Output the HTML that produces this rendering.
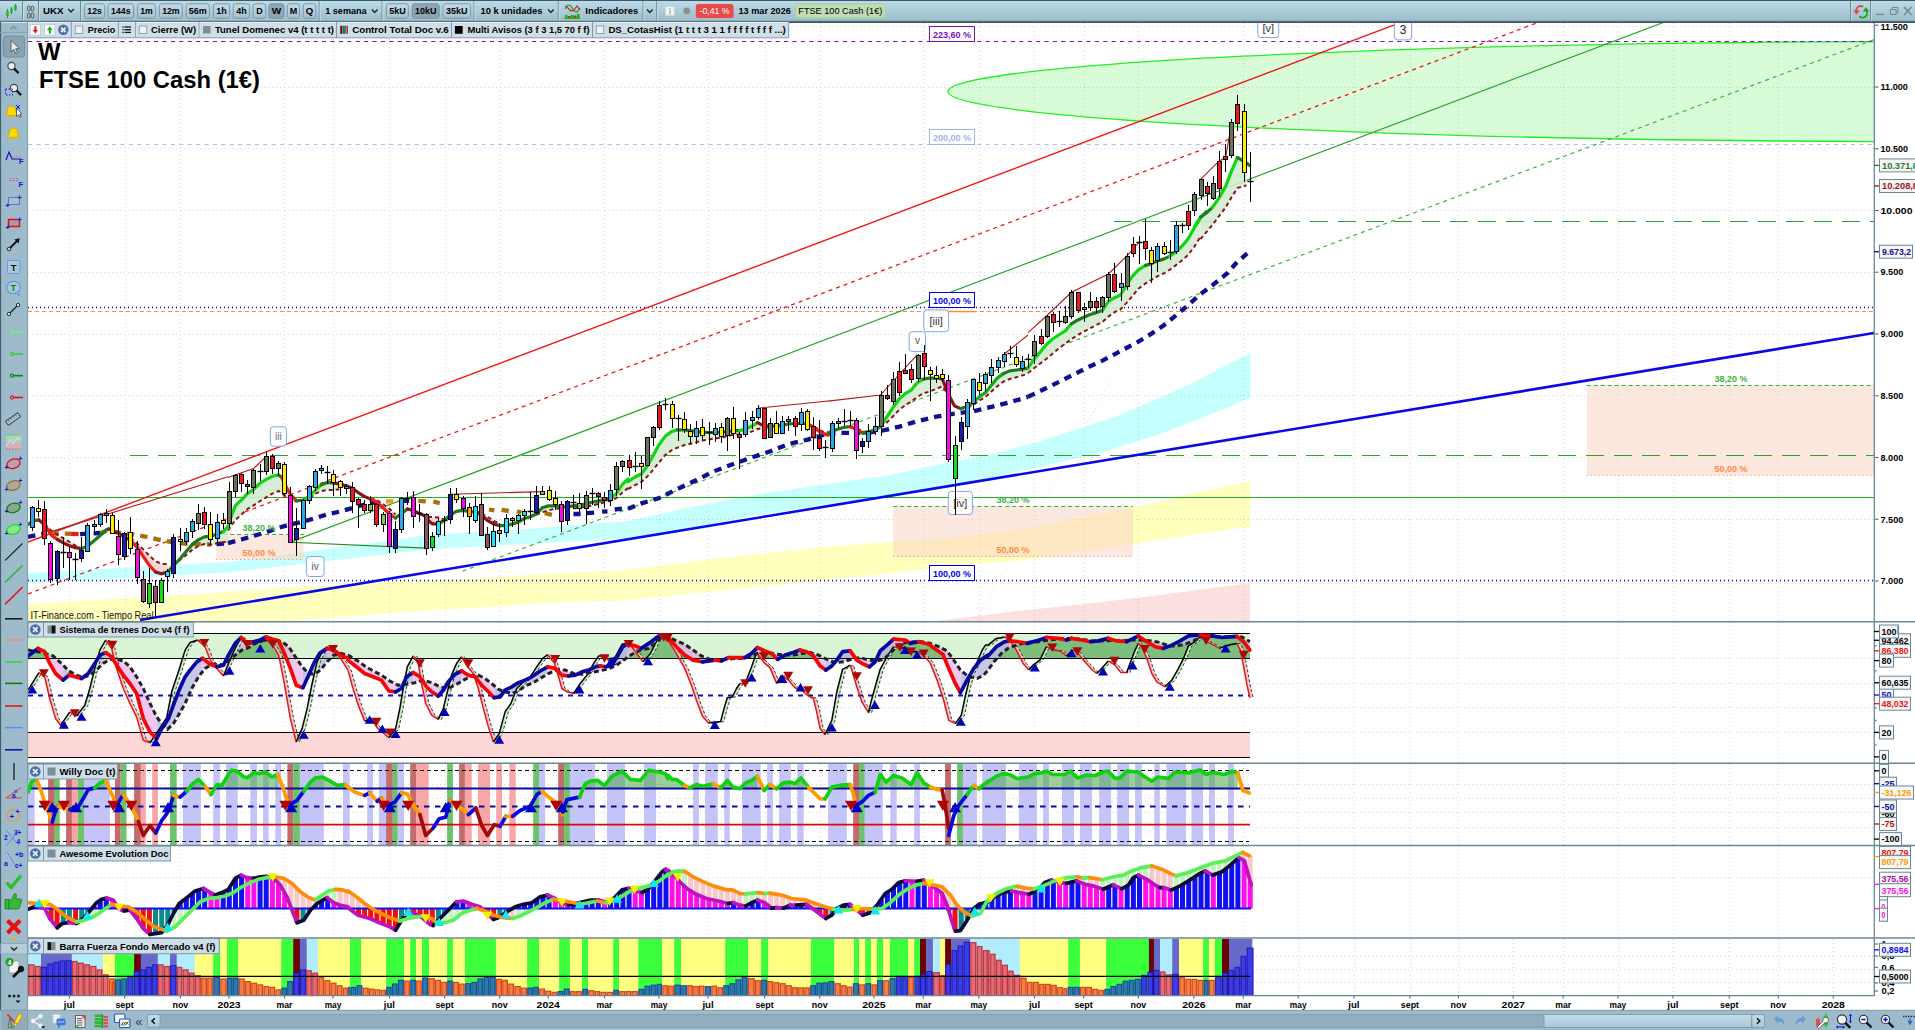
<!DOCTYPE html>
<html lang="es"><head><meta charset="utf-8"><title>FTSE 100 Cash (1€) - W</title>
<style>html,body{margin:0;padding:0;background:#fff;overflow:hidden}body{width:1915px;height:1030px}svg{display:block;font-family:"Liberation Sans",sans-serif}text{white-space:pre}</style></head><body>
<svg width="1915" height="1030" viewBox="0 0 1915 1030">
<defs>
<linearGradient id="gtop" x1="0" y1="0" x2="0" y2="1"><stop offset="0" stop-color="#bddce9"/><stop offset="0.5" stop-color="#aecddb"/><stop offset="1" stop-color="#9ebdca"/></linearGradient>
<linearGradient id="gbtn" x1="0" y1="0" x2="0" y2="1"><stop offset="0" stop-color="#c3dbe7"/><stop offset="1" stop-color="#a4c2d1"/></linearGradient>
<linearGradient id="gthumb" x1="0" y1="0" x2="0" y2="1"><stop offset="0" stop-color="#c6dde9"/><stop offset="1" stop-color="#a9c6d5"/></linearGradient>
<clipPath id="cmain"><rect x="28" y="23" width="1846" height="598.5"/></clipPath>
<clipPath id="cp1"><rect x="28" y="622" width="1846" height="141"/></clipPath>
<clipPath id="cp2"><rect x="28" y="764" width="1846" height="81.5"/></clipPath>
<clipPath id="cp3"><rect x="28" y="846" width="1846" height="92"/></clipPath>
<clipPath id="cp4"><rect x="28" y="938.5" width="1846" height="57"/></clipPath>
</defs>
<rect x="0" y="0" width="1915" height="1030" fill="#ffffff" />
<g clip-path="url(#cmain)">
<polygon points="28,572.9 128,567.5 228,562 328,549 428,535 528,529 628,521 687,508 754,495 821,485 887,475.4 960,460.4 998.8,452.6 1037.7,441.9 1076.5,429.3 1115.3,416.7 1154.2,400.2 1193,382.7 1231.8,362.3 1250.5,353.6 1250.5,397.3 1231.8,406 1193,421.6 1154.2,436.1 1115.3,447.8 1096,454.6 1076.5,458.4 1037.7,467.2 998.8,475.9 960,484.7 887,495.4 821,505.5 754,515.5 687,529 628,538.5 528,544 428,549.6 328,561 228,572.5 128,578 28,582.7" fill="#c0fffe" stroke="none" stroke-width="1" fill-opacity="0.92"/>
<polygon points="28,604 95,600 162,596 229,591.7 295,587 362,583.6 429,580.3 496,577 563,573 620,570.6 687,562.3 754,554.6 821,547.2 887,542.2 960,537.1 998.8,532.2 1037.7,526.4 1076.5,518.6 1154.2,503.1 1193,493.4 1231.8,484.7 1250.5,481.7 1250,527 1222,530.5 1155,540.6 1088,550.6 1021,560.6 954,565.6 887,574 821,580.7 754,587.3 687,594 620,600.7 563,602 496,606.4 429,610.4 362,615.4 295,620.4 28,640" fill="#ffffb8" stroke="none" stroke-width="1" fill-opacity="0.92"/>
<polygon points="927.5,622 1021,610.7 1088,603.4 1155,595.7 1222,586.7 1250,583.3 1250,625 927.5,625" fill="#fcdcdc" stroke="none" stroke-width="1" fill-opacity="0.9"/>
<ellipse cx="1957" cy="91.6" rx="1009" ry="50.1" fill="#d6fcd6" fill-opacity="0.95" stroke="#22ee22" stroke-width="1.3"/>
<line x1="69.5" y1="23" x2="69.5" y2="621.5" stroke="#707070" stroke-width="1" stroke-dasharray="1,3" stroke-opacity="0.27"/>
<line x1="125.5" y1="23" x2="125.5" y2="621.5" stroke="#707070" stroke-width="1" stroke-dasharray="1,3" stroke-opacity="0.27"/>
<line x1="180.5" y1="23" x2="180.5" y2="621.5" stroke="#707070" stroke-width="1" stroke-dasharray="1,3" stroke-opacity="0.27"/>
<line x1="284.5" y1="23" x2="284.5" y2="621.5" stroke="#707070" stroke-width="1" stroke-dasharray="1,3" stroke-opacity="0.27"/>
<line x1="333.5" y1="23" x2="333.5" y2="621.5" stroke="#707070" stroke-width="1" stroke-dasharray="1,3" stroke-opacity="0.27"/>
<line x1="389.5" y1="23" x2="389.5" y2="621.5" stroke="#707070" stroke-width="1" stroke-dasharray="1,3" stroke-opacity="0.27"/>
<line x1="445.5" y1="23" x2="445.5" y2="621.5" stroke="#707070" stroke-width="1" stroke-dasharray="1,3" stroke-opacity="0.27"/>
<line x1="500.5" y1="23" x2="500.5" y2="621.5" stroke="#707070" stroke-width="1" stroke-dasharray="1,3" stroke-opacity="0.27"/>
<line x1="604.5" y1="23" x2="604.5" y2="621.5" stroke="#707070" stroke-width="1" stroke-dasharray="1,3" stroke-opacity="0.27"/>
<line x1="659.5" y1="23" x2="659.5" y2="621.5" stroke="#707070" stroke-width="1" stroke-dasharray="1,3" stroke-opacity="0.27"/>
<line x1="708.5" y1="23" x2="708.5" y2="621.5" stroke="#707070" stroke-width="1" stroke-dasharray="1,3" stroke-opacity="0.27"/>
<line x1="765.5" y1="23" x2="765.5" y2="621.5" stroke="#707070" stroke-width="1" stroke-dasharray="1,3" stroke-opacity="0.27"/>
<line x1="820.5" y1="23" x2="820.5" y2="621.5" stroke="#707070" stroke-width="1" stroke-dasharray="1,3" stroke-opacity="0.27"/>
<line x1="923.5" y1="23" x2="923.5" y2="621.5" stroke="#707070" stroke-width="1" stroke-dasharray="1,3" stroke-opacity="0.27"/>
<line x1="979.5" y1="23" x2="979.5" y2="621.5" stroke="#707070" stroke-width="1" stroke-dasharray="1,3" stroke-opacity="0.27"/>
<line x1="1034.5" y1="23" x2="1034.5" y2="621.5" stroke="#707070" stroke-width="1" stroke-dasharray="1,3" stroke-opacity="0.27"/>
<line x1="1084.5" y1="23" x2="1084.5" y2="621.5" stroke="#707070" stroke-width="1" stroke-dasharray="1,3" stroke-opacity="0.27"/>
<line x1="1138.5" y1="23" x2="1138.5" y2="621.5" stroke="#707070" stroke-width="1" stroke-dasharray="1,3" stroke-opacity="0.27"/>
<line x1="1243.5" y1="23" x2="1243.5" y2="621.5" stroke="#707070" stroke-width="1" stroke-dasharray="1,3" stroke-opacity="0.27"/>
<line x1="1298.5" y1="23" x2="1298.5" y2="621.5" stroke="#707070" stroke-width="1" stroke-dasharray="1,3" stroke-opacity="0.27"/>
<line x1="1354.5" y1="23" x2="1354.5" y2="621.5" stroke="#707070" stroke-width="1" stroke-dasharray="1,3" stroke-opacity="0.27"/>
<line x1="1410.5" y1="23" x2="1410.5" y2="621.5" stroke="#707070" stroke-width="1" stroke-dasharray="1,3" stroke-opacity="0.27"/>
<line x1="1458.5" y1="23" x2="1458.5" y2="621.5" stroke="#707070" stroke-width="1" stroke-dasharray="1,3" stroke-opacity="0.27"/>
<line x1="1563.5" y1="23" x2="1563.5" y2="621.5" stroke="#707070" stroke-width="1" stroke-dasharray="1,3" stroke-opacity="0.27"/>
<line x1="1618.5" y1="23" x2="1618.5" y2="621.5" stroke="#707070" stroke-width="1" stroke-dasharray="1,3" stroke-opacity="0.27"/>
<line x1="1673.5" y1="23" x2="1673.5" y2="621.5" stroke="#707070" stroke-width="1" stroke-dasharray="1,3" stroke-opacity="0.27"/>
<line x1="1729.5" y1="23" x2="1729.5" y2="621.5" stroke="#707070" stroke-width="1" stroke-dasharray="1,3" stroke-opacity="0.27"/>
<line x1="1778.5" y1="23" x2="1778.5" y2="621.5" stroke="#707070" stroke-width="1" stroke-dasharray="1,3" stroke-opacity="0.27"/>
<line x1="28" y1="581.5" x2="1874" y2="581.5" stroke="#707070" stroke-width="1" stroke-dasharray="1,3" stroke-opacity="0.27"/>
<line x1="28" y1="519.5" x2="1874" y2="519.5" stroke="#707070" stroke-width="1" stroke-dasharray="1,3" stroke-opacity="0.27"/>
<line x1="28" y1="457.5" x2="1874" y2="457.5" stroke="#707070" stroke-width="1" stroke-dasharray="1,3" stroke-opacity="0.27"/>
<line x1="28" y1="395.5" x2="1874" y2="395.5" stroke="#707070" stroke-width="1" stroke-dasharray="1,3" stroke-opacity="0.27"/>
<line x1="28" y1="334.5" x2="1874" y2="334.5" stroke="#707070" stroke-width="1" stroke-dasharray="1,3" stroke-opacity="0.27"/>
<line x1="28" y1="272.5" x2="1874" y2="272.5" stroke="#707070" stroke-width="1" stroke-dasharray="1,3" stroke-opacity="0.27"/>
<line x1="28" y1="210.5" x2="1874" y2="210.5" stroke="#707070" stroke-width="1" stroke-dasharray="1,3" stroke-opacity="0.27"/>
<line x1="28" y1="148.5" x2="1874" y2="148.5" stroke="#707070" stroke-width="1" stroke-dasharray="1,3" stroke-opacity="0.27"/>
<line x1="28" y1="87.5" x2="1874" y2="87.5" stroke="#707070" stroke-width="1" stroke-dasharray="1,3" stroke-opacity="0.27"/>
<line x1="28" y1="26.5" x2="1874" y2="26.5" stroke="#707070" stroke-width="1" stroke-dasharray="1,3" stroke-opacity="0.27"/>
<rect x="216.2" y="534.4" width="87.5" height="25.1" fill="#fbd5c5" fill-opacity="0.55"/>
<rect x="893.2" y="506.4" width="239.7" height="50.3" fill="#fbd5c5" fill-opacity="0.55"/>
<rect x="1586.7" y="385.3" width="287.3" height="89.9" fill="#fbd5c5" fill-opacity="0.55"/>
<line x1="216.2" y1="534.5" x2="303.7" y2="534.5" stroke="#2db52d" stroke-width="1" stroke-dasharray="4,3" />
<line x1="216.2" y1="559.5" x2="303.7" y2="559.5" stroke="#ff8040" stroke-width="1" stroke-dasharray="1,3" />
<line x1="893.2" y1="506.5" x2="1132.9" y2="506.5" stroke="#2db52d" stroke-width="1" stroke-dasharray="4,3" />
<line x1="893.2" y1="556.5" x2="1132.9" y2="556.5" stroke="#ff8040" stroke-width="1" stroke-dasharray="1,3" />
<line x1="1586.7" y1="385.5" x2="1874" y2="385.5" stroke="#2db52d" stroke-width="1" stroke-dasharray="4,3" />
<line x1="1586.7" y1="475.5" x2="1874" y2="475.5" stroke="#ff8040" stroke-width="1" stroke-dasharray="1,3" />
<line x1="975.2" y1="621.5" x2="1116" y2="372" stroke="#dedede" stroke-width="1" stroke-dasharray="1,3" />
<line x1="28" y1="41.5" x2="1874" y2="41.5" stroke="#7a0fc0" stroke-width="1.1" stroke-dasharray="4.2,4.2" />
<line x1="28" y1="144.5" x2="1874" y2="144.5" stroke="#a9c1f5" stroke-width="1.1" stroke-dasharray="4.2,4.2" />
<line x1="1114" y1="221.5" x2="1874" y2="221.5" stroke="#2aa52a" stroke-width="1.1" stroke-dasharray="18,10" />
<line x1="28" y1="307.5" x2="1874" y2="307.5" stroke="#0000ee" stroke-width="1.3" stroke-dasharray="1,3" />
<line x1="28" y1="311.5" x2="1874" y2="311.5" stroke="#ff8a3c" stroke-width="1.1" stroke-dasharray="4,3" />
<line x1="130" y1="455.5" x2="1874" y2="455.5" stroke="#2aa52a" stroke-width="1.1" stroke-dasharray="18,10" />
<line x1="28" y1="497.5" x2="1874" y2="497.5" stroke="#22aa22" stroke-width="1.2" />
<line x1="28" y1="580.5" x2="1874" y2="580.5" stroke="#0000ee" stroke-width="1.3" stroke-dasharray="1,3" />
<line x1="929" y1="311.5" x2="975" y2="311.5" stroke="#ff8a3c" stroke-width="1.4" />
<line x1="28" y1="542" x2="1395" y2="24.6" stroke="#f01818" stroke-width="1.4" />
<line x1="28" y1="594" x2="1560" y2="14.1" stroke="#f01818" stroke-width="1.3" stroke-dasharray="4,4" />
<line x1="290.4" y1="542.1" x2="1700" y2="8.6" stroke="#2aa52a" stroke-width="1.2" />
<line x1="462.5" y1="571.2" x2="1874" y2="39.6" stroke="#3cb43c" stroke-width="1.2" stroke-dasharray="4,4" />
<line x1="140" y1="620" x2="1874" y2="333" stroke="#0a0ae6" stroke-width="2.6" />
<polyline points="51.3,531.6 228,476.8" fill="none" stroke="#b01818" stroke-width="1.1" />
<polyline points="228,477.6 253.5,468.6 266.2,456.4" fill="none" stroke="#b01818" stroke-width="1.1" />
<polyline points="450.4,494.3 542.4,491.6" fill="none" stroke="#b01818" stroke-width="1.1" />
<polyline points="757.6,408.2 828,401" fill="none" stroke="#b01818" stroke-width="1.1" />
<polyline points="828,401.1 880.4,395.1 917.4,354.7" fill="none" stroke="#b01818" stroke-width="1.1" />
<polyline points="1003.4,354.7 1028,335" fill="none" stroke="#b01818" stroke-width="1.1" />
<polyline points="1028,332.7 1046.5,316 1071.4,292.3 1108.4,274 1126.4,256.4 1138.4,243" fill="none" stroke="#b01818" stroke-width="1.1" />
<polyline points="1200.6,179.4 1218.6,161.4 1225.6,157.6 1231.7,122.6" fill="none" stroke="#b01818" stroke-width="1.1" />
<polyline points="290.5,542.2 425.5,548.1" fill="none" stroke="#1e8c1e" stroke-width="1.1" />
<polygon points="44.5,524.4 46.1,526.8 47.6,529.2 49.1,531.7 50.7,534.1 52.2,535.8 53.8,536.9 55.3,538 56.8,539.1 58.4,540.1 59.9,541 61.5,541.8 63,542.7 64.5,543.5 66.1,544.3 67.6,545 69.2,545.7 70.7,546.2 72.3,546.7 73.8,547.2 75.3,547.6 76.9,547.9 78.4,548.2 80,548.4 81.5,548.6 81.5,548.4 75.6,545.6 69.7,542 63.9,538.7 57.6,534.8 51.3,530.7 44.5,524" fill="#f9d2d2" stroke="none" stroke-width="1" fill-opacity="0.9"/>
<polygon points="130.5,540.5 132.1,542.1 133.6,543.7 135.2,545.3 136.7,546.9 138.3,548.8 139.8,551.2 141.4,553.5 142.9,555.9 144.4,558.2 146,560.5 147.5,562.7 149.1,565 150.6,566.8 152.2,568.4 153.7,570 155.3,571.6 156.8,572.3 158.4,572.8 159.9,573.3 161.5,573.7 163,573.3 164.6,572.8 166.1,572.4 167.7,572 167.7,563.9 161.4,563.9 155.6,561.2 149.5,555.8 143.4,549.5 137.5,544.1 130.5,537.8" fill="#f9d2d2" stroke="none" stroke-width="1" fill-opacity="0.9"/>
<polygon points="173.4,565.7 175.7,563.3 178,561 180.2,558.7 182.5,556 184.8,553.2 187.1,550.5 189.3,547.9 191.6,545.3 193.9,543.2 196.2,541.5 198.4,539.7 200.7,538.7 203,537.6 205.3,536.8 207.5,536.5 209.8,536.2 212.1,535.6 214.4,534.9 216.6,534.2 218.9,533.3 221.2,532.4 223.5,531.4 225.7,528.8 228,526.2 228,541.4 223.3,542.3 216.5,543.2 210.6,545 204.5,544.1 198.6,545.9 192.6,549.5 186.3,554.9 180.4,559.4 173.4,565.7" fill="#d2ecd0" stroke="none" stroke-width="1" fill-opacity="0.9"/>
<polygon points="228,526.2 230.9,517.1 233.7,510 236.6,504.5 239.4,501.9 242.3,499.1 245.1,496.1 248,493.3 250.9,491.2 253.7,489 256.6,486.4 259.4,483.8 262.3,481.8 265.1,480 268,478.5 270.9,477.1 273.7,476 276.6,475.4 279.4,475.6 282.3,478.6 285.2,484.9 288,490.1 290.9,495 293.7,498 296.6,500.9 296.6,501.8 290.5,498.2 284.6,495.5 278.6,491 272.3,493.7 266.2,497.3 260.3,500.9 253.5,505.4 247.4,509 241.5,514.4 235.5,519.8 228,530.5" fill="#d2ecd0" stroke="none" stroke-width="1" fill-opacity="0.9"/>
<polygon points="303.4,500 304.9,499.1 306.4,498.2 307.9,497.3 309.4,496.4 310.9,494.8 312.4,493.3 313.9,491.7 315.4,490.2 316.9,488.8 318.4,487.5 319.9,486.1 321.4,484.8 322.9,484.2 324.3,483.6 325.8,483 327.3,482.4 328.8,482.6 330.3,482.7 331.8,482.8 333.3,483 334.8,483.2 336.3,483.4 337.8,483.6 339.3,483.9 339.3,489.2 333.4,490.1 327.3,490.1 321.4,491 315.4,493.7 309.3,498.2 303.4,500.9" fill="#d2ecd0" stroke="none" stroke-width="1" fill-opacity="0.9"/>
<polygon points="370.4,499.1 371.4,499.6 372.5,500 373.5,500.5 374.6,501 375.6,501.4 376.7,502 377.7,502.9 378.7,503.9 379.8,504.8 380.8,505.8 381.9,506.7 382.9,507.7 384,508.8 385,509.8 386.1,510.9 387.1,511.9 388.2,513 389.2,514 390.3,514.8 391.3,515.4 392.4,516.1 393.4,516.7 394.5,517.3 395.5,518 395.5,514.4 389.6,509 382.4,503.6 376.5,500 370.4,498.2" fill="#f9d2d2" stroke="none" stroke-width="1" fill-opacity="0.9"/>
<polygon points="428,518 428.7,518.9 429.4,519.8 430.1,520.7 430.8,521.6 431.4,522.5 432.1,523.4 432.8,523.9 433.5,523.9 434.2,523.9 434.9,523.9 435.6,523.9 436.3,523.9 436.9,523.9 437.6,523.9 438.3,523.9 439,523.5 439.7,523.1 440.4,522.7 441.1,522.3 441.8,521.9 442.5,521.5 443.1,521.1 443.8,520.7 444.5,520.3 444.5,519.4 438.4,517.6 428,516.7" fill="#f9d2d2" stroke="none" stroke-width="1" fill-opacity="0.9"/>
<polygon points="475.2,512.2 476.2,512.7 477.2,513.1 478.2,513.5 479.3,514 480.3,514.4 481.3,514.9 482.3,515.8 483.3,516.7 484.3,517.6 485.3,518.5 486.3,519.5 487.3,520.3 488.3,520.9 489.4,521.5 490.4,522.1 491.4,522.6 492.4,523.2 493.4,523.8 494.4,524.1 495.4,524.4 496.4,524.8 497.4,525.1 498.4,525.4 499.5,525.7 499.5,523.9 493.5,520.6 487.2,516.7 481.3,513.1 475.2,511.3" fill="#f9d2d2" stroke="none" stroke-width="1" fill-opacity="0.9"/>
<polygon points="536.3,514 537.3,512.9 538.4,511.8 539.4,510.8 540.4,509.7 541.5,508.6 542.5,507.7 543.6,507.3 544.6,507 545.7,506.7 546.7,506.4 547.8,506.1 548.8,505.9 549.9,505.9 550.9,505.9 552,505.9 553,505.9 554.1,505.9 555.1,505.9 556.2,506 557.2,506.2 558.3,506.3 559.3,506.5 560.3,506.7 561.4,506.8 561.4,508.6 555.5,508.6 548.3,510.4 542.4,512.2 536.3,514.9" fill="#d2ecd0" stroke="none" stroke-width="1" fill-opacity="0.9"/>
<polygon points="573.4,505.9 575.7,505.6 578,505.2 580.2,504.9 582.5,504.6 584.8,504.2 587.1,503.6 589.3,503 591.6,502.3 593.9,501.8 596.2,501.4 598.4,500.9 600.7,500.4 603,500 605.3,499.5 607.5,499.2 609.8,498.9 612.1,497.4 614.4,495.3 616.6,493.2 618.9,489.7 621.2,486.3 623.5,483.4 625.7,481.2 628,479 628,488 622.4,492.5 616.5,497.8 610.6,500.9 604.5,502.3 598.6,503.8 591.4,505.6 585.5,506.8 579.3,507.7 573.4,508.6" fill="#d2ecd0" stroke="none" stroke-width="1" fill-opacity="0.9"/>
<polygon points="628,479 633.9,477.5 639.9,474.6 645.8,467.8 651.7,458 657.7,447.3 663.6,438.4 669.5,433 675.5,430.3 681.4,429.8 687.3,430.2 693.3,431.1 699.2,431.8 705.1,432.3 711,432.5 717,432.3 722.9,432 728.8,431.3 734.8,430.7 740.7,430.3 746.6,428.4 752.6,425.6 758.5,423 764.4,426.2 770.4,426.2 770.4,428.3 764.4,428 757.6,428.9 751.5,431.6 745.6,433.4 739.3,434.3 733.4,434.8 727.3,436.1 721.4,437.8 714.5,438.4 708.4,439.6 702.5,440.5 696.6,442.3 690.5,443.8 684.6,445 677.4,447.7 671.4,450.4 665.3,454.9 659.4,462.1 653.5,469.3 647.4,476.4 641.5,481.8 634.6,485.4 628,489" fill="#d2ecd0" stroke="none" stroke-width="1" fill-opacity="0.9"/>
<polygon points="807.5,423.5 808.3,423.9 809,424.4 809.8,424.8 810.5,425.3 811.3,425.7 812,426.2 812.8,426.7 813.5,427.1 814.3,427.7 815,428.2 815.8,428.8 816.5,429.3 817.3,429.9 818,430.4 818.8,431 819.5,431.5 820.3,431.9 821,432.2 821.7,432.6 822.5,432.9 823.2,433.2 824,433.6 824.7,433.9 825.5,434.3 825.5,433 819.6,429.8 813.5,426.2 807.5,424.4" fill="#f9d2d2" stroke="none" stroke-width="1" fill-opacity="0.9"/>
<polygon points="850.4,426.6 850.9,426.8 851.4,427 851.9,427.2 852.4,427.5 852.9,427.7 853.4,427.9 854,428.2 854.5,428.4 855,428.6 855.5,428.8 856,429.1 856.5,429.3 857,429.6 857.5,429.9 858,430.2 858.5,430.5 859,430.8 859.5,431.1 860,431.4 860.5,431.7 861,432 861.5,432.3 862,432.6 862.5,432.8 862.5,431.1 856.4,428.4 850.4,427.5" fill="#f9d2d2" stroke="none" stroke-width="1" fill-opacity="0.9"/>
<polygon points="880.4,426.6 886.6,417.2 892.7,408 898.9,399.5 905,393.8 911.2,389.9 917.3,382.7 923.5,379 929.6,378.1 935.8,378.1 941.9,378.9 948.1,393.7 954.2,405.2 960.4,408.5 966.5,406.8 972.7,402.8 978.8,397.4 985,392.8 991.1,385.6 997.3,378.1 1003.4,373.6 1009.6,371 1015.7,370.1 1021.9,369.2 1028,368.2 1028,373.6 1022.4,375.4 1016.5,377.2 1009.7,379 1003.4,381.7 997.3,386.2 991.4,391.6 985.5,396.9 979.3,400.5 973.4,405 966.6,407.7 960.5,408.6 954.6,405.9 948.3,395.1 942.4,386.2 936.3,388.9 929.4,391.6 923.5,393.3 917.4,396.9 911.5,401.4 905.6,405 899.5,409.5 893.5,415.8 886.3,423 880.4,426.6" fill="#d2ecd0" stroke="none" stroke-width="1" fill-opacity="0.9"/>
<polygon points="1028,368.2 1035.2,358.1 1042.4,349.4 1049.5,341.7 1056.7,336.3 1063.9,331.8 1071.1,324.2 1078.3,319.8 1085.5,316.5 1092.6,313.8 1099.8,311.3 1107,303.5 1114.2,297.9 1121.4,293.5 1128.5,282 1135.7,272.7 1142.9,267.1 1150.1,264 1157.3,261.1 1164.4,258.7 1171.6,254.8 1178.8,249 1186,241.3 1193.2,229.9 1200.4,217.8 1200.4,236.7 1194.4,246.6 1188.3,254.6 1182.4,260 1175.6,265.4 1169.5,269.9 1163.5,273.5 1157.6,276.2 1151.5,279.8 1145.6,283.4 1138.4,288.7 1132.5,295.9 1126.4,303.1 1120.5,309.4 1114.5,312.1 1108.4,316.6 1102.5,322 1095.3,325.5 1083.3,331.8 1071.4,339 1059.4,348 1046.5,358.8 1034.6,367.7 1028,373.1" fill="#d2ecd0" stroke="none" stroke-width="1" fill-opacity="0.9"/>
<polygon points="1200.4,217.8 1202.3,215.8 1204.2,213.7 1206.2,211.7 1208.1,211.4 1210,209.6 1211.9,207.9 1213.8,205.4 1215.8,202.6 1217.7,199.9 1219.6,196.8 1221.5,193.4 1223.5,190.1 1225.4,186.7 1227.3,181.9 1229.2,177 1231.2,172 1233.1,167.5 1235,163.1 1236.9,158.7 1238.8,158.4 1240.8,159.5 1242.7,160.5 1244.6,161.8 1246.5,163.2 1246.5,185.5 1243.6,186 1237.4,188.1 1231.7,196.9 1225.6,207.4 1212.4,224.9 1200.4,239.2" fill="#d2ecd0" stroke="none" stroke-width="1" fill-opacity="0.9"/>
<polyline points="28,536.9 38.8,534.6 44.5,533.7" fill="none" stroke="#101090" stroke-width="4.3" stroke-dasharray="7.5,6" />
<polyline points="51.3,533.4 63.9,533.7 71.1,533.9" fill="none" stroke="#a8700a" stroke-width="4.3" stroke-dasharray="7.5,6" />
<polyline points="71.1,533.9 80.1,534.1" fill="none" stroke="#e02020" stroke-width="4.3" stroke-dasharray="7.5,6" />
<polyline points="80.1,534.1 87.6,533.7 100.4,533" fill="none" stroke="#101090" stroke-width="4.3" stroke-dasharray="7.5,6" />
<polyline points="100.4,533 106.5,530.7 112.4,531.6 124.4,533.4 137.5,535.2 149.5,537.5 161.4,540.2 173.4,542.3 186.3,543.8 198.6,544.1 210.6,544.5" fill="none" stroke="#a8700a" stroke-width="4.3" stroke-dasharray="7.5,6" />
<polyline points="216.5,544.1 228,543.2" fill="none" stroke="#101090" stroke-width="4.3" stroke-dasharray="7.5,6" />
<polyline points="228,543.1 241.5,539.5 253.5,535.9 266.2,532.3 278.6,527.8 290.5,524.3 303.4,521.6 315.4,518 327.3,514.4 339.3,511.7 352.2,508.1 364.4,504.5 376.5,501.8" fill="none" stroke="#101090" stroke-width="4.3" stroke-dasharray="7.5,6" />
<polyline points="386,501.5 401.6,500.9" fill="none" stroke="#e8a020" stroke-width="4.3" stroke-dasharray="7.5,6" />
<polyline points="401.6,500.9 413.5,500.9" fill="none" stroke="#101090" stroke-width="4.3" stroke-dasharray="7.5,6" />
<polyline points="418.3,500.9 428,501.5" fill="none" stroke="#a8700a" stroke-width="4.3" stroke-dasharray="7.5,6" />
<polyline points="433.4,501.4 439.7,503.2" fill="none" stroke="#a8700a" stroke-width="4.3" stroke-dasharray="7.5,6" />
<polyline points="489,509.5 494.4,510.4" fill="none" stroke="#a8700a" stroke-width="4.3" stroke-dasharray="7.5,6" />
<polyline points="501.6,509.9 508.8,511" fill="none" stroke="#a8700a" stroke-width="4.3" stroke-dasharray="7.5,6" />
<polyline points="516.9,511.3 521.4,512.7" fill="none" stroke="#a8700a" stroke-width="4.3" stroke-dasharray="7.5,6" />
<polyline points="544.7,513.1 551.9,514.9" fill="none" stroke="#a8700a" stroke-width="4.3" stroke-dasharray="7.5,6" />
<polyline points="573.4,514 580.6,514" fill="none" stroke="#101090" stroke-width="4.3" stroke-dasharray="7.5,6" />
<polyline points="586.9,513.1 594.1,512.7" fill="none" stroke="#101090" stroke-width="4.3" stroke-dasharray="7.5,6" />
<polyline points="602.1,511.7 607.5,511.3" fill="none" stroke="#101090" stroke-width="4.3" stroke-dasharray="7.5,6" />
<polyline points="614.7,509.5 621.9,508.6" fill="none" stroke="#101090" stroke-width="4.3" stroke-dasharray="7.5,6" />
<polyline points="628,508.8 641.5,503.4 659.4,498 677.4,489 696.6,480 714.5,471.1 733.4,463.9 751.5,457.6 770.4,451.3 788.3,444.1 807.5,439.6 819.6,436.1 828,433.4" fill="none" stroke="#101090" stroke-width="4.3" stroke-dasharray="7.5,6" />
<polyline points="828,433.7 843.6,432.8 860.3,432.8" fill="none" stroke="#101090" stroke-width="4.3" stroke-dasharray="7.5,6" />
<polyline points="862.1,432.8 866.6,432.8" fill="none" stroke="#a8700a" stroke-width="4.3" stroke-dasharray="7.5,6" />
<polyline points="868.4,432.5 880.4,431.1 899.5,426.6 917.4,421.2 936.3,416.7 954.6,413.6 973.4,411.3 991.4,406.8 1009.7,402.3 1028,396.9" fill="none" stroke="#101090" stroke-width="4.3" stroke-dasharray="7.5,6" />
<polyline points="1028,396.8 1051.3,385.7 1074.7,374 1089,366.8 1102.5,360.6 1114.5,354.3 1126.4,348 1138.4,341.7 1151.5,333.6 1163.5,325.5 1175.6,315.7 1188.3,304.9 1200.4,294.1 1212.4,285.2 1223.7,276.2 1228,272.6 1235.2,264.1 1249.7,251" fill="none" stroke="#101090" stroke-width="4.3" stroke-dasharray="7.5,6" />
<polyline points="44.5,524 51.3,530.7 57.6,534.8 63.9,538.7 69.7,542 75.6,545.6 81.5,548.4" fill="none" stroke="#8c1414" stroke-width="2" stroke-dasharray="4,3" />
<polyline points="130.5,537.8 137.5,544.1 143.4,549.5 149.5,555.8 155.6,561.2 161.4,563.9 167.7,563.9" fill="none" stroke="#8c1414" stroke-width="2" stroke-dasharray="4,3" />
<polyline points="173.4,565.7 180.4,559.4 186.3,554.9 192.6,549.5 198.6,545.9 204.5,544.1 210.6,545 216.5,543.2 223.3,542.3 228,541.4" fill="none" stroke="#8c1414" stroke-width="2" stroke-dasharray="4,3" />
<polyline points="228,530.5 235.5,519.8 241.5,514.4 247.4,509 253.5,505.4 260.3,500.9 266.2,497.3 272.3,493.7 278.6,491 284.6,495.5 290.5,498.2 296.6,501.8" fill="none" stroke="#8c1414" stroke-width="2" stroke-dasharray="4,3" />
<polyline points="303.4,500.9 309.3,498.2 315.4,493.7 321.4,491 327.3,490.1 333.4,490.1 339.3,489.2" fill="none" stroke="#8c1414" stroke-width="2" stroke-dasharray="4,3" />
<polyline points="370.4,498.2 376.5,500 382.4,503.6 389.6,509 395.5,514.4" fill="none" stroke="#8c1414" stroke-width="2" stroke-dasharray="4,3" />
<polyline points="428,516.7 438.4,517.6 444.5,519.4" fill="none" stroke="#8c1414" stroke-width="2" stroke-dasharray="4,3" />
<polyline points="475.2,511.3 481.3,513.1 487.2,516.7 493.5,520.6 499.5,523.9" fill="none" stroke="#8c1414" stroke-width="2" stroke-dasharray="4,3" />
<polyline points="536.3,514.9 542.4,512.2 548.3,510.4 555.5,508.6 561.4,508.6" fill="none" stroke="#8c1414" stroke-width="2" stroke-dasharray="4,3" />
<polyline points="573.4,508.6 579.3,507.7 585.5,506.8 591.4,505.6 598.6,503.8 604.5,502.3 610.6,500.9 616.5,497.8 622.4,492.5 628,488" fill="none" stroke="#8c1414" stroke-width="2" stroke-dasharray="4,3" />
<polyline points="628,489 634.6,485.4 641.5,481.8 647.4,476.4 653.5,469.3 659.4,462.1 665.3,454.9 671.4,450.4 677.4,447.7 684.6,445 690.5,443.8 696.6,442.3 702.5,440.5 708.4,439.6 714.5,438.4 721.4,437.8 727.3,436.1 733.4,434.8 739.3,434.3 745.6,433.4 751.5,431.6 757.6,428.9 764.4,428 770.4,428.3" fill="none" stroke="#8c1414" stroke-width="2" stroke-dasharray="4,3" />
<polyline points="807.5,424.4 813.5,426.2 819.6,429.8 825.5,433" fill="none" stroke="#8c1414" stroke-width="2" stroke-dasharray="4,3" />
<polyline points="850.4,427.5 856.4,428.4 862.5,431.1" fill="none" stroke="#8c1414" stroke-width="2" stroke-dasharray="4,3" />
<polyline points="880.4,426.6 886.3,423 893.5,415.8 899.5,409.5 905.6,405 911.5,401.4 917.4,396.9 923.5,393.3 929.4,391.6 936.3,388.9 942.4,386.2 948.3,395.1 954.6,405.9 960.5,408.6 966.6,407.7 973.4,405 979.3,400.5 985.5,396.9 991.4,391.6 997.3,386.2 1003.4,381.7 1009.7,379 1016.5,377.2 1022.4,375.4 1028,373.6" fill="none" stroke="#8c1414" stroke-width="2" stroke-dasharray="4,3" />
<polyline points="1028,373.1 1034.6,367.7 1046.5,358.8 1059.4,348 1071.4,339 1083.3,331.8 1095.3,325.5 1102.5,322 1108.4,316.6 1114.5,312.1 1120.5,309.4 1126.4,303.1 1132.5,295.9 1138.4,288.7 1145.6,283.4 1151.5,279.8 1157.6,276.2 1163.5,273.5 1169.5,269.9 1175.6,265.4 1182.4,260 1188.3,254.6 1194.4,246.6 1200.4,236.7" fill="none" stroke="#8c1414" stroke-width="2" stroke-dasharray="4,3" />
<polyline points="1200.4,239.2 1212.4,224.9 1225.6,207.4 1231.7,196.9 1237.4,188.1 1243.6,186 1246.5,185.5" fill="none" stroke="#8c1414" stroke-width="2" stroke-dasharray="4,3" />
<polyline points="28,524.4 33.4,520.8 38.8,519.9" fill="none" stroke="#1d7a1d" stroke-width="3.2" stroke-linejoin="round" stroke-linecap="round"/>
<polyline points="38.8,519.9 44.5,524.4" fill="none" stroke="#8c1414" stroke-width="3.2" stroke-linejoin="round" stroke-linecap="round"/>
<polyline points="44.5,524.4 51.3,535.2 57.6,539.6" fill="none" stroke="#ea1c1c" stroke-width="3.2" stroke-linejoin="round" stroke-linecap="round"/>
<polyline points="57.6,539.6 63.9,543.2 69.7,545.9 75.6,547.7 81.5,548.6" fill="none" stroke="#8c1414" stroke-width="3.2" stroke-linejoin="round" stroke-linecap="round"/>
<polyline points="81.5,548.6 87.6,545.9 94.4,540.5 100.4,535.2 106.5,529.8 108.8,528.9" fill="none" stroke="#1d7a1d" stroke-width="3.2" stroke-linejoin="round" stroke-linecap="round"/>
<polyline points="108.8,528.9 112.4,530.7 118.7,533.4 124.9,536.9 130.5,540.5" fill="none" stroke="#8c1414" stroke-width="3.2" stroke-linejoin="round" stroke-linecap="round"/>
<polyline points="130.5,540.5 137.5,547.7 143.4,556.7 149.5,565.7 155.6,572" fill="none" stroke="#ea1c1c" stroke-width="3.2" stroke-linejoin="round" stroke-linecap="round"/>
<polyline points="155.6,572 161.4,573.8 167.7,572" fill="none" stroke="#8c1414" stroke-width="3.2" stroke-linejoin="round" stroke-linecap="round"/>
<polyline points="167.7,572 173.4,565.7 180.4,558.5 186.3,551.3 192.6,544.1 198.6,539.6 204.5,536.9 210.6,536.1 216.5,534.3 223.3,531.6" fill="none" stroke="#1d7a1d" stroke-width="3.2" stroke-linejoin="round" stroke-linecap="round"/>
<polyline points="223.3,531.6 228,526.2" fill="none" stroke="#12d412" stroke-width="3.2" stroke-linejoin="round" stroke-linecap="round"/>
<polyline points="228,527.8 229.8,519.8 235.5,505.4 241.5,500 247.4,493.7 253.5,489.2 260.3,483 266.2,479.4 272.3,476.3 278.6,474.9" fill="none" stroke="#12d412" stroke-width="3.2" stroke-linejoin="round" stroke-linecap="round"/>
<polyline points="278.6,474.9 281.9,477.6" fill="none" stroke="#1d7a1d" stroke-width="3.2" stroke-linejoin="round" stroke-linecap="round"/>
<polyline points="281.9,477.6 284.6,483.9 290.5,494.6 296.6,500.9" fill="none" stroke="#ea1c1c" stroke-width="3.2" stroke-linejoin="round" stroke-linecap="round"/>
<polyline points="296.6,500.9 303.4,500" fill="none" stroke="#1d7a1d" stroke-width="3.2" stroke-linejoin="round" stroke-linecap="round"/>
<polyline points="303.4,500 309.3,496.4 315.4,490.1 321.4,484.8" fill="none" stroke="#12d412" stroke-width="3.2" stroke-linejoin="round" stroke-linecap="round"/>
<polyline points="321.4,484.8 327.3,482.4 333.4,483" fill="none" stroke="#1d7a1d" stroke-width="3.2" stroke-linejoin="round" stroke-linecap="round"/>
<polyline points="333.4,483 339.3,483.9 346.1,485.7 352.2,488.3 358.5,492.8 364.4,496.4 370.4,499.1" fill="none" stroke="#8c1414" stroke-width="3.2" stroke-linejoin="round" stroke-linecap="round"/>
<polyline points="370.4,499.1 376.5,501.8 382.4,507.2 389.6,514.4 395.5,518" fill="none" stroke="#ea1c1c" stroke-width="3.2" stroke-linejoin="round" stroke-linecap="round"/>
<polyline points="395.5,518 401.6,513.5 407.5,509" fill="none" stroke="#1d7a1d" stroke-width="3.2" stroke-linejoin="round" stroke-linecap="round"/>
<polyline points="407.5,509 413.5,510.8 419.6,513.5 425.5,516.2 428,518" fill="none" stroke="#8c1414" stroke-width="3.2" stroke-linejoin="round" stroke-linecap="round"/>
<polyline points="428,520.3 432.5,523.9 438.4,523.9" fill="none" stroke="#8c1414" stroke-width="3.2" stroke-linejoin="round" stroke-linecap="round"/>
<polyline points="438.4,523.9 444.5,520.3 450.4,514.9 456.4,511.3 462.5,510.4 468.4,511.3 475.2,512.2" fill="none" stroke="#1d7a1d" stroke-width="3.2" stroke-linejoin="round" stroke-linecap="round"/>
<polyline points="475.2,512.2 481.3,514.9 487.2,520.3 493.5,523.9 499.5,525.7" fill="none" stroke="#8c1414" stroke-width="3.2" stroke-linejoin="round" stroke-linecap="round"/>
<polyline points="499.5,525.7 505.6,525.7 512.4,523.9 518.3,522.1 524.4,518.5 530.3,516.7 536.3,514 542.4,507.7 548.3,505.9 555.5,505.9 561.4,506.8 567.5,506.8 573.4,505.9 579.3,505 585.5,504.1 591.4,502.3 598.6,500.9 604.5,499.6 610.6,498.7" fill="none" stroke="#1d7a1d" stroke-width="3.2" stroke-linejoin="round" stroke-linecap="round"/>
<polyline points="610.6,498.7 616.5,493.4 622.4,484.4 628,479" fill="none" stroke="#12d412" stroke-width="3.2" stroke-linejoin="round" stroke-linecap="round"/>
<polyline points="628,481.8 634.6,477.3 641.5,473.8 647.4,465.7 653.5,454.9 659.4,444.1 665.3,436.1 671.4,431.6 677.4,429.8" fill="none" stroke="#12d412" stroke-width="3.2" stroke-linejoin="round" stroke-linecap="round"/>
<polyline points="677.4,429.8 684.6,429.8 690.5,430.7 696.6,431.6 702.5,432.1 708.4,432.5 714.5,432.5 721.4,432.1 727.3,431.6 733.4,430.7 739.3,430.7" fill="none" stroke="#1d7a1d" stroke-width="3.2" stroke-linejoin="round" stroke-linecap="round"/>
<polyline points="739.3,430.7 745.6,428.9 751.5,426.2 757.6,422.6" fill="none" stroke="#12d412" stroke-width="3.2" stroke-linejoin="round" stroke-linecap="round"/>
<polyline points="757.6,422.6 764.4,426.2 770.4,426.2" fill="none" stroke="#8c1414" stroke-width="3.2" stroke-linejoin="round" stroke-linecap="round"/>
<polyline points="770.4,426.2 776.5,426.2 782.4,425.3 788.3,424 794.4,423.5 800.4,423.5 807.5,423.5" fill="none" stroke="#1d7a1d" stroke-width="3.2" stroke-linejoin="round" stroke-linecap="round"/>
<polyline points="807.5,423.5 813.5,427.1 819.6,431.6 825.5,434.3 828,435.2" fill="none" stroke="#ea1c1c" stroke-width="3.2" stroke-linejoin="round" stroke-linecap="round"/>
<polyline points="828,432.8 837.3,429.3 843.6,427.5 850.4,426.6" fill="none" stroke="#1d7a1d" stroke-width="3.2" stroke-linejoin="round" stroke-linecap="round"/>
<polyline points="850.4,426.6 856.4,429.3 862.5,432.8" fill="none" stroke="#ea1c1c" stroke-width="3.2" stroke-linejoin="round" stroke-linecap="round"/>
<polyline points="862.5,432.8 868.4,431.9 874.3,430.2 880.4,426.6" fill="none" stroke="#1d7a1d" stroke-width="3.2" stroke-linejoin="round" stroke-linecap="round"/>
<polyline points="880.4,426.6 886.3,417.6 893.5,406.8 899.5,398.7 905.6,393.3 911.5,389.8 917.4,382.6 923.5,379" fill="none" stroke="#12d412" stroke-width="3.2" stroke-linejoin="round" stroke-linecap="round"/>
<polyline points="923.5,379 929.4,378.1 936.3,378.1 942.4,379" fill="none" stroke="#1d7a1d" stroke-width="3.2" stroke-linejoin="round" stroke-linecap="round"/>
<polyline points="942.4,379 948.3,394.2 954.6,405.9 960.5,408.6" fill="none" stroke="#8c1414" stroke-width="3.2" stroke-linejoin="round" stroke-linecap="round"/>
<polyline points="960.5,408.6 966.6,406.8" fill="none" stroke="#1d7a1d" stroke-width="3.2" stroke-linejoin="round" stroke-linecap="round"/>
<polyline points="966.6,406.8 973.4,402.3 979.3,396.9 985.5,392.5 991.4,385.3 997.3,378.1 1003.4,373.6" fill="none" stroke="#16a816" stroke-width="3.2" stroke-linejoin="round" stroke-linecap="round"/>
<polyline points="1003.4,373.6 1009.7,370.9 1016.5,370 1022.4,369.1 1028,368.2" fill="none" stroke="#1d7a1d" stroke-width="3.2" stroke-linejoin="round" stroke-linecap="round"/>
<polyline points="1028,367.7 1034.6,358.8 1040.6,351.6 1046.5,344.4 1052.6,339 1059.4,334.5 1065.3,330.9 1071.4,323.8" fill="none" stroke="#12d412" stroke-width="3.2" stroke-linejoin="round" stroke-linecap="round"/>
<polyline points="1071.4,323.8 1077.4,320.2 1083.3,317.5 1089.4,314.8 1095.3,313 1102.5,310.3" fill="none" stroke="#1d7a1d" stroke-width="3.2" stroke-linejoin="round" stroke-linecap="round"/>
<polyline points="1102.5,310.3 1108.4,301.3 1114.5,297.7 1120.5,295 1126.4,285.2 1132.5,276.2 1138.4,269.9 1145.6,265.4" fill="none" stroke="#12d412" stroke-width="3.2" stroke-linejoin="round" stroke-linecap="round"/>
<polyline points="1145.6,265.4 1151.5,263.6 1157.6,260.9 1163.5,259.1 1169.5,256.4" fill="none" stroke="#1d7a1d" stroke-width="3.2" stroke-linejoin="round" stroke-linecap="round"/>
<polyline points="1169.5,256.4 1175.6,251.9 1182.4,245.7 1188.3,238.5 1194.4,227.7 1200.4,217.8 1206.3,211.5" fill="none" stroke="#12d412" stroke-width="3.2" stroke-linejoin="round" stroke-linecap="round"/>
<polyline points="1194.4,226.6 1200.6,217" fill="none" stroke="#12d412" stroke-width="3.2" stroke-linejoin="round" stroke-linecap="round"/>
<polyline points="1200.6,217 1206.7,212.6 1212.4,207.4" fill="none" stroke="#1d7a1d" stroke-width="3.2" stroke-linejoin="round" stroke-linecap="round"/>
<polyline points="1212.4,207.4 1218.6,198.6 1225.6,186.4 1231.7,170.7 1237.4,157.6" fill="none" stroke="#12d412" stroke-width="3.2" stroke-linejoin="round" stroke-linecap="round"/>
<polyline points="1237.4,157.6 1243.6,161 1249.7,165.4" fill="none" stroke="#1d7a1d" stroke-width="3.2" stroke-linejoin="round" stroke-linecap="round"/>
<rect x="270.3" y="426.8" width="16.1" height="19.4" fill="#ffffff" stroke="#7ea6f0" stroke-width="1" rx="3" fill-opacity="0.85"/>
<text x="278.4" y="440.1" font-size="10" font-weight="normal" fill="#667" text-anchor="middle" >iii</text>
<rect x="306.4" y="556.5" width="17.7" height="20" fill="#ffffff" stroke="#7ea6f0" stroke-width="1" rx="3" fill-opacity="0.85"/>
<text x="315.2" y="570.1" font-size="10" font-weight="normal" fill="#556" text-anchor="middle" >iv</text>
<rect x="909.2" y="331.7" width="16.3" height="19.7" fill="#ffffff" stroke="#7ea6f0" stroke-width="1" rx="3" fill-opacity="0.85"/>
<text x="917.4" y="344.1" font-size="10" font-weight="normal" fill="#556" text-anchor="middle" >v</text>
<rect x="923.8" y="309.9" width="24.8" height="21.8" fill="#ffffff" stroke="#7ea6f0" stroke-width="1" rx="3" fill-opacity="0.85"/>
<text x="936.2" y="324.8" font-size="11" font-weight="normal" fill="#333" text-anchor="middle" >[iii]</text>
<rect x="948.3" y="491.4" width="24.1" height="23.1" fill="#ffffff" stroke="#7ea6f0" stroke-width="1" rx="3" fill-opacity="0.85"/>
<text x="960.3" y="506.9" font-size="11" font-weight="normal" fill="#333" text-anchor="middle" >[iv]</text>
<rect x="1257.8" y="12" width="20.9" height="25.5" fill="#ffffff" stroke="#7ea6f0" stroke-width="1" rx="3" fill-opacity="0.85"/>
<text x="1268.2" y="31.7" font-size="11" font-weight="normal" fill="#333" text-anchor="middle" >[v]</text>
<rect x="1394.4" y="12" width="17.2" height="27.9" fill="#ffffff" stroke="#7ea6f0" stroke-width="1" rx="3" fill-opacity="0.85"/>
<text x="1403" y="33.8" font-size="12" font-weight="normal" fill="#222" text-anchor="middle" >3</text>
<line x1="32.5" y1="506" x2="32.5" y2="531" stroke="#000" stroke-width="1" />
<rect x="30.5" y="507.5" width="4" height="20" fill="#2ea7e6" stroke="#000" stroke-width="1" />
<line x1="38.5" y1="500" x2="38.5" y2="517" stroke="#000" stroke-width="1" />
<rect x="36.5" y="508.5" width="4" height="3" fill="#ffea00" stroke="#000" stroke-width="1" />
<line x1="44.5" y1="501" x2="44.5" y2="545" stroke="#000" stroke-width="1" />
<rect x="42.5" y="509.5" width="4" height="29" fill="#f0181c" stroke="#000" stroke-width="1" />
<line x1="50.5" y1="541" x2="50.5" y2="583" stroke="#000" stroke-width="1" />
<rect x="48.5" y="543.5" width="4" height="36" fill="#f50fdc" stroke="#000" stroke-width="1" />
<line x1="57.5" y1="550" x2="57.5" y2="585" stroke="#000" stroke-width="1" />
<rect x="55.5" y="551.5" width="4" height="27" fill="#1c1ca6" stroke="#000" stroke-width="1" />
<line x1="63.5" y1="537" x2="63.5" y2="568" stroke="#000" stroke-width="1" />
<line x1="60.5" y1="552.5" x2="66.5" y2="552.5" stroke="#000" stroke-width="1.4" />
<line x1="69.5" y1="546" x2="69.5" y2="580" stroke="#000" stroke-width="1" />
<rect x="67.5" y="552.5" width="4" height="5" fill="#f50fdc" stroke="#000" stroke-width="1" />
<line x1="75.5" y1="553" x2="75.5" y2="580" stroke="#000" stroke-width="1" />
<line x1="72.5" y1="559.5" x2="78.5" y2="559.5" stroke="#000" stroke-width="1.4" />
<line x1="81.5" y1="537" x2="81.5" y2="562" stroke="#000" stroke-width="1" />
<rect x="79.5" y="550.5" width="4" height="8" fill="#1c1ca6" stroke="#000" stroke-width="1" />
<line x1="87.5" y1="523" x2="87.5" y2="552" stroke="#000" stroke-width="1" />
<rect x="85.5" y="525.5" width="4" height="26" fill="#2ea7e6" stroke="#000" stroke-width="1" />
<line x1="94.5" y1="520" x2="94.5" y2="535" stroke="#000" stroke-width="1" />
<rect x="92.5" y="524.5" width="4" height="2" fill="#2ea7e6" stroke="#000" stroke-width="1" />
<line x1="100.5" y1="513" x2="100.5" y2="527" stroke="#000" stroke-width="1" />
<rect x="98.5" y="514.5" width="4" height="10" fill="#2ea7e6" stroke="#000" stroke-width="1" />
<line x1="106.5" y1="509" x2="106.5" y2="523" stroke="#000" stroke-width="1" />
<rect x="104.5" y="513.5" width="4" height="2" fill="#2ea7e6" stroke="#000" stroke-width="1" />
<line x1="112.5" y1="513" x2="112.5" y2="534" stroke="#000" stroke-width="1" />
<rect x="110.5" y="515.5" width="4" height="18" fill="#ffea00" stroke="#000" stroke-width="1" />
<line x1="118.5" y1="520" x2="118.5" y2="565" stroke="#000" stroke-width="1" />
<rect x="116.5" y="536.5" width="4" height="18" fill="#f50fdc" stroke="#000" stroke-width="1" />
<line x1="124.5" y1="532" x2="124.5" y2="560" stroke="#000" stroke-width="1" />
<rect x="122.5" y="533.5" width="4" height="23" fill="#1c1ca6" stroke="#000" stroke-width="1" />
<line x1="130.5" y1="517" x2="130.5" y2="554" stroke="#000" stroke-width="1" />
<rect x="128.5" y="532.5" width="4" height="16" fill="#ffea00" stroke="#000" stroke-width="1" />
<line x1="137.5" y1="541" x2="137.5" y2="584" stroke="#000" stroke-width="1" />
<rect x="135.5" y="549.5" width="4" height="28" fill="#f50fdc" stroke="#000" stroke-width="1" />
<line x1="143.5" y1="571" x2="143.5" y2="603" stroke="#000" stroke-width="1" />
<rect x="141.5" y="579.5" width="4" height="22" fill="#8a5560" stroke="#000" stroke-width="1" />
<line x1="149.5" y1="568" x2="149.5" y2="608" stroke="#000" stroke-width="1" />
<rect x="147.5" y="583.5" width="4" height="20" fill="#12e012" stroke="#000" stroke-width="1" />
<line x1="155.5" y1="580" x2="155.5" y2="617" stroke="#000" stroke-width="1" />
<rect x="153.5" y="586.5" width="4" height="16" fill="#8a5560" stroke="#000" stroke-width="1" />
<line x1="161.5" y1="578" x2="161.5" y2="602" stroke="#000" stroke-width="1" />
<rect x="159.5" y="580.5" width="4" height="22" fill="#12e012" stroke="#000" stroke-width="1" />
<line x1="167.5" y1="569" x2="167.5" y2="592" stroke="#000" stroke-width="1" />
<rect x="165.5" y="571.5" width="4" height="5" fill="#22e2ff" stroke="#000" stroke-width="1" />
<line x1="173.5" y1="534" x2="173.5" y2="578" stroke="#000" stroke-width="1" />
<rect x="171.5" y="537.5" width="4" height="36" fill="#1c1ca6" stroke="#000" stroke-width="1" />
<line x1="180.5" y1="528" x2="180.5" y2="551" stroke="#000" stroke-width="1" />
<rect x="178.5" y="539.5" width="4" height="2" fill="#ffea00" stroke="#000" stroke-width="1" />
<line x1="186.5" y1="528" x2="186.5" y2="545" stroke="#000" stroke-width="1" />
<rect x="184.5" y="532.5" width="4" height="9" fill="#2ea7e6" stroke="#000" stroke-width="1" />
<line x1="192.5" y1="519" x2="192.5" y2="538" stroke="#000" stroke-width="1" />
<rect x="190.5" y="521.5" width="4" height="10" fill="#2ea7e6" stroke="#000" stroke-width="1" />
<line x1="198.5" y1="504" x2="198.5" y2="530" stroke="#000" stroke-width="1" />
<rect x="196.5" y="513.5" width="4" height="10" fill="#66755a" stroke="#000" stroke-width="1" />
<line x1="204.5" y1="507" x2="204.5" y2="529" stroke="#000" stroke-width="1" />
<rect x="202.5" y="512.5" width="4" height="12" fill="#f0181c" stroke="#000" stroke-width="1" />
<line x1="210.5" y1="512" x2="210.5" y2="544" stroke="#000" stroke-width="1" />
<rect x="208.5" y="524.5" width="4" height="15" fill="#ffea00" stroke="#000" stroke-width="1" />
<line x1="217.5" y1="514" x2="217.5" y2="545" stroke="#000" stroke-width="1" />
<rect x="215.5" y="522.5" width="4" height="16" fill="#2ea7e6" stroke="#000" stroke-width="1" />
<line x1="223.5" y1="513" x2="223.5" y2="529" stroke="#000" stroke-width="1" />
<rect x="221.5" y="520.5" width="4" height="3" fill="#ffea00" stroke="#000" stroke-width="1" />
<line x1="229.5" y1="482" x2="229.5" y2="528" stroke="#000" stroke-width="1" />
<rect x="227.5" y="491.5" width="4" height="32" fill="#66755a" stroke="#000" stroke-width="1" />
<line x1="235.5" y1="474" x2="235.5" y2="497" stroke="#000" stroke-width="1" />
<rect x="233.5" y="475.5" width="4" height="16" fill="#66755a" stroke="#000" stroke-width="1" />
<line x1="241.5" y1="473" x2="241.5" y2="492" stroke="#000" stroke-width="1" />
<rect x="239.5" y="474.5" width="4" height="9" fill="#f0181c" stroke="#000" stroke-width="1" />
<line x1="247.5" y1="480" x2="247.5" y2="494" stroke="#000" stroke-width="1" />
<rect x="245.5" y="484.5" width="4" height="2" fill="#f0181c" stroke="#000" stroke-width="1" />
<line x1="253.5" y1="469" x2="253.5" y2="494" stroke="#000" stroke-width="1" />
<rect x="251.5" y="470.5" width="4" height="17" fill="#66755a" stroke="#000" stroke-width="1" />
<line x1="260.5" y1="464" x2="260.5" y2="481" stroke="#000" stroke-width="1" />
<line x1="257.5" y1="471.5" x2="263.5" y2="471.5" stroke="#000" stroke-width="1.4" />
<line x1="266.5" y1="452" x2="266.5" y2="475" stroke="#000" stroke-width="1" />
<rect x="264.5" y="456.5" width="4" height="15" fill="#66755a" stroke="#000" stroke-width="1" />
<line x1="272.5" y1="454" x2="272.5" y2="474" stroke="#000" stroke-width="1" />
<rect x="270.5" y="456.5" width="4" height="12" fill="#f0181c" stroke="#000" stroke-width="1" />
<line x1="278.5" y1="461" x2="278.5" y2="475" stroke="#000" stroke-width="1" />
<rect x="276.5" y="463.5" width="4" height="5" fill="#66755a" stroke="#000" stroke-width="1" />
<line x1="284.5" y1="462" x2="284.5" y2="496" stroke="#000" stroke-width="1" />
<rect x="282.5" y="464.5" width="4" height="29" fill="#ffea00" stroke="#000" stroke-width="1" />
<line x1="290.5" y1="487" x2="290.5" y2="543" stroke="#000" stroke-width="1" />
<rect x="288.5" y="495.5" width="4" height="47" fill="#f50fdc" stroke="#000" stroke-width="1" />
<line x1="296.5" y1="508" x2="296.5" y2="556" stroke="#000" stroke-width="1" />
<rect x="294.5" y="528.5" width="4" height="11" fill="#1c1ca6" stroke="#000" stroke-width="1" />
<line x1="303.5" y1="499" x2="303.5" y2="528" stroke="#000" stroke-width="1" />
<rect x="301.5" y="500.5" width="4" height="28" fill="#2ea7e6" stroke="#000" stroke-width="1" />
<line x1="309.5" y1="485" x2="309.5" y2="504" stroke="#000" stroke-width="1" />
<rect x="307.5" y="486.5" width="4" height="14" fill="#2ea7e6" stroke="#000" stroke-width="1" />
<line x1="315.5" y1="469" x2="315.5" y2="491" stroke="#000" stroke-width="1" />
<rect x="313.5" y="471.5" width="4" height="16" fill="#2ea7e6" stroke="#000" stroke-width="1" />
<line x1="321.5" y1="465" x2="321.5" y2="474" stroke="#000" stroke-width="1" />
<rect x="319.5" y="468.5" width="4" height="2" fill="#2ea7e6" stroke="#000" stroke-width="1" />
<line x1="327.5" y1="466" x2="327.5" y2="484" stroke="#000" stroke-width="1" />
<line x1="324.5" y1="472.5" x2="330.5" y2="472.5" stroke="#000" stroke-width="1.4" />
<line x1="333.5" y1="470" x2="333.5" y2="496" stroke="#000" stroke-width="1" />
<rect x="331.5" y="474.5" width="4" height="8" fill="#ffea00" stroke="#000" stroke-width="1" />
<line x1="340.5" y1="480" x2="340.5" y2="496" stroke="#000" stroke-width="1" />
<rect x="338.5" y="481.5" width="4" height="6" fill="#ffea00" stroke="#000" stroke-width="1" />
<line x1="346.5" y1="484" x2="346.5" y2="494" stroke="#000" stroke-width="1" />
<rect x="344.5" y="486.5" width="4" height="2" fill="#2ea7e6" stroke="#000" stroke-width="1" />
<line x1="352.5" y1="482" x2="352.5" y2="513" stroke="#000" stroke-width="1" />
<rect x="350.5" y="487.5" width="4" height="14" fill="#f0181c" stroke="#000" stroke-width="1" />
<line x1="358.5" y1="498" x2="358.5" y2="528" stroke="#000" stroke-width="1" />
<rect x="356.5" y="499.5" width="4" height="5" fill="#f0181c" stroke="#000" stroke-width="1" />
<line x1="364.5" y1="500" x2="364.5" y2="513" stroke="#000" stroke-width="1" />
<rect x="362.5" y="504.5" width="4" height="6" fill="#f0181c" stroke="#000" stroke-width="1" />
<line x1="370.5" y1="496" x2="370.5" y2="513" stroke="#000" stroke-width="1" />
<rect x="368.5" y="504.5" width="4" height="6" fill="#8cc63f" stroke="#000" stroke-width="1" />
<line x1="376.5" y1="503" x2="376.5" y2="527" stroke="#000" stroke-width="1" />
<rect x="374.5" y="504.5" width="4" height="20" fill="#f0181c" stroke="#000" stroke-width="1" />
<line x1="383.5" y1="512" x2="383.5" y2="532" stroke="#000" stroke-width="1" />
<rect x="381.5" y="514.5" width="4" height="10" fill="#8cc63f" stroke="#000" stroke-width="1" />
<line x1="389.5" y1="511" x2="389.5" y2="553" stroke="#000" stroke-width="1" />
<rect x="387.5" y="513.5" width="4" height="33" fill="#f50fdc" stroke="#000" stroke-width="1" />
<line x1="395.5" y1="521" x2="395.5" y2="553" stroke="#000" stroke-width="1" />
<rect x="393.5" y="529.5" width="4" height="19" fill="#1c1ca6" stroke="#000" stroke-width="1" />
<line x1="401.5" y1="497" x2="401.5" y2="533" stroke="#000" stroke-width="1" />
<rect x="399.5" y="498.5" width="4" height="31" fill="#2ea7e6" stroke="#000" stroke-width="1" />
<line x1="407.5" y1="492" x2="407.5" y2="505" stroke="#000" stroke-width="1" />
<line x1="404.5" y1="498.5" x2="410.5" y2="498.5" stroke="#000" stroke-width="1.4" />
<line x1="413.5" y1="491" x2="413.5" y2="528" stroke="#000" stroke-width="1" />
<rect x="411.5" y="497.5" width="4" height="19" fill="#f50fdc" stroke="#000" stroke-width="1" />
<line x1="419.5" y1="504" x2="419.5" y2="522" stroke="#000" stroke-width="1" />
<line x1="416.5" y1="513.5" x2="422.5" y2="513.5" stroke="#000" stroke-width="1.4" />
<line x1="426.5" y1="513" x2="426.5" y2="555" stroke="#000" stroke-width="1" />
<rect x="424.5" y="514.5" width="4" height="34" fill="#8a5560" stroke="#000" stroke-width="1" />
<line x1="432.5" y1="532" x2="432.5" y2="551" stroke="#000" stroke-width="1" />
<rect x="430.5" y="536.5" width="4" height="11" fill="#12e012" stroke="#000" stroke-width="1" />
<line x1="438.5" y1="518" x2="438.5" y2="537" stroke="#000" stroke-width="1" />
<rect x="436.5" y="521.5" width="4" height="13" fill="#22e2ff" stroke="#000" stroke-width="1" />
<line x1="444.5" y1="516" x2="444.5" y2="536" stroke="#000" stroke-width="1" />
<line x1="441.5" y1="520.5" x2="447.5" y2="520.5" stroke="#000" stroke-width="1.4" />
<line x1="450.5" y1="488" x2="450.5" y2="524" stroke="#000" stroke-width="1" />
<rect x="448.5" y="494.5" width="4" height="25" fill="#1c1ca6" stroke="#000" stroke-width="1" />
<line x1="456.5" y1="488" x2="456.5" y2="503" stroke="#000" stroke-width="1" />
<rect x="454.5" y="494.5" width="4" height="5" fill="#ffea00" stroke="#000" stroke-width="1" />
<line x1="463.5" y1="496" x2="463.5" y2="517" stroke="#000" stroke-width="1" />
<rect x="461.5" y="498.5" width="4" height="10" fill="#f50fdc" stroke="#000" stroke-width="1" />
<line x1="469.5" y1="503" x2="469.5" y2="534" stroke="#000" stroke-width="1" />
<rect x="467.5" y="507.5" width="4" height="9" fill="#ff9a00" stroke="#000" stroke-width="1" />
<line x1="475.5" y1="496" x2="475.5" y2="523" stroke="#000" stroke-width="1" />
<rect x="473.5" y="506.5" width="4" height="14" fill="#22e2ff" stroke="#000" stroke-width="1" />
<line x1="481.5" y1="493" x2="481.5" y2="536" stroke="#000" stroke-width="1" />
<rect x="479.5" y="504.5" width="4" height="31" fill="#8a5560" stroke="#000" stroke-width="1" />
<line x1="487.5" y1="527" x2="487.5" y2="550" stroke="#000" stroke-width="1" />
<rect x="485.5" y="534.5" width="4" height="13" fill="#8a5560" stroke="#000" stroke-width="1" />
<line x1="493.5" y1="521" x2="493.5" y2="546" stroke="#000" stroke-width="1" />
<rect x="491.5" y="531.5" width="4" height="15" fill="#22e2ff" stroke="#000" stroke-width="1" />
<line x1="499.5" y1="523" x2="499.5" y2="542" stroke="#000" stroke-width="1" />
<rect x="497.5" y="530.5" width="4" height="3" fill="#ff9a00" stroke="#000" stroke-width="1" />
<line x1="506.5" y1="514" x2="506.5" y2="537" stroke="#000" stroke-width="1" />
<rect x="504.5" y="518.5" width="4" height="14" fill="#22e2ff" stroke="#000" stroke-width="1" />
<line x1="512.5" y1="517" x2="512.5" y2="527" stroke="#000" stroke-width="1" />
<rect x="510.5" y="518.5" width="4" height="2" fill="#ff9a00" stroke="#000" stroke-width="1" />
<line x1="518.5" y1="514" x2="518.5" y2="534" stroke="#000" stroke-width="1" />
<rect x="516.5" y="515.5" width="4" height="5" fill="#22e2ff" stroke="#000" stroke-width="1" />
<line x1="524.5" y1="509" x2="524.5" y2="525" stroke="#000" stroke-width="1" />
<rect x="522.5" y="511.5" width="4" height="4" fill="#22e2ff" stroke="#000" stroke-width="1" />
<line x1="530.5" y1="492" x2="530.5" y2="520" stroke="#000" stroke-width="1" />
<line x1="527.5" y1="511.5" x2="533.5" y2="511.5" stroke="#000" stroke-width="1.4" />
<line x1="536.5" y1="486" x2="536.5" y2="514" stroke="#000" stroke-width="1" />
<rect x="534.5" y="495.5" width="4" height="17" fill="#1c1ca6" stroke="#000" stroke-width="1" />
<line x1="542.5" y1="486" x2="542.5" y2="495" stroke="#000" stroke-width="1" />
<rect x="540.5" y="491.5" width="4" height="3" fill="#8cc63f" stroke="#000" stroke-width="1" />
<line x1="549.5" y1="486" x2="549.5" y2="501" stroke="#000" stroke-width="1" />
<rect x="547.5" y="490.5" width="4" height="9" fill="#ffea00" stroke="#000" stroke-width="1" />
<line x1="555.5" y1="491" x2="555.5" y2="510" stroke="#000" stroke-width="1" />
<rect x="553.5" y="498.5" width="4" height="6" fill="#ffea00" stroke="#000" stroke-width="1" />
<line x1="561.5" y1="501" x2="561.5" y2="532" stroke="#000" stroke-width="1" />
<rect x="559.5" y="504.5" width="4" height="17" fill="#f50fdc" stroke="#000" stroke-width="1" />
<line x1="567.5" y1="500" x2="567.5" y2="525" stroke="#000" stroke-width="1" />
<rect x="565.5" y="501.5" width="4" height="19" fill="#1c1ca6" stroke="#000" stroke-width="1" />
<line x1="573.5" y1="495" x2="573.5" y2="509" stroke="#000" stroke-width="1" />
<line x1="570.5" y1="502.5" x2="576.5" y2="502.5" stroke="#000" stroke-width="1.4" />
<line x1="579.5" y1="493" x2="579.5" y2="512" stroke="#000" stroke-width="1" />
<rect x="577.5" y="503.5" width="4" height="5" fill="#8cc63f" stroke="#000" stroke-width="1" />
<line x1="586.5" y1="491" x2="586.5" y2="524" stroke="#000" stroke-width="1" />
<rect x="584.5" y="495.5" width="4" height="13" fill="#66755a" stroke="#000" stroke-width="1" />
<line x1="592.5" y1="488" x2="592.5" y2="505" stroke="#000" stroke-width="1" />
<line x1="589.5" y1="493.5" x2="595.5" y2="493.5" stroke="#000" stroke-width="1.4" />
<line x1="598.5" y1="492" x2="598.5" y2="508" stroke="#000" stroke-width="1" />
<rect x="596.5" y="493.5" width="4" height="3" fill="#f0181c" stroke="#000" stroke-width="1" />
<line x1="604.5" y1="492" x2="604.5" y2="508" stroke="#000" stroke-width="1" />
<rect x="602.5" y="497.5" width="4" height="3" fill="#f0181c" stroke="#000" stroke-width="1" />
<line x1="610.5" y1="484" x2="610.5" y2="506" stroke="#000" stroke-width="1" />
<rect x="608.5" y="490.5" width="4" height="10" fill="#2ea7e6" stroke="#000" stroke-width="1" />
<line x1="616.5" y1="462" x2="616.5" y2="496" stroke="#000" stroke-width="1" />
<rect x="614.5" y="466.5" width="4" height="23" fill="#66755a" stroke="#000" stroke-width="1" />
<line x1="622.5" y1="460" x2="622.5" y2="472" stroke="#000" stroke-width="1" />
<rect x="620.5" y="461.5" width="4" height="5" fill="#66755a" stroke="#000" stroke-width="1" />
<line x1="629.5" y1="455" x2="629.5" y2="476" stroke="#000" stroke-width="1" />
<rect x="627.5" y="460.5" width="4" height="7" fill="#f0181c" stroke="#000" stroke-width="1" />
<line x1="635.5" y1="452" x2="635.5" y2="472" stroke="#000" stroke-width="1" />
<line x1="632.5" y1="466.5" x2="638.5" y2="466.5" stroke="#000" stroke-width="1.4" />
<line x1="641.5" y1="456" x2="641.5" y2="489" stroke="#000" stroke-width="1" />
<rect x="639.5" y="463.5" width="4" height="3" fill="#ffea00" stroke="#000" stroke-width="1" />
<line x1="647.5" y1="437" x2="647.5" y2="466" stroke="#000" stroke-width="1" />
<rect x="645.5" y="437.5" width="4" height="28" fill="#66755a" stroke="#000" stroke-width="1" />
<line x1="653.5" y1="426" x2="653.5" y2="446" stroke="#000" stroke-width="1" />
<rect x="651.5" y="427.5" width="4" height="10" fill="#66755a" stroke="#000" stroke-width="1" />
<line x1="659.5" y1="401" x2="659.5" y2="430" stroke="#000" stroke-width="1" />
<rect x="657.5" y="405.5" width="4" height="22" fill="#f0181c" stroke="#000" stroke-width="1" />
<line x1="665.5" y1="398" x2="665.5" y2="410" stroke="#000" stroke-width="1" />
<line x1="662.5" y1="404.5" x2="668.5" y2="404.5" stroke="#000" stroke-width="1.4" />
<line x1="672.5" y1="401" x2="672.5" y2="428" stroke="#000" stroke-width="1" />
<rect x="670.5" y="404.5" width="4" height="14" fill="#ffea00" stroke="#000" stroke-width="1" />
<line x1="678.5" y1="415" x2="678.5" y2="441" stroke="#000" stroke-width="1" />
<line x1="675.5" y1="418.5" x2="681.5" y2="418.5" stroke="#000" stroke-width="1.4" />
<line x1="684.5" y1="412" x2="684.5" y2="433" stroke="#000" stroke-width="1" />
<rect x="682.5" y="419.5" width="4" height="10" fill="#ffea00" stroke="#000" stroke-width="1" />
<line x1="690.5" y1="424" x2="690.5" y2="444" stroke="#000" stroke-width="1" />
<rect x="688.5" y="431.5" width="4" height="5" fill="#ffea00" stroke="#000" stroke-width="1" />
<line x1="696.5" y1="421" x2="696.5" y2="444" stroke="#000" stroke-width="1" />
<rect x="694.5" y="428.5" width="4" height="8" fill="#2ea7e6" stroke="#000" stroke-width="1" />
<line x1="702.5" y1="419" x2="702.5" y2="440" stroke="#000" stroke-width="1" />
<rect x="700.5" y="427.5" width="4" height="8" fill="#ffea00" stroke="#000" stroke-width="1" />
<line x1="709.5" y1="422" x2="709.5" y2="445" stroke="#000" stroke-width="1" />
<line x1="706.5" y1="432.5" x2="712.5" y2="432.5" stroke="#000" stroke-width="1.4" />
<line x1="715.5" y1="423" x2="715.5" y2="442" stroke="#000" stroke-width="1" />
<rect x="713.5" y="428.5" width="4" height="6" fill="#2ea7e6" stroke="#000" stroke-width="1" />
<line x1="721.5" y1="423" x2="721.5" y2="443" stroke="#000" stroke-width="1" />
<rect x="719.5" y="427.5" width="4" height="9" fill="#ffea00" stroke="#000" stroke-width="1" />
<line x1="727.5" y1="417" x2="727.5" y2="451" stroke="#000" stroke-width="1" />
<rect x="725.5" y="418.5" width="4" height="17" fill="#66755a" stroke="#000" stroke-width="1" />
<line x1="733.5" y1="407" x2="733.5" y2="439" stroke="#000" stroke-width="1" />
<rect x="731.5" y="418.5" width="4" height="15" fill="#ffea00" stroke="#000" stroke-width="1" />
<line x1="739.5" y1="432" x2="739.5" y2="469" stroke="#000" stroke-width="1" />
<rect x="737.5" y="434.5" width="4" height="3" fill="#f0181c" stroke="#000" stroke-width="1" />
<line x1="745.5" y1="412" x2="745.5" y2="437" stroke="#000" stroke-width="1" />
<rect x="743.5" y="420.5" width="4" height="14" fill="#2ea7e6" stroke="#000" stroke-width="1" />
<line x1="752.5" y1="411" x2="752.5" y2="429" stroke="#000" stroke-width="1" />
<rect x="750.5" y="417.5" width="4" height="3" fill="#2ea7e6" stroke="#000" stroke-width="1" />
<line x1="758.5" y1="405" x2="758.5" y2="420" stroke="#000" stroke-width="1" />
<rect x="756.5" y="408.5" width="4" height="9" fill="#2ea7e6" stroke="#000" stroke-width="1" />
<line x1="764.5" y1="408" x2="764.5" y2="439" stroke="#000" stroke-width="1" />
<rect x="762.5" y="408.5" width="4" height="30" fill="#f0181c" stroke="#000" stroke-width="1" />
<line x1="770.5" y1="418" x2="770.5" y2="438" stroke="#000" stroke-width="1" />
<rect x="768.5" y="423.5" width="4" height="14" fill="#66755a" stroke="#000" stroke-width="1" />
<line x1="776.5" y1="411" x2="776.5" y2="434" stroke="#000" stroke-width="1" />
<rect x="774.5" y="423.5" width="4" height="10" fill="#ffea00" stroke="#000" stroke-width="1" />
<line x1="782.5" y1="416" x2="782.5" y2="434" stroke="#000" stroke-width="1" />
<rect x="780.5" y="421.5" width="4" height="12" fill="#2ea7e6" stroke="#000" stroke-width="1" />
<line x1="788.5" y1="416" x2="788.5" y2="431" stroke="#000" stroke-width="1" />
<rect x="786.5" y="419.5" width="4" height="2" fill="#2ea7e6" stroke="#000" stroke-width="1" />
<line x1="795.5" y1="416" x2="795.5" y2="436" stroke="#000" stroke-width="1" />
<rect x="793.5" y="418.5" width="4" height="8" fill="#f0181c" stroke="#000" stroke-width="1" />
<line x1="801.5" y1="408" x2="801.5" y2="431" stroke="#000" stroke-width="1" />
<rect x="799.5" y="412.5" width="4" height="12" fill="#2ea7e6" stroke="#000" stroke-width="1" />
<line x1="807.5" y1="409" x2="807.5" y2="431" stroke="#000" stroke-width="1" />
<rect x="805.5" y="411.5" width="4" height="18" fill="#ffea00" stroke="#000" stroke-width="1" />
<line x1="813.5" y1="417" x2="813.5" y2="450" stroke="#000" stroke-width="1" />
<rect x="811.5" y="426.5" width="4" height="11" fill="#f0181c" stroke="#000" stroke-width="1" />
<line x1="819.5" y1="420" x2="819.5" y2="451" stroke="#000" stroke-width="1" />
<rect x="817.5" y="438.5" width="4" height="10" fill="#f0181c" stroke="#000" stroke-width="1" />
<line x1="825.5" y1="440" x2="825.5" y2="458" stroke="#000" stroke-width="1" />
<line x1="822.5" y1="447.5" x2="828.5" y2="447.5" stroke="#000" stroke-width="1.4" />
<line x1="832.5" y1="421" x2="832.5" y2="452" stroke="#000" stroke-width="1" />
<rect x="830.5" y="423.5" width="4" height="25" fill="#2ea7e6" stroke="#000" stroke-width="1" />
<line x1="838.5" y1="418" x2="838.5" y2="428" stroke="#000" stroke-width="1" />
<rect x="836.5" y="421.5" width="4" height="2" fill="#2ea7e6" stroke="#000" stroke-width="1" />
<line x1="844.5" y1="409" x2="844.5" y2="426" stroke="#000" stroke-width="1" />
<line x1="841.5" y1="421.5" x2="847.5" y2="421.5" stroke="#000" stroke-width="1.4" />
<line x1="850.5" y1="411" x2="850.5" y2="426" stroke="#000" stroke-width="1" />
<line x1="847.5" y1="420.5" x2="853.5" y2="420.5" stroke="#000" stroke-width="1.4" />
<line x1="856.5" y1="418" x2="856.5" y2="459" stroke="#000" stroke-width="1" />
<rect x="854.5" y="420.5" width="4" height="30" fill="#f50fdc" stroke="#000" stroke-width="1" />
<line x1="862.5" y1="438" x2="862.5" y2="453" stroke="#000" stroke-width="1" />
<rect x="860.5" y="441.5" width="4" height="5" fill="#1c1ca6" stroke="#000" stroke-width="1" />
<line x1="868.5" y1="424" x2="868.5" y2="448" stroke="#000" stroke-width="1" />
<rect x="866.5" y="431.5" width="4" height="10" fill="#2ea7e6" stroke="#000" stroke-width="1" />
<line x1="875.5" y1="417" x2="875.5" y2="435" stroke="#000" stroke-width="1" />
<rect x="873.5" y="426.5" width="4" height="5" fill="#2ea7e6" stroke="#000" stroke-width="1" />
<line x1="881.5" y1="391" x2="881.5" y2="436" stroke="#000" stroke-width="1" />
<rect x="879.5" y="395.5" width="4" height="31" fill="#66755a" stroke="#000" stroke-width="1" />
<line x1="887.5" y1="385" x2="887.5" y2="400" stroke="#000" stroke-width="1" />
<rect x="885.5" y="395.5" width="4" height="3" fill="#f0181c" stroke="#000" stroke-width="1" />
<line x1="893.5" y1="372" x2="893.5" y2="405" stroke="#000" stroke-width="1" />
<rect x="891.5" y="379.5" width="4" height="22" fill="#66755a" stroke="#000" stroke-width="1" />
<line x1="899.5" y1="362" x2="899.5" y2="396" stroke="#000" stroke-width="1" />
<rect x="897.5" y="371.5" width="4" height="21" fill="#f0181c" stroke="#000" stroke-width="1" />
<line x1="905.5" y1="354" x2="905.5" y2="373" stroke="#000" stroke-width="1" />
<rect x="903.5" y="370.5" width="4" height="3" fill="#f0181c" stroke="#000" stroke-width="1" />
<line x1="911.5" y1="364" x2="911.5" y2="383" stroke="#000" stroke-width="1" />
<rect x="909.5" y="369.5" width="4" height="10" fill="#f0181c" stroke="#000" stroke-width="1" />
<line x1="918.5" y1="354" x2="918.5" y2="382" stroke="#000" stroke-width="1" />
<rect x="916.5" y="355.5" width="4" height="23" fill="#66755a" stroke="#000" stroke-width="1" />
<line x1="924.5" y1="345" x2="924.5" y2="380" stroke="#000" stroke-width="1" />
<rect x="922.5" y="353.5" width="4" height="13" fill="#f0181c" stroke="#000" stroke-width="1" />
<line x1="930.5" y1="367" x2="930.5" y2="401" stroke="#000" stroke-width="1" />
<rect x="928.5" y="370.5" width="4" height="4" fill="#ffea00" stroke="#000" stroke-width="1" />
<line x1="936.5" y1="366" x2="936.5" y2="383" stroke="#000" stroke-width="1" />
<rect x="934.5" y="375.5" width="4" height="3" fill="#ffea00" stroke="#000" stroke-width="1" />
<line x1="942.5" y1="369" x2="942.5" y2="382" stroke="#000" stroke-width="1" />
<rect x="940.5" y="374.5" width="4" height="4" fill="#ffea00" stroke="#000" stroke-width="1" />
<line x1="948.5" y1="375" x2="948.5" y2="462" stroke="#000" stroke-width="1" />
<rect x="946.5" y="380.5" width="4" height="79" fill="#f50fdc" stroke="#000" stroke-width="1" />
<line x1="955.5" y1="436" x2="955.5" y2="515" stroke="#000" stroke-width="1" />
<rect x="953.5" y="445.5" width="4" height="33" fill="#12e012" stroke="#000" stroke-width="1" />
<line x1="961.5" y1="417" x2="961.5" y2="450" stroke="#000" stroke-width="1" />
<rect x="959.5" y="422.5" width="4" height="19" fill="#1c1ca6" stroke="#000" stroke-width="1" />
<line x1="967.5" y1="399" x2="967.5" y2="439" stroke="#000" stroke-width="1" />
<rect x="965.5" y="402.5" width="4" height="24" fill="#2ea7e6" stroke="#000" stroke-width="1" />
<line x1="973.5" y1="379" x2="973.5" y2="410" stroke="#000" stroke-width="1" />
<rect x="971.5" y="379.5" width="4" height="24" fill="#2ea7e6" stroke="#000" stroke-width="1" />
<line x1="979.5" y1="373" x2="979.5" y2="395" stroke="#000" stroke-width="1" />
<rect x="977.5" y="382.5" width="4" height="8" fill="#ffea00" stroke="#000" stroke-width="1" />
<line x1="985.5" y1="372" x2="985.5" y2="392" stroke="#000" stroke-width="1" />
<rect x="983.5" y="374.5" width="4" height="9" fill="#2ea7e6" stroke="#000" stroke-width="1" />
<line x1="991.5" y1="359" x2="991.5" y2="383" stroke="#000" stroke-width="1" />
<rect x="989.5" y="367.5" width="4" height="8" fill="#2ea7e6" stroke="#000" stroke-width="1" />
<line x1="998.5" y1="357" x2="998.5" y2="373" stroke="#000" stroke-width="1" />
<rect x="996.5" y="360.5" width="4" height="7" fill="#2ea7e6" stroke="#000" stroke-width="1" />
<line x1="1004.5" y1="352" x2="1004.5" y2="367" stroke="#000" stroke-width="1" />
<rect x="1002.5" y="354.5" width="4" height="7" fill="#2ea7e6" stroke="#000" stroke-width="1" />
<line x1="1010.5" y1="346" x2="1010.5" y2="358" stroke="#000" stroke-width="1" />
<line x1="1007.5" y1="353.5" x2="1013.5" y2="353.5" stroke="#000" stroke-width="1.4" />
<line x1="1016.5" y1="346" x2="1016.5" y2="367" stroke="#000" stroke-width="1" />
<rect x="1014.5" y="357.5" width="4" height="7" fill="#ffea00" stroke="#000" stroke-width="1" />
<line x1="1022.5" y1="356" x2="1022.5" y2="372" stroke="#000" stroke-width="1" />
<rect x="1020.5" y="361.5" width="4" height="7" fill="#2ea7e6" stroke="#000" stroke-width="1" />
<line x1="1028.5" y1="354" x2="1028.5" y2="368" stroke="#000" stroke-width="1" />
<line x1="1025.5" y1="359.5" x2="1031.5" y2="359.5" stroke="#000" stroke-width="1.4" />
<line x1="1034.5" y1="335" x2="1034.5" y2="364" stroke="#000" stroke-width="1" />
<rect x="1032.5" y="341.5" width="4" height="14" fill="#66755a" stroke="#000" stroke-width="1" />
<line x1="1041.5" y1="329" x2="1041.5" y2="345" stroke="#000" stroke-width="1" />
<rect x="1039.5" y="336.5" width="4" height="7" fill="#f0181c" stroke="#000" stroke-width="1" />
<line x1="1047.5" y1="315" x2="1047.5" y2="338" stroke="#000" stroke-width="1" />
<rect x="1045.5" y="316.5" width="4" height="20" fill="#66755a" stroke="#000" stroke-width="1" />
<line x1="1053.5" y1="312" x2="1053.5" y2="332" stroke="#000" stroke-width="1" />
<rect x="1051.5" y="314.5" width="4" height="8" fill="#f0181c" stroke="#000" stroke-width="1" />
<line x1="1059.5" y1="311" x2="1059.5" y2="327" stroke="#000" stroke-width="1" />
<line x1="1056.5" y1="321.5" x2="1062.5" y2="321.5" stroke="#000" stroke-width="1.4" />
<line x1="1065.5" y1="306" x2="1065.5" y2="324" stroke="#000" stroke-width="1" />
<rect x="1063.5" y="316.5" width="4" height="6" fill="#66755a" stroke="#000" stroke-width="1" />
<line x1="1071.5" y1="290" x2="1071.5" y2="319" stroke="#000" stroke-width="1" />
<rect x="1069.5" y="292.5" width="4" height="24" fill="#66755a" stroke="#000" stroke-width="1" />
<line x1="1078.5" y1="292" x2="1078.5" y2="313" stroke="#000" stroke-width="1" />
<rect x="1076.5" y="292.5" width="4" height="18" fill="#f0181c" stroke="#000" stroke-width="1" />
<line x1="1084.5" y1="303" x2="1084.5" y2="322" stroke="#000" stroke-width="1" />
<rect x="1082.5" y="307.5" width="4" height="2" fill="#2ea7e6" stroke="#000" stroke-width="1" />
<line x1="1090.5" y1="292" x2="1090.5" y2="311" stroke="#000" stroke-width="1" />
<rect x="1088.5" y="301.5" width="4" height="6" fill="#66755a" stroke="#000" stroke-width="1" />
<line x1="1096.5" y1="297" x2="1096.5" y2="313" stroke="#000" stroke-width="1" />
<rect x="1094.5" y="301.5" width="4" height="6" fill="#f0181c" stroke="#000" stroke-width="1" />
<line x1="1102.5" y1="296" x2="1102.5" y2="313" stroke="#000" stroke-width="1" />
<rect x="1100.5" y="297.5" width="4" height="9" fill="#66755a" stroke="#000" stroke-width="1" />
<line x1="1108.5" y1="272" x2="1108.5" y2="302" stroke="#000" stroke-width="1" />
<rect x="1106.5" y="274.5" width="4" height="23" fill="#66755a" stroke="#000" stroke-width="1" />
<line x1="1114.5" y1="263" x2="1114.5" y2="293" stroke="#000" stroke-width="1" />
<rect x="1112.5" y="274.5" width="4" height="17" fill="#f0181c" stroke="#000" stroke-width="1" />
<line x1="1121.5" y1="273" x2="1121.5" y2="301" stroke="#000" stroke-width="1" />
<rect x="1119.5" y="283.5" width="4" height="4" fill="#2ea7e6" stroke="#000" stroke-width="1" />
<line x1="1127.5" y1="253" x2="1127.5" y2="290" stroke="#000" stroke-width="1" />
<rect x="1125.5" y="256.5" width="4" height="30" fill="#66755a" stroke="#000" stroke-width="1" />
<line x1="1133.5" y1="237" x2="1133.5" y2="257" stroke="#000" stroke-width="1" />
<rect x="1131.5" y="244.5" width="4" height="9" fill="#f0181c" stroke="#000" stroke-width="1" />
<line x1="1139.5" y1="236" x2="1139.5" y2="264" stroke="#000" stroke-width="1" />
<line x1="1136.5" y1="242.5" x2="1142.5" y2="242.5" stroke="#000" stroke-width="1.4" />
<line x1="1145.5" y1="219" x2="1145.5" y2="260" stroke="#000" stroke-width="1" />
<rect x="1143.5" y="241.5" width="4" height="7" fill="#f0181c" stroke="#000" stroke-width="1" />
<line x1="1151.5" y1="247" x2="1151.5" y2="283" stroke="#000" stroke-width="1" />
<rect x="1149.5" y="250.5" width="4" height="13" fill="#ffea00" stroke="#000" stroke-width="1" />
<line x1="1157.5" y1="243" x2="1157.5" y2="272" stroke="#000" stroke-width="1" />
<rect x="1155.5" y="246.5" width="4" height="14" fill="#2ea7e6" stroke="#000" stroke-width="1" />
<line x1="1164.5" y1="242" x2="1164.5" y2="255" stroke="#000" stroke-width="1" />
<rect x="1162.5" y="246.5" width="4" height="7" fill="#ffea00" stroke="#000" stroke-width="1" />
<line x1="1170.5" y1="240" x2="1170.5" y2="260" stroke="#000" stroke-width="1" />
<line x1="1167.5" y1="252.5" x2="1173.5" y2="252.5" stroke="#000" stroke-width="1.4" />
<line x1="1176.5" y1="221" x2="1176.5" y2="254" stroke="#000" stroke-width="1" />
<rect x="1174.5" y="225.5" width="4" height="26" fill="#2ea7e6" stroke="#000" stroke-width="1" />
<line x1="1182.5" y1="223" x2="1182.5" y2="233" stroke="#000" stroke-width="1" />
<line x1="1179.5" y1="225.5" x2="1185.5" y2="225.5" stroke="#000" stroke-width="1.4" />
<line x1="1188.5" y1="205" x2="1188.5" y2="230" stroke="#000" stroke-width="1" />
<rect x="1186.5" y="211.5" width="4" height="14" fill="#f0181c" stroke="#000" stroke-width="1" />
<line x1="1194.5" y1="192" x2="1194.5" y2="216" stroke="#000" stroke-width="1" />
<rect x="1192.5" y="194.5" width="4" height="16" fill="#66755a" stroke="#000" stroke-width="1" />
<line x1="1201.5" y1="179" x2="1201.5" y2="200" stroke="#000" stroke-width="1" />
<rect x="1199.5" y="179.5" width="4" height="16" fill="#66755a" stroke="#000" stroke-width="1" />
<line x1="1207.5" y1="182" x2="1207.5" y2="206" stroke="#000" stroke-width="1" />
<rect x="1205.5" y="186.5" width="4" height="7" fill="#f0181c" stroke="#000" stroke-width="1" />
<line x1="1213.5" y1="176" x2="1213.5" y2="200" stroke="#000" stroke-width="1" />
<rect x="1211.5" y="183.5" width="4" height="15" fill="#66755a" stroke="#000" stroke-width="1" />
<line x1="1219.5" y1="151" x2="1219.5" y2="197" stroke="#000" stroke-width="1" />
<rect x="1217.5" y="161.5" width="4" height="27" fill="#f0181c" stroke="#000" stroke-width="1" />
<line x1="1225.5" y1="144" x2="1225.5" y2="172" stroke="#000" stroke-width="1" />
<rect x="1223.5" y="156.5" width="4" height="3" fill="#f0181c" stroke="#000" stroke-width="1" />
<line x1="1231.5" y1="119" x2="1231.5" y2="158" stroke="#000" stroke-width="1" />
<rect x="1229.5" y="122.5" width="4" height="33" fill="#66755a" stroke="#000" stroke-width="1" />
<line x1="1237.5" y1="95" x2="1237.5" y2="131" stroke="#000" stroke-width="1" />
<rect x="1235.5" y="104.5" width="4" height="19" fill="#f0181c" stroke="#000" stroke-width="1" />
<line x1="1244.5" y1="104" x2="1244.5" y2="182" stroke="#000" stroke-width="1" />
<rect x="1242.5" y="111.5" width="4" height="61" fill="#ffea00" stroke="#000" stroke-width="1" />
<line x1="1250.5" y1="152" x2="1250.5" y2="202" stroke="#000" stroke-width="1" />
<line x1="1247.5" y1="181.5" x2="1253.5" y2="181.5" stroke="#000" stroke-width="1.4" />
<rect x="929.5" y="26.5" width="45" height="15" fill="#ffffff" stroke="#7a0fc0" stroke-width="1" />
<text x="952" y="38.2" font-size="9.2" font-weight="bold" fill="#7a0fc0" text-anchor="middle" textLength="38" lengthAdjust="spacingAndGlyphs" >223,60 %</text>
<rect x="929.5" y="129.5" width="45" height="15" fill="#ffffff" stroke="#9cb4ee" stroke-width="1" />
<text x="952" y="141.2" font-size="9.2" font-weight="bold" fill="#9cb4ee" text-anchor="middle" textLength="38" lengthAdjust="spacingAndGlyphs" >200,00 %</text>
<rect x="929.5" y="292.5" width="45" height="15" fill="#ffffff" stroke="#0000ee" stroke-width="1" />
<text x="952" y="304.2" font-size="9.2" font-weight="bold" fill="#0000ee" text-anchor="middle" textLength="38" lengthAdjust="spacingAndGlyphs" >100,00 %</text>
<rect x="929.5" y="565.5" width="45" height="15" fill="#ffffff" stroke="#0000ee" stroke-width="1" />
<text x="952" y="577.2" font-size="9.2" font-weight="bold" fill="#0000ee" text-anchor="middle" textLength="38" lengthAdjust="spacingAndGlyphs" >100,00 %</text>
<text x="259" y="530.5" font-size="9.2" font-weight="bold" fill="#3cb43c" text-anchor="middle" textLength="33" lengthAdjust="spacingAndGlyphs" >38,20 %</text>
<text x="259" y="556" font-size="9.2" font-weight="bold" fill="#ff8a3c" text-anchor="middle" textLength="33" lengthAdjust="spacingAndGlyphs" >50,00 %</text>
<text x="1013" y="503" font-size="9.2" font-weight="bold" fill="#3cb43c" text-anchor="middle" textLength="33" lengthAdjust="spacingAndGlyphs" >38,20 %</text>
<text x="1013" y="552.5" font-size="9.2" font-weight="bold" fill="#ff8a3c" text-anchor="middle" textLength="33" lengthAdjust="spacingAndGlyphs" >50,00 %</text>
<text x="1731" y="382" font-size="9.2" font-weight="bold" fill="#3cb43c" text-anchor="middle" textLength="33" lengthAdjust="spacingAndGlyphs" >38,20 %</text>
<text x="1731" y="472" font-size="9.2" font-weight="bold" fill="#ff8a3c" text-anchor="middle" textLength="33" lengthAdjust="spacingAndGlyphs" >50,00 %</text>
<text x="38" y="59.5" font-size="23" font-weight="bold" fill="#000" text-anchor="start" textLength="22.5" lengthAdjust="spacingAndGlyphs" >W</text>
<text x="39" y="87.5" font-size="23" font-weight="bold" fill="#000" text-anchor="start" textLength="221" lengthAdjust="spacingAndGlyphs" >FTSE 100 Cash (1€)</text>
<text x="30.5" y="618.8" font-size="10" font-weight="normal" fill="#111" text-anchor="start" textLength="123" lengthAdjust="spacingAndGlyphs" >IT-Finance.com - Tiempo Real</text>
</g>
<line x1="1874.3" y1="22" x2="1874.3" y2="996" stroke="#6b8796" stroke-width="1.3" />
<line x1="1875" y1="581" x2="1878.5" y2="581" stroke="#4a5a64" stroke-width="1" />
<text x="1880.5" y="584.2" font-size="9.2" font-weight="bold" fill="#000" text-anchor="start" textLength="22.8" lengthAdjust="spacingAndGlyphs" >7.000</text>
<line x1="1875" y1="519.2" x2="1878.5" y2="519.2" stroke="#4a5a64" stroke-width="1" />
<text x="1880.5" y="522.5" font-size="9.2" font-weight="bold" fill="#000" text-anchor="start" textLength="22.8" lengthAdjust="spacingAndGlyphs" >7.500</text>
<line x1="1875" y1="457.5" x2="1878.5" y2="457.5" stroke="#4a5a64" stroke-width="1" />
<text x="1880.5" y="460.7" font-size="9.2" font-weight="bold" fill="#000" text-anchor="start" textLength="22.8" lengthAdjust="spacingAndGlyphs" >8.000</text>
<line x1="1875" y1="395.8" x2="1878.5" y2="395.8" stroke="#4a5a64" stroke-width="1" />
<text x="1880.5" y="398.9" font-size="9.2" font-weight="bold" fill="#000" text-anchor="start" textLength="22.8" lengthAdjust="spacingAndGlyphs" >8.500</text>
<line x1="1875" y1="334" x2="1878.5" y2="334" stroke="#4a5a64" stroke-width="1" />
<text x="1880.5" y="337.2" font-size="9.2" font-weight="bold" fill="#000" text-anchor="start" textLength="22.8" lengthAdjust="spacingAndGlyphs" >9.000</text>
<line x1="1875" y1="272.2" x2="1878.5" y2="272.2" stroke="#4a5a64" stroke-width="1" />
<text x="1880.5" y="275.4" font-size="9.2" font-weight="bold" fill="#000" text-anchor="start" textLength="22.8" lengthAdjust="spacingAndGlyphs" >9.500</text>
<line x1="1875" y1="210.5" x2="1878.5" y2="210.5" stroke="#4a5a64" stroke-width="1" />
<text x="1880.5" y="213.7" font-size="9.2" font-weight="bold" fill="#000" text-anchor="start" textLength="32" lengthAdjust="spacingAndGlyphs" >10.000</text>
<line x1="1875" y1="148.8" x2="1878.5" y2="148.8" stroke="#4a5a64" stroke-width="1" />
<text x="1880.5" y="151.9" font-size="9.2" font-weight="bold" fill="#000" text-anchor="start" textLength="27.4" lengthAdjust="spacingAndGlyphs" >10.500</text>
<line x1="1875" y1="87" x2="1878.5" y2="87" stroke="#4a5a64" stroke-width="1" />
<text x="1880.5" y="90.2" font-size="9.2" font-weight="bold" fill="#000" text-anchor="start" textLength="27.4" lengthAdjust="spacingAndGlyphs" >11.000</text>
<line x1="1875" y1="25.2" x2="1878.5" y2="25.2" stroke="#4a5a64" stroke-width="1" />
<text x="1880.5" y="30" font-size="9.2" font-weight="bold" fill="#000" text-anchor="start" textLength="27.4" lengthAdjust="spacingAndGlyphs" >11.500</text>
<line x1="1874" y1="165.4" x2="1879" y2="165.4" stroke="#2c7a1e" stroke-width="1.3" />
<rect x="1879.5" y="158.9" width="40" height="13" fill="#f4f6f7" stroke="#6b8796" stroke-width="1" />
<text x="1882" y="168.7" font-size="9.2" font-weight="bold" fill="#2c7a1e" text-anchor="start" textLength="36" lengthAdjust="spacingAndGlyphs" >10.371,0</text>
<line x1="1874" y1="186" x2="1879" y2="186" stroke="#a01414" stroke-width="1.3" />
<rect x="1879.5" y="179.5" width="40" height="13" fill="#f4f6f7" stroke="#6b8796" stroke-width="1" />
<text x="1882" y="189.3" font-size="9.2" font-weight="bold" fill="#a01414" text-anchor="start" textLength="36" lengthAdjust="spacingAndGlyphs" >10.208,8</text>
<rect x="1879.5" y="245.2" width="33" height="13" fill="#f4f6f7" stroke="#6b8796" stroke-width="1" />
<line x1="1874" y1="251.7" x2="1879" y2="251.7" stroke="#101090" stroke-width="1.3" />
<text x="1882" y="255" font-size="9.2" font-weight="bold" fill="#101090" text-anchor="start" textLength="29" lengthAdjust="spacingAndGlyphs" >9.673,2</text>
<g clip-path="url(#cp1)">
<line x1="69.5" y1="622" x2="69.5" y2="763" stroke="#707070" stroke-width="1" stroke-dasharray="1,3" stroke-opacity="0.27"/>
<line x1="125.5" y1="622" x2="125.5" y2="763" stroke="#707070" stroke-width="1" stroke-dasharray="1,3" stroke-opacity="0.27"/>
<line x1="180.5" y1="622" x2="180.5" y2="763" stroke="#707070" stroke-width="1" stroke-dasharray="1,3" stroke-opacity="0.27"/>
<line x1="284.5" y1="622" x2="284.5" y2="763" stroke="#707070" stroke-width="1" stroke-dasharray="1,3" stroke-opacity="0.27"/>
<line x1="333.5" y1="622" x2="333.5" y2="763" stroke="#707070" stroke-width="1" stroke-dasharray="1,3" stroke-opacity="0.27"/>
<line x1="389.5" y1="622" x2="389.5" y2="763" stroke="#707070" stroke-width="1" stroke-dasharray="1,3" stroke-opacity="0.27"/>
<line x1="445.5" y1="622" x2="445.5" y2="763" stroke="#707070" stroke-width="1" stroke-dasharray="1,3" stroke-opacity="0.27"/>
<line x1="500.5" y1="622" x2="500.5" y2="763" stroke="#707070" stroke-width="1" stroke-dasharray="1,3" stroke-opacity="0.27"/>
<line x1="604.5" y1="622" x2="604.5" y2="763" stroke="#707070" stroke-width="1" stroke-dasharray="1,3" stroke-opacity="0.27"/>
<line x1="659.5" y1="622" x2="659.5" y2="763" stroke="#707070" stroke-width="1" stroke-dasharray="1,3" stroke-opacity="0.27"/>
<line x1="708.5" y1="622" x2="708.5" y2="763" stroke="#707070" stroke-width="1" stroke-dasharray="1,3" stroke-opacity="0.27"/>
<line x1="765.5" y1="622" x2="765.5" y2="763" stroke="#707070" stroke-width="1" stroke-dasharray="1,3" stroke-opacity="0.27"/>
<line x1="820.5" y1="622" x2="820.5" y2="763" stroke="#707070" stroke-width="1" stroke-dasharray="1,3" stroke-opacity="0.27"/>
<line x1="923.5" y1="622" x2="923.5" y2="763" stroke="#707070" stroke-width="1" stroke-dasharray="1,3" stroke-opacity="0.27"/>
<line x1="979.5" y1="622" x2="979.5" y2="763" stroke="#707070" stroke-width="1" stroke-dasharray="1,3" stroke-opacity="0.27"/>
<line x1="1034.5" y1="622" x2="1034.5" y2="763" stroke="#707070" stroke-width="1" stroke-dasharray="1,3" stroke-opacity="0.27"/>
<line x1="1084.5" y1="622" x2="1084.5" y2="763" stroke="#707070" stroke-width="1" stroke-dasharray="1,3" stroke-opacity="0.27"/>
<line x1="1138.5" y1="622" x2="1138.5" y2="763" stroke="#707070" stroke-width="1" stroke-dasharray="1,3" stroke-opacity="0.27"/>
<line x1="1243.5" y1="622" x2="1243.5" y2="763" stroke="#707070" stroke-width="1" stroke-dasharray="1,3" stroke-opacity="0.27"/>
<line x1="1298.5" y1="622" x2="1298.5" y2="763" stroke="#707070" stroke-width="1" stroke-dasharray="1,3" stroke-opacity="0.27"/>
<line x1="1354.5" y1="622" x2="1354.5" y2="763" stroke="#707070" stroke-width="1" stroke-dasharray="1,3" stroke-opacity="0.27"/>
<line x1="1410.5" y1="622" x2="1410.5" y2="763" stroke="#707070" stroke-width="1" stroke-dasharray="1,3" stroke-opacity="0.27"/>
<line x1="1458.5" y1="622" x2="1458.5" y2="763" stroke="#707070" stroke-width="1" stroke-dasharray="1,3" stroke-opacity="0.27"/>
<line x1="1563.5" y1="622" x2="1563.5" y2="763" stroke="#707070" stroke-width="1" stroke-dasharray="1,3" stroke-opacity="0.27"/>
<line x1="1618.5" y1="622" x2="1618.5" y2="763" stroke="#707070" stroke-width="1" stroke-dasharray="1,3" stroke-opacity="0.27"/>
<line x1="1673.5" y1="622" x2="1673.5" y2="763" stroke="#707070" stroke-width="1" stroke-dasharray="1,3" stroke-opacity="0.27"/>
<line x1="1729.5" y1="622" x2="1729.5" y2="763" stroke="#707070" stroke-width="1" stroke-dasharray="1,3" stroke-opacity="0.27"/>
<line x1="1778.5" y1="622" x2="1778.5" y2="763" stroke="#707070" stroke-width="1" stroke-dasharray="1,3" stroke-opacity="0.27"/>
<line x1="28" y1="658.5" x2="1874" y2="658.5" stroke="#707070" stroke-width="1" stroke-dasharray="1,3" stroke-opacity="0.27"/>
<line x1="28" y1="683.5" x2="1874" y2="683.5" stroke="#707070" stroke-width="1" stroke-dasharray="1,3" stroke-opacity="0.27"/>
<line x1="28" y1="707.5" x2="1874" y2="707.5" stroke="#707070" stroke-width="1" stroke-dasharray="1,3" stroke-opacity="0.27"/>
<line x1="28" y1="732.5" x2="1874" y2="732.5" stroke="#707070" stroke-width="1" stroke-dasharray="1,3" stroke-opacity="0.27"/>
<rect x="28" y="633.5" width="1222" height="25" fill="#d9f5d5" />
<rect x="28" y="732.5" width="1222" height="25" fill="#fdd7d7" />
<polygon points="28,650.1 30,650.4 32,650.7 34,651.1 36,649.9 38,648.4 40,649.4 42,650.4 44,651.4 46,653.8 48,654.4 50,655 52,655.6 54,656.8 56,658.5 58,658.5 60,658.5 62,658.5 64,658.5 66,658.5 68,658.5 70,658.5 72,658.5 74,658.5 76,658.5 78,658.5 80,658.5 82,658.5 84,658.5 86,658.5 88,658.5 90,658.5 92,658.5 94,658.5 96,658.5 98,658.2 100,655 102,654.2 104,653.3 106,652.8 108,654.2 110,655.6 112,657.5 114,658.5 116,658.5 118,658.5 120,658.5 122,658.5 124,658.5 126,658.5 128,658.5 130,658.5 132,658.5 134,658.5 136,658.5 138,658.5 140,658.5 142,658.5 144,658.5 146,658.5 148,658.5 150,658.5 152,658.5 154,658.5 156,658.5 158,658.5 160,658.5 162,658.5 164,658.5 166,658.5 168,658.5 170,658.5 172,658.5 174,658.5 176,658.5 178,658.5 180,658.5 182,658.5 184,658.5 186,658.5 188,658.5 190,658.5 192,658.5 194,658.5 196,658.5 198,658.5 200,658.5 202,658.5 204,658.5 206,658.5 208,658.5 210,658.5 212,658.5 214,658.5 216,658.5 218,658.5 220,658.5 222,658.5 224,658.5 226,658.5 228,656.1 230,652.5 232,649 234,645.5 236,642.6 238,640.6 240,638.6 242,638.5 244,640.5 246,642.5 248,643.1 250,642.6 252,642.1 254,641.6 256,641.1 258,640.6 260,640.1 262,639.2 264,638.1 266,637.1 268,637.6 270,638.3 272,638.9 274,639.5 276,640.1 278,640.7 280,641.2 282,641.7 284,643.2 286,644.7 288,646.2 290,648.7 292,651.7 294,654.7 296,657.7 298,658.5 300,658.5 302,658.5 304,658.5 306,658.5 308,658.5 310,658.5 312,658.5 314,658.5 316,658.5 318,656.2 320,653.1 322,651.8 324,650.5 326,649.1 328,648.6 330,649.1 332,649.6 334,650.2 336,651.7 338,653.2 340,653.5 342,653.7 344,654.2 346,654.6 348,655.1 350,656.3 352,657.5 354,658.5 356,658.5 358,658.5 360,658.5 362,658.5 364,658.5 366,658.5 368,658.5 370,658.5 372,658.5 374,658.5 376,658.5 378,658.5 380,658.5 382,658.5 384,658.5 386,658.5 388,658.5 390,658.5 392,658.5 394,658.5 396,658.5 398,658.5 400,658.5 402,658.5 404,658.5 406,658.5 408,658.5 410,658.5 412,658.5 414,658.5 416,658.5 418,658.5 420,658.5 422,658.5 424,658.5 426,658.5 428,658.5 430,658.5 432,658.5 434,658.5 436,658.5 438,658.5 440,658.5 442,658.5 444,658.5 446,658.5 448,658.5 450,658.5 452,658.5 454,658.5 456,658.5 458,658.5 460,658.5 462,658.5 464,658.5 466,658.5 468,658.5 470,658.5 472,658.5 474,658.5 476,658.5 478,658.5 480,658.5 482,658.5 484,658.5 486,658.5 488,658.5 490,658.5 492,658.5 494,658.5 496,658.5 498,658.5 500,658.5 502,658.5 504,658.5 506,658.5 508,658.5 510,658.5 512,658.5 514,658.5 516,658.5 518,658.5 520,658.5 522,658.5 524,658.5 526,658.5 528,658.5 530,658.5 532,658.5 534,658.5 536,658.5 538,658.5 540,658.5 542,658.5 544,658.5 546,658.5 548,658.5 550,658.5 552,658.5 554,658.5 556,658.5 558,658.5 560,658.5 562,658.5 564,658.5 566,658.5 568,658.5 570,658.5 572,658.5 574,658.5 576,658.5 578,658.5 580,658.5 582,658.5 584,658.5 586,658.5 588,658.5 590,658.5 592,658.5 594,658.5 596,658.5 598,658.5 600,658.5 602,658.5 604,658.5 606,658.5 608,658.5 610,658.5 612,658.5 614,658.5 616,658.5 618,655.1 620,651.7 622,648.3 624,646.1 626,644.9 628,644.4 630,644.8 632,645.2 634,645.6 636,646.1 638,647 640,647.8 642,647.9 644,646.6 646,645.3 648,643.9 650,642.5 652,641 654,639.5 656,638 658,636.7 660,635.4 662,635.7 664,636.6 666,637.1 668,636.7 670,637.7 672,638.7 674,639.7 676,640.7 678,641.5 680,642.3 682,643.1 684,643.9 686,645.1 688,646.5 690,647.9 692,649.3 694,650.7 696,652.1 698,653.5 700,654.9 702,656.1 704,656.9 706,657.7 708,658.5 710,658.5 712,658.5 714,658.5 716,658.5 718,658.5 720,658.5 722,658.5 724,658.5 726,658.5 728,657.7 730,657.6 732,657.6 734,657.6 736,657.6 738,657.6 740,657.6 742,657.6 744,657.6 746,656.9 748,655.6 750,654.4 752,653 754,651 756,649 758,647.8 760,648.7 762,649.6 764,650.5 766,651.3 768,652.1 770,652.8 772,653.3 774,653.7 776,654.1 778,654.4 780,654.6 782,654.8 784,655 786,654.8 788,654.2 790,653.6 792,653 794,652.3 796,651.6 798,650.8 800,650.1 802,650.6 804,651.1 806,651.6 808,652.5 810,652.6 812,653.2 814,653.8 816,654.4 818,655 820,655.9 822,656.9 824,657.9 826,658.5 828,658.5 830,658.5 832,658.5 834,658.5 836,658.5 838,658.4 840,655.5 842,652.6 844,651.6 846,651.4 848,651.1 850,650.9 852,653.4 854,656.2 856,658.4 858,658 860,657.6 862,658.1 864,658.5 866,658.5 868,658.5 870,658.5 872,658.5 874,658.5 876,658.5 878,655.7 880,651.4 882,649.4 884,647.6 886,645.9 888,644.1 890,642.4 892,640.6 894,639.2 896,639.4 898,639.5 900,639.7 902,639.8 904,639.9 906,640.5 908,641.8 910,642.1 912,641.9 914,641.7 916,641.7 918,641.7 920,641.7 922,641.7 924,642.1 926,642.5 928,642.9 930,643.3 932,644 934,644.8 936,645.6 938,646.4 940,647.4 942,648.4 944,649.4 946,650.4 948,652.2 950,654.9 952,657.7 954,658.5 956,658.5 958,658.5 960,658.5 962,658.5 964,658.5 966,658.5 968,658.5 970,658.5 972,658.5 974,658.5 976,658.5 978,658.5 980,658.5 982,658.5 984,657.8 986,656.4 988,655.1 990,653.1 992,651.1 994,649.1 996,647.1 998,645.7 1000,644.5 1002,643.3 1004,642.1 1006,641.5 1008,641.1 1010,641 1012,641.2 1014,641.3 1016,641.5 1018,641.7 1020,642.1 1022,642.4 1024,642.8 1026,642.7 1028,642.4 1030,642.3 1032,642.1 1034,641.5 1036,641 1038,640.4 1040,639.7 1042,639 1044,638.4 1046,637.7 1048,637.6 1050,637.8 1052,637.9 1054,638.1 1056,638.2 1058,638.4 1060,638.6 1062,638.4 1064,638.4 1066,638.4 1068,638.4 1070,638.4 1072,638.4 1074,638.6 1076,638.7 1078,638.9 1080,639.1 1082,639.3 1084,639.6 1086,639.9 1088,640.3 1090,640.6 1092,640.9 1094,640.9 1096,640.9 1098,640.9 1100,640.4 1102,639.9 1104,639.4 1106,638.9 1108,638.4 1110,638.9 1112,639.5 1114,640.1 1116,640.6 1118,640.7 1120,640.8 1122,640.8 1124,640.7 1126,640.5 1128,640.3 1130,640.1 1132,639.1 1134,638.1 1136,637.1 1138,636.1 1140,637 1142,638.4 1144,639.8 1146,640.4 1148,640.6 1150,640.7 1152,640.9 1154,641.3 1156,641.7 1158,642.1 1160,642.5 1162,643.3 1164,644.1 1166,644.9 1168,645.7 1170,645.8 1172,645 1174,644 1176,643 1178,642 1180,641 1182,639.8 1184,638.6 1186,637.4 1188,636.2 1190,635.8 1192,635.6 1194,635.5 1196,635.3 1198,635.2 1200,635 1202,635.2 1204,635.3 1206,635.4 1208,635.6 1210,635.7 1212,635.9 1214,636.2 1216,636.5 1218,636.8 1220,636.9 1222,637 1224,637 1226,636.9 1228,636.8 1230,636.8 1232,636.7 1234,636.6 1236,636.4 1238,636.9 1240,637 1242,637 1244,638.2 1246,639.4 1248,640.6 1250,641.7 1250,658.5 28,658.5" fill="#7cbf7c" stroke="none" stroke-width="1" />
<polygon points="28,655.9 30,654.4 32,652.9 34,651.4 36,649.9 38,648.4 38,651.7 36,651.4 34,651.1 32,650.7 30,650.4 28,650.1" fill="#bdbde6" stroke="none" stroke-width="1" fill-opacity="0.85"/>
<polygon points="38,648.4 40.1,649.4 42.2,650.5 44.3,651.5 46.4,655.6 48.5,660.5 50.6,664.9 52.6,668.4 54.7,672 56.8,674.6 58.9,676.4 61,678.3 63.1,680.1 63.1,665.1 61,663.1 58.9,661.2 56.8,659.3 54.7,657.4 52.6,655.8 50.6,655.2 48.5,654.5 46.4,653.9 44.3,653.3 42.2,652.8 40.1,652.3 38,651.7" fill="#eebcee" stroke="none" stroke-width="1" fill-opacity="0.85"/>
<polygon points="63.1,680.1 66,677.6 68.9,675.1 68.9,671 66,668 63.1,665.1" fill="#bdbde6" stroke="none" stroke-width="1" fill-opacity="0.85"/>
<polygon points="68.9,675.1 71,675.7 73.1,676.2 75.2,676.8 77.3,677.4 79.4,677.9 81.5,678.5 81.5,677 79.4,676.2 77.3,675.4 75.2,674.4 73.1,673.3 71,672.1 68.9,671" fill="#eebcee" stroke="none" stroke-width="1" fill-opacity="0.85"/>
<polygon points="81.5,678.5 83.5,677 85.5,675.4 87.5,673.9 89.6,671.4 91.6,668.3 93.6,665.3 95.6,662.2 97.6,658.8 99.6,655.4 101.7,654.3 103.7,653.4 105.7,652.6 105.7,661.9 103.7,663.1 101.7,665 99.6,667 97.6,669 95.6,670.8 93.6,672.3 91.6,673.8 89.6,675.2 87.5,676 85.5,676.8 83.5,677.5 81.5,677" fill="#bdbde6" stroke="none" stroke-width="1" fill-opacity="0.85"/>
<polygon points="105.7,652.6 107.7,654 109.8,655.5 111.8,657.2 113.9,660.6 115.9,664 117.9,667.2 120,670.2 122,673.3 124.1,676.1 126.1,678.7 128.1,681.2 130.2,683.8 132.2,686.9 134.2,690 136.3,693 138.3,699.9 140.4,707.6 142.4,715.2 144.4,720.9 146.5,724.9 148.5,729 150.6,732.5 152.6,734.6 154.6,736.6 156.7,738.6 156.7,716.9 154.6,712.8 152.6,708.8 150.6,704.7 148.5,700.2 146.5,695.6 144.4,691.1 142.4,686.9 140.4,683.4 138.3,679.8 136.3,676.3 134.2,673.2 132.2,670.2 130.2,667.1 128.1,665.2 126.1,663.4 124.1,661.6 122,660.6 120,660.1 117.9,659.6 115.9,659.3 113.9,659.3 111.8,659.3 109.8,659.3 107.7,660.6 105.7,661.9" fill="#eebcee" stroke="none" stroke-width="1" fill-opacity="0.85"/>
<polygon points="156.7,738.6 158.8,734.5 160.9,730.3 162.9,726.7 165,723.6 167.1,720.5 169.2,716.4 171.3,710.8 173.4,705.2 175.5,699.6 177.6,694.1 179.7,689 181.7,684.3 183.8,679.6 185.9,675.7 188,672.9 190.1,670.1 192.2,667.5 194.3,664.9 196.4,662.3 198.5,660.8 200.5,659.6 202.6,658.4 202.6,671.6 200.5,674.2 198.5,676.8 196.4,680.5 194.3,684.1 192.2,687.8 190.1,692.3 188,697 185.9,701.7 183.8,705.7 181.7,709.4 179.7,713 177.6,716.6 175.5,720.1 173.4,723.6 171.3,725.7 169.2,727.8 167.1,729 165,726.9 162.9,724.8 160.9,722.5 158.8,719.7 156.7,716.9" fill="#bdbde6" stroke="none" stroke-width="1" fill-opacity="0.85"/>
<polygon points="202.6,658.4 204.7,660 206.7,661.6 208.7,663.2 210.7,664.5 212.8,665.3 214.8,666 216.8,666.8 216.8,664.3 214.8,664.3 212.8,664.3 210.7,664.9 208.7,666.2 206.7,667.5 204.7,669 202.6,671.6" fill="#eebcee" stroke="none" stroke-width="1" fill-opacity="0.85"/>
<polygon points="216.8,666.8 218.9,666.3 220.9,665.8 222.9,665.3 224.9,662.3 226.9,658.3 229,654.3 231,650.8 233,647.3 235,643.7 237,641.6 239,639.6 241.1,637.5 241.1,650.7 239,652.2 237,653.7 235,655.3 233,657 231,658.8 229,660.6 226.9,662.3 224.9,663.9 222.9,665 220.9,664.7 218.9,664.3 216.8,664.3" fill="#bdbde6" stroke="none" stroke-width="1" fill-opacity="0.85"/>
<polygon points="241.1,637.5 243.2,639.6 245.2,641.7 247.3,643.3 249.4,642.8 251.5,642.2 253.6,641.7 253.6,644.4 251.5,645.7 249.4,647 247.3,648 245.2,648.8 243.2,649.6 241.1,650.7" fill="#eebcee" stroke="none" stroke-width="1" fill-opacity="0.85"/>
<polygon points="253.6,641.7 255.7,641.2 257.8,640.7 259.9,640.1 262,639.2 264,638.1 266.1,637 266.1,639.8 264,640.4 262,640.9 259.9,641.7 257.8,642.4 255.7,643.2 253.6,644.4" fill="#bdbde6" stroke="none" stroke-width="1" fill-opacity="0.85"/>
<polygon points="266.1,637 268.2,637.7 270.2,638.4 272.3,639 274.3,639.6 276.3,640.2 278.4,640.8 280.4,644.7 282.5,649.1 284.5,653.8 286.6,658.9 288.6,664 290.6,669.2 292.7,675.1 294.7,680.9 296.8,685.4 298.8,686.1 300.9,686.9 302.9,687.7 302.9,667.6 300.9,665 298.8,661.9 296.8,658.8 294.7,655.8 292.7,652.7 290.6,649.6 288.6,646.7 286.6,645.1 284.5,643.6 282.5,642.1 280.4,641.3 278.4,640.8 276.3,640.3 274.3,639.9 272.3,639.7 270.2,639.4 268.2,639.3 266.1,639.8" fill="#eebcee" stroke="none" stroke-width="1" fill-opacity="0.85"/>
<polygon points="302.9,687.7 304.9,683.3 306.9,679 309,674.6 311,669.9 313,665.2 315,661.3 317,657.8 319.1,654.4 321.1,652.4 323.1,651.1 325.1,649.7 327.1,648.4 327.1,661.8 325.1,664.3 323.1,666.8 321.1,669.3 319.1,671.1 317,672.6 315,674 313,674.1 311,673.8 309,673.5 306.9,671.7 304.9,669.6 302.9,667.6" fill="#bdbde6" stroke="none" stroke-width="1" fill-opacity="0.85"/>
<polygon points="327.1,648.4 329.2,648.9 331.3,649.4 333.4,650 335.5,651.3 337.6,652.9 339.7,654.5 341.8,655.6 343.8,656.6 345.9,657.5 348,658.4 348,655.1 345.9,654.6 343.8,654.2 341.8,653.7 339.7,653.6 337.6,654.1 335.5,654.7 333.4,655.5 331.3,657.6 329.2,659.7 327.1,661.8" fill="#eebcee" stroke="none" stroke-width="1" fill-opacity="0.85"/>
<polygon points="348,658.4 350.1,660.5 352.1,662.6 354.2,664.6 356.3,666.7 358.4,668.4 360.4,670 362.5,671.7 364.6,673.3 366.6,674.2 368.7,675.1 370.8,675.9 372.8,676.7 374.9,677.5 377,678.4 379.1,679.2 381.1,680 383.2,682.7 385.3,685.7 387.3,688.7 389.4,691.1 391.5,691.3 393.6,691.6 395.6,691.8 395.6,683.9 393.6,682.9 391.5,681.8 389.4,680.7 387.3,679.3 385.3,677.8 383.2,676.4 381.1,675 379.1,674 377,672.9 374.9,671.9 372.8,670.8 370.8,669.6 368.7,668.3 366.6,667.1 364.6,665.8 362.5,664.4 360.4,662.9 358.4,661.5 356.3,660 354.2,658.8 352.1,657.6 350.1,656.3 348,655.1" fill="#eebcee" stroke="none" stroke-width="1" fill-opacity="0.85"/>
<polygon points="395.6,691.8 397.8,690.6 400,689.3 402.2,686.8 404.4,681.7 406.6,676.7 408.8,675.4 411,674 413.2,672.6 413.2,683 411,683.4 408.8,683.9 406.6,684.3 404.4,684.5 402.2,684.8 400,685 397.8,685 395.6,683.9" fill="#bdbde6" stroke="none" stroke-width="1" fill-opacity="0.85"/>
<polygon points="413.2,672.6 415.3,673.9 417.4,675.2 419.4,676.5 421.5,679.3 423.6,682.4 425.7,685.6 427.8,688.1 429.9,690.2 432,692.1 434.1,693.4 436.2,694.7 438.2,696 438.2,686 436.2,685 434.1,683.9 432,682.9 429.9,682.2 427.8,681.5 425.7,680.9 423.6,680.3 421.5,680.6 419.4,681.3 417.4,681.9 415.3,682.5 413.2,683" fill="#eebcee" stroke="none" stroke-width="1" fill-opacity="0.85"/>
<polygon points="438.2,696 440.4,693.5 442.5,691.1 444.6,687.9 446.7,684.4 448.9,681.1 451,678.7 453.1,676.3 455.3,674.1 457.4,673.1 459.5,672 461.6,671 461.6,681.3 459.5,682.6 457.4,683.9 455.3,685 453.1,686.1 451,687.1 448.9,688.2 446.7,688.2 444.6,687.8 442.5,687.3 440.4,686.9 438.2,686" fill="#bdbde6" stroke="none" stroke-width="1" fill-opacity="0.85"/>
<polygon points="461.6,671 463.7,672.2 465.7,673.5 467.7,674.8 469.8,675.5 471.8,676 473.9,676.5 475.9,677.9 477.9,680.5 480,683 482,685.5 484,687.5 486.1,689.5 488.1,691.6 490.1,693.6 492.2,695.7 494.2,697.7 494.2,685.7 492.2,683.9 490.1,682.3 488.1,680.8 486.1,679.3 484,678 482,677 480,675.9 477.9,675.2 475.9,675.4 473.9,675.7 471.8,675.9 469.8,676.9 467.7,677.9 465.7,678.9 463.7,680.1 461.6,681.3" fill="#eebcee" stroke="none" stroke-width="1" fill-opacity="0.85"/>
<polygon points="494.2,697.7 496.3,697.4 498.3,697.1 500.4,696.4 502.5,693.7 504.5,690.9 506.6,689.4 508.6,688.4 510.7,687.4 512.7,686.2 514.8,684.9 516.8,683.7 518.9,682.5 521,681.7 523,680.9 525.1,680.2 527.1,679.2 529.2,678.1 531.2,677.1 533.3,675.8 535.4,674.3 537.4,672.9 539.5,671.5 541.5,670.2 543.6,669.1 545.6,667.9 547.7,666.8 547.7,674 545.6,675.2 543.6,676.4 541.5,677.7 539.5,678.9 537.4,680.1 535.4,681.4 533.3,682.6 531.2,683.7 529.2,684.5 527.1,685.2 525.1,686 523,687.6 521,689.1 518.9,690.7 516.8,691.6 514.8,692.4 512.7,693.2 510.7,693.2 508.6,692.7 506.6,692.2 504.5,691.6 502.5,690.9 500.4,690.1 498.3,689.3 496.3,687.5 494.2,685.7" fill="#bdbde6" stroke="none" stroke-width="1" fill-opacity="0.85"/>
<polygon points="547.7,666.8 549.8,667.2 551.9,667.7 554,668.2 556.1,669.3 558.1,671.4 560.2,673.5 562.3,675.2 564.4,675.4 566.5,675.7 568.6,676 568.6,671.5 566.5,670.6 564.4,670.1 562.3,670.1 560.2,670.1 558.1,670.1 556.1,670.5 554,671.3 551.9,672.1 549.8,673 547.7,674" fill="#eebcee" stroke="none" stroke-width="1" fill-opacity="0.85"/>
<polygon points="568.6,676 570.7,675.7 572.8,675.4 574.9,675.2 577.1,674.2 579.2,673.2 581.3,672.1 583.4,671.4 585.5,670.9 587.6,670.4 589.8,669.6 591.9,668.5 594,667.4 596.1,666.6 598.2,666.3 600.3,665.9 600.3,670.6 598.2,671 596.1,671.5 594,671.9 591.9,672.3 589.8,672.7 587.6,673.2 585.5,673.6 583.4,674 581.3,674.2 579.2,674 577.1,673.8 574.9,673.6 572.8,673.2 570.7,672.3 568.6,671.5" fill="#bdbde6" stroke="none" stroke-width="1" fill-opacity="0.85"/>
<polygon points="600.3,665.9 602.8,666.4 605.4,666.8 605.4,669.6 602.8,670.1 600.3,670.6" fill="#eebcee" stroke="none" stroke-width="1" fill-opacity="0.85"/>
<polygon points="605.4,666.8 607.5,666.2 609.7,665.7 611.9,665.1 614,661.8 616.2,658.1 618.4,654.5 620.6,650.7 622.7,647 624.9,645.5 627.1,644.2 627.1,657.8 624.9,659.3 622.7,660.8 620.6,662.3 618.4,663.8 616.2,665.4 614,666.5 611.9,667.3 609.7,668.2 607.5,669.1 605.4,669.6" fill="#bdbde6" stroke="none" stroke-width="1" fill-opacity="0.85"/>
<polygon points="627.1,644.2 629.1,644.6 631.1,645 633.2,645.4 635.2,645.8 637.2,646.7 639.3,647.5 641.3,648.4 641.3,649.9 639.3,650.7 637.2,651.7 635.2,652.7 633.2,653.7 631.1,654.9 629.1,656.3 627.1,657.8" fill="#eebcee" stroke="none" stroke-width="1" fill-opacity="0.85"/>
<polygon points="641.3,648.4 643.4,647 645.6,645.5 647.7,644.1 649.8,642.6 652,641 654.1,639.4 656.2,637.9 658.4,636.5 660.5,635 660.5,638.4 658.4,640.2 656.2,642.1 654.1,644 652,645.8 649.8,647.5 647.7,648.6 645.6,649 643.4,649.5 641.3,649.9" fill="#bdbde6" stroke="none" stroke-width="1" fill-opacity="0.85"/>
<polygon points="660.5,635 663,636.1 665.5,637.3 668,638.4 668,636.7 665.5,637.3 663,637.8 660.5,638.4" fill="#eebcee" stroke="none" stroke-width="1" fill-opacity="0.85"/>
<polygon points="668,638.4 670,640.4 672,642.4 674,644.4 676.1,646.4 678.1,648.4 680.1,650.5 682.1,652.5 684.1,654.5 686.1,655.9 688.2,657.1 690.2,658.4 692.2,659.6 694.2,660.3 696.2,660.7 698.2,661 700.2,661.4 702.3,661.8 702.3,656.2 700.2,655.1 698.2,653.7 696.2,652.3 694.2,650.9 692.2,649.4 690.2,648 688.2,646.6 686.1,645.2 684.1,644 682.1,643.2 680.1,642.4 678.1,641.6 676.1,640.7 674,639.7 672,638.7 670,637.7 668,636.7" fill="#eebcee" stroke="none" stroke-width="1" fill-opacity="0.85"/>
<polygon points="702.3,661.8 704.3,661.5 706.4,661.2 708.5,660.9 710.6,660.7 712.7,660.4 714.8,660.1 714.8,659.8 712.7,659.6 710.6,659.3 708.5,658.8 706.4,657.9 704.3,657.1 702.3,656.2" fill="#bdbde6" stroke="none" stroke-width="1" fill-opacity="0.85"/>
<polygon points="714.8,660.1 717,660.4 719.2,660.7 721.5,660.9 721.5,659.8 719.2,660 717,660 714.8,659.8" fill="#eebcee" stroke="none" stroke-width="1" fill-opacity="0.85"/>
<polygon points="721.5,660.9 723.7,659.8 725.9,658.7 728.2,657.6 728.2,659.1 725.9,659.3 723.7,659.5 721.5,659.8" fill="#bdbde6" stroke="none" stroke-width="1" fill-opacity="0.85"/>
<polygon points="728.2,657.6 730.2,657.6 732.3,657.6 734.4,657.6 736.5,657.6 738.6,657.6 740.7,657.6 742.8,657.6 744.9,657.6 744.9,657.9 742.8,658.4 740.7,658.4 738.6,658.4 736.5,658.4 734.4,658.5 732.3,658.7 730.2,658.9 728.2,659.1" fill="#eebcee" stroke="none" stroke-width="1" fill-opacity="0.85"/>
<polygon points="744.9,657.6 747,656.3 749,655 751.1,653.7 753.2,651.7 755.3,649.6 757.4,647.6 757.4,653.6 755.3,654.4 753.2,655.2 751.1,656 749,656.7 747,657.3 744.9,657.9" fill="#bdbde6" stroke="none" stroke-width="1" fill-opacity="0.85"/>
<polygon points="757.4,647.6 759.4,648.5 761.4,649.3 763.4,650.2 765.4,651.1 767.4,651.8 769.4,652.6 771.4,653.3 773.4,655.2 775.5,657.3 777.5,659.3 777.5,654.3 775.5,654 773.4,653.6 771.4,653.2 769.4,652.8 767.4,652.6 765.4,652.6 763.4,652.6 761.4,652.6 759.4,652.8 757.4,653.6" fill="#eebcee" stroke="none" stroke-width="1" fill-opacity="0.85"/>
<polygon points="777.5,659.3 779.5,658.1 781.6,657 783.6,655.8 785.7,654.9 787.7,654.3 789.8,653.6 791.8,653 793.9,652.4 795.9,651.6 798,650.8 800,650.1 800,653.7 798,654.2 795.9,654.6 793.9,655 791.8,655.1 789.8,655.1 787.7,655.1 785.7,655.1 783.6,654.9 781.6,654.7 779.5,654.5 777.5,654.3" fill="#bdbde6" stroke="none" stroke-width="1" fill-opacity="0.85"/>
<polygon points="800,650.1 802.2,650.6 804.3,651.1 806.5,651.7 808.7,653 810.8,654.3 813,655.7 815.1,658.5 817.3,661.8 819.4,665 821.6,667 823.8,668.6 825.9,670.1 825.9,658.8 823.8,657.8 821.6,656.7 819.4,655.6 817.3,654.7 815.1,654.1 813,653.5 810.8,652.8 808.7,652.7 806.5,652.9 804.3,653.1 802.2,653.4 800,653.7" fill="#eebcee" stroke="none" stroke-width="1" fill-opacity="0.85"/>
<polygon points="825.9,670.1 827.9,668.7 830,667.2 832,665.7 834,663.3 836,661 838,658.3 840.1,655.4 842.1,652.5 844.1,651.6 846.1,651.4 848.1,651.1 850.2,650.9 850.2,659.8 848.1,660.4 846.1,661 844.1,661.6 842.1,661.9 840.1,662.1 838,662.3 836,662.5 834,662.2 832,661.3 830,660.5 827.9,659.7 825.9,658.8" fill="#bdbde6" stroke="none" stroke-width="1" fill-opacity="0.85"/>
<polygon points="850.2,650.9 852.3,653.8 854.4,656.8 856.6,659.7 858.7,661.3 860.8,662.6 863,663.9 865.1,664.9 867.2,665.9 869.4,666.8 869.4,660.2 867.2,659.7 865.1,659.1 863,658.4 860.8,657.8 858.7,657.9 856.6,658.3 854.4,658.7 852.3,659.2 850.2,659.8" fill="#eebcee" stroke="none" stroke-width="1" fill-opacity="0.85"/>
<polygon points="869.4,666.8 871.4,665 873.4,663.3 875.4,661.3 877.4,656.9 879.5,652.6 881.5,649.8 883.5,648 885.5,646.3 887.5,644.5 889.6,642.7 891.6,641 893.6,639.2 893.6,649.6 891.6,651.9 889.6,654 887.5,655.8 885.5,657.6 883.5,659.3 881.5,659.8 879.5,660.3 877.4,660.8 875.4,660.8 873.4,660.6 871.4,660.4 869.4,660.2" fill="#bdbde6" stroke="none" stroke-width="1" fill-opacity="0.85"/>
<polygon points="893.6,639.2 895.7,639.4 897.8,639.5 899.9,639.7 902,639.8 904,640 906.1,640.6 908.2,642 910.3,643.4 910.3,642 908.2,642.3 906.1,642.5 904,643 902,643.9 899.9,644.7 897.8,645.6 895.7,647.3 893.6,649.6" fill="#eebcee" stroke="none" stroke-width="1" fill-opacity="0.85"/>
<polygon points="910.3,643.4 912.4,643 914.5,642.5 916.6,642.1 918.7,641.7 918.7,641.7 916.6,641.7 914.5,641.7 912.4,641.8 910.3,642" fill="#bdbde6" stroke="none" stroke-width="1" fill-opacity="0.85"/>
<polygon points="918.7,641.7 920.8,642.2 922.8,642.8 924.9,643.3 927,643.8 929.1,644.5 931.2,646.1 933.3,647.7 935.4,649.2 937.5,650.6 939.6,652 941.6,653.4 943.7,656.3 945.8,661.3 947.9,666.4 950,671.3 952.1,676 954.2,680.7 956.3,685 958.4,688.9 960.4,692.7 960.4,670.1 958.4,667 956.3,663.9 954.2,660.7 952.1,657.8 950,654.9 947.9,652.1 945.8,650.3 943.7,649.2 941.6,648.2 939.6,647.1 937.5,646.2 935.4,645.4 933.3,644.6 931.2,643.7 929.1,643.1 927,642.7 924.9,642.3 922.8,641.9 920.8,641.7 918.7,641.7" fill="#eebcee" stroke="none" stroke-width="1" fill-opacity="0.85"/>
<polygon points="960.4,692.7 962.6,688.7 964.7,684.7 966.8,680.7 968.9,677 971.1,673.3 973.2,669.6 975.3,666.6 977.4,664 979.5,661.3 981.7,659.3 983.8,657.9 985.9,656.5 988,655.1 988,670.1 985.9,672.7 983.8,675.2 981.7,676.2 979.5,677.3 977.4,678.3 975.3,678.1 973.2,677.7 971.1,677.3 968.9,676.8 966.8,675.2 964.7,673.5 962.6,671.8 960.4,670.1" fill="#bdbde6" stroke="none" stroke-width="1" fill-opacity="0.85"/>
<polygon points="988,655.1 990.1,653 992.2,650.9 994.3,648.8 996.4,646.7 998.4,645.5 1000.5,644.2 1002.6,643 1004.7,641.7 1006.8,641.3 1008.9,640.9 1008.9,648.1 1006.8,649.3 1004.7,650.9 1002.6,652.5 1000.5,654.3 998.4,656.7 996.4,659 994.3,661.5 992.2,664.4 990.1,667.2 988,670.1" fill="#bdbde6" stroke="none" stroke-width="1" fill-opacity="0.85"/>
<polygon points="1008.9,640.9 1010.9,641.1 1013,641.2 1015,641.4 1017.1,641.6 1019.1,641.9 1021.1,642.3 1023.2,642.6 1025.2,643 1027.3,643.4 1027.3,642.5 1025.2,642.8 1023.2,643.4 1021.1,643.9 1019.1,644.4 1017.1,644.9 1015,645.6 1013,646.4 1010.9,647.2 1008.9,648.1" fill="#eebcee" stroke="none" stroke-width="1" fill-opacity="0.85"/>
<polygon points="1027.3,643.4 1029.4,642.8 1031.5,642.2 1033.7,641.6 1035.8,641.1 1037.9,640.4 1040.1,639.7 1042.2,639 1044.4,638.2 1046.5,637.5 1046.5,640.5 1044.4,640.8 1042.2,641.1 1040.1,641.4 1037.9,641.7 1035.8,641.9 1033.7,642 1031.5,642.2 1029.4,642.3 1027.3,642.5" fill="#bdbde6" stroke="none" stroke-width="1" fill-opacity="0.85"/>
<polygon points="1046.5,637.5 1048.5,637.7 1050.5,637.8 1052.5,638 1054.5,638.1 1056.5,638.2 1058.5,638.4 1060.5,638.8 1062.5,639.2 1064.5,639.6 1066.5,640 1066.5,638.4 1064.5,638.4 1062.5,638.4 1060.5,638.5 1058.5,638.8 1056.5,639.1 1054.5,639.4 1052.5,639.7 1050.5,639.9 1048.5,640.2 1046.5,640.5" fill="#eebcee" stroke="none" stroke-width="1" fill-opacity="0.85"/>
<polygon points="1066.5,640 1068.8,639.2 1071.1,638.4 1071.1,638.4 1068.8,638.4 1066.5,638.4" fill="#bdbde6" stroke="none" stroke-width="1" fill-opacity="0.85"/>
<polygon points="1071.1,638.4 1073.2,638.7 1075.4,639.1 1077.6,639.4 1079.8,639.8 1082,640.1 1084.2,640.5 1086.4,640.9 1088.6,641.3 1090.8,641.7 1090.8,640.7 1088.6,640.4 1086.4,640 1084.2,639.6 1082,639.3 1079.8,639.1 1077.6,638.9 1075.4,638.7 1073.2,638.5 1071.1,638.4" fill="#eebcee" stroke="none" stroke-width="1" fill-opacity="0.85"/>
<polygon points="1090.8,641.7 1093,641.5 1095.2,641.2 1097.4,641 1099.5,640.6 1101.7,640 1103.9,639.5 1106.1,638.9 1108.3,638.4 1108.3,640.5 1106.1,640.7 1103.9,640.8 1101.7,640.9 1099.5,640.9 1097.4,640.9 1095.2,640.9 1093,640.9 1090.8,640.7" fill="#bdbde6" stroke="none" stroke-width="1" fill-opacity="0.85"/>
<polygon points="1108.3,638.4 1110.4,639 1112.4,639.6 1114.4,640.2 1116.5,640.8 1118.5,641 1120.6,641.2 1122.6,641.4 1124.7,641.5 1126.7,641.7 1126.7,640.5 1124.7,640.6 1122.6,640.8 1120.6,640.8 1118.5,640.7 1116.5,640.6 1114.4,640.5 1112.4,640.4 1110.4,640.4 1108.3,640.5" fill="#eebcee" stroke="none" stroke-width="1" fill-opacity="0.85"/>
<polygon points="1126.7,641.7 1129,640.5 1131.4,639.4 1133.7,638.2 1136.1,637 1138.4,635.9 1138.4,640 1136.1,640 1133.7,640 1131.4,640.1 1129,640.3 1126.7,640.5" fill="#bdbde6" stroke="none" stroke-width="1" fill-opacity="0.85"/>
<polygon points="1138.4,635.9 1140.5,637.3 1142.6,638.8 1144.7,640.2 1146.8,641.7 1148.8,643 1150.9,644.2 1153,645.5 1155.1,646.7 1157.2,647.1 1159.3,647.6 1161.4,648 1163.5,648.4 1163.5,643.9 1161.4,643 1159.3,642.4 1157.2,642 1155.1,641.5 1153,641.1 1150.9,640.8 1148.8,640.6 1146.8,640.5 1144.7,640.3 1142.6,640.1 1140.5,640 1138.4,640" fill="#eebcee" stroke="none" stroke-width="1" fill-opacity="0.85"/>
<polygon points="1163.5,648.4 1165.5,647.6 1167.6,646.8 1169.6,645.9 1171.6,645.1 1173.7,644.1 1175.7,643.1 1177.8,642.1 1179.8,641.1 1181.9,639.9 1183.9,638.6 1185.9,637.4 1188,636.2 1190,635.8 1192.1,635.6 1194.1,635.5 1196.1,635.3 1198.2,635.2 1200.2,635 1200.2,637.5 1198.2,638.6 1196.1,639.6 1194.1,640.6 1192.1,641.5 1190,642.3 1188,643.1 1185.9,643.9 1183.9,644.5 1181.9,644.9 1179.8,645.3 1177.8,645.7 1175.7,645.9 1173.7,645.9 1171.6,645.9 1169.6,645.9 1167.6,645.5 1165.5,644.7 1163.5,643.9" fill="#bdbde6" stroke="none" stroke-width="1" fill-opacity="0.85"/>
<polygon points="1200.2,635 1202.6,635.2 1204.9,635.4 1207.3,635.5 1209.6,635.7 1211.9,635.9 1211.9,636.4 1209.6,636.4 1207.3,636.5 1204.9,636.6 1202.6,636.7 1200.2,637.5" fill="#eebcee" stroke="none" stroke-width="1" fill-opacity="0.85"/>
<polygon points="1211.9,635.9 1214,636.2 1216.1,636.6 1218.2,636.9 1220.3,637.3 1222.4,637.5 1224.5,637.3 1226.6,637.2 1228.6,637 1230.7,636.9 1232.8,636.7 1234.9,636.5 1237,636.4 1237,636.9 1234.9,636.8 1232.8,636.7 1230.7,636.7 1228.6,636.8 1226.6,636.9 1224.5,636.9 1222.4,637 1220.3,636.9 1218.2,636.8 1216.1,636.6 1214,636.5 1211.9,636.4" fill="#bdbde6" stroke="none" stroke-width="1" fill-opacity="0.85"/>
<polygon points="1237,636.4 1239.1,638.1 1241.3,639.8 1243.4,641.5 1245.6,644.3 1247.7,647.2 1249.9,650.1 1249.9,641.7 1247.7,640.4 1245.6,639.2 1243.4,637.9 1241.3,637 1239.1,636.9 1237,636.9" fill="#eebcee" stroke="none" stroke-width="1" fill-opacity="0.85"/>
<polygon points="28,690.2 38.9,672.6 42.1,672.6 31.2,690.2" fill="#c9efc4" stroke="none" stroke-width="1" />
<polygon points="38.9,672.6 44.7,676.8 49.7,698.5 55.6,718.6 60.6,725.3 63.8,725.3 58.8,718.6 52.9,698.5 47.9,676.8 42.1,672.6" fill="#f7c6c6" stroke="none" stroke-width="1" />
<polygon points="60.6,725.3 69.8,711.9 73,711.9 63.8,725.3" fill="#c9efc4" stroke="none" stroke-width="1" />
<polygon points="69.8,711.9 76.5,716.1 79.7,716.1 73,711.9" fill="#f7c6c6" stroke="none" stroke-width="1" />
<polygon points="76.5,716.1 84.8,705.2 89.8,688.5 94.8,668.4 99.9,650.1 105.7,640 108.9,640 103.1,650.1 98,668.4 93,688.5 88,705.2 79.7,716.1" fill="#c9efc4" stroke="none" stroke-width="1" />
<polygon points="105.7,640 111.6,648.4 116.6,668.4 123.3,688.5 129.9,703.5 136.6,716.9 143.3,740.3 150,742.8 153.2,742.8 146.5,740.3 139.8,716.9 133.1,703.5 126.5,688.5 119.8,668.4 114.8,648.4 108.9,640" fill="#f7c6c6" stroke="none" stroke-width="1" />
<polygon points="150,742.8 161.7,725.3 166.7,717.7 171.7,691.8 178.4,671.8 185.1,650.1 190.1,642.5 197.6,640 200.8,640 193.3,642.5 188.3,650.1 181.6,671.8 174.9,691.8 169.9,717.7 164.9,725.3 153.2,742.8" fill="#c9efc4" stroke="none" stroke-width="1" />
<polygon points="197.6,640 205.1,646.7 210.2,660.1 216.8,668.4 223.5,676 226.7,676 220,668.4 213.4,660.1 208.3,646.7 200.8,640" fill="#f7c6c6" stroke="none" stroke-width="1" />
<polygon points="223.5,676 228.5,663.4 235.2,648.4 241.1,637.5 244.3,637.5 238.4,648.4 231.7,663.4 226.7,676" fill="#c9efc4" stroke="none" stroke-width="1" />
<polygon points="241.1,637.5 246.9,644.2 250.1,644.2 244.3,637.5" fill="#f7c6c6" stroke="none" stroke-width="1" />
<polygon points="246.9,644.2 253.6,643.4 260.3,641.7 267,640 270.2,640 263.5,641.7 256.8,643.4 250.1,644.2" fill="#c9efc4" stroke="none" stroke-width="1" />
<polygon points="267,640 273.7,646.7 278.7,655.1 283.7,680.1 290.4,718.6 296.2,742 299.4,742 293.6,718.6 286.9,680.1 281.9,655.1 276.9,646.7 270.2,640" fill="#f7c6c6" stroke="none" stroke-width="1" />
<polygon points="296.2,742 302.1,728.6 307.1,708.6 312.1,683.5 317.1,661.8 323,650.1 328.8,647.6 332,647.6 326.2,650.1 320.3,661.8 315.3,683.5 310.3,708.6 305.3,728.6 299.4,742" fill="#c9efc4" stroke="none" stroke-width="1" />
<polygon points="328.8,647.6 337.2,653.4 343.8,663.4 348,670.1 351.2,670.1 347,663.4 340.4,653.4 332,647.6" fill="#f7c6c6" stroke="none" stroke-width="1" />
<polygon points="348,670.1 353,688.5 358.9,706.9 364.7,721.1 367.9,721.1 362.1,706.9 356.2,688.5 351.2,670.1" fill="#f7c6c6" stroke="none" stroke-width="1" />
<polygon points="364.7,721.1 371.4,718.6 374.6,718.6 367.9,721.1" fill="#c9efc4" stroke="none" stroke-width="1" />
<polygon points="371.4,718.6 377.2,727.8 388.9,737.8 392.1,737.8 380.4,727.8 374.6,718.6" fill="#f7c6c6" stroke="none" stroke-width="1" />
<polygon points="388.9,737.8 395.6,728.6 399.8,708.6 404,683.5 407.3,666.8 413.2,655.9 416.4,655.9 410.5,666.8 407.2,683.5 403,708.6 398.8,728.6 392.1,737.8" fill="#c9efc4" stroke="none" stroke-width="1" />
<polygon points="413.2,655.9 418.2,663.4 421.5,683.5 425.7,703.5 431.6,715.2 438.2,719.4 441.4,719.4 434.8,715.2 428.9,703.5 424.7,683.5 421.4,663.4 416.4,655.9" fill="#f7c6c6" stroke="none" stroke-width="1" />
<polygon points="438.2,719.4 443.3,708.6 447.4,691.8 451.6,675.1 456.6,663.4 461.6,656.8 464.8,656.8 459.8,663.4 454.8,675.1 450.6,691.8 446.5,708.6 441.4,719.4" fill="#c9efc4" stroke="none" stroke-width="1" />
<polygon points="461.6,656.8 467.5,666.8 473.3,673.5 478.3,688.5 483.4,708.6 488.4,726.9 493.4,742 496.6,742 491.6,726.9 486.6,708.6 481.5,688.5 476.5,673.5 470.7,666.8 464.8,656.8" fill="#f7c6c6" stroke="none" stroke-width="1" />
<polygon points="493.4,742 499.2,733.6 505.1,711.9 510.9,703.5 516.8,688.5 523.5,681.8 530.2,676.8 536.8,666.8 542.7,658.4 547.7,654.7 550.9,654.7 545.9,658.4 540,666.8 533.4,676.8 526.7,681.8 520,688.5 514.1,703.5 508.3,711.9 502.4,733.6 496.6,742" fill="#c9efc4" stroke="none" stroke-width="1" />
<polygon points="547.7,654.7 554.4,663.4 558.6,676.8 561.9,688.5 566.9,691.8 573.6,693.5 576.8,693.5 570.1,691.8 565.1,688.5 561.8,676.8 557.6,663.4 550.9,654.7" fill="#f7c6c6" stroke="none" stroke-width="1" />
<polygon points="573.6,693.5 580.3,683.5 587,675.1 593.7,663.4 598.7,655.9 605.4,655.9 608.6,655.9 601.9,655.9 596.9,663.4 590.2,675.1 583.5,683.5 576.8,693.5" fill="#c9efc4" stroke="none" stroke-width="1" />
<polygon points="605.4,655.9 608.7,660.9 611.9,660.9 608.6,655.9" fill="#f7c6c6" stroke="none" stroke-width="1" />
<polygon points="608.7,660.9 615.4,656.8 622.1,644.2 628.7,642.5 631.9,642.5 625.3,644.2 618.6,656.8 611.9,660.9" fill="#c9efc4" stroke="none" stroke-width="1" />
<polygon points="628.7,642.5 635.4,651.7 643,661.8 646.2,661.8 638.6,651.7 631.9,642.5" fill="#f7c6c6" stroke="none" stroke-width="1" />
<polygon points="643,661.8 650.5,653.4 655.5,643.4 660.5,635 663.7,635 658.7,643.4 653.7,653.4 646.2,661.8" fill="#c9efc4" stroke="none" stroke-width="1" />
<polygon points="660.5,635 668,641.7 671.2,641.7 663.7,635" fill="#f7c6c6" stroke="none" stroke-width="1" />
<polygon points="668,640 676.4,653.4 684.7,668.4 691.4,685.2 696.4,700.2 702.3,716.1 708.9,723.6 712.1,723.6 705.5,716.1 699.6,700.2 694.6,685.2 687.9,668.4 679.6,653.4 671.2,640" fill="#f7c6c6" stroke="none" stroke-width="1" />
<polygon points="708.9,722.8 720.6,721.6 724,708.6 727.3,697.7 732.3,696.9 736.5,688.5 739.9,683.5 743.1,683.5 739.7,688.5 735.5,696.9 730.5,697.7 727.2,708.6 723.8,721.6 712.1,722.8" fill="#c9efc4" stroke="none" stroke-width="1" />
<polygon points="739.9,683.5 745.2,683.5 748.4,683.5 743.1,683.5" fill="#f7c6c6" stroke="none" stroke-width="1" />
<polygon points="745.2,683.5 751.6,666.8 756.6,652.6 759.8,652.6 754.8,666.8 748.4,683.5" fill="#c9efc4" stroke="none" stroke-width="1" />
<polygon points="756.6,652.6 759.9,656.8 764.1,662.6 769.9,667.6 776.6,683.5 779.8,683.5 773.1,667.6 767.3,662.6 763.1,656.8 759.8,652.6" fill="#f7c6c6" stroke="none" stroke-width="1" />
<polygon points="776.6,683.5 781.6,675.1 784.8,675.1 779.8,683.5" fill="#c9efc4" stroke="none" stroke-width="1" />
<polygon points="781.6,675.1 788.3,680.1 795,687.7 801.7,690.2 808.4,696 813.4,698.5 816.7,711.9 820.1,728.6 825.1,734.5 828.3,734.5 823.3,728.6 819.9,711.9 816.6,698.5 811.6,696 804.9,690.2 798.2,687.7 791.5,680.1 784.8,675.1" fill="#f7c6c6" stroke="none" stroke-width="1" />
<polygon points="825.1,734.5 831.8,720.3 836.8,691.8 842.6,669.3 850.2,665.1 853.4,665.1 845.8,669.3 840,691.8 835,720.3 828.3,734.5" fill="#c9efc4" stroke="none" stroke-width="1" />
<polygon points="850.2,665.1 851.8,670.1 856.8,686.8 861.9,701.9 868.5,712.7 871.7,712.7 865.1,701.9 860,686.8 855,670.1 853.4,665.1" fill="#f7c6c6" stroke="none" stroke-width="1" />
<polygon points="868.5,712.7 871,701.9 876.1,683.5 880.2,669.3 886.9,656.8 893.6,646.7 896.8,646.7 890.1,656.8 883.4,669.3 879.3,683.5 874.2,701.9 871.7,712.7" fill="#c9efc4" stroke="none" stroke-width="1" />
<polygon points="893.6,646.7 899.8,648.4 903,648.4 896.8,646.7" fill="#f7c6c6" stroke="none" stroke-width="1" />
<polygon points="899.8,648.4 905,647.6 908.2,647.6 903,648.4" fill="#c9efc4" stroke="none" stroke-width="1" />
<polygon points="905,647.6 911.1,651.7 914.3,651.7 908.2,647.6" fill="#f7c6c6" stroke="none" stroke-width="1" />
<polygon points="911.1,651.7 917,651.7 920.2,651.7 914.3,651.7" fill="#c9efc4" stroke="none" stroke-width="1" />
<polygon points="917,651.7 923.7,655.1 930.4,663.4 937.1,680.1 943.7,700.2 948.7,720.3 955.4,723.6 958.6,723.6 951.9,720.3 946.9,700.2 940.3,680.1 933.6,663.4 926.9,655.1 920.2,651.7" fill="#f7c6c6" stroke="none" stroke-width="1" />
<polygon points="955.4,723.6 961.3,715.2 965.5,695.2 970.5,675.1 977.2,661.8 982.2,650.1 985.5,645.1 988,645.1 991.2,645.1 988.7,645.1 985.4,650.1 980.4,661.8 973.7,675.1 968.7,695.2 964.5,715.2 958.6,723.6" fill="#c9efc4" stroke="none" stroke-width="1" />
<polygon points="988,645.1 996.4,638.4 1004.7,637 1007.9,637 999.6,638.4 991.2,645.1" fill="#c9efc4" stroke="none" stroke-width="1" />
<polygon points="1004.7,637 1009.7,640 1016.4,650.1 1023.1,663.4 1028.9,670.1 1032.1,670.1 1026.3,663.4 1019.6,650.1 1012.9,640 1007.9,637" fill="#f7c6c6" stroke="none" stroke-width="1" />
<polygon points="1028.9,670.1 1033.1,665.1 1039.8,660.1 1046.5,646.7 1049.7,646.7 1043,660.1 1036.3,665.1 1032.1,670.1" fill="#c9efc4" stroke="none" stroke-width="1" />
<polygon points="1046.5,646.7 1053.2,650.1 1059.9,650.9 1066.5,655.9 1069.7,655.9 1063.1,650.9 1056.4,650.1 1049.7,646.7" fill="#f7c6c6" stroke="none" stroke-width="1" />
<polygon points="1066.5,655.9 1073.2,650.1 1076.4,650.1 1069.7,655.9" fill="#c9efc4" stroke="none" stroke-width="1" />
<polygon points="1073.2,650.1 1078.2,653.4 1084.9,661.8 1091.6,669.3 1096.6,673.5 1099.8,673.5 1094.8,669.3 1088.1,661.8 1081.4,653.4 1076.4,650.1" fill="#f7c6c6" stroke="none" stroke-width="1" />
<polygon points="1096.6,673.5 1101.6,668.4 1108.3,660.9 1111.5,660.9 1104.8,668.4 1099.8,673.5" fill="#c9efc4" stroke="none" stroke-width="1" />
<polygon points="1108.3,660.9 1115,665.1 1120.9,672.6 1126.7,672.6 1129.9,672.6 1124.1,672.6 1118.2,665.1 1111.5,660.9" fill="#f7c6c6" stroke="none" stroke-width="1" />
<polygon points="1126.7,672.6 1130,663.4 1135.1,650.1 1138.4,643.4 1141.6,643.4 1138.3,650.1 1133.2,663.4 1129.9,672.6" fill="#c9efc4" stroke="none" stroke-width="1" />
<polygon points="1138.4,643.4 1141.7,646.7 1146.8,658.4 1151.8,673.5 1156.8,681.8 1165.1,686.8 1168.3,686.8 1160,681.8 1155,673.5 1150,658.4 1144.9,646.7 1141.6,643.4" fill="#f7c6c6" stroke="none" stroke-width="1" />
<polygon points="1165.1,686.8 1171.8,680.1 1178.5,668.4 1183.5,658.4 1188.5,645.9 1195.2,641.7 1200.2,636.7 1203.4,636.7 1198.4,641.7 1191.7,645.9 1186.7,658.4 1181.7,668.4 1175,680.1 1168.3,686.8" fill="#c9efc4" stroke="none" stroke-width="1" />
<polygon points="1200.2,636.7 1206.9,641.7 1211.9,644.2 1219.5,648.4 1222.7,648.4 1215.1,644.2 1210.1,641.7 1203.4,636.7" fill="#f7c6c6" stroke="none" stroke-width="1" />
<polygon points="1219.5,648.4 1225.3,645.9 1232,644.2 1237,643.4 1240.2,643.4 1235.2,644.2 1228.5,645.9 1222.7,648.4" fill="#c9efc4" stroke="none" stroke-width="1" />
<polygon points="1237,643.4 1240.3,650.1 1243.7,666.8 1247,685.2 1249.9,697.7 1253.1,697.7 1250.2,685.2 1246.9,666.8 1243.5,650.1 1240.2,643.4" fill="#f7c6c6" stroke="none" stroke-width="1" />
<line x1="28" y1="633.5" x2="1250" y2="633.5" stroke="#000" stroke-width="1.2" />
<line x1="28" y1="658.5" x2="1250" y2="658.5" stroke="#000" stroke-width="1.2" />
<line x1="28" y1="732.5" x2="1250" y2="732.5" stroke="#000" stroke-width="1.2" />
<line x1="28" y1="757.5" x2="1250" y2="757.5" stroke="#000" stroke-width="1.2" />
<line x1="28" y1="695.5" x2="1250" y2="695.5" stroke="#1010c8" stroke-width="2.1" stroke-dasharray="5,5" />
<polyline points="31.2,690.2 42.1,672.6 47.9,676.8 52.9,698.5 58.8,718.6 63.8,725.3 73,711.9 79.7,716.1 88,705.2 93,688.5 98,668.4 103.1,650.1 108.9,640 114.8,648.4 119.8,668.4 126.5,688.5 133.1,703.5 139.8,716.9 146.5,740.3 153.2,742.8 164.9,725.3 169.9,717.7 174.9,691.8 181.6,671.8 188.3,650.1 193.3,642.5 200.8,640 208.3,646.7 213.4,660.1 220,668.4 226.7,676 231.7,663.4 238.4,648.4 244.3,637.5 250.1,644.2 256.8,643.4 263.5,641.7 270.2,640 276.9,646.7 281.9,655.1 286.9,680.1 293.6,718.6 299.4,742 305.3,728.6 310.3,708.6 315.3,683.5 320.3,661.8 326.2,650.1 332,647.6 340.4,653.4 347,663.4 351.2,670.1 356.2,688.5 362.1,706.9 367.9,721.1 374.6,718.6 380.4,727.8 392.1,737.8 398.8,728.6 403,708.6 407.2,683.5 410.5,666.8 416.4,655.9 421.4,663.4 424.7,683.5 428.9,703.5 434.8,715.2 441.4,719.4 446.5,708.6 450.6,691.8 454.8,675.1 459.8,663.4 464.8,656.8 470.7,666.8 476.5,673.5 481.5,688.5 486.6,708.6 491.6,726.9 496.6,742 502.4,733.6 508.3,711.9 514.1,703.5 520,688.5 526.7,681.8 533.4,676.8 540,666.8 545.9,658.4 550.9,654.7 557.6,663.4 561.8,676.8 565.1,688.5 570.1,691.8 576.8,693.5 583.5,683.5 590.2,675.1 596.9,663.4 601.9,655.9 608.6,655.9 611.9,660.9 618.6,656.8 625.3,644.2 631.9,642.5 638.6,651.7 646.2,661.8 653.7,653.4 658.7,643.4 663.7,635 671.2,641.7 679.6,653.4 687.9,668.4 694.6,685.2 699.6,700.2 705.5,716.1 712.1,723.6 723.8,721.6 727.2,708.6 730.5,697.7 735.5,696.9 739.7,688.5 743.1,683.5 748.4,683.5 754.8,666.8 759.8,652.6 763.1,656.8 767.3,662.6 773.1,667.6 779.8,683.5 784.8,675.1 791.5,680.1 798.2,687.7 804.9,690.2 811.6,696 816.6,698.5 819.9,711.9 823.3,728.6 828.3,734.5 835,720.3 840,691.8 845.8,669.3 853.4,665.1 855,670.1 860,686.8 865.1,701.9 871.7,712.7 874.2,701.9 879.3,683.5 883.4,669.3 890.1,656.8 896.8,646.7 903,648.4 908.2,647.6 914.3,651.7 920.2,651.7 926.9,655.1 933.6,663.4 940.3,680.1 946.9,700.2 951.9,720.3 958.6,723.6 964.5,715.2 968.7,695.2 973.7,675.1 980.4,661.8 985.4,650.1 988.7,645.1 991.2,645.1 999.6,638.4 1007.9,637 1012.9,640 1019.6,650.1 1026.3,663.4 1032.1,670.1 1036.3,665.1 1043,660.1 1049.7,646.7 1056.4,650.1 1063.1,650.9 1069.7,655.9 1076.4,650.1 1081.4,653.4 1088.1,661.8 1094.8,669.3 1099.8,673.5 1104.8,668.4 1111.5,660.9 1118.2,665.1 1124.1,672.6 1129.9,672.6 1133.2,663.4 1138.3,650.1 1141.6,643.4 1144.9,646.7 1150,658.4 1155,673.5 1160,681.8 1168.3,686.8 1175,680.1 1181.7,668.4 1186.7,658.4 1191.7,645.9 1198.4,641.7 1203.4,636.7 1210.1,641.7 1215.1,644.2 1222.7,648.4 1228.5,645.9 1235.2,644.2 1240.2,643.4 1243.5,650.1 1246.9,666.8 1250.2,685.2 1253.1,697.7" fill="none" stroke="#222" stroke-width="0.9" stroke-dasharray="3,2" />
<polyline points="28,690.2 38.9,672.6" fill="none" stroke="#000" stroke-width="1.5" stroke-linejoin="round"/>
<polyline points="38.9,672.6 44.7,676.8 49.7,698.5 55.6,718.6 60.6,725.3" fill="none" stroke="#e01818" stroke-width="1.5" stroke-linejoin="round"/>
<polyline points="60.6,725.3 69.8,711.9" fill="none" stroke="#000" stroke-width="1.5" stroke-linejoin="round"/>
<polyline points="69.8,711.9 76.5,716.1" fill="none" stroke="#e01818" stroke-width="1.5" stroke-linejoin="round"/>
<polyline points="76.5,716.1 84.8,705.2 89.8,688.5 94.8,668.4 99.9,650.1 105.7,640" fill="none" stroke="#000" stroke-width="1.5" stroke-linejoin="round"/>
<polyline points="105.7,640 111.6,648.4 116.6,668.4 123.3,688.5 129.9,703.5 136.6,716.9 143.3,740.3 150,742.8" fill="none" stroke="#e01818" stroke-width="1.5" stroke-linejoin="round"/>
<polyline points="150,742.8 161.7,725.3 166.7,717.7 171.7,691.8 178.4,671.8 185.1,650.1 190.1,642.5 197.6,640" fill="none" stroke="#000" stroke-width="1.5" stroke-linejoin="round"/>
<polyline points="197.6,640 205.1,646.7 210.2,660.1 216.8,668.4 223.5,676" fill="none" stroke="#e01818" stroke-width="1.5" stroke-linejoin="round"/>
<polyline points="223.5,676 228.5,663.4 235.2,648.4 241.1,637.5" fill="none" stroke="#000" stroke-width="1.5" stroke-linejoin="round"/>
<polyline points="241.1,637.5 246.9,644.2" fill="none" stroke="#e01818" stroke-width="1.5" stroke-linejoin="round"/>
<polyline points="246.9,644.2 253.6,643.4 260.3,641.7 267,640" fill="none" stroke="#000" stroke-width="1.5" stroke-linejoin="round"/>
<polyline points="267,640 273.7,646.7 278.7,655.1 283.7,680.1 290.4,718.6 296.2,742" fill="none" stroke="#e01818" stroke-width="1.5" stroke-linejoin="round"/>
<polyline points="296.2,742 302.1,728.6 307.1,708.6 312.1,683.5 317.1,661.8 323,650.1 328.8,647.6" fill="none" stroke="#000" stroke-width="1.5" stroke-linejoin="round"/>
<polyline points="328.8,647.6 337.2,653.4 343.8,663.4 348,670.1" fill="none" stroke="#e01818" stroke-width="1.5" stroke-linejoin="round"/>
<polyline points="348,670.1 353,688.5 358.9,706.9 364.7,721.1" fill="none" stroke="#e01818" stroke-width="1.5" stroke-linejoin="round"/>
<polyline points="364.7,721.1 371.4,718.6" fill="none" stroke="#000" stroke-width="1.5" stroke-linejoin="round"/>
<polyline points="371.4,718.6 377.2,727.8 388.9,737.8" fill="none" stroke="#e01818" stroke-width="1.5" stroke-linejoin="round"/>
<polyline points="388.9,737.8 395.6,728.6 399.8,708.6 404,683.5 407.3,666.8 413.2,655.9" fill="none" stroke="#000" stroke-width="1.5" stroke-linejoin="round"/>
<polyline points="413.2,655.9 418.2,663.4 421.5,683.5 425.7,703.5 431.6,715.2 438.2,719.4" fill="none" stroke="#e01818" stroke-width="1.5" stroke-linejoin="round"/>
<polyline points="438.2,719.4 443.3,708.6 447.4,691.8 451.6,675.1 456.6,663.4 461.6,656.8" fill="none" stroke="#000" stroke-width="1.5" stroke-linejoin="round"/>
<polyline points="461.6,656.8 467.5,666.8 473.3,673.5 478.3,688.5 483.4,708.6 488.4,726.9 493.4,742" fill="none" stroke="#e01818" stroke-width="1.5" stroke-linejoin="round"/>
<polyline points="493.4,742 499.2,733.6 505.1,711.9 510.9,703.5 516.8,688.5 523.5,681.8 530.2,676.8 536.8,666.8 542.7,658.4 547.7,654.7" fill="none" stroke="#000" stroke-width="1.5" stroke-linejoin="round"/>
<polyline points="547.7,654.7 554.4,663.4 558.6,676.8 561.9,688.5 566.9,691.8 573.6,693.5" fill="none" stroke="#e01818" stroke-width="1.5" stroke-linejoin="round"/>
<polyline points="573.6,693.5 580.3,683.5 587,675.1 593.7,663.4 598.7,655.9 605.4,655.9" fill="none" stroke="#000" stroke-width="1.5" stroke-linejoin="round"/>
<polyline points="605.4,655.9 608.7,660.9" fill="none" stroke="#e01818" stroke-width="1.5" stroke-linejoin="round"/>
<polyline points="608.7,660.9 615.4,656.8 622.1,644.2 628.7,642.5" fill="none" stroke="#000" stroke-width="1.5" stroke-linejoin="round"/>
<polyline points="628.7,642.5 635.4,651.7 643,661.8" fill="none" stroke="#e01818" stroke-width="1.5" stroke-linejoin="round"/>
<polyline points="643,661.8 650.5,653.4 655.5,643.4 660.5,635" fill="none" stroke="#000" stroke-width="1.5" stroke-linejoin="round"/>
<polyline points="660.5,635 668,641.7" fill="none" stroke="#e01818" stroke-width="1.5" stroke-linejoin="round"/>
<polyline points="668,640 676.4,653.4 684.7,668.4 691.4,685.2 696.4,700.2 702.3,716.1 708.9,723.6" fill="none" stroke="#e01818" stroke-width="1.5" stroke-linejoin="round"/>
<polyline points="708.9,722.8 720.6,721.6 724,708.6 727.3,697.7 732.3,696.9 736.5,688.5 739.9,683.5" fill="none" stroke="#000" stroke-width="1.5" stroke-linejoin="round"/>
<polyline points="739.9,683.5 745.2,683.5" fill="none" stroke="#e01818" stroke-width="1.5" stroke-linejoin="round"/>
<polyline points="745.2,683.5 751.6,666.8 756.6,652.6" fill="none" stroke="#000" stroke-width="1.5" stroke-linejoin="round"/>
<polyline points="756.6,652.6 759.9,656.8 764.1,662.6 769.9,667.6 776.6,683.5" fill="none" stroke="#e01818" stroke-width="1.5" stroke-linejoin="round"/>
<polyline points="776.6,683.5 781.6,675.1" fill="none" stroke="#000" stroke-width="1.5" stroke-linejoin="round"/>
<polyline points="781.6,675.1 788.3,680.1 795,687.7 801.7,690.2 808.4,696 813.4,698.5 816.7,711.9 820.1,728.6 825.1,734.5" fill="none" stroke="#e01818" stroke-width="1.5" stroke-linejoin="round"/>
<polyline points="825.1,734.5 831.8,720.3 836.8,691.8 842.6,669.3 850.2,665.1" fill="none" stroke="#000" stroke-width="1.5" stroke-linejoin="round"/>
<polyline points="850.2,665.1 851.8,670.1 856.8,686.8 861.9,701.9 868.5,712.7" fill="none" stroke="#e01818" stroke-width="1.5" stroke-linejoin="round"/>
<polyline points="868.5,712.7 871,701.9 876.1,683.5 880.2,669.3 886.9,656.8 893.6,646.7" fill="none" stroke="#000" stroke-width="1.5" stroke-linejoin="round"/>
<polyline points="893.6,646.7 899.8,648.4" fill="none" stroke="#e01818" stroke-width="1.5" stroke-linejoin="round"/>
<polyline points="899.8,648.4 905,647.6" fill="none" stroke="#000" stroke-width="1.5" stroke-linejoin="round"/>
<polyline points="905,647.6 911.1,651.7" fill="none" stroke="#e01818" stroke-width="1.5" stroke-linejoin="round"/>
<polyline points="911.1,651.7 917,651.7" fill="none" stroke="#000" stroke-width="1.5" stroke-linejoin="round"/>
<polyline points="917,651.7 923.7,655.1 930.4,663.4 937.1,680.1 943.7,700.2 948.7,720.3 955.4,723.6" fill="none" stroke="#e01818" stroke-width="1.5" stroke-linejoin="round"/>
<polyline points="955.4,723.6 961.3,715.2 965.5,695.2 970.5,675.1 977.2,661.8 982.2,650.1 985.5,645.1 988,645.1" fill="none" stroke="#000" stroke-width="1.5" stroke-linejoin="round"/>
<polyline points="988,645.1 996.4,638.4 1004.7,637" fill="none" stroke="#000" stroke-width="1.5" stroke-linejoin="round"/>
<polyline points="1004.7,637 1009.7,640 1016.4,650.1 1023.1,663.4 1028.9,670.1" fill="none" stroke="#e01818" stroke-width="1.5" stroke-linejoin="round"/>
<polyline points="1028.9,670.1 1033.1,665.1 1039.8,660.1 1046.5,646.7" fill="none" stroke="#000" stroke-width="1.5" stroke-linejoin="round"/>
<polyline points="1046.5,646.7 1053.2,650.1 1059.9,650.9 1066.5,655.9" fill="none" stroke="#e01818" stroke-width="1.5" stroke-linejoin="round"/>
<polyline points="1066.5,655.9 1073.2,650.1" fill="none" stroke="#000" stroke-width="1.5" stroke-linejoin="round"/>
<polyline points="1073.2,650.1 1078.2,653.4 1084.9,661.8 1091.6,669.3 1096.6,673.5" fill="none" stroke="#e01818" stroke-width="1.5" stroke-linejoin="round"/>
<polyline points="1096.6,673.5 1101.6,668.4 1108.3,660.9" fill="none" stroke="#000" stroke-width="1.5" stroke-linejoin="round"/>
<polyline points="1108.3,660.9 1115,665.1 1120.9,672.6 1126.7,672.6" fill="none" stroke="#e01818" stroke-width="1.5" stroke-linejoin="round"/>
<polyline points="1126.7,672.6 1130,663.4 1135.1,650.1 1138.4,643.4" fill="none" stroke="#000" stroke-width="1.5" stroke-linejoin="round"/>
<polyline points="1138.4,643.4 1141.7,646.7 1146.8,658.4 1151.8,673.5 1156.8,681.8 1165.1,686.8" fill="none" stroke="#e01818" stroke-width="1.5" stroke-linejoin="round"/>
<polyline points="1165.1,686.8 1171.8,680.1 1178.5,668.4 1183.5,658.4 1188.5,645.9 1195.2,641.7 1200.2,636.7" fill="none" stroke="#000" stroke-width="1.5" stroke-linejoin="round"/>
<polyline points="1200.2,636.7 1206.9,641.7 1211.9,644.2 1219.5,648.4" fill="none" stroke="#e01818" stroke-width="1.5" stroke-linejoin="round"/>
<polyline points="1219.5,648.4 1225.3,645.9 1232,644.2 1237,643.4" fill="none" stroke="#000" stroke-width="1.5" stroke-linejoin="round"/>
<polyline points="1237,643.4 1240.3,650.1 1243.7,666.8 1247,685.2 1249.9,697.7" fill="none" stroke="#e01818" stroke-width="1.5" stroke-linejoin="round"/>
<polyline points="28,650.1 38,651.7 44.7,653.4 53.1,655.9 61.4,663.4 68.9,671 76.5,675.1 83.1,677.6 89.8,675.1 96.5,670.1 103.2,663.4 109.9,659.3 116.6,659.3 123.3,660.9 129.9,666.8 136.6,676.8 143.3,688.5 150,703.5 156.7,716.9 161.7,723.6 167.5,729.4 173.4,723.6 178.4,715.2 185.1,703.5 191.8,688.5 198.5,676.8 205.1,668.4 211.8,664.3 218.5,664.3 223.5,665.1 228.5,660.9 235.2,655.1 241.9,650.1 248.6,647.6 255.3,643.4 262,640.9 268.6,639.2 275.3,640 282,641.7 288.7,646.7 295.4,656.8 302.1,666.8 308.7,673.5 314.6,674.3 320.4,670.1 327.1,661.8 333.8,655.1 340.5,653.4 348,655.1 356.4,660.1 364.7,665.9 373.1,671 381.4,675.1 389.8,681 398.1,685.2 406.5,684.3 414.8,682.7 423.2,680.1 431.6,682.7 439.9,686.8 448.3,688.5 456.6,684.3 465,679.3 471.7,676 478.3,675.1 485,678.5 491.7,683.5 498.4,689.3 505.1,691.8 511.8,693.5 518.5,691 525.1,686 531.8,683.5 540.2,678.5 548.5,673.5 556.9,670.1 565.2,670.1 573.6,673.5 582,674.3 590.3,672.6 598.7,671 607,669.3 615.4,665.9 623.7,660.1 632.1,654.2 640.4,650.1 648.8,648.4 653.8,644.2 660.5,638.4 668,636.7 676.4,640.9 684.7,644.2 693.1,650.1 701.4,655.9 709.8,659.3 718.1,660.1 726.5,659.3 734.8,658.4 743.2,658.4 751.6,655.9 759.9,652.6 768.3,652.6 776.6,654.2 785,655.1 793.3,655.1 801.7,653.4 810,652.6 818.4,655.1 826.8,659.3 835.1,662.6 843.5,661.8 851.8,659.3 860.2,657.6 868.5,660.1 876.9,660.9 883.6,659.3 890.3,653.4 896.9,645.9 905.3,642.5 913.7,641.7 922,641.7 930.4,643.4 938.7,646.7 947.1,650.9 953.8,660.1 960.4,670.1 968.8,676.8 977.2,678.5 983.8,675.1 988,670.1 994.7,660.9 1001.4,653.4 1008.1,648.4 1016.4,645.1 1026.4,642.5 1038.1,641.7 1049.8,640 1061.5,638.4 1071.6,638.4 1081.6,639.2 1091.6,640.9 1101.6,640.9 1111.7,640.4 1121.7,640.9 1131.7,640 1141.7,640 1151.8,640.9 1160.1,642.5 1168.5,645.9 1176.8,645.9 1185.2,644.2 1193.5,640.9 1201.9,636.7 1211.9,636.4 1222,637 1232,636.7 1242,637 1249.9,641.7" fill="none" stroke="#222" stroke-width="3.0" stroke-dasharray="5,3" />
<polyline points="28,655.9 38,648.4" fill="none" stroke="#0808a0" stroke-width="3.7" stroke-linejoin="round" stroke-linecap="round"/>
<polyline points="38,648.4 44.7,651.7 49.7,663.4 55.6,673.5 63.1,680.1" fill="none" stroke="#f00808" stroke-width="3.7" stroke-linejoin="round" stroke-linecap="round"/>
<polyline points="63.1,680.1 68.9,675.1" fill="none" stroke="#0808a0" stroke-width="3.7" stroke-linejoin="round" stroke-linecap="round"/>
<polyline points="68.9,675.1 81.5,678.5" fill="none" stroke="#f00808" stroke-width="3.7" stroke-linejoin="round" stroke-linecap="round"/>
<polyline points="81.5,678.5 88.2,673.5 94.8,663.4 99.9,655.1 105.7,652.6" fill="none" stroke="#0808a0" stroke-width="3.7" stroke-linejoin="round" stroke-linecap="round"/>
<polyline points="105.7,652.6 111.6,656.8 116.6,665.1 123.3,675.1 129.9,683.5 136.6,693.5 143.3,718.6 150,732 156.7,738.6" fill="none" stroke="#f00808" stroke-width="3.7" stroke-linejoin="round" stroke-linecap="round"/>
<polyline points="156.7,738.6 161.7,728.6 168.4,718.6 173.4,705.2 178.4,691.8 185.1,676.8 190.1,670.1 196.8,661.8 202.6,658.4" fill="none" stroke="#0808a0" stroke-width="3.7" stroke-linejoin="round" stroke-linecap="round"/>
<polyline points="202.6,658.4 210.2,664.3 216.8,666.8" fill="none" stroke="#f00808" stroke-width="3.7" stroke-linejoin="round" stroke-linecap="round"/>
<polyline points="216.8,666.8 223.5,665.1 228.5,655.1 235.2,643.4 241.1,637.5" fill="none" stroke="#0808a0" stroke-width="3.7" stroke-linejoin="round" stroke-linecap="round"/>
<polyline points="241.1,637.5 246.9,643.4 253.6,641.7" fill="none" stroke="#f00808" stroke-width="3.7" stroke-linejoin="round" stroke-linecap="round"/>
<polyline points="253.6,641.7 260.3,640 266.1,637" fill="none" stroke="#0808a0" stroke-width="3.7" stroke-linejoin="round" stroke-linecap="round"/>
<polyline points="266.1,637 272.8,639.2 278.7,640.9 283.7,651.7 290.4,668.4 296.2,685.2 302.9,687.7" fill="none" stroke="#f00808" stroke-width="3.7" stroke-linejoin="round" stroke-linecap="round"/>
<polyline points="302.9,687.7 308.7,675.1 313.8,663.4 319.6,653.4 327.1,648.4" fill="none" stroke="#0808a0" stroke-width="3.7" stroke-linejoin="round" stroke-linecap="round"/>
<polyline points="327.1,648.4 333.8,650.1 340.5,655.1 348,658.4" fill="none" stroke="#f00808" stroke-width="3.7" stroke-linejoin="round" stroke-linecap="round"/>
<polyline points="348,660.1 356.4,666.8 364.7,673.5 373.1,676.8 381.4,680.1 388.9,691 395.6,691.8" fill="none" stroke="#f00808" stroke-width="3.7" stroke-linejoin="round" stroke-linecap="round"/>
<polyline points="395.6,691.8 401.5,688.5 406.5,676.8 413.2,672.6" fill="none" stroke="#0808a0" stroke-width="3.7" stroke-linejoin="round" stroke-linecap="round"/>
<polyline points="413.2,672.6 419.9,676.8 426.5,686.8 431.6,691.8 438.2,696" fill="none" stroke="#f00808" stroke-width="3.7" stroke-linejoin="round" stroke-linecap="round"/>
<polyline points="438.2,696 443.3,690.2 448.3,681.8 455,674.3 461.6,671" fill="none" stroke="#0808a0" stroke-width="3.7" stroke-linejoin="round" stroke-linecap="round"/>
<polyline points="461.6,671 468.3,675.1 475,676.8 481.7,685.2 488.4,691.8 494.2,697.7" fill="none" stroke="#f00808" stroke-width="3.7" stroke-linejoin="round" stroke-linecap="round"/>
<polyline points="494.2,697.7 500.1,696.9 505.1,690.2 511.8,686.8 518.5,682.7 525.1,680.1 531.8,676.8 540.2,671 547.7,666.8" fill="none" stroke="#0808a0" stroke-width="3.7" stroke-linejoin="round" stroke-linecap="round"/>
<polyline points="547.7,666.8 555.2,668.4 561.9,675.1 568.6,676" fill="none" stroke="#f00808" stroke-width="3.7" stroke-linejoin="round" stroke-linecap="round"/>
<polyline points="568.6,676 575.3,675.1 582,671.8 588.6,670.1 595.3,666.8 600.3,665.9" fill="none" stroke="#0808a0" stroke-width="3.7" stroke-linejoin="round" stroke-linecap="round"/>
<polyline points="600.3,665.9 605.4,666.8" fill="none" stroke="#f00808" stroke-width="3.7" stroke-linejoin="round" stroke-linecap="round"/>
<polyline points="605.4,666.8 612,665.1 617.1,656.8 622.9,646.7 627.1,644.2" fill="none" stroke="#0808a0" stroke-width="3.7" stroke-linejoin="round" stroke-linecap="round"/>
<polyline points="627.1,644.2 635.4,645.9 641.3,648.4" fill="none" stroke="#f00808" stroke-width="3.7" stroke-linejoin="round" stroke-linecap="round"/>
<polyline points="641.3,648.4 648.8,643.4 655.5,638.4 660.5,635" fill="none" stroke="#0808a0" stroke-width="3.7" stroke-linejoin="round" stroke-linecap="round"/>
<polyline points="660.5,635 668,638.4" fill="none" stroke="#f00808" stroke-width="3.7" stroke-linejoin="round" stroke-linecap="round"/>
<polyline points="668,637.5 676.4,646.7 684.7,655.1 693.1,660.1 702.3,661.8" fill="none" stroke="#f00808" stroke-width="3.7" stroke-linejoin="round" stroke-linecap="round"/>
<polyline points="702.3,661.8 714.8,660.1" fill="none" stroke="#0808a0" stroke-width="3.7" stroke-linejoin="round" stroke-linecap="round"/>
<polyline points="714.8,660.1 721.5,660.9" fill="none" stroke="#f00808" stroke-width="3.7" stroke-linejoin="round" stroke-linecap="round"/>
<polyline points="721.5,660.9 728.2,657.6" fill="none" stroke="#0808a0" stroke-width="3.7" stroke-linejoin="round" stroke-linecap="round"/>
<polyline points="728.2,657.6 744.9,657.6" fill="none" stroke="#f00808" stroke-width="3.7" stroke-linejoin="round" stroke-linecap="round"/>
<polyline points="744.9,657.6 751.6,653.4 757.4,647.6" fill="none" stroke="#0808a0" stroke-width="3.7" stroke-linejoin="round" stroke-linecap="round"/>
<polyline points="757.4,647.6 764.9,650.9 771.6,653.4 777.5,659.3" fill="none" stroke="#f00808" stroke-width="3.7" stroke-linejoin="round" stroke-linecap="round"/>
<polyline points="777.5,659.3 785,655.1 793.3,652.6 800,650.1" fill="none" stroke="#0808a0" stroke-width="3.7" stroke-linejoin="round" stroke-linecap="round"/>
<polyline points="800,650.1 806.7,651.7 813.4,655.9 820.1,665.9 825.9,670.1" fill="none" stroke="#f00808" stroke-width="3.7" stroke-linejoin="round" stroke-linecap="round"/>
<polyline points="825.9,670.1 831.8,665.9 836.8,660.1 842.6,651.7 850.2,650.9" fill="none" stroke="#0808a0" stroke-width="3.7" stroke-linejoin="round" stroke-linecap="round"/>
<polyline points="850.2,650.9 856.8,660.1 863.5,664.3 869.4,666.8" fill="none" stroke="#f00808" stroke-width="3.7" stroke-linejoin="round" stroke-linecap="round"/>
<polyline points="869.4,666.8 875.2,661.8 880.2,650.9 886.9,645.1 893.6,639.2" fill="none" stroke="#0808a0" stroke-width="3.7" stroke-linejoin="round" stroke-linecap="round"/>
<polyline points="893.6,639.2 905.3,640 910.3,643.4" fill="none" stroke="#f00808" stroke-width="3.7" stroke-linejoin="round" stroke-linecap="round"/>
<polyline points="910.3,643.4 918.7,641.7" fill="none" stroke="#0808a0" stroke-width="3.7" stroke-linejoin="round" stroke-linecap="round"/>
<polyline points="918.7,641.7 928.7,644.2 935.4,649.2 942.9,654.2 948.7,668.4 955.4,683.5 960.4,692.7" fill="none" stroke="#f00808" stroke-width="3.7" stroke-linejoin="round" stroke-linecap="round"/>
<polyline points="960.4,692.7 967.1,680.1 973.8,668.4 980.5,660.1 988,655.1" fill="none" stroke="#0808a0" stroke-width="3.7" stroke-linejoin="round" stroke-linecap="round"/>
<polyline points="988,655.9 996.4,646.7 1004.7,641.7 1008.9,640.9" fill="none" stroke="#0808a0" stroke-width="3.7" stroke-linejoin="round" stroke-linecap="round"/>
<polyline points="1008.9,640.9 1018.1,641.7 1027.3,643.4" fill="none" stroke="#f00808" stroke-width="3.7" stroke-linejoin="round" stroke-linecap="round"/>
<polyline points="1027.3,643.4 1036.5,640.9 1046.5,637.5" fill="none" stroke="#0808a0" stroke-width="3.7" stroke-linejoin="round" stroke-linecap="round"/>
<polyline points="1046.5,637.5 1058.2,638.4 1066.5,640" fill="none" stroke="#f00808" stroke-width="3.7" stroke-linejoin="round" stroke-linecap="round"/>
<polyline points="1066.5,640 1071.1,638.4" fill="none" stroke="#0808a0" stroke-width="3.7" stroke-linejoin="round" stroke-linecap="round"/>
<polyline points="1071.1,638.4 1081.6,640 1090.8,641.7" fill="none" stroke="#f00808" stroke-width="3.7" stroke-linejoin="round" stroke-linecap="round"/>
<polyline points="1090.8,641.7 1098.3,640.9 1108.3,638.4" fill="none" stroke="#0808a0" stroke-width="3.7" stroke-linejoin="round" stroke-linecap="round"/>
<polyline points="1108.3,638.4 1116.7,640.9 1126.7,641.7" fill="none" stroke="#f00808" stroke-width="3.7" stroke-linejoin="round" stroke-linecap="round"/>
<polyline points="1126.7,641.7 1133.4,638.4 1138.4,635.9" fill="none" stroke="#0808a0" stroke-width="3.7" stroke-linejoin="round" stroke-linecap="round"/>
<polyline points="1138.4,635.9 1146.8,641.7 1155.1,646.7 1163.5,648.4" fill="none" stroke="#f00808" stroke-width="3.7" stroke-linejoin="round" stroke-linecap="round"/>
<polyline points="1163.5,648.4 1171.8,645.1 1180.2,640.9 1188.5,635.9 1200.2,635" fill="none" stroke="#0808a0" stroke-width="3.7" stroke-linejoin="round" stroke-linecap="round"/>
<polyline points="1200.2,635 1211.9,635.9" fill="none" stroke="#f00808" stroke-width="3.7" stroke-linejoin="round" stroke-linecap="round"/>
<polyline points="1211.9,635.9 1222,637.5 1237,636.4" fill="none" stroke="#0808a0" stroke-width="3.7" stroke-linejoin="round" stroke-linecap="round"/>
<polyline points="1237,636.4 1243.7,641.7 1249.9,650.1" fill="none" stroke="#f00808" stroke-width="3.7" stroke-linejoin="round" stroke-linecap="round"/>
<polygon points="38.9,669.2 48.9,669.2 43.9,677.7" fill="#a80808" stroke="none" stroke-width="1" />
<polygon points="58.9,728.7 68.9,728.7 63.9,720.2" fill="#0000b4" stroke="none" stroke-width="1" />
<polygon points="69.8,709.3 79.8,709.3 74.8,717.8" fill="#a80808" stroke="none" stroke-width="1" />
<polygon points="76.5,720.8 86.5,720.8 81.5,712.3" fill="#0000b4" stroke="none" stroke-width="1" />
<polygon points="107.4,640.8 117.4,640.8 112.4,649.3" fill="#a80808" stroke="none" stroke-width="1" />
<polygon points="150.8,746.2 160.8,746.2 155.8,737.7" fill="#0000b4" stroke="none" stroke-width="1" />
<polygon points="199.3,639.1 209.3,639.1 204.3,647.6" fill="#a80808" stroke="none" stroke-width="1" />
<polygon points="224.4,674.7 234.4,674.7 229.4,666.2" fill="#0000b4" stroke="none" stroke-width="1" />
<polygon points="241.9,640 251.9,640 246.9,648.5" fill="#a80808" stroke="none" stroke-width="1" />
<polygon points="255.3,652.6 265.3,652.6 260.3,644.1" fill="#0000b4" stroke="none" stroke-width="1" />
<polygon points="267.8,640 277.8,640 272.8,648.5" fill="#a80808" stroke="none" stroke-width="1" />
<polygon points="298.7,738.7 308.7,738.7 303.7,730.2" fill="#0000b4" stroke="none" stroke-width="1" />
<polygon points="328,645 338,645 333,653.5" fill="#a80808" stroke="none" stroke-width="1" />
<polygon points="27.2,693.6 37.2,693.6 32.2,685.1" fill="#0000b4" stroke="none" stroke-width="1" />
<polygon points="364.7,723.7 374.7,723.7 369.7,715.2" fill="#0000b4" stroke="none" stroke-width="1" />
<polygon points="371.4,717.7 381.4,717.7 376.4,726.2" fill="#a80808" stroke="none" stroke-width="1" />
<polygon points="377.3,732.9 387.3,732.9 382.3,724.4" fill="#0000b4" stroke="none" stroke-width="1" />
<polygon points="384.8,728.5 394.8,728.5 389.8,737" fill="#a80808" stroke="none" stroke-width="1" />
<polygon points="390.6,737.9 400.6,737.9 395.6,729.4" fill="#0000b4" stroke="none" stroke-width="1" />
<polygon points="414.9,659.2 424.9,659.2 419.9,667.7" fill="#a80808" stroke="none" stroke-width="1" />
<polygon points="439.6,716.1 449.6,716.1 444.6,707.6" fill="#0000b4" stroke="none" stroke-width="1" />
<polygon points="463.3,659.2 473.3,659.2 468.3,667.7" fill="#a80808" stroke="none" stroke-width="1" />
<polygon points="494.2,743.7 504.2,743.7 499.2,735.2" fill="#0000b4" stroke="none" stroke-width="1" />
<polygon points="550.2,655 560.2,655 555.2,663.5" fill="#a80808" stroke="none" stroke-width="1" />
<polygon points="574.5,693.6 584.5,693.6 579.5,685.1" fill="#0000b4" stroke="none" stroke-width="1" />
<polygon points="599.5,654.2 609.5,654.2 604.5,662.7" fill="#a80808" stroke="none" stroke-width="1" />
<polygon points="606.2,665.2 616.2,665.2 611.2,656.7" fill="#0000b4" stroke="none" stroke-width="1" />
<polygon points="623.7,640 633.7,640 628.7,648.5" fill="#a80808" stroke="none" stroke-width="1" />
<polygon points="643,665.2 653,665.2 648,656.7" fill="#0000b4" stroke="none" stroke-width="1" />
<polygon points="658.8,633.3 668.8,633.3 663.8,641.8" fill="#a80808" stroke="none" stroke-width="1" />
<polygon points="709.8,729 719.8,729 714.8,720.5" fill="#0000b4" stroke="none" stroke-width="1" />
<polygon points="740.2,679.2 750.2,679.2 745.2,687.7" fill="#a80808" stroke="none" stroke-width="1" />
<polygon points="746.6,681.6 756.6,681.6 751.6,673.1" fill="#0000b4" stroke="none" stroke-width="1" />
<polygon points="759.1,652.5 769.1,652.5 764.1,661" fill="#a80808" stroke="none" stroke-width="1" />
<polygon points="777.5,683.1 787.5,683.1 782.5,674.6" fill="#0000b4" stroke="none" stroke-width="1" />
<polygon points="783.3,671.7 793.3,671.7 788.3,680.2" fill="#a80808" stroke="none" stroke-width="1" />
<polygon points="795.5,691.4 805.5,691.4 800.5,682.9" fill="#0000b4" stroke="none" stroke-width="1" />
<polygon points="803,686.3 813,686.3 808,694.8" fill="#a80808" stroke="none" stroke-width="1" />
<polygon points="826.8,731.5 836.8,731.5 831.8,723" fill="#0000b4" stroke="none" stroke-width="1" />
<polygon points="851.8,672.2 861.8,672.2 856.8,680.7" fill="#a80808" stroke="none" stroke-width="1" />
<polygon points="869.9,709 879.9,709 874.9,700.5" fill="#0000b4" stroke="none" stroke-width="1" />
<polygon points="894.8,643.3 904.8,643.3 899.8,651.8" fill="#a80808" stroke="none" stroke-width="1" />
<polygon points="900,654 910,654 905,645.5" fill="#0000b4" stroke="none" stroke-width="1" />
<polygon points="906.1,647.5 916.1,647.5 911.1,656" fill="#a80808" stroke="none" stroke-width="1" />
<polygon points="912,659 922,659 917,650.5" fill="#0000b4" stroke="none" stroke-width="1" />
<polygon points="918.7,649.5 928.7,649.5 923.7,658" fill="#a80808" stroke="none" stroke-width="1" />
<polygon points="955.8,725.7 965.8,725.7 960.8,717.2" fill="#0000b4" stroke="none" stroke-width="1" />
<polygon points="663,633.3 673,633.3 668,641.8" fill="#a80808" stroke="none" stroke-width="1" />
<polygon points="1004.7,633.3 1014.7,633.3 1009.7,641.8" fill="#a80808" stroke="none" stroke-width="1" />
<polygon points="1029.8,671.4 1039.8,671.4 1034.8,662.9" fill="#0000b4" stroke="none" stroke-width="1" />
<polygon points="1047.3,643.6 1057.3,643.6 1052.3,652.1" fill="#a80808" stroke="none" stroke-width="1" />
<polygon points="1066.6,657.3 1076.6,657.3 1071.6,648.8" fill="#0000b4" stroke="none" stroke-width="1" />
<polygon points="1072.4,647.2 1082.4,647.2 1077.4,655.7" fill="#a80808" stroke="none" stroke-width="1" />
<polygon points="1098,675.5 1108,675.5 1103,667" fill="#0000b4" stroke="none" stroke-width="1" />
<polygon points="1109.5,656.7 1119.5,656.7 1114.5,665.2" fill="#a80808" stroke="none" stroke-width="1" />
<polygon points="1127.6,669.4 1137.6,669.4 1132.6,660.9" fill="#0000b4" stroke="none" stroke-width="1" />
<polygon points="1139.8,645 1149.8,645 1144.8,653.5" fill="#a80808" stroke="none" stroke-width="1" />
<polygon points="1164.8,690.7 1174.8,690.7 1169.8,682.2" fill="#0000b4" stroke="none" stroke-width="1" />
<polygon points="1201.1,636.6 1211.1,636.6 1206.1,645.1" fill="#a80808" stroke="none" stroke-width="1" />
<polygon points="1220.6,652.6 1230.6,652.6 1225.6,644.1" fill="#0000b4" stroke="none" stroke-width="1" />
<polygon points="1238.7,650.8 1248.7,650.8 1243.7,659.3" fill="#a80808" stroke="none" stroke-width="1" />
</g>
<rect x="28" y="622" width="165.4" height="15" fill="#cfdee7" stroke="#7f99a7" stroke-width="1" />
<line x1="43.5" y1="622" x2="43.5" y2="637" stroke="#7f99a7" stroke-width="1" />
<circle cx="35.3" cy="629.5" r="5.3" fill="#4a6fa8"/>
<line x1="33" y1="627.2" x2="37.6" y2="631.8" stroke="#e8eef6" stroke-width="1.8" />
<line x1="37.6" y1="627.2" x2="33" y2="631.8" stroke="#e8eef6" stroke-width="1.8" />
<rect x="47.5" y="625.5" width="4" height="8" fill="#78909c" />
<rect x="51.5" y="625.5" width="4" height="8" fill="#111" />
<text x="59.5" y="633" font-size="9.6" font-weight="bold" fill="#000" text-anchor="start" textLength="130" lengthAdjust="spacingAndGlyphs" >Sistema de trenes Doc v4 (f f)</text>
<g clip-path="url(#cp2)">
<line x1="69.5" y1="764" x2="69.5" y2="845.5" stroke="#707070" stroke-width="1" stroke-dasharray="1,3" stroke-opacity="0.27"/>
<line x1="125.5" y1="764" x2="125.5" y2="845.5" stroke="#707070" stroke-width="1" stroke-dasharray="1,3" stroke-opacity="0.27"/>
<line x1="180.5" y1="764" x2="180.5" y2="845.5" stroke="#707070" stroke-width="1" stroke-dasharray="1,3" stroke-opacity="0.27"/>
<line x1="284.5" y1="764" x2="284.5" y2="845.5" stroke="#707070" stroke-width="1" stroke-dasharray="1,3" stroke-opacity="0.27"/>
<line x1="333.5" y1="764" x2="333.5" y2="845.5" stroke="#707070" stroke-width="1" stroke-dasharray="1,3" stroke-opacity="0.27"/>
<line x1="389.5" y1="764" x2="389.5" y2="845.5" stroke="#707070" stroke-width="1" stroke-dasharray="1,3" stroke-opacity="0.27"/>
<line x1="445.5" y1="764" x2="445.5" y2="845.5" stroke="#707070" stroke-width="1" stroke-dasharray="1,3" stroke-opacity="0.27"/>
<line x1="500.5" y1="764" x2="500.5" y2="845.5" stroke="#707070" stroke-width="1" stroke-dasharray="1,3" stroke-opacity="0.27"/>
<line x1="604.5" y1="764" x2="604.5" y2="845.5" stroke="#707070" stroke-width="1" stroke-dasharray="1,3" stroke-opacity="0.27"/>
<line x1="659.5" y1="764" x2="659.5" y2="845.5" stroke="#707070" stroke-width="1" stroke-dasharray="1,3" stroke-opacity="0.27"/>
<line x1="708.5" y1="764" x2="708.5" y2="845.5" stroke="#707070" stroke-width="1" stroke-dasharray="1,3" stroke-opacity="0.27"/>
<line x1="765.5" y1="764" x2="765.5" y2="845.5" stroke="#707070" stroke-width="1" stroke-dasharray="1,3" stroke-opacity="0.27"/>
<line x1="820.5" y1="764" x2="820.5" y2="845.5" stroke="#707070" stroke-width="1" stroke-dasharray="1,3" stroke-opacity="0.27"/>
<line x1="923.5" y1="764" x2="923.5" y2="845.5" stroke="#707070" stroke-width="1" stroke-dasharray="1,3" stroke-opacity="0.27"/>
<line x1="979.5" y1="764" x2="979.5" y2="845.5" stroke="#707070" stroke-width="1" stroke-dasharray="1,3" stroke-opacity="0.27"/>
<line x1="1034.5" y1="764" x2="1034.5" y2="845.5" stroke="#707070" stroke-width="1" stroke-dasharray="1,3" stroke-opacity="0.27"/>
<line x1="1084.5" y1="764" x2="1084.5" y2="845.5" stroke="#707070" stroke-width="1" stroke-dasharray="1,3" stroke-opacity="0.27"/>
<line x1="1138.5" y1="764" x2="1138.5" y2="845.5" stroke="#707070" stroke-width="1" stroke-dasharray="1,3" stroke-opacity="0.27"/>
<line x1="1243.5" y1="764" x2="1243.5" y2="845.5" stroke="#707070" stroke-width="1" stroke-dasharray="1,3" stroke-opacity="0.27"/>
<line x1="1298.5" y1="764" x2="1298.5" y2="845.5" stroke="#707070" stroke-width="1" stroke-dasharray="1,3" stroke-opacity="0.27"/>
<line x1="1354.5" y1="764" x2="1354.5" y2="845.5" stroke="#707070" stroke-width="1" stroke-dasharray="1,3" stroke-opacity="0.27"/>
<line x1="1410.5" y1="764" x2="1410.5" y2="845.5" stroke="#707070" stroke-width="1" stroke-dasharray="1,3" stroke-opacity="0.27"/>
<line x1="1458.5" y1="764" x2="1458.5" y2="845.5" stroke="#707070" stroke-width="1" stroke-dasharray="1,3" stroke-opacity="0.27"/>
<line x1="1563.5" y1="764" x2="1563.5" y2="845.5" stroke="#707070" stroke-width="1" stroke-dasharray="1,3" stroke-opacity="0.27"/>
<line x1="1618.5" y1="764" x2="1618.5" y2="845.5" stroke="#707070" stroke-width="1" stroke-dasharray="1,3" stroke-opacity="0.27"/>
<line x1="1673.5" y1="764" x2="1673.5" y2="845.5" stroke="#707070" stroke-width="1" stroke-dasharray="1,3" stroke-opacity="0.27"/>
<line x1="1729.5" y1="764" x2="1729.5" y2="845.5" stroke="#707070" stroke-width="1" stroke-dasharray="1,3" stroke-opacity="0.27"/>
<line x1="1778.5" y1="764" x2="1778.5" y2="845.5" stroke="#707070" stroke-width="1" stroke-dasharray="1,3" stroke-opacity="0.27"/>
<line x1="28" y1="784.5" x2="1874" y2="784.5" stroke="#707070" stroke-width="1" stroke-dasharray="1,3" stroke-opacity="0.27"/>
<line x1="28" y1="798.5" x2="1874" y2="798.5" stroke="#707070" stroke-width="1" stroke-dasharray="1,3" stroke-opacity="0.27"/>
<line x1="28" y1="812.5" x2="1874" y2="812.5" stroke="#707070" stroke-width="1" stroke-dasharray="1,3" stroke-opacity="0.27"/>
<line x1="28" y1="827.5" x2="1874" y2="827.5" stroke="#707070" stroke-width="1" stroke-dasharray="1,3" stroke-opacity="0.27"/>
<rect x="28" y="764" width="6.7" height="81.2" fill="#c4c4f8" />
<rect x="48.1" y="764" width="6.7" height="81.2" fill="#c46c6c" />
<rect x="54.7" y="764" width="5" height="81.2" fill="#6cc46c" />
<rect x="66.1" y="764" width="5.8" height="81.2" fill="#c46c6c" />
<rect x="72" y="764" width="5.8" height="81.2" fill="#f9a6a6" />
<rect x="77.8" y="764" width="6.2" height="81.2" fill="#6cc46c" />
<rect x="84" y="764" width="25.9" height="81.2" fill="#c4c4f8" />
<rect x="114.9" y="764" width="5.8" height="81.2" fill="#c46c6c" />
<rect x="120.7" y="764" width="5.8" height="81.2" fill="#6cc46c" />
<rect x="134.1" y="764" width="6.7" height="81.2" fill="#c46c6c" />
<rect x="140.8" y="764" width="5" height="81.2" fill="#f9a6a6" />
<rect x="152.2" y="764" width="5.7" height="81.2" fill="#f9a6a6" />
<rect x="170" y="764" width="6.7" height="81.2" fill="#6cc46c" />
<rect x="182.9" y="764" width="18" height="81.2" fill="#c4c4f8" />
<rect x="213.2" y="764" width="6.7" height="81.2" fill="#c4c4f8" />
<rect x="226" y="764" width="11.7" height="81.2" fill="#c4c4f8" />
<rect x="250.3" y="764" width="6.7" height="81.2" fill="#c4c4f8" />
<rect x="263.1" y="764" width="5.5" height="81.2" fill="#c4c4f8" />
<rect x="275.3" y="764" width="5.8" height="81.2" fill="#c4c4f8" />
<rect x="287.4" y="764" width="5.8" height="81.2" fill="#c46c6c" />
<rect x="293.2" y="764" width="6.7" height="81.2" fill="#6cc46c" />
<rect x="299.9" y="764" width="23.9" height="81.2" fill="#c4c4f8" />
<rect x="343" y="764" width="5" height="81.2" fill="#c4c4f8" />
<rect x="348" y="764" width="1.7" height="81.2" fill="#c4c4f8" />
<rect x="367.2" y="764" width="5.8" height="81.2" fill="#c4c4f8" />
<rect x="378.9" y="764" width="7.2" height="81.2" fill="#c4c4f8" />
<rect x="386.1" y="764" width="6.7" height="81.2" fill="#c46c6c" />
<rect x="392.8" y="764" width="5" height="81.2" fill="#6cc46c" />
<rect x="397.8" y="764" width="6.2" height="81.2" fill="#c4c4f8" />
<rect x="410.2" y="764" width="5.8" height="81.2" fill="#c46c6c" />
<rect x="416" y="764" width="12.7" height="81.2" fill="#f9a6a6" />
<rect x="447.1" y="764" width="5.8" height="81.2" fill="#6cc46c" />
<rect x="459.1" y="764" width="5.8" height="81.2" fill="#c46c6c" />
<rect x="465" y="764" width="6.7" height="81.2" fill="#f9a6a6" />
<rect x="478" y="764" width="12" height="81.2" fill="#f9a6a6" />
<rect x="496.2" y="764" width="5.8" height="81.2" fill="#f9a6a6" />
<rect x="509.3" y="764" width="6.4" height="81.2" fill="#f9a6a6" />
<rect x="533.2" y="764" width="5.8" height="81.2" fill="#6cc46c" />
<rect x="539" y="764" width="6.2" height="81.2" fill="#c4c4f8" />
<rect x="558.2" y="764" width="5.8" height="81.2" fill="#c46c6c" />
<rect x="564.1" y="764" width="5.8" height="81.2" fill="#6cc46c" />
<rect x="569.9" y="764" width="25.1" height="81.2" fill="#c4c4f8" />
<rect x="607" y="764" width="18" height="81.2" fill="#c4c4f8" />
<rect x="644.1" y="764" width="11.9" height="81.2" fill="#c4c4f8" />
<rect x="693.1" y="764" width="5.8" height="81.2" fill="#c4c4f8" />
<rect x="705.1" y="764" width="12.7" height="81.2" fill="#c4c4f8" />
<rect x="724.3" y="764" width="5.5" height="81.2" fill="#c4c4f8" />
<rect x="742" y="764" width="18.7" height="81.2" fill="#c4c4f8" />
<rect x="767.1" y="764" width="5.8" height="81.2" fill="#c4c4f8" />
<rect x="779.1" y="764" width="11.7" height="81.2" fill="#c4c4f8" />
<rect x="797.2" y="764" width="6.5" height="81.2" fill="#c4c4f8" />
<rect x="828.1" y="764" width="18.7" height="81.2" fill="#c4c4f8" />
<rect x="853.2" y="764" width="5.8" height="81.2" fill="#c46c6c" />
<rect x="859" y="764" width="5.8" height="81.2" fill="#6cc46c" />
<rect x="864.9" y="764" width="17.9" height="81.2" fill="#c4c4f8" />
<rect x="890.3" y="764" width="6.4" height="81.2" fill="#c4c4f8" />
<rect x="914.2" y="764" width="5.7" height="81.2" fill="#c4c4f8" />
<rect x="945.1" y="764" width="5.8" height="81.2" fill="#c46c6c" />
<rect x="957.1" y="764" width="5.8" height="81.2" fill="#6cc46c" />
<rect x="963" y="764" width="13.9" height="81.2" fill="#c4c4f8" />
<rect x="982.2" y="764" width="5.8" height="81.2" fill="#c4c4f8" />
<rect x="988" y="764" width="17.9" height="81.2" fill="#c4c4f8" />
<rect x="1018.9" y="764" width="18" height="81.2" fill="#c4c4f8" />
<rect x="1043.1" y="764" width="5.8" height="81.2" fill="#c4c4f8" />
<rect x="1062" y="764" width="12" height="81.2" fill="#c4c4f8" />
<rect x="1079.9" y="764" width="12" height="81.2" fill="#c4c4f8" />
<rect x="1099.1" y="764" width="12" height="81.2" fill="#c4c4f8" />
<rect x="1117.2" y="764" width="12" height="81.2" fill="#c4c4f8" />
<rect x="1135.1" y="764" width="6.7" height="81.2" fill="#c4c4f8" />
<rect x="1154.3" y="764" width="5.5" height="81.2" fill="#c4c4f8" />
<rect x="1166.3" y="764" width="19.7" height="81.2" fill="#c4c4f8" />
<rect x="1191.4" y="764" width="11.7" height="81.2" fill="#c4c4f8" />
<rect x="1209.1" y="764" width="5.8" height="81.2" fill="#c4c4f8" />
<rect x="1228.1" y="764" width="5.8" height="81.2" fill="#c4c4f8" />
<polygon points="28,788.4 31.3,782.1 34.7,779.5 37.2,781.2 37.2,788.4 28,788.4" fill="#4aa84a" stroke="none" stroke-width="1" fill-opacity="0.55"/>
<polygon points="94.8,787.9 99.9,782.9 105.7,780.4 105.7,788.4 94.8,788.4" fill="#4aa84a" stroke="none" stroke-width="1" fill-opacity="0.55"/>
<polygon points="186.8,788.4 192.6,783.7 198.5,779.5 205.1,786.2 205.1,788.4 186.8,788.4" fill="#4aa84a" stroke="none" stroke-width="1" fill-opacity="0.55"/>
<polygon points="211,788.4 216.8,784.6 221.9,785.4 226.9,777 231,770.4 236.9,771.2 242.7,776.2 246.9,777.9 253.6,772.9 259.5,773.7 265.3,772 272,777 277.8,774.5 277.8,788.4 211,788.4" fill="#4aa84a" stroke="none" stroke-width="1" fill-opacity="0.55"/>
<polygon points="303.7,788.4 310.4,782.1 315.4,777.9 322.1,777 328.8,780.4 337.2,785.4 345.5,784.6 345.5,788.4 303.7,788.4" fill="#4aa84a" stroke="none" stroke-width="1" fill-opacity="0.55"/>
<polygon points="579.5,788.4 585.3,783.7 590.3,781.2 597.8,780.4 604.5,785.4 612,776.2 622.1,771.2 630.4,779.5 640.4,780.4 648.8,770.4 658.8,772 665.5,773.7 668,778.7 668,788.4 579.5,788.4" fill="#4aa84a" stroke="none" stroke-width="1" fill-opacity="0.55"/>
<polygon points="668,775.4 672.2,779.5 676.4,779.5 684.7,785.4 684.7,788.4 668,788.4" fill="#4aa84a" stroke="none" stroke-width="1" fill-opacity="0.55"/>
<polygon points="689.7,787.9 696.4,784.6 703.1,786.2 713.1,783.7 713.1,788.4 689.7,788.4" fill="#4aa84a" stroke="none" stroke-width="1" fill-opacity="0.55"/>
<polygon points="720.6,787.9 727.3,780.4 733.2,787.1 739.9,788.4 745.7,782.9 751.6,780.4 757.4,776.2 757.4,788.4 720.6,788.4" fill="#4aa84a" stroke="none" stroke-width="1" fill-opacity="0.55"/>
<polygon points="764.1,788.4 769.9,784.6 769.9,788.4 764.1,788.4" fill="#4aa84a" stroke="none" stroke-width="1" fill-opacity="0.55"/>
<polygon points="776.6,788.4 783.3,782.9 790,782.1 795,783.7 800.9,777.9 808.4,787.1 808.4,788.4 776.6,788.4" fill="#4aa84a" stroke="none" stroke-width="1" fill-opacity="0.55"/>
<polygon points="825.1,788.4 831.8,787.1 841.8,785.1 850.2,784.6 850.2,788.4 825.1,788.4" fill="#4aa84a" stroke="none" stroke-width="1" fill-opacity="0.55"/>
<polygon points="875.2,788.4 880.2,774.5 886.1,782.1 893.6,775.4 902,777.9 911.1,784.6 917,772.9 923.7,782.9 930.4,787.1 930.4,788.4 875.2,788.4" fill="#4aa84a" stroke="none" stroke-width="1" fill-opacity="0.55"/>
<polygon points="967.1,788.4 973.8,785.4 973.8,788.4 967.1,788.4" fill="#4aa84a" stroke="none" stroke-width="1" fill-opacity="0.55"/>
<polygon points="978.8,788.4 988,781.2 988,788.4 978.8,788.4" fill="#4aa84a" stroke="none" stroke-width="1" fill-opacity="0.55"/>
<polygon points="988,782.1 996.4,776.2 1003,773.7 1009.7,774.5 1017.2,778.7 1028.1,777 1034.8,773.7 1041.5,772.9 1046.5,771.2 1052.3,774.5 1064.9,774.5 1070.7,771.2 1077.4,777.9 1086.6,775 1095,775.7 1103.3,772 1108.3,771.2 1115,778.4 1120,777.9 1126.7,771.2 1138.4,772 1145.1,777 1151.8,781.2 1157.6,777 1168.5,778.4 1175.2,772 1188.5,772.9 1200.2,770 1206.1,774.5 1211.9,772.4 1224.5,774.5 1232,771.2 1237.8,772.9 1237.8,788.4 988,788.4" fill="#4aa84a" stroke="none" stroke-width="1" fill-opacity="0.55"/>
<line x1="28" y1="770.5" x2="1249" y2="770.5" stroke="#000" stroke-width="1.1" stroke-dasharray="4,3" />
<line x1="28" y1="841.5" x2="1249" y2="841.5" stroke="#000" stroke-width="1.1" stroke-dasharray="4,3" />
<line x1="28" y1="788.4" x2="1250" y2="788.4" stroke="#0a0aa0" stroke-width="2.0" />
<line x1="28" y1="806.5" x2="1250" y2="806.5" stroke="#0a0aa0" stroke-width="2.1" stroke-dasharray="5.5,5.5" />
<line x1="28" y1="824.6" x2="1250" y2="824.6" stroke="#d40a0a" stroke-width="1.9" />
<polyline points="28,792.1 31.3,782.1 34.7,779.5 37.2,781.2" fill="none" stroke="#0fd20f" stroke-width="3.7" stroke-linejoin="round" stroke-linecap="round"/>
<polyline points="37.2,781.2 41.4,792.1 46.4,807.1 52.2,822.2" fill="none" stroke="#ff9c00" stroke-width="3.7" stroke-linejoin="round" stroke-linecap="round"/>
<polyline points="52.2,822.2 55.6,810.5 58.1,806.3" fill="none" stroke="#0a0ae0" stroke-width="3.7" stroke-linejoin="round" stroke-linecap="round"/>
<polyline points="58.1,806.3 69.8,809.6" fill="none" stroke="#ff9c00" stroke-width="3.7" stroke-linejoin="round" stroke-linecap="round"/>
<polyline points="69.8,809.6 78.1,807.1 83.1,798.8 88.2,789.6 94.8,787.9" fill="none" stroke="#0a0ae0" stroke-width="3.7" stroke-linejoin="round" stroke-linecap="round"/>
<polyline points="94.8,787.9 99.9,782.9 105.7,780.4" fill="none" stroke="#0fd20f" stroke-width="3.7" stroke-linejoin="round" stroke-linecap="round"/>
<polyline points="105.7,780.4 111.6,793.8 116.6,805.4" fill="none" stroke="#ff9c00" stroke-width="3.7" stroke-linejoin="round" stroke-linecap="round"/>
<polyline points="116.6,805.4 123.3,794.6" fill="none" stroke="#0a0ae0" stroke-width="3.7" stroke-linejoin="round" stroke-linecap="round"/>
<polyline points="123.3,794.6 129.9,803.8 135,813.8 138.3,821.3" fill="none" stroke="#ff9c00" stroke-width="3.7" stroke-linejoin="round" stroke-linecap="round"/>
<polyline points="138.3,821.3 143.3,835.5 150,825.5 155.8,833" fill="none" stroke="#a00a0a" stroke-width="3.7" stroke-linejoin="round" stroke-linecap="round"/>
<polyline points="155.8,833 161.7,820.5 166.7,813.8 170,807.1 173.4,795.4" fill="none" stroke="#0a0ae0" stroke-width="3.7" stroke-linejoin="round" stroke-linecap="round"/>
<polyline points="173.4,795.4 180.1,797.1" fill="none" stroke="#ff9c00" stroke-width="3.7" stroke-linejoin="round" stroke-linecap="round"/>
<polyline points="180.1,797.1 186.8,791.2" fill="none" stroke="#0a0ae0" stroke-width="3.7" stroke-linejoin="round" stroke-linecap="round"/>
<polyline points="186.8,791.2 192.6,783.7 198.5,779.5 205.1,786.2" fill="none" stroke="#0fd20f" stroke-width="3.7" stroke-linejoin="round" stroke-linecap="round"/>
<polyline points="205.1,786.2 211,794.6" fill="none" stroke="#ff9c00" stroke-width="3.7" stroke-linejoin="round" stroke-linecap="round"/>
<polyline points="211,794.6 216.8,784.6 221.9,785.4 226.9,777 231,770.4 236.9,771.2 242.7,776.2 246.9,777.9 253.6,772.9 259.5,773.7 265.3,772 272,777 277.8,774.5" fill="none" stroke="#0fd20f" stroke-width="3.7" stroke-linejoin="round" stroke-linecap="round"/>
<polyline points="277.8,774.5 282.8,787.1 288.7,805.4" fill="none" stroke="#ff9c00" stroke-width="3.7" stroke-linejoin="round" stroke-linecap="round"/>
<polyline points="288.7,805.4 297.1,800.4 303.7,791.2" fill="none" stroke="#0a0ae0" stroke-width="3.7" stroke-linejoin="round" stroke-linecap="round"/>
<polyline points="303.7,791.2 310.4,782.1 315.4,777.9 322.1,777 328.8,780.4 337.2,785.4 345.5,784.6" fill="none" stroke="#0fd20f" stroke-width="3.7" stroke-linejoin="round" stroke-linecap="round"/>
<polyline points="345.5,784.6 348,787.1" fill="none" stroke="#ff9c00" stroke-width="3.7" stroke-linejoin="round" stroke-linecap="round"/>
<polyline points="348,787.1 354.7,792.1 364.7,795.4" fill="none" stroke="#ff9c00" stroke-width="3.7" stroke-linejoin="round" stroke-linecap="round"/>
<polyline points="364.7,795.4 369.7,792.9" fill="none" stroke="#0a0ae0" stroke-width="3.7" stroke-linejoin="round" stroke-linecap="round"/>
<polyline points="369.7,792.9 377.2,801.3" fill="none" stroke="#ff9c00" stroke-width="3.7" stroke-linejoin="round" stroke-linecap="round"/>
<polyline points="377.2,801.3 381.4,797.9" fill="none" stroke="#0a0ae0" stroke-width="3.7" stroke-linejoin="round" stroke-linecap="round"/>
<polyline points="381.4,797.9 387.3,805.4" fill="none" stroke="#ff9c00" stroke-width="3.7" stroke-linejoin="round" stroke-linecap="round"/>
<polyline points="387.3,805.4 394.8,802.1 401.5,792.9" fill="none" stroke="#0a0ae0" stroke-width="3.7" stroke-linejoin="round" stroke-linecap="round"/>
<polyline points="401.5,792.9 407.3,793.8 411.5,802.1 419.9,814.6" fill="none" stroke="#ff9c00" stroke-width="3.7" stroke-linejoin="round" stroke-linecap="round"/>
<polyline points="419.9,814.6 425.7,835.5 433.2,828" fill="none" stroke="#a00a0a" stroke-width="3.7" stroke-linejoin="round" stroke-linecap="round"/>
<polyline points="433.2,828 439.1,818.8 445.8,817.1 449.9,800.4" fill="none" stroke="#0a0ae0" stroke-width="3.7" stroke-linejoin="round" stroke-linecap="round"/>
<polyline points="449.9,800.4 458.3,805.4 468.3,814.6" fill="none" stroke="#ff9c00" stroke-width="3.7" stroke-linejoin="round" stroke-linecap="round"/>
<polyline points="468.3,814.6 475.8,808" fill="none" stroke="#0a0ae0" stroke-width="3.7" stroke-linejoin="round" stroke-linecap="round"/>
<polyline points="475.8,808 481.7,825.5 487.5,835.5 494.2,824.7 500.1,826.3" fill="none" stroke="#a00a0a" stroke-width="3.7" stroke-linejoin="round" stroke-linecap="round"/>
<polyline points="500.1,826.3 505.9,816.3" fill="none" stroke="#0a0ae0" stroke-width="3.7" stroke-linejoin="round" stroke-linecap="round"/>
<polyline points="505.9,816.3 512.6,816.3" fill="none" stroke="#ff9c00" stroke-width="3.7" stroke-linejoin="round" stroke-linecap="round"/>
<polyline points="512.6,816.3 520.1,810.5 530.2,806.3 536.8,794.6 541.9,791.2" fill="none" stroke="#0a0ae0" stroke-width="3.7" stroke-linejoin="round" stroke-linecap="round"/>
<polyline points="541.9,791.2 548.5,797.1 555.2,802.1 562.7,814.6" fill="none" stroke="#ff9c00" stroke-width="3.7" stroke-linejoin="round" stroke-linecap="round"/>
<polyline points="562.7,812.1 566.9,799.6 579.5,797.1" fill="none" stroke="#0a0ae0" stroke-width="3.7" stroke-linejoin="round" stroke-linecap="round"/>
<polyline points="579.5,797.1 585.3,783.7 590.3,781.2 597.8,780.4 604.5,785.4 612,776.2 622.1,771.2 630.4,779.5 640.4,780.4 648.8,770.4 658.8,772 665.5,773.7 668,778.7" fill="none" stroke="#0fd20f" stroke-width="3.7" stroke-linejoin="round" stroke-linecap="round"/>
<polyline points="668,775.4 672.2,779.5 676.4,779.5 684.7,785.4" fill="none" stroke="#0fd20f" stroke-width="3.7" stroke-linejoin="round" stroke-linecap="round"/>
<polyline points="684.7,785.4 689.7,787.9" fill="none" stroke="#ff9c00" stroke-width="3.7" stroke-linejoin="round" stroke-linecap="round"/>
<polyline points="689.7,787.9 696.4,784.6 703.1,786.2 713.1,783.7" fill="none" stroke="#0fd20f" stroke-width="3.7" stroke-linejoin="round" stroke-linecap="round"/>
<polyline points="713.1,783.7 720.6,787.9" fill="none" stroke="#ff9c00" stroke-width="3.7" stroke-linejoin="round" stroke-linecap="round"/>
<polyline points="720.6,787.9 727.3,780.4 733.2,787.1 739.9,788.7 745.7,782.9 751.6,780.4 757.4,776.2" fill="none" stroke="#0fd20f" stroke-width="3.7" stroke-linejoin="round" stroke-linecap="round"/>
<polyline points="757.4,776.2 764.1,790.4" fill="none" stroke="#ff9c00" stroke-width="3.7" stroke-linejoin="round" stroke-linecap="round"/>
<polyline points="764.1,790.4 769.9,784.6" fill="none" stroke="#0fd20f" stroke-width="3.7" stroke-linejoin="round" stroke-linecap="round"/>
<polyline points="769.9,784.6 776.6,788.7" fill="none" stroke="#ff9c00" stroke-width="3.7" stroke-linejoin="round" stroke-linecap="round"/>
<polyline points="776.6,788.7 783.3,782.9 790,782.1 795,783.7 800.9,777.9 808.4,787.1" fill="none" stroke="#0fd20f" stroke-width="3.7" stroke-linejoin="round" stroke-linecap="round"/>
<polyline points="808.4,787.1 814.2,792.9 820.1,798.8 825.1,798.8" fill="none" stroke="#ff9c00" stroke-width="3.7" stroke-linejoin="round" stroke-linecap="round"/>
<polyline points="825.1,798.8 831.8,787.1 841.8,785.1 850.2,784.6" fill="none" stroke="#0fd20f" stroke-width="3.7" stroke-linejoin="round" stroke-linecap="round"/>
<polyline points="850.2,784.6 852.7,792.1 856,805.4" fill="none" stroke="#ff9c00" stroke-width="3.7" stroke-linejoin="round" stroke-linecap="round"/>
<polyline points="856,805.4 862.7,801.3 868.5,795.4 875.2,792.1" fill="none" stroke="#0a0ae0" stroke-width="3.7" stroke-linejoin="round" stroke-linecap="round"/>
<polyline points="875.2,792.1 880.2,774.5 886.1,782.1 893.6,775.4 902,777.9 911.1,784.6 917,772.9 923.7,782.9 930.4,787.1" fill="none" stroke="#0fd20f" stroke-width="3.7" stroke-linejoin="round" stroke-linecap="round"/>
<polyline points="930.4,787.1 937.1,789.6 942.1,789.6" fill="none" stroke="#ff9c00" stroke-width="3.7" stroke-linejoin="round" stroke-linecap="round"/>
<polyline points="942.1,789.6 945.4,807.1 948.7,828.8" fill="none" stroke="#a00a0a" stroke-width="3.7" stroke-linejoin="round" stroke-linecap="round"/>
<polyline points="948.7,835.5 953.8,815.5 958.8,805.4 967.1,794.6" fill="none" stroke="#0a0ae0" stroke-width="3.7" stroke-linejoin="round" stroke-linecap="round"/>
<polyline points="967.1,794.6 973.8,785.4" fill="none" stroke="#0fd20f" stroke-width="3.7" stroke-linejoin="round" stroke-linecap="round"/>
<polyline points="973.8,785.4 978.8,788.7" fill="none" stroke="#ff9c00" stroke-width="3.7" stroke-linejoin="round" stroke-linecap="round"/>
<polyline points="978.8,788.7 988,781.2" fill="none" stroke="#0fd20f" stroke-width="3.7" stroke-linejoin="round" stroke-linecap="round"/>
<polyline points="988,782.1 996.4,776.2 1003,773.7 1009.7,774.5 1017.2,778.7 1028.1,777 1034.8,773.7 1041.5,772.9 1046.5,771.2 1052.3,774.5 1064.9,774.5 1070.7,771.2 1077.4,777.9 1086.6,775 1095,775.7 1103.3,772 1108.3,771.2 1115,778.4 1120,777.9 1126.7,771.2 1138.4,772 1145.1,777 1151.8,781.2 1157.6,777 1168.5,778.4 1175.2,772 1188.5,772.9 1200.2,770 1206.1,774.5 1211.9,772.4 1224.5,774.5 1232,771.2 1237.8,772.9" fill="none" stroke="#0fd20f" stroke-width="3.7" stroke-linejoin="round" stroke-linecap="round"/>
<polyline points="1237.8,772.9 1242.8,790.4 1249.5,792.9" fill="none" stroke="#ff9c00" stroke-width="3.7" stroke-linejoin="round" stroke-linecap="round"/>
<polygon points="38.7,800.7 50.7,800.7 44.7,810.9" fill="#b00000" stroke="none" stroke-width="1" />
<polygon points="46.2,812.2 58.2,812.2 52.2,802" fill="#0000c0" stroke="none" stroke-width="1" />
<polygon points="57.9,800.7 69.9,800.7 63.9,810.9" fill="#b00000" stroke="none" stroke-width="1" />
<polygon points="70.1,812.2 82.1,812.2 76.1,802" fill="#0000c0" stroke="none" stroke-width="1" />
<polygon points="107.2,800.7 119.2,800.7 113.2,810.9" fill="#b00000" stroke="none" stroke-width="1" />
<polygon points="113.1,812.2 125.1,812.2 119.1,802" fill="#0000c0" stroke="none" stroke-width="1" />
<polygon points="125.3,800.7 137.3,800.7 131.3,810.9" fill="#b00000" stroke="none" stroke-width="1" />
<polygon points="162,812.2 174,812.2 168,802" fill="#0000c0" stroke="none" stroke-width="1" />
<polygon points="279.4,800.7 291.4,800.7 285.4,810.9" fill="#b00000" stroke="none" stroke-width="1" />
<polygon points="285.2,812.2 297.2,812.2 291.2,802" fill="#0000c0" stroke="none" stroke-width="1" />
<polygon points="377.6,800.7 389.6,800.7 383.6,810.9" fill="#b00000" stroke="none" stroke-width="1" />
<polygon points="383.8,812.2 395.8,812.2 389.8,802" fill="#0000c0" stroke="none" stroke-width="1" />
<polygon points="402.2,800.7 414.2,800.7 408.2,810.9" fill="#b00000" stroke="none" stroke-width="1" />
<polygon points="439.8,812.2 451.8,812.2 445.8,802" fill="#0000c0" stroke="none" stroke-width="1" />
<polygon points="450.6,800.7 462.6,800.7 456.6,810.9" fill="#b00000" stroke="none" stroke-width="1" />
<polygon points="525,812.2 537,812.2 531,802" fill="#0000c0" stroke="none" stroke-width="1" />
<polygon points="550.1,800.7 562.1,800.7 556.1,810.9" fill="#b00000" stroke="none" stroke-width="1" />
<polygon points="555.9,812.2 567.9,812.2 561.9,802" fill="#0000c0" stroke="none" stroke-width="1" />
<polygon points="845,800.7 857,800.7 851,810.9" fill="#b00000" stroke="none" stroke-width="1" />
<polygon points="850.8,812.2 862.8,812.2 856.8,802" fill="#0000c0" stroke="none" stroke-width="1" />
<polygon points="936.9,800.7 948.9,800.7 942.9,810.9" fill="#b00000" stroke="none" stroke-width="1" />
<polygon points="949.1,812.2 961.1,812.2 955.1,802" fill="#0000c0" stroke="none" stroke-width="1" />
</g>
<rect x="28" y="764" width="89.5" height="15" fill="#cfdee7" stroke="#7f99a7" stroke-width="1" />
<line x1="43.5" y1="764" x2="43.5" y2="779" stroke="#7f99a7" stroke-width="1" />
<circle cx="35.3" cy="771.5" r="5.3" fill="#4a6fa8"/>
<line x1="33" y1="769.2" x2="37.6" y2="773.8" stroke="#e8eef6" stroke-width="1.8" />
<line x1="37.6" y1="769.2" x2="33" y2="773.8" stroke="#e8eef6" stroke-width="1.8" />
<rect x="47.5" y="767.5" width="8" height="8" fill="#78909c" />
<text x="59.5" y="775" font-size="9.6" font-weight="bold" fill="#000" text-anchor="start" textLength="56" lengthAdjust="spacingAndGlyphs" >Willy Doc (t)</text>
<g clip-path="url(#cp3)">
<line x1="69.5" y1="846" x2="69.5" y2="938" stroke="#707070" stroke-width="1" stroke-dasharray="1,3" stroke-opacity="0.27"/>
<line x1="125.5" y1="846" x2="125.5" y2="938" stroke="#707070" stroke-width="1" stroke-dasharray="1,3" stroke-opacity="0.27"/>
<line x1="180.5" y1="846" x2="180.5" y2="938" stroke="#707070" stroke-width="1" stroke-dasharray="1,3" stroke-opacity="0.27"/>
<line x1="284.5" y1="846" x2="284.5" y2="938" stroke="#707070" stroke-width="1" stroke-dasharray="1,3" stroke-opacity="0.27"/>
<line x1="333.5" y1="846" x2="333.5" y2="938" stroke="#707070" stroke-width="1" stroke-dasharray="1,3" stroke-opacity="0.27"/>
<line x1="389.5" y1="846" x2="389.5" y2="938" stroke="#707070" stroke-width="1" stroke-dasharray="1,3" stroke-opacity="0.27"/>
<line x1="445.5" y1="846" x2="445.5" y2="938" stroke="#707070" stroke-width="1" stroke-dasharray="1,3" stroke-opacity="0.27"/>
<line x1="500.5" y1="846" x2="500.5" y2="938" stroke="#707070" stroke-width="1" stroke-dasharray="1,3" stroke-opacity="0.27"/>
<line x1="604.5" y1="846" x2="604.5" y2="938" stroke="#707070" stroke-width="1" stroke-dasharray="1,3" stroke-opacity="0.27"/>
<line x1="659.5" y1="846" x2="659.5" y2="938" stroke="#707070" stroke-width="1" stroke-dasharray="1,3" stroke-opacity="0.27"/>
<line x1="708.5" y1="846" x2="708.5" y2="938" stroke="#707070" stroke-width="1" stroke-dasharray="1,3" stroke-opacity="0.27"/>
<line x1="765.5" y1="846" x2="765.5" y2="938" stroke="#707070" stroke-width="1" stroke-dasharray="1,3" stroke-opacity="0.27"/>
<line x1="820.5" y1="846" x2="820.5" y2="938" stroke="#707070" stroke-width="1" stroke-dasharray="1,3" stroke-opacity="0.27"/>
<line x1="923.5" y1="846" x2="923.5" y2="938" stroke="#707070" stroke-width="1" stroke-dasharray="1,3" stroke-opacity="0.27"/>
<line x1="979.5" y1="846" x2="979.5" y2="938" stroke="#707070" stroke-width="1" stroke-dasharray="1,3" stroke-opacity="0.27"/>
<line x1="1034.5" y1="846" x2="1034.5" y2="938" stroke="#707070" stroke-width="1" stroke-dasharray="1,3" stroke-opacity="0.27"/>
<line x1="1084.5" y1="846" x2="1084.5" y2="938" stroke="#707070" stroke-width="1" stroke-dasharray="1,3" stroke-opacity="0.27"/>
<line x1="1138.5" y1="846" x2="1138.5" y2="938" stroke="#707070" stroke-width="1" stroke-dasharray="1,3" stroke-opacity="0.27"/>
<line x1="1243.5" y1="846" x2="1243.5" y2="938" stroke="#707070" stroke-width="1" stroke-dasharray="1,3" stroke-opacity="0.27"/>
<line x1="1298.5" y1="846" x2="1298.5" y2="938" stroke="#707070" stroke-width="1" stroke-dasharray="1,3" stroke-opacity="0.27"/>
<line x1="1354.5" y1="846" x2="1354.5" y2="938" stroke="#707070" stroke-width="1" stroke-dasharray="1,3" stroke-opacity="0.27"/>
<line x1="1410.5" y1="846" x2="1410.5" y2="938" stroke="#707070" stroke-width="1" stroke-dasharray="1,3" stroke-opacity="0.27"/>
<line x1="1458.5" y1="846" x2="1458.5" y2="938" stroke="#707070" stroke-width="1" stroke-dasharray="1,3" stroke-opacity="0.27"/>
<line x1="1563.5" y1="846" x2="1563.5" y2="938" stroke="#707070" stroke-width="1" stroke-dasharray="1,3" stroke-opacity="0.27"/>
<line x1="1618.5" y1="846" x2="1618.5" y2="938" stroke="#707070" stroke-width="1" stroke-dasharray="1,3" stroke-opacity="0.27"/>
<line x1="1673.5" y1="846" x2="1673.5" y2="938" stroke="#707070" stroke-width="1" stroke-dasharray="1,3" stroke-opacity="0.27"/>
<line x1="1729.5" y1="846" x2="1729.5" y2="938" stroke="#707070" stroke-width="1" stroke-dasharray="1,3" stroke-opacity="0.27"/>
<line x1="1778.5" y1="846" x2="1778.5" y2="938" stroke="#707070" stroke-width="1" stroke-dasharray="1,3" stroke-opacity="0.27"/>
<line x1="28" y1="877.5" x2="1874" y2="877.5" stroke="#707070" stroke-width="1" stroke-dasharray="1,3" stroke-opacity="0.27"/>
<rect x="30" y="903" width="5" height="4.5" fill="#f9c9c9" />
<rect x="30" y="907.5" width="5" height="1" fill="#1010f0" />
<rect x="36.1" y="903.5" width="5" height="3.2" fill="#f9c9c9" />
<rect x="36.1" y="906.7" width="5" height="1.8" fill="#1010f0" />
<rect x="42.3" y="904" width="5" height="4.7" fill="#f9c9c9" />
<rect x="42.3" y="908.5" width="5" height="0.2" fill="#f01010" />
<rect x="48.5" y="905.1" width="5" height="14.9" fill="#f9c9c9" />
<rect x="48.5" y="908.5" width="5" height="11.5" fill="#f01010" />
<rect x="54.6" y="909.2" width="5" height="18.3" fill="#f9c9c9" />
<rect x="54.6" y="908.5" width="5" height="19" fill="#f01010" />
<rect x="60.8" y="914.3" width="5" height="9.2" fill="#f9c9c9" />
<rect x="60.8" y="908.5" width="5" height="14.9" fill="#0a8c8c" />
<rect x="66.9" y="918.3" width="5" height="4.4" fill="#f9c9c9" />
<rect x="66.9" y="908.5" width="5" height="14.3" fill="#0a8c8c" />
<rect x="73.1" y="921.4" width="5" height="2" fill="#f9c9c9" />
<rect x="73.1" y="908.5" width="5" height="14.9" fill="#f01010" />
<rect x="79.2" y="908.5" width="5" height="11.1" fill="#0a8c8c" />
<rect x="85.3" y="913.2" width="5" height="5.7" fill="#c6f2c0" />
<rect x="85.3" y="908.5" width="5" height="4.7" fill="#0a8c8c" />
<rect x="91.5" y="905.8" width="5" height="10.6" fill="#c6f2c0" />
<rect x="91.5" y="905.8" width="5" height="2.7" fill="#1010f0" />
<rect x="97.7" y="900.2" width="5" height="12.1" fill="#c6f2c0" />
<rect x="97.7" y="900.2" width="5" height="8.3" fill="#1010f0" />
<rect x="103.8" y="898.2" width="5" height="9.8" fill="#c6f2c0" />
<rect x="103.8" y="898.2" width="5" height="10.3" fill="#1010f0" />
<rect x="110" y="899.9" width="5" height="4.6" fill="#f9c9c9" />
<rect x="110" y="899.9" width="5" height="8.6" fill="#ff10e8" />
<rect x="116.1" y="905.7" width="5" height="2.9" fill="#f9c9c9" />
<rect x="116.1" y="908.5" width="5" height="0.1" fill="#f01010" />
<rect x="122.2" y="906.5" width="5" height="4.4" fill="#f9c9c9" />
<rect x="122.2" y="908.5" width="5" height="2.4" fill="#f01010" />
<rect x="128.4" y="908.4" width="5" height="3" fill="#f9c9c9" />
<rect x="128.4" y="908.5" width="5" height="2.9" fill="#f01010" />
<rect x="134.6" y="912.2" width="5" height="6.9" fill="#f9c9c9" />
<rect x="134.6" y="908.5" width="5" height="10.7" fill="#f01010" />
<rect x="140.7" y="917.8" width="5" height="10.6" fill="#f9c9c9" />
<rect x="140.7" y="908.5" width="5" height="19.9" fill="#f01010" />
<rect x="146.9" y="922.6" width="5" height="11.2" fill="#f9c9c9" />
<rect x="146.9" y="908.5" width="5" height="25.3" fill="#f01010" />
<rect x="153" y="927.1" width="5" height="6.6" fill="#f9c9c9" />
<rect x="153" y="908.5" width="5" height="25.1" fill="#0a8c8c" />
<rect x="159.2" y="929.3" width="5" height="3.5" fill="#f9c9c9" />
<rect x="159.2" y="908.5" width="5" height="24.2" fill="#0a8c8c" />
<rect x="165.3" y="924.7" width="5" height="5.8" fill="#c6f2c0" />
<rect x="165.3" y="908.5" width="5" height="16.2" fill="#0a8c8c" />
<rect x="171.5" y="912.6" width="5" height="14.9" fill="#c6f2c0" />
<rect x="171.5" y="908.5" width="5" height="4.1" fill="#0a8c8c" />
<rect x="177.6" y="902.8" width="5" height="19" fill="#c6f2c0" />
<rect x="177.6" y="902.8" width="5" height="5.7" fill="#1010f0" />
<rect x="183.8" y="898" width="5" height="17.7" fill="#c6f2c0" />
<rect x="183.8" y="898" width="5" height="10.5" fill="#1010f0" />
<rect x="189.9" y="893.1" width="5" height="16.4" fill="#c6f2c0" />
<rect x="189.9" y="893.1" width="5" height="15.4" fill="#1010f0" />
<rect x="196.1" y="889.9" width="5" height="13.5" fill="#c6f2c0" />
<rect x="196.1" y="889.9" width="5" height="18.6" fill="#1010f0" />
<rect x="202.2" y="889.2" width="5" height="10.8" fill="#c6f2c0" />
<rect x="202.2" y="889.2" width="5" height="19.3" fill="#1010f0" />
<rect x="208.4" y="892.7" width="5" height="5.6" fill="#c6f2c0" />
<rect x="208.4" y="892.7" width="5" height="15.8" fill="#ff10e8" />
<rect x="214.5" y="894.4" width="5" height="3.2" fill="#c6f2c0" />
<rect x="214.5" y="894.4" width="5" height="14.1" fill="#ff10e8" />
<rect x="220.7" y="892" width="5" height="4.4" fill="#c6f2c0" />
<rect x="220.7" y="892" width="5" height="16.5" fill="#1010f0" />
<rect x="226.8" y="888" width="5" height="6.3" fill="#c6f2c0" />
<rect x="226.8" y="888" width="5" height="20.5" fill="#1010f0" />
<rect x="233" y="878.3" width="5" height="13" fill="#c6f2c0" />
<rect x="233" y="878.3" width="5" height="30.2" fill="#1010f0" />
<rect x="239.1" y="875.3" width="5" height="11.7" fill="#c6f2c0" />
<rect x="239.1" y="875.3" width="5" height="33.2" fill="#1010f0" />
<rect x="245.2" y="877.7" width="5" height="6.2" fill="#c6f2c0" />
<rect x="245.2" y="877.7" width="5" height="30.8" fill="#ff10e8" />
<rect x="251.4" y="878.3" width="5" height="2.8" fill="#c6f2c0" />
<rect x="251.4" y="878.3" width="5" height="30.2" fill="#ff10e8" />
<rect x="257.6" y="876.8" width="5" height="2.2" fill="#c6f2c0" />
<rect x="257.6" y="876.8" width="5" height="31.7" fill="#1010f0" />
<rect x="263.7" y="876.5" width="5" height="32" fill="#1010f0" />
<rect x="269.9" y="878" width="5" height="30.5" fill="#ff10e8" />
<rect x="276" y="877.4" width="5" height="5.9" fill="#f9c9c9" />
<rect x="276" y="883.3" width="5" height="25.2" fill="#ff10e8" />
<rect x="282.1" y="879" width="5" height="13.6" fill="#f9c9c9" />
<rect x="282.1" y="892.7" width="5" height="15.8" fill="#ff10e8" />
<rect x="288.3" y="882.7" width="5" height="24.2" fill="#f9c9c9" />
<rect x="288.3" y="906.9" width="5" height="1.6" fill="#ff10e8" />
<rect x="294.4" y="888.3" width="5" height="34.1" fill="#f9c9c9" />
<rect x="294.4" y="908.5" width="5" height="14" fill="#f01010" />
<rect x="300.6" y="893.7" width="5" height="26.8" fill="#f9c9c9" />
<rect x="300.6" y="908.5" width="5" height="11.9" fill="#0a8c8c" />
<rect x="306.8" y="897.8" width="5" height="14.1" fill="#f9c9c9" />
<rect x="306.8" y="908.5" width="5" height="3.4" fill="#0a8c8c" />
<rect x="312.9" y="900.1" width="5" height="5.1" fill="#f9c9c9" />
<rect x="312.9" y="905.2" width="5" height="3.3" fill="#1010f0" />
<rect x="319.1" y="895.6" width="5" height="5.3" fill="#c6f2c0" />
<rect x="319.1" y="900.9" width="5" height="7.6" fill="#1010f0" />
<rect x="325.2" y="891.6" width="5" height="6.4" fill="#c6f2c0" />
<rect x="325.2" y="898.1" width="5" height="10.4" fill="#1010f0" />
<rect x="331.4" y="889.7" width="5" height="13" fill="#c6f2c0" />
<rect x="331.4" y="902.7" width="5" height="5.8" fill="#ff10e8" />
<rect x="337.5" y="889.6" width="5" height="15.3" fill="#f9c9c9" />
<rect x="337.5" y="905" width="5" height="3.5" fill="#ff10e8" />
<rect x="343.7" y="891.2" width="5" height="15.3" fill="#f9c9c9" />
<rect x="343.7" y="906.4" width="5" height="2.1" fill="#ff10e8" />
<rect x="349.8" y="894.4" width="5" height="16" fill="#f9c9c9" />
<rect x="349.8" y="908.5" width="5" height="1.9" fill="#f01010" />
<rect x="356" y="898.5" width="5" height="16.8" fill="#f9c9c9" />
<rect x="356" y="908.5" width="5" height="6.8" fill="#f01010" />
<rect x="362.1" y="903.4" width="5" height="13.7" fill="#f9c9c9" />
<rect x="362.1" y="908.5" width="5" height="8.6" fill="#f01010" />
<rect x="368.2" y="907.7" width="5" height="11.3" fill="#f9c9c9" />
<rect x="368.2" y="908.5" width="5" height="10.5" fill="#f01010" />
<rect x="374.4" y="911.3" width="5" height="10.3" fill="#f9c9c9" />
<rect x="374.4" y="908.5" width="5" height="13.1" fill="#f01010" />
<rect x="380.6" y="914.3" width="5" height="9.9" fill="#f9c9c9" />
<rect x="380.6" y="908.5" width="5" height="15.7" fill="#f01010" />
<rect x="386.7" y="917.4" width="5" height="9.2" fill="#f9c9c9" />
<rect x="386.7" y="908.5" width="5" height="18.2" fill="#f01010" />
<rect x="392.9" y="919.6" width="5" height="10.5" fill="#f9c9c9" />
<rect x="392.9" y="908.5" width="5" height="21.6" fill="#f01010" />
<rect x="399" y="908.5" width="5" height="11.7" fill="#0a8c8c" />
<rect x="405.2" y="912.5" width="5" height="6.2" fill="#c6f2c0" />
<rect x="405.2" y="908.5" width="5" height="4" fill="#0a8c8c" />
<rect x="411.3" y="913.3" width="5" height="4.1" fill="#c6f2c0" />
<rect x="411.3" y="908.5" width="5" height="4.8" fill="#f01010" />
<rect x="417.5" y="908.5" width="5" height="8.1" fill="#f01010" />
<rect x="423.6" y="916.9" width="5" height="4.2" fill="#f9c9c9" />
<rect x="423.6" y="908.5" width="5" height="12.6" fill="#f01010" />
<rect x="429.8" y="919.1" width="5" height="6.1" fill="#f9c9c9" />
<rect x="429.8" y="908.5" width="5" height="16.7" fill="#f01010" />
<rect x="435.9" y="920.1" width="5" height="2.6" fill="#c6f2c0" />
<rect x="435.9" y="908.5" width="5" height="11.6" fill="#0a8c8c" />
<rect x="442.1" y="913.9" width="5" height="8.8" fill="#c6f2c0" />
<rect x="442.1" y="908.5" width="5" height="5.4" fill="#0a8c8c" />
<rect x="448.2" y="907.7" width="5" height="13.2" fill="#c6f2c0" />
<rect x="448.2" y="907.7" width="5" height="0.8" fill="#1010f0" />
<rect x="454.4" y="901.8" width="5" height="15.6" fill="#c6f2c0" />
<rect x="454.4" y="901.8" width="5" height="6.7" fill="#1010f0" />
<rect x="460.5" y="901" width="5" height="11.9" fill="#c6f2c0" />
<rect x="460.5" y="901" width="5" height="7.5" fill="#1010f0" />
<rect x="466.7" y="903.3" width="5" height="7.2" fill="#c6f2c0" />
<rect x="466.7" y="903.3" width="5" height="5.2" fill="#ff10e8" />
<rect x="472.8" y="905.4" width="5" height="3.4" fill="#c6f2c0" />
<rect x="472.8" y="905.4" width="5" height="3.1" fill="#ff10e8" />
<rect x="479" y="908.3" width="5" height="1.7" fill="#f9c9c9" />
<rect x="479" y="908.3" width="5" height="0.2" fill="#ff10e8" />
<rect x="485.1" y="912.3" width="5" height="2" fill="#f9c9c9" />
<rect x="485.1" y="908.5" width="5" height="5.8" fill="#f01010" />
<rect x="491.2" y="915.3" width="5" height="4" fill="#f9c9c9" />
<rect x="491.2" y="908.5" width="5" height="10.7" fill="#f01010" />
<rect x="497.4" y="908.5" width="5" height="8.4" fill="#0a8c8c" />
<rect x="503.6" y="912.4" width="5" height="5.6" fill="#f9c9c9" />
<rect x="503.6" y="908.5" width="5" height="3.9" fill="#0a8c8c" />
<rect x="509.7" y="908.6" width="5" height="9.9" fill="#f9c9c9" />
<rect x="509.7" y="908.5" width="5" height="0.1" fill="#0a8c8c" />
<rect x="515.9" y="905.9" width="5" height="10.8" fill="#c6f2c0" />
<rect x="515.9" y="905.9" width="5" height="2.6" fill="#1010f0" />
<rect x="522" y="904.1" width="5" height="9.7" fill="#c6f2c0" />
<rect x="522" y="904.1" width="5" height="4.4" fill="#1010f0" />
<rect x="528.2" y="902.9" width="5" height="7.9" fill="#c6f2c0" />
<rect x="528.2" y="902.9" width="5" height="5.6" fill="#1010f0" />
<rect x="534.3" y="899.2" width="5" height="8.5" fill="#c6f2c0" />
<rect x="534.3" y="899.2" width="5" height="9.3" fill="#1010f0" />
<rect x="540.5" y="896.2" width="5" height="7.8" fill="#c6f2c0" />
<rect x="540.5" y="896.2" width="5" height="12.3" fill="#1010f0" />
<rect x="546.6" y="895.8" width="5" height="5.3" fill="#c6f2c0" />
<rect x="546.6" y="895.8" width="5" height="12.7" fill="#1010f0" />
<rect x="552.8" y="898.5" width="5" height="10" fill="#ff10e8" />
<rect x="558.9" y="900.4" width="5" height="2.7" fill="#f9c9c9" />
<rect x="558.9" y="903.1" width="5" height="5.4" fill="#ff10e8" />
<rect x="565.1" y="901.4" width="5" height="3.5" fill="#f9c9c9" />
<rect x="565.1" y="904.9" width="5" height="3.6" fill="#ff10e8" />
<rect x="571.2" y="903.9" width="5" height="4.6" fill="#1010f0" />
<rect x="577.4" y="902.4" width="5" height="1.8" fill="#f9c9c9" />
<rect x="577.4" y="902.4" width="5" height="6.1" fill="#1010f0" />
<rect x="583.5" y="901.1" width="5" height="2.1" fill="#c6f2c0" />
<rect x="583.5" y="901.1" width="5" height="7.4" fill="#1010f0" />
<rect x="589.6" y="900.1" width="5" height="1.8" fill="#c6f2c0" />
<rect x="589.6" y="900.1" width="5" height="8.4" fill="#1010f0" />
<rect x="595.8" y="900.1" width="5" height="8.4" fill="#1010f0" />
<rect x="602" y="901.6" width="5" height="6.9" fill="#ff10e8" />
<rect x="608.1" y="901" width="5" height="7.5" fill="#1010f0" />
<rect x="614.2" y="895.4" width="5" height="4" fill="#c6f2c0" />
<rect x="614.2" y="895.4" width="5" height="13.1" fill="#1010f0" />
<rect x="620.4" y="889.6" width="5" height="6" fill="#c6f2c0" />
<rect x="620.4" y="889.6" width="5" height="18.9" fill="#1010f0" />
<rect x="626.6" y="888.6" width="5" height="3.4" fill="#c6f2c0" />
<rect x="626.6" y="888.6" width="5" height="19.9" fill="#1010f0" />
<rect x="632.7" y="889.3" width="5" height="1.5" fill="#c6f2c0" />
<rect x="632.7" y="890.9" width="5" height="17.6" fill="#ff10e8" />
<rect x="638.9" y="887.8" width="5" height="4.6" fill="#c6f2c0" />
<rect x="638.9" y="892.4" width="5" height="16.1" fill="#ff10e8" />
<rect x="645" y="886.3" width="5" height="3" fill="#c6f2c0" />
<rect x="645" y="889.3" width="5" height="19.2" fill="#1010f0" />
<rect x="651.2" y="882.4" width="5" height="1.8" fill="#c6f2c0" />
<rect x="651.2" y="882.4" width="5" height="26.1" fill="#1010f0" />
<rect x="657.3" y="874.7" width="5" height="5.8" fill="#c6f2c0" />
<rect x="657.3" y="874.7" width="5" height="33.8" fill="#1010f0" />
<rect x="663.5" y="869.7" width="5" height="6.2" fill="#c6f2c0" />
<rect x="663.5" y="869.7" width="5" height="38.8" fill="#1010f0" />
<rect x="669.6" y="872.2" width="5" height="2.1" fill="#c6f2c0" />
<rect x="669.6" y="874.3" width="5" height="34.2" fill="#ff10e8" />
<rect x="675.8" y="871.1" width="5" height="8.8" fill="#c6f2c0" />
<rect x="675.8" y="879.9" width="5" height="28.6" fill="#ff10e8" />
<rect x="681.9" y="871.4" width="5" height="14.7" fill="#c6f2c0" />
<rect x="681.9" y="886.1" width="5" height="22.4" fill="#ff10e8" />
<rect x="688.1" y="875.1" width="5" height="15.6" fill="#f9c9c9" />
<rect x="688.1" y="890.8" width="5" height="17.7" fill="#ff10e8" />
<rect x="694.2" y="878.6" width="5" height="15.9" fill="#f9c9c9" />
<rect x="694.2" y="894.4" width="5" height="14.1" fill="#ff10e8" />
<rect x="700.4" y="881.5" width="5" height="15.4" fill="#f9c9c9" />
<rect x="700.4" y="897" width="5" height="11.5" fill="#ff10e8" />
<rect x="706.5" y="884.2" width="5" height="14.8" fill="#f9c9c9" />
<rect x="706.5" y="899" width="5" height="9.5" fill="#ff10e8" />
<rect x="712.7" y="886.5" width="5" height="13.8" fill="#f9c9c9" />
<rect x="712.7" y="900.3" width="5" height="8.2" fill="#ff10e8" />
<rect x="718.8" y="888.3" width="5" height="13.5" fill="#f9c9c9" />
<rect x="718.8" y="901.8" width="5" height="6.7" fill="#ff10e8" />
<rect x="725" y="889.5" width="5" height="13.8" fill="#f9c9c9" />
<rect x="725" y="903.3" width="5" height="5.2" fill="#ff10e8" />
<rect x="731.1" y="890.3" width="5" height="12.5" fill="#f9c9c9" />
<rect x="731.1" y="902.8" width="5" height="5.7" fill="#1010f0" />
<rect x="737.2" y="893.4" width="5" height="11.7" fill="#f9c9c9" />
<rect x="737.2" y="905.1" width="5" height="3.4" fill="#ff10e8" />
<rect x="743.4" y="893.8" width="5" height="12.1" fill="#c6f2c0" />
<rect x="743.4" y="905.9" width="5" height="2.6" fill="#ff10e8" />
<rect x="749.6" y="893.2" width="5" height="9.2" fill="#c6f2c0" />
<rect x="749.6" y="902.4" width="5" height="6.1" fill="#1010f0" />
<rect x="755.7" y="892.6" width="5" height="7.8" fill="#c6f2c0" />
<rect x="755.7" y="900.4" width="5" height="8.1" fill="#1010f0" />
<rect x="761.9" y="893.4" width="5" height="9.1" fill="#f9c9c9" />
<rect x="761.9" y="902.5" width="5" height="6" fill="#ff10e8" />
<rect x="768" y="893.2" width="5" height="14" fill="#f9c9c9" />
<rect x="768" y="907.3" width="5" height="1.2" fill="#ff10e8" />
<rect x="774.2" y="894.3" width="5" height="13.4" fill="#f9c9c9" />
<rect x="774.2" y="907.7" width="5" height="0.8" fill="#ff10e8" />
<rect x="780.3" y="895.5" width="5" height="12.6" fill="#f9c9c9" />
<rect x="780.3" y="908.1" width="5" height="0.4" fill="#ff10e8" />
<rect x="786.5" y="897.6" width="5" height="8.1" fill="#f9c9c9" />
<rect x="786.5" y="905.6" width="5" height="2.9" fill="#1010f0" />
<rect x="792.6" y="898.8" width="5" height="6.3" fill="#f9c9c9" />
<rect x="792.6" y="905.2" width="5" height="3.3" fill="#1010f0" />
<rect x="798.8" y="899.4" width="5" height="5.3" fill="#f9c9c9" />
<rect x="798.8" y="904.8" width="5" height="3.7" fill="#1010f0" />
<rect x="804.9" y="900.7" width="5" height="4.2" fill="#f9c9c9" />
<rect x="804.9" y="904.8" width="5" height="3.7" fill="#ff10e8" />
<rect x="811.1" y="902.9" width="5" height="6.5" fill="#f9c9c9" />
<rect x="811.1" y="908.5" width="5" height="1" fill="#f01010" />
<rect x="817.2" y="905" width="5" height="9" fill="#f9c9c9" />
<rect x="817.2" y="908.5" width="5" height="5.6" fill="#f01010" />
<rect x="823.4" y="907.1" width="5" height="11.4" fill="#f9c9c9" />
<rect x="823.4" y="908.5" width="5" height="10" fill="#f01010" />
<rect x="829.5" y="908.9" width="5" height="6" fill="#f9c9c9" />
<rect x="829.5" y="908.5" width="5" height="6.4" fill="#0a8c8c" />
<rect x="835.7" y="907.8" width="5" height="1.9" fill="#c6f2c0" />
<rect x="835.7" y="907.8" width="5" height="0.7" fill="#1010f0" />
<rect x="841.8" y="905.1" width="5" height="5.1" fill="#c6f2c0" />
<rect x="841.8" y="905.1" width="5" height="3.4" fill="#1010f0" />
<rect x="848" y="904.6" width="5" height="5.1" fill="#c6f2c0" />
<rect x="848" y="904.6" width="5" height="3.9" fill="#1010f0" />
<rect x="854.1" y="908.5" width="5" height="1.5" fill="#f01010" />
<rect x="860.2" y="908.6" width="5" height="6.6" fill="#f9c9c9" />
<rect x="860.2" y="908.5" width="5" height="6.7" fill="#f01010" />
<rect x="866.4" y="909" width="5" height="4.2" fill="#f9c9c9" />
<rect x="866.4" y="908.5" width="5" height="4.6" fill="#0a8c8c" />
<rect x="872.6" y="907.2" width="5" height="2" fill="#c6f2c0" />
<rect x="872.6" y="907.2" width="5" height="1.3" fill="#1010f0" />
<rect x="878.7" y="899.1" width="5" height="9.4" fill="#c6f2c0" />
<rect x="878.7" y="899.1" width="5" height="9.4" fill="#1010f0" />
<rect x="884.9" y="892.1" width="5" height="12.5" fill="#c6f2c0" />
<rect x="884.9" y="892.1" width="5" height="16.4" fill="#1010f0" />
<rect x="891" y="887.7" width="5" height="12" fill="#c6f2c0" />
<rect x="891" y="887.7" width="5" height="20.8" fill="#1010f0" />
<rect x="897.2" y="882.3" width="5" height="12.1" fill="#c6f2c0" />
<rect x="897.2" y="882.3" width="5" height="26.2" fill="#1010f0" />
<rect x="903.3" y="881" width="5" height="9.2" fill="#c6f2c0" />
<rect x="903.3" y="881" width="5" height="27.5" fill="#1010f0" />
<rect x="909.5" y="881.2" width="5" height="5.6" fill="#c6f2c0" />
<rect x="909.5" y="881.2" width="5" height="27.3" fill="#ff10e8" />
<rect x="915.6" y="881.2" width="5" height="3.3" fill="#c6f2c0" />
<rect x="915.6" y="881.2" width="5" height="27.3" fill="#1010f0" />
<rect x="921.8" y="880.5" width="5" height="3" fill="#f9c9c9" />
<rect x="921.8" y="880.5" width="5" height="28" fill="#1010f0" />
<rect x="927.9" y="885.1" width="5" height="23.4" fill="#ff10e8" />
<rect x="934.1" y="885.7" width="5" height="3.3" fill="#f9c9c9" />
<rect x="934.1" y="889" width="5" height="19.5" fill="#ff10e8" />
<rect x="940.2" y="887.4" width="5" height="7.5" fill="#f9c9c9" />
<rect x="940.2" y="894.9" width="5" height="13.6" fill="#ff10e8" />
<rect x="946.4" y="893.6" width="5" height="17.5" fill="#f9c9c9" />
<rect x="946.4" y="908.5" width="5" height="2.6" fill="#f01010" />
<rect x="952.5" y="902" width="5" height="27.9" fill="#f9c9c9" />
<rect x="952.5" y="908.5" width="5" height="21.4" fill="#f01010" />
<rect x="958.7" y="909.2" width="5" height="20.3" fill="#f9c9c9" />
<rect x="958.7" y="908.5" width="5" height="21" fill="#0a8c8c" />
<rect x="964.8" y="913.6" width="5" height="6.3" fill="#f9c9c9" />
<rect x="964.8" y="908.5" width="5" height="11.4" fill="#0a8c8c" />
<rect x="971" y="909.1" width="5" height="6.5" fill="#c6f2c0" />
<rect x="971" y="908.5" width="5" height="0.6" fill="#0a8c8c" />
<rect x="977.1" y="904.1" width="5" height="9.7" fill="#c6f2c0" />
<rect x="977.1" y="904.1" width="5" height="4.4" fill="#1010f0" />
<rect x="983.2" y="902.4" width="5" height="6.1" fill="#1010f0" />
<rect x="989.4" y="897" width="5" height="1.9" fill="#c6f2c0" />
<rect x="989.4" y="898.9" width="5" height="9.6" fill="#1010f0" />
<rect x="995.6" y="892.6" width="5" height="2.5" fill="#c6f2c0" />
<rect x="995.6" y="895.1" width="5" height="13.4" fill="#1010f0" />
<rect x="1001.7" y="889.5" width="5" height="2.9" fill="#c6f2c0" />
<rect x="1001.7" y="892.4" width="5" height="16.1" fill="#1010f0" />
<rect x="1007.9" y="887.6" width="5" height="3.6" fill="#c6f2c0" />
<rect x="1007.9" y="891.2" width="5" height="17.3" fill="#1010f0" />
<rect x="1014" y="886.5" width="5" height="5.5" fill="#c6f2c0" />
<rect x="1014" y="892" width="5" height="16.5" fill="#ff10e8" />
<rect x="1020.2" y="887.4" width="5" height="5.7" fill="#f9c9c9" />
<rect x="1020.2" y="893.2" width="5" height="15.3" fill="#ff10e8" />
<rect x="1026.3" y="888.3" width="5" height="5.9" fill="#f9c9c9" />
<rect x="1026.3" y="894.3" width="5" height="14.2" fill="#ff10e8" />
<rect x="1032.5" y="888.5" width="5" height="3.1" fill="#c6f2c0" />
<rect x="1032.5" y="891.6" width="5" height="16.9" fill="#1010f0" />
<rect x="1038.6" y="886.8" width="5" height="21.7" fill="#1010f0" />
<rect x="1044.8" y="881.7" width="5" height="2.5" fill="#c6f2c0" />
<rect x="1044.8" y="881.7" width="5" height="26.8" fill="#1010f0" />
<rect x="1050.9" y="880.7" width="5" height="27.8" fill="#1010f0" />
<rect x="1057" y="879.6" width="5" height="2.9" fill="#c6f2c0" />
<rect x="1057" y="882.5" width="5" height="26" fill="#ff10e8" />
<rect x="1063.2" y="877.8" width="5" height="5.5" fill="#c6f2c0" />
<rect x="1063.2" y="883.3" width="5" height="25.2" fill="#ff10e8" />
<rect x="1069.4" y="877.2" width="5" height="4.9" fill="#c6f2c0" />
<rect x="1069.4" y="882.1" width="5" height="26.4" fill="#1010f0" />
<rect x="1075.5" y="876.9" width="5" height="4.6" fill="#f9c9c9" />
<rect x="1075.5" y="881.5" width="5" height="27" fill="#1010f0" />
<rect x="1081.7" y="878" width="5" height="5.9" fill="#c6f2c0" />
<rect x="1081.7" y="884" width="5" height="24.5" fill="#ff10e8" />
<rect x="1087.8" y="877.6" width="5" height="7.7" fill="#f9c9c9" />
<rect x="1087.8" y="885.3" width="5" height="23.2" fill="#ff10e8" />
<rect x="1094" y="878.7" width="5" height="8.3" fill="#f9c9c9" />
<rect x="1094" y="887" width="5" height="21.5" fill="#ff10e8" />
<rect x="1100.1" y="879.7" width="5" height="9.3" fill="#c6f2c0" />
<rect x="1100.1" y="889" width="5" height="19.5" fill="#ff10e8" />
<rect x="1106.2" y="878" width="5" height="8.8" fill="#c6f2c0" />
<rect x="1106.2" y="886.8" width="5" height="21.7" fill="#1010f0" />
<rect x="1112.4" y="876.5" width="5" height="9" fill="#c6f2c0" />
<rect x="1112.4" y="885.5" width="5" height="23" fill="#1010f0" />
<rect x="1118.5" y="875.5" width="5" height="13" fill="#c6f2c0" />
<rect x="1118.5" y="888.5" width="5" height="20" fill="#ff10e8" />
<rect x="1124.7" y="873.2" width="5" height="12.6" fill="#c6f2c0" />
<rect x="1124.7" y="885.8" width="5" height="22.7" fill="#1010f0" />
<rect x="1130.9" y="870.4" width="5" height="7.3" fill="#c6f2c0" />
<rect x="1130.9" y="877.6" width="5" height="30.9" fill="#1010f0" />
<rect x="1137" y="868.3" width="5" height="7.3" fill="#c6f2c0" />
<rect x="1137" y="875.6" width="5" height="32.9" fill="#1010f0" />
<rect x="1143.2" y="866.9" width="5" height="11.8" fill="#c6f2c0" />
<rect x="1143.2" y="878.7" width="5" height="29.8" fill="#ff10e8" />
<rect x="1149.3" y="865.9" width="5" height="16.9" fill="#f9c9c9" />
<rect x="1149.3" y="882.8" width="5" height="25.7" fill="#ff10e8" />
<rect x="1155.5" y="867.9" width="5" height="18.6" fill="#f9c9c9" />
<rect x="1155.5" y="886.5" width="5" height="22" fill="#ff10e8" />
<rect x="1161.6" y="870.4" width="5" height="17.4" fill="#f9c9c9" />
<rect x="1161.6" y="887.8" width="5" height="20.7" fill="#ff10e8" />
<rect x="1167.8" y="873.5" width="5" height="16.4" fill="#f9c9c9" />
<rect x="1167.8" y="889.9" width="5" height="18.6" fill="#ff10e8" />
<rect x="1173.9" y="875.8" width="5" height="11.9" fill="#c6f2c0" />
<rect x="1173.9" y="887.7" width="5" height="20.8" fill="#1010f0" />
<rect x="1180" y="874.1" width="5" height="10.4" fill="#c6f2c0" />
<rect x="1180" y="884.5" width="5" height="24" fill="#1010f0" />
<rect x="1186.2" y="872.1" width="5" height="8.7" fill="#c6f2c0" />
<rect x="1186.2" y="880.8" width="5" height="27.7" fill="#1010f0" />
<rect x="1192.4" y="869.8" width="5" height="6.9" fill="#c6f2c0" />
<rect x="1192.4" y="876.7" width="5" height="31.8" fill="#1010f0" />
<rect x="1198.5" y="867.5" width="5" height="5.5" fill="#c6f2c0" />
<rect x="1198.5" y="873" width="5" height="35.5" fill="#1010f0" />
<rect x="1204.7" y="865.2" width="5" height="6.8" fill="#c6f2c0" />
<rect x="1204.7" y="872" width="5" height="36.5" fill="#1010f0" />
<rect x="1210.8" y="863.1" width="5" height="11.8" fill="#c6f2c0" />
<rect x="1210.8" y="874.9" width="5" height="33.6" fill="#ff10e8" />
<rect x="1217" y="862" width="5" height="10.7" fill="#c6f2c0" />
<rect x="1217" y="872.6" width="5" height="35.9" fill="#1010f0" />
<rect x="1223.1" y="860.7" width="5" height="8.1" fill="#c6f2c0" />
<rect x="1223.1" y="868.8" width="5" height="39.7" fill="#1010f0" />
<rect x="1229.2" y="857.7" width="5" height="6.1" fill="#c6f2c0" />
<rect x="1229.2" y="863.8" width="5" height="44.7" fill="#1010f0" />
<rect x="1235.4" y="854.7" width="5" height="3.5" fill="#c6f2c0" />
<rect x="1235.4" y="858.2" width="5" height="50.3" fill="#1010f0" />
<rect x="1241.6" y="853.1" width="5" height="7.5" fill="#f9c9c9" />
<rect x="1241.6" y="860.6" width="5" height="47.9" fill="#ff10e8" />
<rect x="1247.7" y="855.9" width="5" height="25.6" fill="#f9c9c9" />
<rect x="1247.7" y="881.5" width="5" height="27" fill="#ff10e8" />
<line x1="28" y1="908.5" x2="1251" y2="908.5" stroke="#1010f0" stroke-width="1.8" />
<polyline points="28,909.3 36.4,906" fill="none" stroke="#0a0a3c" stroke-width="3.7" stroke-linejoin="round" stroke-linecap="round"/>
<polyline points="36.4,906 44.7,908.5 49.7,918.5 57.2,927.7" fill="none" stroke="#c010c0" stroke-width="3.7" stroke-linejoin="round" stroke-linecap="round"/>
<polyline points="57.2,927.7 62.3,923.5 68.9,922.7" fill="none" stroke="#0a0a3c" stroke-width="3.7" stroke-linejoin="round" stroke-linecap="round"/>
<polyline points="68.9,922.7 76.5,923.5" fill="none" stroke="#c010c0" stroke-width="3.7" stroke-linejoin="round" stroke-linecap="round"/>
<polyline points="76.5,923.5 83.1,918.5 89.8,911 96.5,902.7 101.5,899.3 106.5,898.1" fill="none" stroke="#0a0a3c" stroke-width="3.7" stroke-linejoin="round" stroke-linecap="round"/>
<polyline points="106.5,898.1 113.2,900.1 119.1,909.3 124.1,911" fill="none" stroke="#c010c0" stroke-width="3.7" stroke-linejoin="round" stroke-linecap="round"/>
<polyline points="124.1,911 129.9,910.2" fill="none" stroke="#0a0a3c" stroke-width="3.7" stroke-linejoin="round" stroke-linecap="round"/>
<polyline points="129.9,910.2 136.6,918.5 143.3,928.6 150,934.4" fill="none" stroke="#c010c0" stroke-width="3.7" stroke-linejoin="round" stroke-linecap="round"/>
<polyline points="150,934.4 161.7,932.7 167.5,925.2 173.4,913.5 179.2,903.5 186.8,897.6 195.1,891 203.5,888.4" fill="none" stroke="#0a0a3c" stroke-width="3.7" stroke-linejoin="round" stroke-linecap="round"/>
<polyline points="203.5,888.4 209.3,891.8 215.2,895.1" fill="none" stroke="#c010c0" stroke-width="3.7" stroke-linejoin="round" stroke-linecap="round"/>
<polyline points="215.2,895.1 221.9,892.6 228.5,889.3 235.2,878.4 241.1,875.1" fill="none" stroke="#0a0a3c" stroke-width="3.7" stroke-linejoin="round" stroke-linecap="round"/>
<polyline points="241.1,875.1 246.9,877.6 253.6,878.4" fill="none" stroke="#c010c0" stroke-width="3.7" stroke-linejoin="round" stroke-linecap="round"/>
<polyline points="253.6,878.4 260.3,876.8 267,876.4" fill="none" stroke="#0a0a3c" stroke-width="3.7" stroke-linejoin="round" stroke-linecap="round"/>
<polyline points="267,876.4 273.7,878.4 280.3,885.1 287,896.8 292,910.2 297.1,922.7" fill="none" stroke="#c010c0" stroke-width="3.7" stroke-linejoin="round" stroke-linecap="round"/>
<polyline points="297.1,922.7 303.7,920.2 310.4,910.2 317.1,903.5 327.1,897.6" fill="none" stroke="#0a0a3c" stroke-width="3.7" stroke-linejoin="round" stroke-linecap="round"/>
<polyline points="327.1,897.6 333.8,902.7 340.5,905.2 348,906.8" fill="none" stroke="#c010c0" stroke-width="3.7" stroke-linejoin="round" stroke-linecap="round"/>
<polyline points="348,907.7 358,915.2 369.7,918.5 381.4,923.5 389.8,926.9 395.6,930.2" fill="none" stroke="#c010c0" stroke-width="3.7" stroke-linejoin="round" stroke-linecap="round"/>
<polyline points="395.6,930.2 401.5,920.2 408.2,911.8" fill="none" stroke="#0a0a3c" stroke-width="3.7" stroke-linejoin="round" stroke-linecap="round"/>
<polyline points="408.2,911.8 414.8,913.5 423.2,918.5 429.9,924.4 433.2,925.5" fill="none" stroke="#c010c0" stroke-width="3.7" stroke-linejoin="round" stroke-linecap="round"/>
<polyline points="433.2,925.5 439.9,918.5 448.3,910.2 456.6,901.8" fill="none" stroke="#0a0a3c" stroke-width="3.7" stroke-linejoin="round" stroke-linecap="round"/>
<polyline points="456.6,901.8 463.3,901 471.7,904.3 480,906.8 486.7,913.5 493.4,919.4" fill="none" stroke="#c010c0" stroke-width="3.7" stroke-linejoin="round" stroke-linecap="round"/>
<polyline points="493.4,919.4 500.1,916.9 506.8,911.8 515.1,906.8 523.5,904.3 531.8,902.7 540.2,896.8 547.7,895.1" fill="none" stroke="#0a0a3c" stroke-width="3.7" stroke-linejoin="round" stroke-linecap="round"/>
<polyline points="547.7,895.1 555.2,898.5 561.9,903.5 568.6,905.2" fill="none" stroke="#c010c0" stroke-width="3.7" stroke-linejoin="round" stroke-linecap="round"/>
<polyline points="568.6,905.2 578.6,902.7 590.3,900.1 598.7,900.1" fill="none" stroke="#0a0a3c" stroke-width="3.7" stroke-linejoin="round" stroke-linecap="round"/>
<polyline points="598.7,900.1 608.7,902.7" fill="none" stroke="#c010c0" stroke-width="3.7" stroke-linejoin="round" stroke-linecap="round"/>
<polyline points="608.7,902.7 615.4,896.8 622.1,889.8 628.7,888.4" fill="none" stroke="#0a0a3c" stroke-width="3.7" stroke-linejoin="round" stroke-linecap="round"/>
<polyline points="628.7,888.4 635.4,891 642.1,892.6" fill="none" stroke="#c010c0" stroke-width="3.7" stroke-linejoin="round" stroke-linecap="round"/>
<polyline points="642.1,892.6 648.8,888.4 655.5,880.1 662.2,871.7 665.5,869.2" fill="none" stroke="#0a0a3c" stroke-width="3.7" stroke-linejoin="round" stroke-linecap="round"/>
<polyline points="665.5,869.2 668,871.7" fill="none" stroke="#c010c0" stroke-width="3.7" stroke-linejoin="round" stroke-linecap="round"/>
<polyline points="668,870.1 674.7,875.9 681.4,883.4 688.1,889.3 696.4,894.3 706.4,898.5 718.1,901 728.2,903.5" fill="none" stroke="#c010c0" stroke-width="3.7" stroke-linejoin="round" stroke-linecap="round"/>
<polyline points="728.2,903.5 733.2,902.7" fill="none" stroke="#0a0a3c" stroke-width="3.7" stroke-linejoin="round" stroke-linecap="round"/>
<polyline points="733.2,902.7 739.9,905.2 745.7,906" fill="none" stroke="#c010c0" stroke-width="3.7" stroke-linejoin="round" stroke-linecap="round"/>
<polyline points="745.7,906 751.6,902.7 757.4,900.1" fill="none" stroke="#0a0a3c" stroke-width="3.7" stroke-linejoin="round" stroke-linecap="round"/>
<polyline points="757.4,900.1 764.9,902.7 771.6,908.2" fill="none" stroke="#c010c0" stroke-width="3.7" stroke-linejoin="round" stroke-linecap="round"/>
<polyline points="771.6,908.2 776.6,907.7" fill="none" stroke="#0a0a3c" stroke-width="3.7" stroke-linejoin="round" stroke-linecap="round"/>
<polyline points="776.6,907.7 783.3,908.2" fill="none" stroke="#c010c0" stroke-width="3.7" stroke-linejoin="round" stroke-linecap="round"/>
<polyline points="783.3,908.2 790,905.2" fill="none" stroke="#0a0a3c" stroke-width="3.7" stroke-linejoin="round" stroke-linecap="round"/>
<polyline points="790,905.2 796.7,905.2" fill="none" stroke="#c010c0" stroke-width="3.7" stroke-linejoin="round" stroke-linecap="round"/>
<polyline points="796.7,905.2 806.7,904.3" fill="none" stroke="#0a0a3c" stroke-width="3.7" stroke-linejoin="round" stroke-linecap="round"/>
<polyline points="806.7,904.3 813.4,909.3 820.1,914.4 825.9,918.5" fill="none" stroke="#c010c0" stroke-width="3.7" stroke-linejoin="round" stroke-linecap="round"/>
<polyline points="825.9,918.5 831.8,915.2 836.8,908.5 843.5,905.2 850.2,904.3" fill="none" stroke="#0a0a3c" stroke-width="3.7" stroke-linejoin="round" stroke-linecap="round"/>
<polyline points="850.2,904.3 856.8,910.2 862.7,915.2" fill="none" stroke="#c010c0" stroke-width="3.7" stroke-linejoin="round" stroke-linecap="round"/>
<polyline points="862.7,915.2 870.2,912.7 876.9,905.2 885.2,893.5 891.9,889.3 898.6,882.6 905.3,880.9" fill="none" stroke="#0a0a3c" stroke-width="3.7" stroke-linejoin="round" stroke-linecap="round"/>
<polyline points="905.3,880.9 917,881.4" fill="none" stroke="#c010c0" stroke-width="3.7" stroke-linejoin="round" stroke-linecap="round"/>
<polyline points="917,881.4 923.7,880.1" fill="none" stroke="#0a0a3c" stroke-width="3.7" stroke-linejoin="round" stroke-linecap="round"/>
<polyline points="923.7,880.1 930.4,885.1 937.1,889.3 942.1,893.5 947.1,905.2 952.1,921.9 955.4,931.1" fill="none" stroke="#c010c0" stroke-width="3.7" stroke-linejoin="round" stroke-linecap="round"/>
<polyline points="955.4,931.1 960.4,930.6 967.1,920.2 973.8,908.5 978.8,904.3 988,901.8" fill="none" stroke="#0a0a3c" stroke-width="3.7" stroke-linejoin="round" stroke-linecap="round"/>
<polyline points="988,901.8 994.7,896.8 1003,892.6 1011.4,891" fill="none" stroke="#0a0a3c" stroke-width="3.7" stroke-linejoin="round" stroke-linecap="round"/>
<polyline points="1011.4,891 1019.8,892.6 1028.9,894.3" fill="none" stroke="#c010c0" stroke-width="3.7" stroke-linejoin="round" stroke-linecap="round"/>
<polyline points="1028.9,894.3 1038.1,890.1 1044.8,882.6 1051.5,880.1" fill="none" stroke="#0a0a3c" stroke-width="3.7" stroke-linejoin="round" stroke-linecap="round"/>
<polyline points="1051.5,880.1 1059.9,882.6 1066.5,883.4" fill="none" stroke="#c010c0" stroke-width="3.7" stroke-linejoin="round" stroke-linecap="round"/>
<polyline points="1066.5,883.4 1076.6,880.9" fill="none" stroke="#0a0a3c" stroke-width="3.7" stroke-linejoin="round" stroke-linecap="round"/>
<polyline points="1076.6,880.9 1084.9,884.3 1093.3,885.9 1103.3,889.3" fill="none" stroke="#c010c0" stroke-width="3.7" stroke-linejoin="round" stroke-linecap="round"/>
<polyline points="1103.3,889.3 1113.3,884.8" fill="none" stroke="#0a0a3c" stroke-width="3.7" stroke-linejoin="round" stroke-linecap="round"/>
<polyline points="1113.3,884.8 1121.7,888.8" fill="none" stroke="#c010c0" stroke-width="3.7" stroke-linejoin="round" stroke-linecap="round"/>
<polyline points="1121.7,888.8 1128.4,885.1 1133.4,877.6 1138.4,875.1" fill="none" stroke="#0a0a3c" stroke-width="3.7" stroke-linejoin="round" stroke-linecap="round"/>
<polyline points="1138.4,875.1 1146.8,879.3 1155.1,885.1 1160.1,887.6" fill="none" stroke="#c010c0" stroke-width="3.7" stroke-linejoin="round" stroke-linecap="round"/>
<polyline points="1160.1,887.6 1163.5,887.6" fill="none" stroke="#0a0a3c" stroke-width="3.7" stroke-linejoin="round" stroke-linecap="round"/>
<polyline points="1163.5,887.6 1171,890.1" fill="none" stroke="#c010c0" stroke-width="3.7" stroke-linejoin="round" stroke-linecap="round"/>
<polyline points="1171,890.1 1180.2,885.9 1188.5,880.9 1198.6,874.2 1205.2,870.9" fill="none" stroke="#0a0a3c" stroke-width="3.7" stroke-linejoin="round" stroke-linecap="round"/>
<polyline points="1205.2,870.9 1212.8,875.1" fill="none" stroke="#c010c0" stroke-width="3.7" stroke-linejoin="round" stroke-linecap="round"/>
<polyline points="1212.8,875.1 1222,871.7 1230.3,865.1 1238.7,857.5" fill="none" stroke="#0a0a3c" stroke-width="3.7" stroke-linejoin="round" stroke-linecap="round"/>
<polyline points="1238.7,857.5 1244.5,860.9 1251.2,885.1" fill="none" stroke="#c010c0" stroke-width="3.7" stroke-linejoin="round" stroke-linecap="round"/>
<polyline points="28,902.7 38,903.5 49.7,904.3 57.2,909.3 66.4,916.9 76.5,921.9" fill="none" stroke="#ff8c0a" stroke-width="3.7" stroke-linejoin="round" stroke-linecap="round"/>
<polyline points="76.5,921.9 84.8,920.2 94.8,916 103.2,910.2 111.6,904.3" fill="none" stroke="#5af05a" stroke-width="3.7" stroke-linejoin="round" stroke-linecap="round"/>
<polyline points="111.6,904.3 119.9,906 128.3,906.8 136.6,911.8 145,919.4 155,926.9 166.7,931.1" fill="none" stroke="#ff8c0a" stroke-width="3.7" stroke-linejoin="round" stroke-linecap="round"/>
<polyline points="166.7,931.1 175.1,926.9 183.4,918.5 191.8,910.2 200.1,901.8 208.5,898.5 216.8,897.6 225.2,896 233.5,892.6 241.9,886.8 250.3,882.6 258.6,879.3 267,877.6 275.3,876.8" fill="none" stroke="#5af05a" stroke-width="3.7" stroke-linejoin="round" stroke-linecap="round"/>
<polyline points="275.3,876.8 283.7,878.4 292,883.4 300.4,891.8 308.7,897.6 315.4,900.1" fill="none" stroke="#ff8c0a" stroke-width="3.7" stroke-linejoin="round" stroke-linecap="round"/>
<polyline points="315.4,900.1 322.1,895.1 328.8,891 335.5,889.3" fill="none" stroke="#5af05a" stroke-width="3.7" stroke-linejoin="round" stroke-linecap="round"/>
<polyline points="335.5,889.3 342.2,889.8 348,891.8" fill="none" stroke="#ff8c0a" stroke-width="3.7" stroke-linejoin="round" stroke-linecap="round"/>
<polyline points="348,891 356.4,896.8 364.7,903.5 373.1,909.3 381.4,913.5 389.8,917.7 399.8,921" fill="none" stroke="#ff8c0a" stroke-width="3.7" stroke-linejoin="round" stroke-linecap="round"/>
<polyline points="399.8,921 408.2,918.5 416.5,916.9 423.2,916" fill="none" stroke="#5af05a" stroke-width="3.7" stroke-linejoin="round" stroke-linecap="round"/>
<polyline points="423.2,916 431.6,918.5 436.6,922.7" fill="none" stroke="#ff8c0a" stroke-width="3.7" stroke-linejoin="round" stroke-linecap="round"/>
<polyline points="436.6,922.7 444.9,922.7 453.3,920.2 461.6,913.5 470,910.2 476.7,908.5" fill="none" stroke="#5af05a" stroke-width="3.7" stroke-linejoin="round" stroke-linecap="round"/>
<polyline points="476.7,908.5 485,911 493.4,915.2 503.4,917.7 512.6,918.5" fill="none" stroke="#ff8c0a" stroke-width="3.7" stroke-linejoin="round" stroke-linecap="round"/>
<polyline points="512.6,918.5 520.1,916 528.5,911.8 536.8,907.7 545.2,902.7 553.5,899.3" fill="none" stroke="#5af05a" stroke-width="3.7" stroke-linejoin="round" stroke-linecap="round"/>
<polyline points="553.5,899.3 565.2,901 573.6,902.7 580.3,904.3" fill="none" stroke="#ff8c0a" stroke-width="3.7" stroke-linejoin="round" stroke-linecap="round"/>
<polyline points="580.3,904.3 588.6,902.7 597,901" fill="none" stroke="#5af05a" stroke-width="3.7" stroke-linejoin="round" stroke-linecap="round"/>
<polyline points="597,901 605.4,902.7" fill="none" stroke="#ff8c0a" stroke-width="3.7" stroke-linejoin="round" stroke-linecap="round"/>
<polyline points="605.4,902.7 615.4,900.1 623.7,895.1 632.1,890.1 642.1,887.6 652.1,885.1 660.5,880.1 668,874.2" fill="none" stroke="#5af05a" stroke-width="3.7" stroke-linejoin="round" stroke-linecap="round"/>
<polyline points="668,875.9 673,871.7 679.7,870.9 684.7,871.4" fill="none" stroke="#5af05a" stroke-width="3.7" stroke-linejoin="round" stroke-linecap="round"/>
<polyline points="684.7,871.4 693.1,876.8 701.4,880.9 713.1,885.9 724.8,889.3 733.2,890.1 739.9,893.5 745.7,893.8" fill="none" stroke="#ff8c0a" stroke-width="3.7" stroke-linejoin="round" stroke-linecap="round"/>
<polyline points="745.7,893.8 758.2,892.6" fill="none" stroke="#5af05a" stroke-width="3.7" stroke-linejoin="round" stroke-linecap="round"/>
<polyline points="758.2,892.6 764.9,893.5" fill="none" stroke="#ff8c0a" stroke-width="3.7" stroke-linejoin="round" stroke-linecap="round"/>
<polyline points="764.9,893.5 769.9,893.1" fill="none" stroke="#5af05a" stroke-width="3.7" stroke-linejoin="round" stroke-linecap="round"/>
<polyline points="769.9,893.1 781.6,895.1 791.7,898.5 805,899.8 815.1,903.5 825.1,906.8 833.4,909.3" fill="none" stroke="#ff8c0a" stroke-width="3.7" stroke-linejoin="round" stroke-linecap="round"/>
<polyline points="833.4,909.3 845.1,910.2 853.5,909.3" fill="none" stroke="#5af05a" stroke-width="3.7" stroke-linejoin="round" stroke-linecap="round"/>
<polyline points="853.5,909.3 863.5,908.5 873.5,909.3" fill="none" stroke="#ff8c0a" stroke-width="3.7" stroke-linejoin="round" stroke-linecap="round"/>
<polyline points="873.5,909.3 881.9,908.5 890.3,902.7 898.6,895.1 907,889.3 915.3,885.1 923.7,883.4" fill="none" stroke="#5af05a" stroke-width="3.7" stroke-linejoin="round" stroke-linecap="round"/>
<polyline points="923.7,883.4 933.7,885.1 942.1,886.8 950.4,895.1 957.1,905.2 963.8,911.8 972.1,916" fill="none" stroke="#ff8c0a" stroke-width="3.7" stroke-linejoin="round" stroke-linecap="round"/>
<polyline points="972.1,916 980.5,913.5 985.5,903.5 988,900.1" fill="none" stroke="#5af05a" stroke-width="3.7" stroke-linejoin="round" stroke-linecap="round"/>
<polyline points="988,901 996.4,893.5 1004.7,889.3 1013.1,886.8 1017.2,886.4" fill="none" stroke="#5af05a" stroke-width="3.7" stroke-linejoin="round" stroke-linecap="round"/>
<polyline points="1017.2,886.4 1026.4,888.1 1034,888.8" fill="none" stroke="#ff8c0a" stroke-width="3.7" stroke-linejoin="round" stroke-linecap="round"/>
<polyline points="1034,888.8 1043.1,885.9 1054.8,880.9 1066.5,877.6 1077.4,876.8" fill="none" stroke="#5af05a" stroke-width="3.7" stroke-linejoin="round" stroke-linecap="round"/>
<polyline points="1077.4,876.8 1083.3,878.1" fill="none" stroke="#ff8c0a" stroke-width="3.7" stroke-linejoin="round" stroke-linecap="round"/>
<polyline points="1083.3,878.1 1089.9,877.6" fill="none" stroke="#5af05a" stroke-width="3.7" stroke-linejoin="round" stroke-linecap="round"/>
<polyline points="1089.9,877.6 1102.5,879.8" fill="none" stroke="#ff8c0a" stroke-width="3.7" stroke-linejoin="round" stroke-linecap="round"/>
<polyline points="1102.5,879.8 1113.3,876.8 1123.4,875.1 1131.7,870.9 1141.7,867.6 1151.8,865.9" fill="none" stroke="#5af05a" stroke-width="3.7" stroke-linejoin="round" stroke-linecap="round"/>
<polyline points="1151.8,865.9 1161.8,869.2 1170.2,873.4 1176,875.9" fill="none" stroke="#ff8c0a" stroke-width="3.7" stroke-linejoin="round" stroke-linecap="round"/>
<polyline points="1176,875.9 1185.2,873.4 1198.6,868.4 1211.9,863.4 1225.3,860.9 1235.3,855.9 1242.8,852.5" fill="none" stroke="#5af05a" stroke-width="3.7" stroke-linejoin="round" stroke-linecap="round"/>
<polyline points="1242.8,852.5 1249.5,855.9" fill="none" stroke="#ff8c0a" stroke-width="3.7" stroke-linejoin="round" stroke-linecap="round"/>
<polygon points="33.9,906.9 43.9,906.9 38.9,898.4" fill="#10e8f0" stroke="none" stroke-width="1" />
<polygon points="39.7,900.1 49.7,900.1 44.7,908.6" fill="#f4f000" stroke="none" stroke-width="1" />
<polygon points="82.3,919.4 92.3,919.4 87.3,910.9" fill="#10e8f0" stroke="none" stroke-width="1" />
<polygon points="114.1,903.4 124.1,903.4 119.1,911.9" fill="#f4f000" stroke="none" stroke-width="1" />
<polygon points="162.5,931.1 172.5,931.1 167.5,922.6" fill="#10e8f0" stroke="none" stroke-width="1" />
<polygon points="267.8,873.3 277.8,873.3 272.8,881.8" fill="#f4f000" stroke="none" stroke-width="1" />
<polygon points="403.2,916.1 413.2,916.1 408.2,907.6" fill="#10e8f0" stroke="none" stroke-width="1" />
<polygon points="420.7,914.3 430.7,914.3 425.7,922.8" fill="#f4f000" stroke="none" stroke-width="1" />
<polygon points="434.1,926.1 444.1,926.1 439.1,917.6" fill="#10e8f0" stroke="none" stroke-width="1" />
<polygon points="482.5,911.8 492.5,911.8 487.5,920.3" fill="#f4f000" stroke="none" stroke-width="1" />
<polygon points="500.9,918.6 510.9,918.6 505.9,910.1" fill="#10e8f0" stroke="none" stroke-width="1" />
<polygon points="556.9,898.4 566.9,898.4 561.9,906.9" fill="#f4f000" stroke="none" stroke-width="1" />
<polygon points="574.5,908.6 584.5,908.6 579.5,900.1" fill="#10e8f0" stroke="none" stroke-width="1" />
<polygon points="604.5,897.6 614.5,897.6 609.5,906.1" fill="#f4f000" stroke="none" stroke-width="1" />
<polygon points="612.1,902.7 622.1,902.7 617.1,894.2" fill="#10e8f0" stroke="none" stroke-width="1" />
<polygon points="629.6,885.5 639.6,885.5 634.6,894" fill="#f4f000" stroke="none" stroke-width="1" />
<polygon points="648.8,886.9 658.8,886.9 653.8,878.4" fill="#10e8f0" stroke="none" stroke-width="1" />
<polygon points="672.7,873.3 682.7,873.3 677.7,881.8" fill="#f4f000" stroke="none" stroke-width="1" />
<polygon points="833.5,913.6 843.5,913.6 838.5,905.1" fill="#10e8f0" stroke="none" stroke-width="1" />
<polygon points="851.8,905.1 861.8,905.1 856.8,913.6" fill="#f4f000" stroke="none" stroke-width="1" />
<polygon points="870.2,914.4 880.2,914.4 875.2,905.9" fill="#10e8f0" stroke="none" stroke-width="1" />
<polygon points="924.5,879.2 934.5,879.2 929.5,887.7" fill="#f4f000" stroke="none" stroke-width="1" />
<polygon points="969.7,915.3 979.7,915.3 974.7,906.8" fill="#10e8f0" stroke="none" stroke-width="1" />
<polygon points="985.5,894.2 995.5,894.2 990.5,902.7" fill="#f4f000" stroke="none" stroke-width="1" />
<polygon points="1036.1,892.4 1046.1,892.4 1041.1,883.9" fill="#10e8f0" stroke="none" stroke-width="1" />
<polygon points="1054.9,877.8 1064.9,877.8 1059.9,886.3" fill="#f4f000" stroke="none" stroke-width="1" />
</g>
<rect x="28" y="846" width="142.5" height="15" fill="#cfdee7" stroke="#7f99a7" stroke-width="1" />
<line x1="43.5" y1="846" x2="43.5" y2="861" stroke="#7f99a7" stroke-width="1" />
<circle cx="35.3" cy="853.5" r="5.3" fill="#4a6fa8"/>
<line x1="33" y1="851.2" x2="37.6" y2="855.8" stroke="#e8eef6" stroke-width="1.8" />
<line x1="37.6" y1="851.2" x2="33" y2="855.8" stroke="#e8eef6" stroke-width="1.8" />
<rect x="47.5" y="849.5" width="8" height="8" fill="#78909c" />
<text x="59.5" y="857" font-size="9.6" font-weight="bold" fill="#000" text-anchor="start" textLength="109" lengthAdjust="spacingAndGlyphs" >Awesome Evolution Doc</text>
<g clip-path="url(#cp4)">
<rect x="28" y="938.5" width="13.3" height="57" fill="#b2ecff" />
<rect x="41" y="938.5" width="31" height="57" fill="#6868c8" />
<rect x="71.8" y="938.5" width="31.4" height="57" fill="#b2ecff" />
<rect x="102.9" y="938.5" width="12.3" height="57" fill="#ffff82" />
<rect x="114.9" y="938.5" width="19.5" height="57" fill="#3cff3c" />
<rect x="134.1" y="938.5" width="7" height="57" fill="#6a0404" />
<rect x="140.8" y="938.5" width="17.3" height="57" fill="#6868c8" />
<rect x="157.8" y="938.5" width="12.5" height="57" fill="#b2ecff" />
<rect x="170" y="938.5" width="7" height="57" fill="#6868c8" />
<rect x="176.7" y="938.5" width="18.3" height="57" fill="#b2ecff" />
<rect x="194.8" y="938.5" width="18.7" height="57" fill="#ffff82" />
<rect x="213.2" y="938.5" width="7.3" height="57" fill="#3cff3c" />
<rect x="220.2" y="938.5" width="7" height="57" fill="#ffff82" />
<rect x="226.9" y="938.5" width="11.5" height="57" fill="#3cff3c" />
<rect x="238.1" y="938.5" width="43.4" height="57" fill="#ffff82" />
<rect x="281.2" y="938.5" width="12.3" height="57" fill="#3cff3c" />
<rect x="293.2" y="938.5" width="7" height="57" fill="#6a0404" />
<rect x="299.9" y="938.5" width="7.2" height="57" fill="#6868c8" />
<rect x="306.7" y="938.5" width="11.5" height="57" fill="#b2ecff" />
<rect x="317.9" y="938.5" width="30.4" height="57" fill="#ffff82" />
<rect x="348" y="938.5" width="2.3" height="57" fill="#ffff82" />
<rect x="350" y="938.5" width="11.3" height="57" fill="#3cff3c" />
<rect x="361" y="938.5" width="25.4" height="57" fill="#ffff82" />
<rect x="386.1" y="938.5" width="18.2" height="57" fill="#3cff3c" />
<rect x="404" y="938.5" width="6.5" height="57" fill="#ffff82" />
<rect x="410.2" y="938.5" width="6.1" height="57" fill="#3cff3c" />
<rect x="416" y="938.5" width="6.3" height="57" fill="#ffff82" />
<rect x="422" y="938.5" width="7.3" height="57" fill="#3cff3c" />
<rect x="429" y="938.5" width="18.3" height="57" fill="#ffff82" />
<rect x="447.1" y="938.5" width="6.1" height="57" fill="#3cff3c" />
<rect x="452.9" y="938.5" width="12.3" height="57" fill="#ffff82" />
<rect x="465" y="938.5" width="31.2" height="57" fill="#3cff3c" />
<rect x="495.9" y="938.5" width="31.6" height="57" fill="#ffff82" />
<rect x="527.1" y="938.5" width="12.2" height="57" fill="#3cff3c" />
<rect x="539" y="938.5" width="20.4" height="57" fill="#ffff82" />
<rect x="559.1" y="938.5" width="11.2" height="57" fill="#3cff3c" />
<rect x="569.9" y="938.5" width="12.3" height="57" fill="#ffff82" />
<rect x="582" y="938.5" width="6.5" height="57" fill="#3cff3c" />
<rect x="588.1" y="938.5" width="25.4" height="57" fill="#ffff82" />
<rect x="613.2" y="938.5" width="6.1" height="57" fill="#3cff3c" />
<rect x="619.1" y="938.5" width="19.5" height="57" fill="#ffff82" />
<rect x="638.3" y="938.5" width="24.2" height="57" fill="#3cff3c" />
<rect x="662.2" y="938.5" width="6.1" height="57" fill="#ffff82" />
<rect x="668" y="938.5" width="6.5" height="57" fill="#ffff82" />
<rect x="674.2" y="938.5" width="7.2" height="57" fill="#3cff3c" />
<rect x="681" y="938.5" width="44.4" height="57" fill="#ffff82" />
<rect x="725.2" y="938.5" width="23.4" height="57" fill="#3cff3c" />
<rect x="748.2" y="938.5" width="13.2" height="57" fill="#ffff82" />
<rect x="761.1" y="938.5" width="7.5" height="57" fill="#3cff3c" />
<rect x="768.3" y="938.5" width="42.9" height="57" fill="#ffff82" />
<rect x="810.9" y="938.5" width="23.7" height="57" fill="#3cff3c" />
<rect x="834.3" y="938.5" width="20" height="57" fill="#ffff82" />
<rect x="854" y="938.5" width="5.3" height="57" fill="#3cff3c" />
<rect x="859" y="938.5" width="6.5" height="57" fill="#ffff82" />
<rect x="865.2" y="938.5" width="6.1" height="57" fill="#3cff3c" />
<rect x="871" y="938.5" width="6.1" height="57" fill="#ffff82" />
<rect x="876.9" y="938.5" width="6.5" height="57" fill="#3cff3c" />
<rect x="883.1" y="938.5" width="7.2" height="57" fill="#ffff82" />
<rect x="889.9" y="938.5" width="18.5" height="57" fill="#3cff3c" />
<rect x="908.1" y="938.5" width="6.3" height="57" fill="#ffff82" />
<rect x="914.2" y="938.5" width="6.1" height="57" fill="#3cff3c" />
<rect x="920" y="938.5" width="6.5" height="57" fill="#6a0404" />
<rect x="926.2" y="938.5" width="7" height="57" fill="#6868c8" />
<rect x="932.9" y="938.5" width="7.5" height="57" fill="#b2ecff" />
<rect x="940.1" y="938.5" width="5.3" height="57" fill="#ffff82" />
<rect x="945.1" y="938.5" width="6.5" height="57" fill="#6a0404" />
<rect x="951.3" y="938.5" width="19.2" height="57" fill="#6868c8" />
<rect x="970.1" y="938.5" width="18.2" height="57" fill="#b2ecff" />
<rect x="988" y="938.5" width="32.1" height="57" fill="#b2ecff" />
<rect x="1019.8" y="938.5" width="48.8" height="57" fill="#ffff82" />
<rect x="1068.2" y="938.5" width="12" height="57" fill="#3cff3c" />
<rect x="1079.9" y="938.5" width="26.5" height="57" fill="#ffff82" />
<rect x="1106.1" y="938.5" width="43.1" height="57" fill="#3cff3c" />
<rect x="1148.9" y="938.5" width="5.3" height="57" fill="#6a0404" />
<rect x="1153.9" y="938.5" width="6.5" height="57" fill="#6868c8" />
<rect x="1160.1" y="938.5" width="12.3" height="57" fill="#b2ecff" />
<rect x="1172.2" y="938.5" width="7.2" height="57" fill="#6868c8" />
<rect x="1179" y="938.5" width="24.4" height="57" fill="#ffff82" />
<rect x="1203.1" y="938.5" width="6.1" height="57" fill="#3cff3c" />
<rect x="1208.9" y="938.5" width="6.3" height="57" fill="#ffff82" />
<rect x="1214.9" y="938.5" width="7.3" height="57" fill="#3cff3c" />
<rect x="1222" y="938.5" width="7.5" height="57" fill="#6a0404" />
<rect x="1229.1" y="938.5" width="23.2" height="57" fill="#6868c8" />
<rect x="28.1" y="964.2" width="6.5" height="31.3" fill="#c42830" fill-opacity="0.93"/>
<rect x="29.3" y="965.4" width="3.9" height="30.1" fill="#e4747c" fill-opacity="0.9"/>
<rect x="34.8" y="965.9" width="6.2" height="29.6" fill="#c42830" fill-opacity="0.93"/>
<rect x="36" y="967.1" width="3.6" height="28.4" fill="#e4747c" fill-opacity="0.9"/>
<rect x="41.1" y="966.8" width="6" height="28.7" fill="#1c1cc4" fill-opacity="0.93"/>
<rect x="42.3" y="968" width="3.4" height="27.5" fill="#4040e6" fill-opacity="0.9"/>
<rect x="47.3" y="963.4" width="6" height="32.1" fill="#1c1cc4" fill-opacity="0.93"/>
<rect x="48.5" y="964.6" width="3.4" height="30.9" fill="#4040e6" fill-opacity="0.9"/>
<rect x="53.5" y="961.7" width="5.8" height="33.8" fill="#1c1cc4" fill-opacity="0.93"/>
<rect x="54.7" y="962.9" width="3.2" height="32.6" fill="#4040e6" fill-opacity="0.9"/>
<rect x="59.5" y="960.4" width="6" height="35.1" fill="#1c1cc4" fill-opacity="0.93"/>
<rect x="60.7" y="961.6" width="3.4" height="33.9" fill="#4040e6" fill-opacity="0.9"/>
<rect x="65.7" y="960.1" width="6" height="35.4" fill="#1c1cc4" fill-opacity="0.93"/>
<rect x="66.9" y="961.3" width="3.4" height="34.2" fill="#4040e6" fill-opacity="0.9"/>
<rect x="71.9" y="960.9" width="5.8" height="34.6" fill="#c42830" fill-opacity="0.93"/>
<rect x="73.1" y="962.1" width="3.2" height="33.4" fill="#e4747c" fill-opacity="0.9"/>
<rect x="77.9" y="962.6" width="6" height="32.9" fill="#c42830" fill-opacity="0.93"/>
<rect x="79.1" y="963.8" width="3.4" height="31.7" fill="#e4747c" fill-opacity="0.9"/>
<rect x="84.1" y="964.2" width="6" height="31.3" fill="#c42830" fill-opacity="0.93"/>
<rect x="85.3" y="965.4" width="3.4" height="30.1" fill="#e4747c" fill-opacity="0.9"/>
<rect x="90.3" y="965.9" width="6.2" height="29.6" fill="#c42830" fill-opacity="0.93"/>
<rect x="91.5" y="967.1" width="3.6" height="28.4" fill="#e4747c" fill-opacity="0.9"/>
<rect x="96.6" y="969.3" width="6" height="26.2" fill="#c42830" fill-opacity="0.93"/>
<rect x="97.8" y="970.5" width="3.4" height="25" fill="#e4747c" fill-opacity="0.9"/>
<rect x="102.8" y="974.3" width="5.8" height="21.2" fill="#c42830" fill-opacity="0.93"/>
<rect x="104" y="975.5" width="3.2" height="20" fill="#e4747c" fill-opacity="0.9"/>
<rect x="108.8" y="978.4" width="6" height="17.1" fill="#d03818" fill-opacity="0.93"/>
<rect x="110" y="979.6" width="3.4" height="15.9" fill="#f98448" fill-opacity="0.9"/>
<rect x="111.7" y="981.8" width="3.1" height="13.7" fill="#d03818" fill-opacity="0.93"/>
<rect x="112.9" y="983" width="0.8" height="12.5" fill="#f98448" fill-opacity="0.9"/>
<rect x="115" y="979.3" width="6" height="16.2" fill="#1840a8" fill-opacity="0.93"/>
<rect x="116.2" y="980.5" width="3.4" height="15" fill="#3080a8" fill-opacity="0.9"/>
<rect x="121.2" y="978.4" width="5.8" height="17.1" fill="#1840a8" fill-opacity="0.93"/>
<rect x="122.4" y="979.6" width="3.2" height="15.9" fill="#3080a8" fill-opacity="0.9"/>
<rect x="127.2" y="975.9" width="6.3" height="19.6" fill="#1c1cc4" fill-opacity="0.93"/>
<rect x="128.4" y="977.1" width="3.7" height="18.4" fill="#4040e6" fill-opacity="0.9"/>
<rect x="133.7" y="970.9" width="6.2" height="24.6" fill="#1c1cc4" fill-opacity="0.93"/>
<rect x="134.9" y="972.1" width="3.6" height="23.4" fill="#4040e6" fill-opacity="0.9"/>
<rect x="140.1" y="969.3" width="5.6" height="26.2" fill="#1c1cc4" fill-opacity="0.93"/>
<rect x="141.3" y="970.5" width="3" height="25" fill="#4040e6" fill-opacity="0.9"/>
<rect x="145.9" y="966.8" width="6" height="28.7" fill="#1c1cc4" fill-opacity="0.93"/>
<rect x="147.1" y="968" width="3.4" height="27.5" fill="#4040e6" fill-opacity="0.9"/>
<rect x="152.1" y="964.2" width="5.6" height="31.3" fill="#1c1cc4" fill-opacity="0.93"/>
<rect x="153.3" y="965.4" width="3" height="30.1" fill="#4040e6" fill-opacity="0.9"/>
<rect x="157.9" y="964.2" width="5.8" height="31.3" fill="#c42830" fill-opacity="0.93"/>
<rect x="159.1" y="965.4" width="3.2" height="30.1" fill="#e4747c" fill-opacity="0.9"/>
<rect x="164" y="965.9" width="6" height="29.6" fill="#c42830" fill-opacity="0.93"/>
<rect x="165.2" y="967.1" width="3.4" height="28.4" fill="#e4747c" fill-opacity="0.9"/>
<rect x="170.1" y="965.1" width="6.5" height="30.4" fill="#1c1cc4" fill-opacity="0.93"/>
<rect x="171.3" y="966.3" width="3.9" height="29.2" fill="#4040e6" fill-opacity="0.9"/>
<rect x="176.8" y="966.8" width="5.6" height="28.7" fill="#c42830" fill-opacity="0.93"/>
<rect x="178" y="968" width="3" height="27.5" fill="#e4747c" fill-opacity="0.9"/>
<rect x="182.7" y="969.3" width="6" height="26.2" fill="#c42830" fill-opacity="0.93"/>
<rect x="183.9" y="970.5" width="3.4" height="25" fill="#e4747c" fill-opacity="0.9"/>
<rect x="188.9" y="972.6" width="5.8" height="22.9" fill="#c42830" fill-opacity="0.93"/>
<rect x="190.1" y="973.8" width="3.2" height="21.7" fill="#e4747c" fill-opacity="0.9"/>
<rect x="194.9" y="975.1" width="6" height="20.4" fill="#c42830" fill-opacity="0.93"/>
<rect x="196.1" y="976.3" width="3.4" height="19.2" fill="#e4747c" fill-opacity="0.9"/>
<rect x="201.1" y="977.6" width="6" height="17.9" fill="#d03818" fill-opacity="0.93"/>
<rect x="202.3" y="978.8" width="3.4" height="16.7" fill="#f98448" fill-opacity="0.9"/>
<rect x="207.2" y="977.6" width="5.8" height="17.9" fill="#d03818" fill-opacity="0.93"/>
<rect x="208.4" y="978.8" width="3.2" height="16.7" fill="#f98448" fill-opacity="0.9"/>
<rect x="213.3" y="976.8" width="6.8" height="18.7" fill="#1840a8" fill-opacity="0.93"/>
<rect x="214.5" y="978" width="4.2" height="17.5" fill="#3080a8" fill-opacity="0.9"/>
<rect x="220.3" y="978.4" width="6.5" height="17.1" fill="#d03818" fill-opacity="0.93"/>
<rect x="221.5" y="979.6" width="3.9" height="15.9" fill="#f98448" fill-opacity="0.9"/>
<rect x="227" y="977.6" width="5.6" height="17.9" fill="#1840a8" fill-opacity="0.93"/>
<rect x="228.2" y="978.8" width="3" height="16.7" fill="#3080a8" fill-opacity="0.9"/>
<rect x="232.8" y="977.6" width="6" height="17.9" fill="#1840a8" fill-opacity="0.93"/>
<rect x="234" y="978.8" width="3.4" height="16.7" fill="#3080a8" fill-opacity="0.9"/>
<rect x="239" y="978.4" width="5.8" height="17.1" fill="#d03818" fill-opacity="0.93"/>
<rect x="240.2" y="979.6" width="3.2" height="15.9" fill="#f98448" fill-opacity="0.9"/>
<rect x="245" y="981" width="6" height="14.5" fill="#d03818" fill-opacity="0.93"/>
<rect x="246.2" y="982.2" width="3.4" height="13.3" fill="#f98448" fill-opacity="0.9"/>
<rect x="251.2" y="982.6" width="6" height="12.9" fill="#d03818" fill-opacity="0.93"/>
<rect x="252.4" y="983.8" width="3.4" height="11.7" fill="#f98448" fill-opacity="0.9"/>
<rect x="257.4" y="984.3" width="5.8" height="11.2" fill="#d03818" fill-opacity="0.93"/>
<rect x="258.6" y="985.5" width="3.2" height="10" fill="#f98448" fill-opacity="0.9"/>
<rect x="263.4" y="986" width="6" height="9.5" fill="#d03818" fill-opacity="0.93"/>
<rect x="264.6" y="987.2" width="3.4" height="8.3" fill="#f98448" fill-opacity="0.9"/>
<rect x="269.6" y="986.8" width="5.6" height="8.7" fill="#d03818" fill-opacity="0.93"/>
<rect x="270.8" y="988" width="3" height="7.5" fill="#f98448" fill-opacity="0.9"/>
<rect x="275.4" y="989.3" width="5.6" height="6.2" fill="#d03818" fill-opacity="0.93"/>
<rect x="276.6" y="990.5" width="3" height="5" fill="#f98448" fill-opacity="0.9"/>
<rect x="281.3" y="987.6" width="5.6" height="7.9" fill="#1840a8" fill-opacity="0.93"/>
<rect x="282.5" y="988.8" width="3" height="6.7" fill="#3080a8" fill-opacity="0.9"/>
<rect x="287.1" y="981" width="6" height="14.5" fill="#1840a8" fill-opacity="0.93"/>
<rect x="288.3" y="982.2" width="3.4" height="13.3" fill="#3080a8" fill-opacity="0.9"/>
<rect x="293.3" y="972.6" width="6.5" height="22.9" fill="#1c1cc4" fill-opacity="0.93"/>
<rect x="294.5" y="973.8" width="3.9" height="21.7" fill="#4040e6" fill-opacity="0.9"/>
<rect x="300" y="969.3" width="6.2" height="26.2" fill="#1c1cc4" fill-opacity="0.93"/>
<rect x="301.2" y="970.5" width="3.6" height="25" fill="#4040e6" fill-opacity="0.9"/>
<rect x="306.3" y="970.1" width="5.6" height="25.4" fill="#c42830" fill-opacity="0.93"/>
<rect x="307.5" y="971.3" width="3" height="24.2" fill="#e4747c" fill-opacity="0.9"/>
<rect x="312.2" y="972.6" width="6" height="22.9" fill="#c42830" fill-opacity="0.93"/>
<rect x="313.4" y="973.8" width="3.4" height="21.7" fill="#e4747c" fill-opacity="0.9"/>
<rect x="318.4" y="976.8" width="5.8" height="18.7" fill="#d03818" fill-opacity="0.93"/>
<rect x="319.6" y="978" width="3.2" height="17.5" fill="#f98448" fill-opacity="0.9"/>
<rect x="324.4" y="980.1" width="6" height="15.4" fill="#d03818" fill-opacity="0.93"/>
<rect x="325.6" y="981.3" width="3.4" height="14.2" fill="#f98448" fill-opacity="0.9"/>
<rect x="330.6" y="982.6" width="6" height="12.9" fill="#d03818" fill-opacity="0.93"/>
<rect x="331.8" y="983.8" width="3.4" height="11.7" fill="#f98448" fill-opacity="0.9"/>
<rect x="336.8" y="985.1" width="5.8" height="10.4" fill="#d03818" fill-opacity="0.93"/>
<rect x="338" y="986.3" width="3.2" height="9.2" fill="#f98448" fill-opacity="0.9"/>
<rect x="342.8" y="987.6" width="5.1" height="7.9" fill="#d03818" fill-opacity="0.93"/>
<rect x="344" y="988.8" width="2.5" height="6.7" fill="#f98448" fill-opacity="0.9"/>
<rect x="348.1" y="986.8" width="2.3" height="8.7" fill="#1840a8" fill-opacity="0.93"/>
<rect x="349.3" y="988" width="0.8" height="7.5" fill="#3080a8" fill-opacity="0.9"/>
<rect x="350.6" y="986.8" width="5.6" height="8.7" fill="#1840a8" fill-opacity="0.93"/>
<rect x="351.8" y="988" width="3" height="7.5" fill="#3080a8" fill-opacity="0.9"/>
<rect x="356.5" y="985.1" width="6" height="10.4" fill="#1840a8" fill-opacity="0.93"/>
<rect x="357.7" y="986.3" width="3.4" height="9.2" fill="#3080a8" fill-opacity="0.9"/>
<rect x="362.6" y="987.6" width="6.2" height="7.9" fill="#d03818" fill-opacity="0.93"/>
<rect x="363.8" y="988.8" width="3.6" height="6.7" fill="#f98448" fill-opacity="0.9"/>
<rect x="369" y="988.5" width="5.6" height="7" fill="#d03818" fill-opacity="0.93"/>
<rect x="370.2" y="989.7" width="3" height="5.8" fill="#f98448" fill-opacity="0.9"/>
<rect x="374.8" y="989.3" width="5.6" height="6.2" fill="#d03818" fill-opacity="0.93"/>
<rect x="376" y="990.5" width="3" height="5" fill="#f98448" fill-opacity="0.9"/>
<rect x="380.7" y="989.8" width="5.3" height="5.7" fill="#d03818" fill-opacity="0.93"/>
<rect x="381.9" y="991" width="2.7" height="4.5" fill="#f98448" fill-opacity="0.9"/>
<rect x="386.2" y="986.8" width="5.5" height="8.7" fill="#1840a8" fill-opacity="0.93"/>
<rect x="387.4" y="988" width="2.9" height="7.5" fill="#3080a8" fill-opacity="0.9"/>
<rect x="391.9" y="983.5" width="5.8" height="12" fill="#1840a8" fill-opacity="0.93"/>
<rect x="393.1" y="984.7" width="3.2" height="10.8" fill="#3080a8" fill-opacity="0.9"/>
<rect x="397.9" y="979.8" width="6" height="15.7" fill="#1840a8" fill-opacity="0.93"/>
<rect x="399.1" y="981" width="3.4" height="14.5" fill="#3080a8" fill-opacity="0.9"/>
<rect x="404.1" y="980.5" width="6" height="15" fill="#d03818" fill-opacity="0.93"/>
<rect x="405.3" y="981.7" width="3.4" height="13.8" fill="#f98448" fill-opacity="0.9"/>
<rect x="410.3" y="979.8" width="5.6" height="15.7" fill="#1840a8" fill-opacity="0.93"/>
<rect x="411.5" y="981" width="3" height="14.5" fill="#3080a8" fill-opacity="0.9"/>
<rect x="416.1" y="980.5" width="5.8" height="15" fill="#d03818" fill-opacity="0.93"/>
<rect x="417.3" y="981.7" width="3.2" height="13.8" fill="#f98448" fill-opacity="0.9"/>
<rect x="422.1" y="977.6" width="6" height="17.9" fill="#1840a8" fill-opacity="0.93"/>
<rect x="423.3" y="978.8" width="3.4" height="16.7" fill="#3080a8" fill-opacity="0.9"/>
<rect x="428.3" y="978.1" width="6.5" height="17.4" fill="#d03818" fill-opacity="0.93"/>
<rect x="429.5" y="979.3" width="3.9" height="16.2" fill="#f98448" fill-opacity="0.9"/>
<rect x="435" y="979.8" width="6" height="15.7" fill="#d03818" fill-opacity="0.93"/>
<rect x="436.2" y="981" width="3.4" height="14.5" fill="#f98448" fill-opacity="0.9"/>
<rect x="441.2" y="981.8" width="5.8" height="13.7" fill="#d03818" fill-opacity="0.93"/>
<rect x="442.4" y="983" width="3.2" height="12.5" fill="#f98448" fill-opacity="0.9"/>
<rect x="447.2" y="980.5" width="5.6" height="15" fill="#1840a8" fill-opacity="0.93"/>
<rect x="448.4" y="981.7" width="3" height="13.8" fill="#3080a8" fill-opacity="0.9"/>
<rect x="453" y="981.8" width="6" height="13.7" fill="#d03818" fill-opacity="0.93"/>
<rect x="454.2" y="983" width="3.4" height="12.5" fill="#f98448" fill-opacity="0.9"/>
<rect x="459.2" y="983.5" width="5.6" height="12" fill="#d03818" fill-opacity="0.93"/>
<rect x="460.4" y="984.7" width="3" height="10.8" fill="#f98448" fill-opacity="0.9"/>
<rect x="465.1" y="983.1" width="6" height="12.4" fill="#1840a8" fill-opacity="0.93"/>
<rect x="466.3" y="984.3" width="3.4" height="11.2" fill="#3080a8" fill-opacity="0.9"/>
<rect x="471.3" y="981.8" width="5.8" height="13.7" fill="#1840a8" fill-opacity="0.93"/>
<rect x="472.5" y="983" width="3.2" height="12.5" fill="#3080a8" fill-opacity="0.9"/>
<rect x="477.3" y="978.4" width="6" height="17.1" fill="#1840a8" fill-opacity="0.93"/>
<rect x="478.5" y="979.6" width="3.4" height="15.9" fill="#3080a8" fill-opacity="0.9"/>
<rect x="483.5" y="977.1" width="6" height="18.4" fill="#1840a8" fill-opacity="0.93"/>
<rect x="484.7" y="978.3" width="3.4" height="17.2" fill="#3080a8" fill-opacity="0.9"/>
<rect x="489.6" y="976.8" width="6.2" height="18.7" fill="#1840a8" fill-opacity="0.93"/>
<rect x="490.8" y="978" width="3.6" height="17.5" fill="#3080a8" fill-opacity="0.9"/>
<rect x="496" y="978.8" width="6" height="16.7" fill="#d03818" fill-opacity="0.93"/>
<rect x="497.2" y="980" width="3.4" height="15.5" fill="#f98448" fill-opacity="0.9"/>
<rect x="502.2" y="979.8" width="5.8" height="15.7" fill="#d03818" fill-opacity="0.93"/>
<rect x="503.4" y="981" width="3.2" height="14.5" fill="#f98448" fill-opacity="0.9"/>
<rect x="508.2" y="983.5" width="6" height="12" fill="#d03818" fill-opacity="0.93"/>
<rect x="509.4" y="984.7" width="3.4" height="10.8" fill="#f98448" fill-opacity="0.9"/>
<rect x="514.4" y="986" width="6.5" height="9.5" fill="#d03818" fill-opacity="0.93"/>
<rect x="515.6" y="987.2" width="3.9" height="8.3" fill="#f98448" fill-opacity="0.9"/>
<rect x="521.1" y="987.6" width="6" height="7.9" fill="#d03818" fill-opacity="0.93"/>
<rect x="522.3" y="988.8" width="3.4" height="6.7" fill="#f98448" fill-opacity="0.9"/>
<rect x="527.2" y="987.6" width="5.8" height="7.9" fill="#1840a8" fill-opacity="0.93"/>
<rect x="528.4" y="988.8" width="3.2" height="6.7" fill="#3080a8" fill-opacity="0.9"/>
<rect x="533.3" y="986.8" width="5.6" height="8.7" fill="#1840a8" fill-opacity="0.93"/>
<rect x="534.5" y="988" width="3" height="7.5" fill="#3080a8" fill-opacity="0.9"/>
<rect x="539.1" y="988.5" width="6" height="7" fill="#d03818" fill-opacity="0.93"/>
<rect x="540.3" y="989.7" width="3.4" height="5.8" fill="#f98448" fill-opacity="0.9"/>
<rect x="545.3" y="990.6" width="6" height="4.9" fill="#d03818" fill-opacity="0.93"/>
<rect x="546.5" y="991.8" width="3.4" height="3.7" fill="#f98448" fill-opacity="0.9"/>
<rect x="551.5" y="991.8" width="5.8" height="3.7" fill="#d03818" fill-opacity="0.93"/>
<rect x="552.7" y="993" width="3.2" height="2.5" fill="#f98448" fill-opacity="0.9"/>
<rect x="557.5" y="991" width="6" height="4.5" fill="#1840a8" fill-opacity="0.93"/>
<rect x="558.7" y="992.2" width="3.4" height="3.3" fill="#3080a8" fill-opacity="0.9"/>
<rect x="563.7" y="988.5" width="6.2" height="7" fill="#1840a8" fill-opacity="0.93"/>
<rect x="564.9" y="989.7" width="3.6" height="5.8" fill="#3080a8" fill-opacity="0.9"/>
<rect x="570" y="991" width="5.6" height="4.5" fill="#d03818" fill-opacity="0.93"/>
<rect x="571.2" y="992.2" width="3" height="3.3" fill="#f98448" fill-opacity="0.9"/>
<rect x="575.9" y="991" width="6" height="4.5" fill="#d03818" fill-opacity="0.93"/>
<rect x="577.1" y="992.2" width="3.4" height="3.3" fill="#f98448" fill-opacity="0.9"/>
<rect x="582.1" y="988.8" width="6" height="6.7" fill="#1840a8" fill-opacity="0.93"/>
<rect x="583.3" y="990" width="3.4" height="5.5" fill="#3080a8" fill-opacity="0.9"/>
<rect x="588.2" y="990.1" width="6.2" height="5.4" fill="#d03818" fill-opacity="0.93"/>
<rect x="589.4" y="991.3" width="3.6" height="4.2" fill="#f98448" fill-opacity="0.9"/>
<rect x="594.6" y="991" width="5.6" height="4.5" fill="#d03818" fill-opacity="0.93"/>
<rect x="595.8" y="992.2" width="3" height="3.3" fill="#f98448" fill-opacity="0.9"/>
<rect x="600.4" y="991.8" width="6" height="3.7" fill="#d03818" fill-opacity="0.93"/>
<rect x="601.6" y="993" width="3.4" height="2.5" fill="#f98448" fill-opacity="0.9"/>
<rect x="606.6" y="991.8" width="6.5" height="3.7" fill="#d03818" fill-opacity="0.93"/>
<rect x="607.8" y="993" width="3.9" height="2.5" fill="#f98448" fill-opacity="0.9"/>
<rect x="613.3" y="989.8" width="5.6" height="5.7" fill="#1840a8" fill-opacity="0.93"/>
<rect x="614.5" y="991" width="3" height="4.5" fill="#3080a8" fill-opacity="0.9"/>
<rect x="619.2" y="991" width="6.2" height="4.5" fill="#d03818" fill-opacity="0.93"/>
<rect x="620.4" y="992.2" width="3.6" height="3.3" fill="#f98448" fill-opacity="0.9"/>
<rect x="625.5" y="991" width="6" height="4.5" fill="#d03818" fill-opacity="0.93"/>
<rect x="626.7" y="992.2" width="3.4" height="3.3" fill="#f98448" fill-opacity="0.9"/>
<rect x="631.7" y="991" width="6.5" height="4.5" fill="#d03818" fill-opacity="0.93"/>
<rect x="632.9" y="992.2" width="3.9" height="3.3" fill="#f98448" fill-opacity="0.9"/>
<rect x="638.4" y="988.8" width="5.8" height="6.7" fill="#1840a8" fill-opacity="0.93"/>
<rect x="639.6" y="990" width="3.2" height="5.5" fill="#3080a8" fill-opacity="0.9"/>
<rect x="644.4" y="985.6" width="6" height="9.9" fill="#1840a8" fill-opacity="0.93"/>
<rect x="645.6" y="986.8" width="3.4" height="8.7" fill="#3080a8" fill-opacity="0.9"/>
<rect x="650.6" y="984.6" width="6" height="10.9" fill="#1840a8" fill-opacity="0.93"/>
<rect x="651.8" y="985.8" width="3.4" height="9.7" fill="#3080a8" fill-opacity="0.9"/>
<rect x="656.8" y="983.8" width="5.3" height="11.7" fill="#1840a8" fill-opacity="0.93"/>
<rect x="658" y="985" width="2.7" height="10.5" fill="#3080a8" fill-opacity="0.9"/>
<rect x="662.3" y="985.1" width="5.6" height="10.4" fill="#d03818" fill-opacity="0.93"/>
<rect x="663.5" y="986.3" width="3" height="9.2" fill="#f98448" fill-opacity="0.9"/>
<rect x="668.1" y="985.6" width="6" height="9.9" fill="#d03818" fill-opacity="0.93"/>
<rect x="669.3" y="986.8" width="3.4" height="8.7" fill="#f98448" fill-opacity="0.9"/>
<rect x="674.3" y="984.6" width="6.7" height="10.9" fill="#1840a8" fill-opacity="0.93"/>
<rect x="675.5" y="985.8" width="4.1" height="9.7" fill="#3080a8" fill-opacity="0.9"/>
<rect x="681.1" y="985.1" width="6" height="10.4" fill="#1840a8" fill-opacity="0.93"/>
<rect x="682.3" y="986.3" width="3.4" height="9.2" fill="#3080a8" fill-opacity="0.9"/>
<rect x="687.3" y="985.1" width="5.6" height="10.4" fill="#d03818" fill-opacity="0.93"/>
<rect x="688.5" y="986.3" width="3" height="9.2" fill="#f98448" fill-opacity="0.9"/>
<rect x="693.2" y="986" width="5.6" height="9.5" fill="#d03818" fill-opacity="0.93"/>
<rect x="694.4" y="987.2" width="3" height="8.3" fill="#f98448" fill-opacity="0.9"/>
<rect x="699" y="985.6" width="5.6" height="9.9" fill="#d03818" fill-opacity="0.93"/>
<rect x="700.2" y="986.8" width="3" height="8.7" fill="#f98448" fill-opacity="0.9"/>
<rect x="704.9" y="986" width="6.2" height="9.5" fill="#1840a8" fill-opacity="0.93"/>
<rect x="706.1" y="987.2" width="3.6" height="8.3" fill="#3080a8" fill-opacity="0.9"/>
<rect x="711.2" y="985.6" width="6" height="9.9" fill="#d03818" fill-opacity="0.93"/>
<rect x="712.4" y="986.8" width="3.4" height="8.7" fill="#f98448" fill-opacity="0.9"/>
<rect x="717.4" y="987.1" width="5.6" height="8.4" fill="#d03818" fill-opacity="0.93"/>
<rect x="718.6" y="988.3" width="3" height="7.2" fill="#f98448" fill-opacity="0.9"/>
<rect x="723.2" y="985.1" width="6" height="10.4" fill="#1840a8" fill-opacity="0.93"/>
<rect x="724.4" y="986.3" width="3.4" height="9.2" fill="#3080a8" fill-opacity="0.9"/>
<rect x="729.4" y="983.1" width="5.8" height="12.4" fill="#1840a8" fill-opacity="0.93"/>
<rect x="730.6" y="984.3" width="3.2" height="11.2" fill="#3080a8" fill-opacity="0.9"/>
<rect x="735.4" y="979.3" width="6" height="16.2" fill="#1840a8" fill-opacity="0.93"/>
<rect x="736.6" y="980.5" width="3.4" height="15" fill="#3080a8" fill-opacity="0.9"/>
<rect x="741.6" y="977.1" width="6" height="18.4" fill="#1840a8" fill-opacity="0.93"/>
<rect x="742.8" y="978.3" width="3.4" height="17.2" fill="#3080a8" fill-opacity="0.9"/>
<rect x="747.8" y="978.1" width="7" height="17.4" fill="#d03818" fill-opacity="0.93"/>
<rect x="749" y="979.3" width="4.4" height="16.2" fill="#f98448" fill-opacity="0.9"/>
<rect x="755" y="980.1" width="6" height="15.4" fill="#d03818" fill-opacity="0.93"/>
<rect x="756.2" y="981.3" width="3.4" height="14.2" fill="#f98448" fill-opacity="0.9"/>
<rect x="761.2" y="979.8" width="5.8" height="15.7" fill="#1840a8" fill-opacity="0.93"/>
<rect x="762.4" y="981" width="3.2" height="14.5" fill="#3080a8" fill-opacity="0.9"/>
<rect x="767.2" y="981" width="6" height="14.5" fill="#d03818" fill-opacity="0.93"/>
<rect x="768.4" y="982.2" width="3.4" height="13.3" fill="#f98448" fill-opacity="0.9"/>
<rect x="773.4" y="982.1" width="6" height="13.4" fill="#d03818" fill-opacity="0.93"/>
<rect x="774.6" y="983.3" width="3.4" height="12.2" fill="#f98448" fill-opacity="0.9"/>
<rect x="779.6" y="983.1" width="6.2" height="12.4" fill="#d03818" fill-opacity="0.93"/>
<rect x="780.8" y="984.3" width="3.6" height="11.2" fill="#f98448" fill-opacity="0.9"/>
<rect x="785.9" y="985.1" width="6" height="10.4" fill="#d03818" fill-opacity="0.93"/>
<rect x="787.1" y="986.3" width="3.4" height="9.2" fill="#f98448" fill-opacity="0.9"/>
<rect x="792.1" y="987.1" width="5.8" height="8.4" fill="#d03818" fill-opacity="0.93"/>
<rect x="793.3" y="988.3" width="3.2" height="7.2" fill="#f98448" fill-opacity="0.9"/>
<rect x="798.1" y="987.3" width="6" height="8.2" fill="#d03818" fill-opacity="0.93"/>
<rect x="799.3" y="988.5" width="3.4" height="7" fill="#f98448" fill-opacity="0.9"/>
<rect x="804.3" y="987.3" width="5.6" height="8.2" fill="#d03818" fill-opacity="0.93"/>
<rect x="805.5" y="988.5" width="3" height="7" fill="#f98448" fill-opacity="0.9"/>
<rect x="810.1" y="985.1" width="6" height="10.4" fill="#1840a8" fill-opacity="0.93"/>
<rect x="811.3" y="986.3" width="3.4" height="9.2" fill="#3080a8" fill-opacity="0.9"/>
<rect x="816.3" y="982.6" width="5.8" height="12.9" fill="#1840a8" fill-opacity="0.93"/>
<rect x="817.5" y="983.8" width="3.2" height="11.7" fill="#3080a8" fill-opacity="0.9"/>
<rect x="822.3" y="982.3" width="6" height="13.2" fill="#1840a8" fill-opacity="0.93"/>
<rect x="823.5" y="983.5" width="3.4" height="12" fill="#3080a8" fill-opacity="0.9"/>
<rect x="828.5" y="981" width="6" height="14.5" fill="#1840a8" fill-opacity="0.93"/>
<rect x="829.7" y="982.2" width="3.4" height="13.3" fill="#3080a8" fill-opacity="0.9"/>
<rect x="834.7" y="983.1" width="6.2" height="12.4" fill="#d03818" fill-opacity="0.93"/>
<rect x="835.9" y="984.3" width="3.6" height="11.2" fill="#f98448" fill-opacity="0.9"/>
<rect x="841.1" y="985.1" width="5.6" height="10.4" fill="#d03818" fill-opacity="0.93"/>
<rect x="842.3" y="986.3" width="3" height="9.2" fill="#f98448" fill-opacity="0.9"/>
<rect x="846.9" y="986.5" width="5.6" height="9" fill="#d03818" fill-opacity="0.93"/>
<rect x="848.1" y="987.7" width="3" height="7.8" fill="#f98448" fill-opacity="0.9"/>
<rect x="852.8" y="983.1" width="6.2" height="12.4" fill="#1840a8" fill-opacity="0.93"/>
<rect x="854" y="984.3" width="3.6" height="11.2" fill="#3080a8" fill-opacity="0.9"/>
<rect x="859.1" y="984.3" width="6" height="11.2" fill="#d03818" fill-opacity="0.93"/>
<rect x="860.3" y="985.5" width="3.4" height="10" fill="#f98448" fill-opacity="0.9"/>
<rect x="865.3" y="983.1" width="6" height="12.4" fill="#1840a8" fill-opacity="0.93"/>
<rect x="866.5" y="984.3" width="3.4" height="11.2" fill="#3080a8" fill-opacity="0.9"/>
<rect x="871.5" y="984.3" width="5.3" height="11.2" fill="#d03818" fill-opacity="0.93"/>
<rect x="872.7" y="985.5" width="2.7" height="10" fill="#f98448" fill-opacity="0.9"/>
<rect x="877" y="980.1" width="6" height="15.4" fill="#1840a8" fill-opacity="0.93"/>
<rect x="878.2" y="981.3" width="3.4" height="14.2" fill="#3080a8" fill-opacity="0.9"/>
<rect x="883.2" y="980.1" width="6.2" height="15.4" fill="#d03818" fill-opacity="0.93"/>
<rect x="884.4" y="981.3" width="3.6" height="14.2" fill="#f98448" fill-opacity="0.9"/>
<rect x="889.5" y="978.1" width="6.2" height="17.4" fill="#1840a8" fill-opacity="0.93"/>
<rect x="890.7" y="979.3" width="3.6" height="16.2" fill="#3080a8" fill-opacity="0.9"/>
<rect x="895.9" y="975.9" width="6" height="19.6" fill="#1c1cc4" fill-opacity="0.93"/>
<rect x="897.1" y="977.1" width="3.4" height="18.4" fill="#4040e6" fill-opacity="0.9"/>
<rect x="902.1" y="975.9" width="6" height="19.6" fill="#1c1cc4" fill-opacity="0.93"/>
<rect x="903.3" y="977.1" width="3.4" height="18.4" fill="#4040e6" fill-opacity="0.9"/>
<rect x="908.2" y="976.8" width="5.8" height="18.7" fill="#d03818" fill-opacity="0.93"/>
<rect x="909.4" y="978" width="3.2" height="17.5" fill="#f98448" fill-opacity="0.9"/>
<rect x="914.3" y="975.9" width="5.6" height="19.6" fill="#1c1cc4" fill-opacity="0.93"/>
<rect x="915.5" y="977.1" width="3" height="18.4" fill="#4040e6" fill-opacity="0.9"/>
<rect x="920.1" y="973.8" width="6" height="21.7" fill="#1c1cc4" fill-opacity="0.93"/>
<rect x="921.3" y="975" width="3.4" height="20.5" fill="#4040e6" fill-opacity="0.9"/>
<rect x="926.3" y="970.9" width="6.5" height="24.6" fill="#1c1cc4" fill-opacity="0.93"/>
<rect x="927.5" y="972.1" width="3.9" height="23.4" fill="#4040e6" fill-opacity="0.9"/>
<rect x="933" y="972.1" width="7" height="23.4" fill="#c42830" fill-opacity="0.93"/>
<rect x="934.2" y="973.3" width="4.4" height="22.2" fill="#e4747c" fill-opacity="0.9"/>
<rect x="940.2" y="975.1" width="4.8" height="20.4" fill="#c42830" fill-opacity="0.93"/>
<rect x="941.4" y="976.3" width="2.2" height="19.2" fill="#e4747c" fill-opacity="0.9"/>
<rect x="945.2" y="963.9" width="6" height="31.6" fill="#1c1cc4" fill-opacity="0.93"/>
<rect x="946.4" y="965.1" width="3.4" height="30.4" fill="#4040e6" fill-opacity="0.9"/>
<rect x="951.4" y="950" width="6" height="45.5" fill="#1c1cc4" fill-opacity="0.93"/>
<rect x="952.6" y="951.2" width="3.4" height="44.3" fill="#4040e6" fill-opacity="0.9"/>
<rect x="957.5" y="945.4" width="5.8" height="50.1" fill="#1c1cc4" fill-opacity="0.93"/>
<rect x="958.7" y="946.6" width="3.2" height="48.9" fill="#4040e6" fill-opacity="0.9"/>
<rect x="963.6" y="941.7" width="6.5" height="53.8" fill="#1c1cc4" fill-opacity="0.93"/>
<rect x="964.8" y="942.9" width="3.9" height="52.6" fill="#4040e6" fill-opacity="0.9"/>
<rect x="970.2" y="942" width="6.3" height="53.5" fill="#c42830" fill-opacity="0.93"/>
<rect x="971.4" y="943.2" width="3.7" height="52.3" fill="#e4747c" fill-opacity="0.9"/>
<rect x="976.8" y="945.9" width="5.8" height="49.6" fill="#c42830" fill-opacity="0.93"/>
<rect x="978" y="947.1" width="3.2" height="48.4" fill="#e4747c" fill-opacity="0.9"/>
<rect x="982.8" y="950" width="5.1" height="45.5" fill="#c42830" fill-opacity="0.93"/>
<rect x="984" y="951.2" width="2.5" height="44.3" fill="#e4747c" fill-opacity="0.9"/>
<rect x="988.1" y="950" width="1.8" height="45.5" fill="#c42830" fill-opacity="0.93"/>
<rect x="989.3" y="951.2" width="0.8" height="44.3" fill="#e4747c" fill-opacity="0.9"/>
<rect x="990.1" y="953.7" width="5.6" height="41.8" fill="#c42830" fill-opacity="0.93"/>
<rect x="991.3" y="954.9" width="3" height="40.6" fill="#e4747c" fill-opacity="0.9"/>
<rect x="996" y="959.7" width="5.8" height="35.8" fill="#c42830" fill-opacity="0.93"/>
<rect x="997.2" y="960.9" width="3.2" height="34.6" fill="#e4747c" fill-opacity="0.9"/>
<rect x="1002" y="964.7" width="6" height="30.8" fill="#c42830" fill-opacity="0.93"/>
<rect x="1003.2" y="965.9" width="3.4" height="29.6" fill="#e4747c" fill-opacity="0.9"/>
<rect x="1008.2" y="970.6" width="5.6" height="24.9" fill="#c42830" fill-opacity="0.93"/>
<rect x="1009.4" y="971.8" width="3" height="23.7" fill="#e4747c" fill-opacity="0.9"/>
<rect x="1014" y="974.8" width="6.5" height="20.7" fill="#c42830" fill-opacity="0.93"/>
<rect x="1015.2" y="976" width="3.9" height="19.5" fill="#e4747c" fill-opacity="0.9"/>
<rect x="1020.7" y="977.6" width="6" height="17.9" fill="#d03818" fill-opacity="0.93"/>
<rect x="1021.9" y="978.8" width="3.4" height="16.7" fill="#f98448" fill-opacity="0.9"/>
<rect x="1026.9" y="981.8" width="5.8" height="13.7" fill="#d03818" fill-opacity="0.93"/>
<rect x="1028.1" y="983" width="3.2" height="12.5" fill="#f98448" fill-opacity="0.9"/>
<rect x="1032.9" y="981.8" width="6" height="13.7" fill="#d03818" fill-opacity="0.93"/>
<rect x="1034.1" y="983" width="3.4" height="12.5" fill="#f98448" fill-opacity="0.9"/>
<rect x="1039.1" y="983.8" width="5.6" height="11.7" fill="#d03818" fill-opacity="0.93"/>
<rect x="1040.3" y="985" width="3" height="10.5" fill="#f98448" fill-opacity="0.9"/>
<rect x="1044.9" y="983.8" width="6" height="11.7" fill="#d03818" fill-opacity="0.93"/>
<rect x="1046.1" y="985" width="3.4" height="10.5" fill="#f98448" fill-opacity="0.9"/>
<rect x="1051.1" y="984.8" width="5.8" height="10.7" fill="#d03818" fill-opacity="0.93"/>
<rect x="1052.3" y="986" width="3.2" height="9.5" fill="#f98448" fill-opacity="0.9"/>
<rect x="1057.1" y="987.1" width="6" height="8.4" fill="#d03818" fill-opacity="0.93"/>
<rect x="1058.3" y="988.3" width="3.4" height="7.2" fill="#f98448" fill-opacity="0.9"/>
<rect x="1063.3" y="988.1" width="4" height="7.4" fill="#d03818" fill-opacity="0.93"/>
<rect x="1064.5" y="989.3" width="1.4" height="6.2" fill="#f98448" fill-opacity="0.9"/>
<rect x="1067.5" y="986.8" width="6" height="8.7" fill="#1840a8" fill-opacity="0.93"/>
<rect x="1068.7" y="988" width="3.4" height="7.5" fill="#3080a8" fill-opacity="0.9"/>
<rect x="1073.7" y="986.8" width="6.2" height="8.7" fill="#1840a8" fill-opacity="0.93"/>
<rect x="1074.9" y="988" width="3.6" height="7.5" fill="#3080a8" fill-opacity="0.9"/>
<rect x="1080" y="986.8" width="6" height="8.7" fill="#d03818" fill-opacity="0.93"/>
<rect x="1081.2" y="988" width="3.4" height="7.5" fill="#f98448" fill-opacity="0.9"/>
<rect x="1086.2" y="986.8" width="5.8" height="8.7" fill="#d03818" fill-opacity="0.93"/>
<rect x="1087.4" y="988" width="3.2" height="7.5" fill="#f98448" fill-opacity="0.9"/>
<rect x="1092.2" y="988.8" width="6" height="6.7" fill="#d03818" fill-opacity="0.93"/>
<rect x="1093.4" y="990" width="3.4" height="5.5" fill="#f98448" fill-opacity="0.9"/>
<rect x="1098.4" y="989.8" width="5.6" height="5.7" fill="#d03818" fill-opacity="0.93"/>
<rect x="1099.6" y="991" width="3" height="4.5" fill="#f98448" fill-opacity="0.9"/>
<rect x="1104.2" y="988.8" width="6" height="6.7" fill="#1840a8" fill-opacity="0.93"/>
<rect x="1105.4" y="990" width="3.4" height="5.5" fill="#3080a8" fill-opacity="0.9"/>
<rect x="1110.4" y="986" width="5.8" height="9.5" fill="#1840a8" fill-opacity="0.93"/>
<rect x="1111.6" y="987.2" width="3.2" height="8.3" fill="#3080a8" fill-opacity="0.9"/>
<rect x="1116.4" y="983.8" width="6" height="11.7" fill="#1840a8" fill-opacity="0.93"/>
<rect x="1117.6" y="985" width="3.4" height="10.5" fill="#3080a8" fill-opacity="0.9"/>
<rect x="1122.6" y="980.6" width="6" height="14.9" fill="#1840a8" fill-opacity="0.93"/>
<rect x="1123.8" y="981.8" width="3.4" height="13.7" fill="#3080a8" fill-opacity="0.9"/>
<rect x="1128.8" y="979.8" width="5.8" height="15.7" fill="#1840a8" fill-opacity="0.93"/>
<rect x="1130" y="981" width="3.2" height="14.5" fill="#3080a8" fill-opacity="0.9"/>
<rect x="1134.8" y="978.8" width="6" height="16.7" fill="#1840a8" fill-opacity="0.93"/>
<rect x="1136" y="980" width="3.4" height="15.5" fill="#3080a8" fill-opacity="0.9"/>
<rect x="1141" y="974.8" width="6.2" height="20.7" fill="#1c1cc4" fill-opacity="0.93"/>
<rect x="1142.2" y="976" width="3.6" height="19.5" fill="#4040e6" fill-opacity="0.9"/>
<rect x="1147.4" y="971.8" width="6" height="23.7" fill="#1c1cc4" fill-opacity="0.93"/>
<rect x="1148.6" y="973" width="3.4" height="22.5" fill="#4040e6" fill-opacity="0.9"/>
<rect x="1153.5" y="969.8" width="6" height="25.7" fill="#1c1cc4" fill-opacity="0.93"/>
<rect x="1154.7" y="971" width="3.4" height="24.5" fill="#4040e6" fill-opacity="0.9"/>
<rect x="1159.7" y="971.4" width="5.8" height="24.1" fill="#c42830" fill-opacity="0.93"/>
<rect x="1160.9" y="972.6" width="3.2" height="22.9" fill="#e4747c" fill-opacity="0.9"/>
<rect x="1165.7" y="974.3" width="6" height="21.2" fill="#c42830" fill-opacity="0.93"/>
<rect x="1166.9" y="975.5" width="3.4" height="20" fill="#e4747c" fill-opacity="0.9"/>
<rect x="1171.9" y="973.8" width="7" height="21.7" fill="#1c1cc4" fill-opacity="0.93"/>
<rect x="1173.1" y="975" width="4.4" height="20.5" fill="#4040e6" fill-opacity="0.9"/>
<rect x="1179.1" y="977.1" width="6" height="18.4" fill="#d03818" fill-opacity="0.93"/>
<rect x="1180.3" y="978.3" width="3.4" height="17.2" fill="#f98448" fill-opacity="0.9"/>
<rect x="1185.3" y="978.8" width="6" height="16.7" fill="#d03818" fill-opacity="0.93"/>
<rect x="1186.5" y="980" width="3.4" height="15.5" fill="#f98448" fill-opacity="0.9"/>
<rect x="1191.5" y="978.8" width="5.8" height="16.7" fill="#d03818" fill-opacity="0.93"/>
<rect x="1192.7" y="980" width="3.2" height="15.5" fill="#f98448" fill-opacity="0.9"/>
<rect x="1197.5" y="979.8" width="6" height="15.7" fill="#d03818" fill-opacity="0.93"/>
<rect x="1198.7" y="981" width="3.4" height="14.5" fill="#f98448" fill-opacity="0.9"/>
<rect x="1203.7" y="979.8" width="5.1" height="15.7" fill="#1840a8" fill-opacity="0.93"/>
<rect x="1204.9" y="981" width="2.5" height="14.5" fill="#3080a8" fill-opacity="0.9"/>
<rect x="1209" y="979.8" width="5.8" height="15.7" fill="#d03818" fill-opacity="0.93"/>
<rect x="1210.2" y="981" width="3.2" height="14.5" fill="#f98448" fill-opacity="0.9"/>
<rect x="1215" y="975.9" width="6.8" height="19.6" fill="#1c1cc4" fill-opacity="0.93"/>
<rect x="1216.2" y="977.1" width="4.2" height="18.4" fill="#4040e6" fill-opacity="0.9"/>
<rect x="1222.1" y="972.6" width="6" height="22.9" fill="#1c1cc4" fill-opacity="0.93"/>
<rect x="1223.3" y="973.8" width="3.4" height="21.7" fill="#4040e6" fill-opacity="0.9"/>
<rect x="1228.2" y="969.8" width="5.8" height="25.7" fill="#1c1cc4" fill-opacity="0.93"/>
<rect x="1229.4" y="971" width="3.2" height="24.5" fill="#4040e6" fill-opacity="0.9"/>
<rect x="1234.3" y="966.8" width="6" height="28.7" fill="#1c1cc4" fill-opacity="0.93"/>
<rect x="1235.5" y="968" width="3.4" height="27.5" fill="#4040e6" fill-opacity="0.9"/>
<rect x="1240.4" y="955.9" width="6" height="39.6" fill="#1c1cc4" fill-opacity="0.93"/>
<rect x="1241.6" y="957.1" width="3.4" height="38.4" fill="#4040e6" fill-opacity="0.9"/>
<rect x="1246.6" y="947.5" width="7" height="48" fill="#1c1cc4" fill-opacity="0.93"/>
<rect x="1247.8" y="948.7" width="4.4" height="46.8" fill="#4040e6" fill-opacity="0.9"/>
<line x1="28" y1="976.4" x2="1250" y2="976.4" stroke="#000" stroke-width="1.2" />
</g>
<line x1="1298.5" y1="939" x2="1298.5" y2="995" stroke="#d6d6d6" stroke-width="1" stroke-dasharray="1,3" />
<line x1="1354.5" y1="939" x2="1354.5" y2="995" stroke="#d6d6d6" stroke-width="1" stroke-dasharray="1,3" />
<line x1="1410.5" y1="939" x2="1410.5" y2="995" stroke="#d6d6d6" stroke-width="1" stroke-dasharray="1,3" />
<line x1="1458.5" y1="939" x2="1458.5" y2="995" stroke="#d6d6d6" stroke-width="1" stroke-dasharray="1,3" />
<line x1="1513.5" y1="939" x2="1513.5" y2="995" stroke="#d6d6d6" stroke-width="1" stroke-dasharray="1,3" />
<line x1="1563.5" y1="939" x2="1563.5" y2="995" stroke="#d6d6d6" stroke-width="1" stroke-dasharray="1,3" />
<line x1="1618.5" y1="939" x2="1618.5" y2="995" stroke="#d6d6d6" stroke-width="1" stroke-dasharray="1,3" />
<line x1="1673.5" y1="939" x2="1673.5" y2="995" stroke="#d6d6d6" stroke-width="1" stroke-dasharray="1,3" />
<line x1="1729.5" y1="939" x2="1729.5" y2="995" stroke="#d6d6d6" stroke-width="1" stroke-dasharray="1,3" />
<line x1="1778.5" y1="939" x2="1778.5" y2="995" stroke="#d6d6d6" stroke-width="1" stroke-dasharray="1,3" />
<line x1="1833.5" y1="939" x2="1833.5" y2="995" stroke="#d6d6d6" stroke-width="1" stroke-dasharray="1,3" />
<line x1="1256" y1="956.5" x2="1874" y2="956.5" stroke="#d6d6d6" stroke-width="1" stroke-dasharray="1,3" />
<line x1="1256" y1="969.5" x2="1874" y2="969.5" stroke="#d6d6d6" stroke-width="1" stroke-dasharray="1,3" />
<line x1="1256" y1="982.5" x2="1874" y2="982.5" stroke="#d6d6d6" stroke-width="1" stroke-dasharray="1,3" />
<rect x="28" y="938.5" width="191.3" height="15.2" fill="#cfdee7" stroke="#7f99a7" stroke-width="1" />
<line x1="43.5" y1="938.5" x2="43.5" y2="953.7" stroke="#7f99a7" stroke-width="1" />
<circle cx="35.3" cy="946.1" r="5.3" fill="#4a6fa8"/>
<line x1="33" y1="943.8" x2="37.6" y2="948.4" stroke="#e8eef6" stroke-width="1.8" />
<line x1="37.6" y1="943.8" x2="33" y2="948.4" stroke="#e8eef6" stroke-width="1.8" />
<rect x="47.5" y="942.1" width="4" height="8" fill="#111" />
<rect x="51.5" y="942.1" width="4" height="8" fill="#78909c" />
<text x="59.5" y="949.6" font-size="9.6" font-weight="bold" fill="#000" text-anchor="start" textLength="156" lengthAdjust="spacingAndGlyphs" >Barra Fuerza Fondo Mercado v4 (f)</text>
<line x1="28" y1="621.7" x2="1915" y2="621.7" stroke="#6b8796" stroke-width="1.4" />
<line x1="28" y1="763.2" x2="1915" y2="763.2" stroke="#6b8796" stroke-width="1.4" />
<line x1="28" y1="845.5" x2="1915" y2="845.5" stroke="#6b8796" stroke-width="1.4" />
<line x1="28" y1="938" x2="1915" y2="938" stroke="#6b8796" stroke-width="1.4" />
<line x1="28" y1="995.6" x2="1874" y2="995.6" stroke="#6b8796" stroke-width="1.2" />
<line x1="1874" y1="695" x2="1879" y2="695" stroke="#1010c8" stroke-width="1.3" />
<rect x="1879.5" y="688.5" width="14" height="13" fill="#f7f8f9" stroke="#6b8796" stroke-width="1" />
<text x="1881.5" y="698.3" font-size="9.2" font-weight="bold" fill="#1010c8" text-anchor="start" textLength="10" lengthAdjust="spacingAndGlyphs" >50</text>
<line x1="1874" y1="732.4" x2="1879" y2="732.4" stroke="#000" stroke-width="1.3" />
<rect x="1879.5" y="725.9" width="14" height="13" fill="#f7f8f9" stroke="#6b8796" stroke-width="1" />
<text x="1881.5" y="735.7" font-size="9.2" font-weight="bold" fill="#000" text-anchor="start" textLength="10" lengthAdjust="spacingAndGlyphs" >20</text>
<line x1="1874" y1="756.9" x2="1879" y2="756.9" stroke="#000" stroke-width="1.3" />
<rect x="1879.5" y="750.4" width="9" height="13" fill="#f7f8f9" stroke="#6b8796" stroke-width="1" />
<text x="1881.5" y="760.2" font-size="9.2" font-weight="bold" fill="#000" text-anchor="start" textLength="5" lengthAdjust="spacingAndGlyphs" >0</text>
<line x1="1874" y1="640.3" x2="1879" y2="640.3" stroke="#000" stroke-width="1.3" />
<rect x="1879.5" y="633.8" width="31" height="13" fill="#f7f8f9" stroke="#6b8796" stroke-width="1" />
<text x="1881.5" y="643.6" font-size="9.2" font-weight="bold" fill="#000" text-anchor="start" textLength="27" lengthAdjust="spacingAndGlyphs" >94,462</text>
<line x1="1874" y1="650.8" x2="1879" y2="650.8" stroke="#f01010" stroke-width="1.3" />
<rect x="1879.5" y="644.3" width="31" height="13" fill="#f7f8f9" stroke="#6b8796" stroke-width="1" />
<text x="1881.5" y="654.1" font-size="9.2" font-weight="bold" fill="#f01010" text-anchor="start" textLength="27" lengthAdjust="spacingAndGlyphs" >86,380</text>
<line x1="1874" y1="660.6" x2="1879" y2="660.6" stroke="#000" stroke-width="1.3" />
<rect x="1879.5" y="654.1" width="14" height="13" fill="#f7f8f9" stroke="#6b8796" stroke-width="1" />
<text x="1881.5" y="663.9" font-size="9.2" font-weight="bold" fill="#000" text-anchor="start" textLength="10" lengthAdjust="spacingAndGlyphs" >80</text>
<line x1="1874" y1="631.5" x2="1879" y2="631.5" stroke="#000" stroke-width="1.3" />
<rect x="1879.5" y="625" width="19" height="13" fill="#f7f8f9" stroke="#6b8796" stroke-width="1" />
<text x="1881.5" y="634.8" font-size="9.2" font-weight="bold" fill="#000" text-anchor="start" textLength="15" lengthAdjust="spacingAndGlyphs" >100</text>
<line x1="1897.8" y1="626" x2="1897.8" y2="634.5" stroke="#39a0e0" stroke-width="1" />
<line x1="1874" y1="682.7" x2="1879" y2="682.7" stroke="#000" stroke-width="1.3" />
<rect x="1879.5" y="676.2" width="31" height="13" fill="#f7f8f9" stroke="#6b8796" stroke-width="1" />
<text x="1881.5" y="686" font-size="9.2" font-weight="bold" fill="#000" text-anchor="start" textLength="27" lengthAdjust="spacingAndGlyphs" >60,635</text>
<line x1="1874" y1="703.7" x2="1879" y2="703.7" stroke="#f01010" stroke-width="1.3" />
<rect x="1879.5" y="697.2" width="31" height="13" fill="#f7f8f9" stroke="#6b8796" stroke-width="1" />
<text x="1881.5" y="707" font-size="9.2" font-weight="bold" fill="#f01010" text-anchor="start" textLength="27" lengthAdjust="spacingAndGlyphs" >48,032</text>
<line x1="1874" y1="770.8" x2="1879" y2="770.8" stroke="#000" stroke-width="1.3" />
<rect x="1879.5" y="764.3" width="9" height="13" fill="#f7f8f9" stroke="#6b8796" stroke-width="1" />
<text x="1881.5" y="774.1" font-size="9.2" font-weight="bold" fill="#000" text-anchor="start" textLength="5" lengthAdjust="spacingAndGlyphs" >0</text>
<line x1="1874" y1="783.7" x2="1879" y2="783.7" stroke="#0a0aa0" stroke-width="1.3" />
<rect x="1879.5" y="777.2" width="17" height="13" fill="#f7f8f9" stroke="#6b8796" stroke-width="1" />
<text x="1881.5" y="787" font-size="9.2" font-weight="bold" fill="#0a0aa0" text-anchor="start" textLength="13" lengthAdjust="spacingAndGlyphs" >-25</text>
<rect x="1879.5" y="807" width="17" height="13" fill="#f7f8f9" stroke="#6b8796" stroke-width="1" />
<text x="1881.5" y="816.8" font-size="9.2" font-weight="bold" fill="#000" text-anchor="start" textLength="13" lengthAdjust="spacingAndGlyphs" >-60</text>
<line x1="1874" y1="806.5" x2="1879" y2="806.5" stroke="#0a0aa0" stroke-width="1.3" />
<rect x="1879.5" y="800" width="17" height="13" fill="#f7f8f9" stroke="#6b8796" stroke-width="1" />
<text x="1881.5" y="809.8" font-size="9.2" font-weight="bold" fill="#0a0aa0" text-anchor="start" textLength="13" lengthAdjust="spacingAndGlyphs" >-50</text>
<line x1="1874" y1="824" x2="1879" y2="824" stroke="#c00a0a" stroke-width="1.3" />
<rect x="1879.5" y="817.5" width="17" height="13" fill="#f7f8f9" stroke="#6b8796" stroke-width="1" />
<text x="1881.5" y="827.3" font-size="9.2" font-weight="bold" fill="#c00a0a" text-anchor="start" textLength="13" lengthAdjust="spacingAndGlyphs" >-75</text>
<line x1="1874" y1="792.5" x2="1879" y2="792.5" stroke="#ff9c00" stroke-width="1.3" />
<rect x="1879.5" y="786" width="34" height="13" fill="#f7f8f9" stroke="#6b8796" stroke-width="1" />
<text x="1881.5" y="795.8" font-size="9.2" font-weight="bold" fill="#ff9c00" text-anchor="start" textLength="30" lengthAdjust="spacingAndGlyphs" >-31,126</text>
<line x1="1874" y1="839.1" x2="1879" y2="839.1" stroke="#000" stroke-width="1.3" />
<rect x="1879.5" y="832.6" width="22" height="13" fill="#f7f8f9" stroke="#6b8796" stroke-width="1" />
<text x="1881.5" y="842.4" font-size="9.2" font-weight="bold" fill="#000" text-anchor="start" textLength="18" lengthAdjust="spacingAndGlyphs" >-100</text>
<rect x="1879.5" y="846.4" width="31" height="13" fill="#f7f8f9" stroke="#6b8796" stroke-width="1" />
<text x="1881.5" y="856.2" font-size="9.2" font-weight="bold" fill="#f01010" text-anchor="start" textLength="27" lengthAdjust="spacingAndGlyphs" >807,79</text>
<rect x="1879.5" y="855.6" width="31" height="13" fill="#f7f8f9" stroke="#6b8796" stroke-width="1" />
<text x="1881.5" y="865.4" font-size="9.2" font-weight="bold" fill="#ff9c00" text-anchor="start" textLength="27" lengthAdjust="spacingAndGlyphs" >807,79</text>
<line x1="1874" y1="856.6" x2="1879" y2="856.6" stroke="#ff9c00" stroke-width="1.3" />
<rect x="1879.5" y="872.2" width="31" height="13" fill="#f7f8f9" stroke="#6b8796" stroke-width="1" />
<text x="1881.5" y="882" font-size="9.2" font-weight="bold" fill="#b010b0" text-anchor="start" textLength="27" lengthAdjust="spacingAndGlyphs" >375,56</text>
<rect x="1879.5" y="883.7" width="31" height="13" fill="#f7f8f9" stroke="#6b8796" stroke-width="1" />
<text x="1881.5" y="893.5" font-size="9.2" font-weight="bold" fill="#ff10e8" text-anchor="start" textLength="27" lengthAdjust="spacingAndGlyphs" >375,56</text>
<line x1="1874" y1="884.3" x2="1879" y2="884.3" stroke="#ff10e8" stroke-width="1.3" />
<rect x="1879.5" y="896.5" width="8" height="9" fill="#f7f8f9" stroke="#6b8796" stroke-width="1" />
<text x="1881.5" y="904.3" font-size="9.2" font-weight="bold" fill="#000" text-anchor="start" textLength="4" lengthAdjust="spacingAndGlyphs" > </text>
<rect x="1879.5" y="900" width="8" height="13" fill="#f7f8f9" stroke="#6b8796" stroke-width="1" />
<text x="1881.5" y="909.8" font-size="9.2" font-weight="bold" fill="#ff10e8" text-anchor="start" textLength="4" lengthAdjust="spacingAndGlyphs" >0</text>
<rect x="1879.5" y="908.2" width="8" height="13" fill="#f7f8f9" stroke="#6b8796" stroke-width="1" />
<text x="1881.5" y="918" font-size="9.2" font-weight="bold" fill="#ff10e8" text-anchor="start" textLength="4" lengthAdjust="spacingAndGlyphs" >0</text>
<line x1="1874" y1="908.6" x2="1879" y2="908.6" stroke="#ff10e8" stroke-width="1.3" />
<line x1="1874" y1="944" x2="1878" y2="944" stroke="#5a7684" stroke-width="1.2" />
<text x="1881.5" y="947.3" font-size="9.2" font-weight="bold" fill="#000" text-anchor="start" textLength="5" lengthAdjust="spacingAndGlyphs" >1</text>
<line x1="1874" y1="956" x2="1878" y2="956" stroke="#5a7684" stroke-width="1.2" />
<text x="1881.5" y="959.3" font-size="9.2" font-weight="bold" fill="#000" text-anchor="start" textLength="13" lengthAdjust="spacingAndGlyphs" >0,8</text>
<line x1="1874" y1="967.3" x2="1878" y2="967.3" stroke="#5a7684" stroke-width="1.2" />
<text x="1881.5" y="970.6" font-size="9.2" font-weight="bold" fill="#000" text-anchor="start" textLength="13" lengthAdjust="spacingAndGlyphs" >0,6</text>
<line x1="1874" y1="983" x2="1878" y2="983" stroke="#5a7684" stroke-width="1.2" />
<text x="1881.5" y="986.3" font-size="9.2" font-weight="bold" fill="#000" text-anchor="start" textLength="13" lengthAdjust="spacingAndGlyphs" >0,4</text>
<line x1="1874" y1="991" x2="1878" y2="991" stroke="#5a7684" stroke-width="1.2" />
<text x="1881.5" y="994.3" font-size="9.2" font-weight="bold" fill="#000" text-anchor="start" textLength="13" lengthAdjust="spacingAndGlyphs" >0,2</text>
<line x1="1874" y1="949.8" x2="1879" y2="949.8" stroke="#1010f0" stroke-width="1.3" />
<rect x="1879.5" y="943.3" width="31" height="13" fill="#f7f8f9" stroke="#6b8796" stroke-width="1" />
<text x="1881.5" y="953.1" font-size="9.2" font-weight="bold" fill="#1010f0" text-anchor="start" textLength="27" lengthAdjust="spacingAndGlyphs" >0,8984</text>
<line x1="1874" y1="976.5" x2="1879" y2="976.5" stroke="#000" stroke-width="1.3" />
<rect x="1879.5" y="970" width="31" height="13" fill="#f7f8f9" stroke="#6b8796" stroke-width="1" />
<text x="1881.5" y="979.8" font-size="9.2" font-weight="bold" fill="#000" text-anchor="start" textLength="27" lengthAdjust="spacingAndGlyphs" >0,5000</text>
<line x1="1874" y1="645.9" x2="1877" y2="645.9" stroke="#5a7684" stroke-width="1" />
<line x1="1874" y1="670.8" x2="1877" y2="670.8" stroke="#5a7684" stroke-width="1" />
<line x1="1874" y1="683.2" x2="1877" y2="683.2" stroke="#5a7684" stroke-width="1" />
<line x1="1874" y1="708" x2="1877" y2="708" stroke="#5a7684" stroke-width="1" />
<line x1="1874" y1="720.3" x2="1877" y2="720.3" stroke="#5a7684" stroke-width="1" />
<line x1="1874" y1="745" x2="1877" y2="745" stroke="#5a7684" stroke-width="1" />
<line x1="69.4" y1="996" x2="69.4" y2="998.5" stroke="#5a7684" stroke-width="1.2" />
<text x="69.4" y="1008.3" font-size="9.6" font-weight="bold" fill="#000" text-anchor="middle" textLength="11.2" lengthAdjust="spacingAndGlyphs" >jul</text>
<line x1="124.6" y1="996" x2="124.6" y2="998.5" stroke="#5a7684" stroke-width="1.2" />
<text x="124.6" y="1008.3" font-size="9.6" font-weight="bold" fill="#000" text-anchor="middle" textLength="18.4" lengthAdjust="spacingAndGlyphs" >sept</text>
<line x1="180.4" y1="996" x2="180.4" y2="998.5" stroke="#5a7684" stroke-width="1.2" />
<text x="180.4" y="1008.3" font-size="9.6" font-weight="bold" fill="#000" text-anchor="middle" textLength="15.9" lengthAdjust="spacingAndGlyphs" >nov</text>
<line x1="229" y1="996" x2="229" y2="998.5" stroke="#5a7684" stroke-width="1.2" />
<text x="229" y="1008.3" font-size="9.6" font-weight="bold" fill="#000" text-anchor="middle" textLength="23.2" lengthAdjust="spacingAndGlyphs" >2023</text>
<line x1="284.5" y1="996" x2="284.5" y2="998.5" stroke="#5a7684" stroke-width="1.2" />
<text x="284.5" y="1008.3" font-size="9.6" font-weight="bold" fill="#000" text-anchor="middle" textLength="16" lengthAdjust="spacingAndGlyphs" >mar</text>
<line x1="333" y1="996" x2="333" y2="998.5" stroke="#5a7684" stroke-width="1.2" />
<text x="333" y="1008.3" font-size="9.6" font-weight="bold" fill="#000" text-anchor="middle" textLength="16.7" lengthAdjust="spacingAndGlyphs" >may</text>
<line x1="389.4" y1="996" x2="389.4" y2="998.5" stroke="#5a7684" stroke-width="1.2" />
<text x="389.4" y="1008.3" font-size="9.6" font-weight="bold" fill="#000" text-anchor="middle" textLength="11.2" lengthAdjust="spacingAndGlyphs" >jul</text>
<line x1="444.6" y1="996" x2="444.6" y2="998.5" stroke="#5a7684" stroke-width="1.2" />
<text x="444.6" y="1008.3" font-size="9.6" font-weight="bold" fill="#000" text-anchor="middle" textLength="18.4" lengthAdjust="spacingAndGlyphs" >sept</text>
<line x1="499.7" y1="996" x2="499.7" y2="998.5" stroke="#5a7684" stroke-width="1.2" />
<text x="499.7" y="1008.3" font-size="9.6" font-weight="bold" fill="#000" text-anchor="middle" textLength="15.9" lengthAdjust="spacingAndGlyphs" >nov</text>
<line x1="548.2" y1="996" x2="548.2" y2="998.5" stroke="#5a7684" stroke-width="1.2" />
<text x="548.2" y="1008.3" font-size="9.6" font-weight="bold" fill="#000" text-anchor="middle" textLength="23.2" lengthAdjust="spacingAndGlyphs" >2024</text>
<line x1="604.5" y1="996" x2="604.5" y2="998.5" stroke="#5a7684" stroke-width="1.2" />
<text x="604.5" y="1008.3" font-size="9.6" font-weight="bold" fill="#000" text-anchor="middle" textLength="16" lengthAdjust="spacingAndGlyphs" >mar</text>
<line x1="659" y1="996" x2="659" y2="998.5" stroke="#5a7684" stroke-width="1.2" />
<text x="659" y="1008.3" font-size="9.6" font-weight="bold" fill="#000" text-anchor="middle" textLength="16.7" lengthAdjust="spacingAndGlyphs" >may</text>
<line x1="708" y1="996" x2="708" y2="998.5" stroke="#5a7684" stroke-width="1.2" />
<text x="708" y="1008.3" font-size="9.6" font-weight="bold" fill="#000" text-anchor="middle" textLength="11.2" lengthAdjust="spacingAndGlyphs" >jul</text>
<line x1="764.6" y1="996" x2="764.6" y2="998.5" stroke="#5a7684" stroke-width="1.2" />
<text x="764.6" y="1008.3" font-size="9.6" font-weight="bold" fill="#000" text-anchor="middle" textLength="18.4" lengthAdjust="spacingAndGlyphs" >sept</text>
<line x1="819.7" y1="996" x2="819.7" y2="998.5" stroke="#5a7684" stroke-width="1.2" />
<text x="819.7" y="1008.3" font-size="9.6" font-weight="bold" fill="#000" text-anchor="middle" textLength="15.9" lengthAdjust="spacingAndGlyphs" >nov</text>
<line x1="873.9" y1="996" x2="873.9" y2="998.5" stroke="#5a7684" stroke-width="1.2" />
<text x="873.9" y="1008.3" font-size="9.6" font-weight="bold" fill="#000" text-anchor="middle" textLength="23.2" lengthAdjust="spacingAndGlyphs" >2025</text>
<line x1="923.3" y1="996" x2="923.3" y2="998.5" stroke="#5a7684" stroke-width="1.2" />
<text x="923.3" y="1008.3" font-size="9.6" font-weight="bold" fill="#000" text-anchor="middle" textLength="16" lengthAdjust="spacingAndGlyphs" >mar</text>
<line x1="978.8" y1="996" x2="978.8" y2="998.5" stroke="#5a7684" stroke-width="1.2" />
<text x="978.8" y="1008.3" font-size="9.6" font-weight="bold" fill="#000" text-anchor="middle" textLength="16.7" lengthAdjust="spacingAndGlyphs" >may</text>
<line x1="1034.5" y1="996" x2="1034.5" y2="998.5" stroke="#5a7684" stroke-width="1.2" />
<text x="1034.5" y="1008.3" font-size="9.6" font-weight="bold" fill="#000" text-anchor="middle" textLength="11.2" lengthAdjust="spacingAndGlyphs" >jul</text>
<line x1="1083.6" y1="996" x2="1083.6" y2="998.5" stroke="#5a7684" stroke-width="1.2" />
<text x="1083.6" y="1008.3" font-size="9.6" font-weight="bold" fill="#000" text-anchor="middle" textLength="18.4" lengthAdjust="spacingAndGlyphs" >sept</text>
<line x1="1138.4" y1="996" x2="1138.4" y2="998.5" stroke="#5a7684" stroke-width="1.2" />
<text x="1138.4" y="1008.3" font-size="9.6" font-weight="bold" fill="#000" text-anchor="middle" textLength="15.9" lengthAdjust="spacingAndGlyphs" >nov</text>
<line x1="1193.9" y1="996" x2="1193.9" y2="998.5" stroke="#5a7684" stroke-width="1.2" />
<text x="1193.9" y="1008.3" font-size="9.6" font-weight="bold" fill="#000" text-anchor="middle" textLength="23.2" lengthAdjust="spacingAndGlyphs" >2026</text>
<line x1="1243.3" y1="996" x2="1243.3" y2="998.5" stroke="#5a7684" stroke-width="1.2" />
<text x="1243.3" y="1008.3" font-size="9.6" font-weight="bold" fill="#000" text-anchor="middle" textLength="16" lengthAdjust="spacingAndGlyphs" >mar</text>
<line x1="1298.2" y1="996" x2="1298.2" y2="998.5" stroke="#5a7684" stroke-width="1.2" />
<text x="1298.2" y="1008.3" font-size="9.6" font-weight="bold" fill="#000" text-anchor="middle" textLength="16.7" lengthAdjust="spacingAndGlyphs" >may</text>
<line x1="1353.9" y1="996" x2="1353.9" y2="998.5" stroke="#5a7684" stroke-width="1.2" />
<text x="1353.9" y="1008.3" font-size="9.6" font-weight="bold" fill="#000" text-anchor="middle" textLength="11.2" lengthAdjust="spacingAndGlyphs" >jul</text>
<line x1="1409.9" y1="996" x2="1409.9" y2="998.5" stroke="#5a7684" stroke-width="1.2" />
<text x="1409.9" y="1008.3" font-size="9.6" font-weight="bold" fill="#000" text-anchor="middle" textLength="18.4" lengthAdjust="spacingAndGlyphs" >sept</text>
<line x1="1458.5" y1="996" x2="1458.5" y2="998.5" stroke="#5a7684" stroke-width="1.2" />
<text x="1458.5" y="1008.3" font-size="9.6" font-weight="bold" fill="#000" text-anchor="middle" textLength="15.9" lengthAdjust="spacingAndGlyphs" >nov</text>
<line x1="1513.2" y1="996" x2="1513.2" y2="998.5" stroke="#5a7684" stroke-width="1.2" />
<text x="1513.2" y="1008.3" font-size="9.6" font-weight="bold" fill="#000" text-anchor="middle" textLength="23.2" lengthAdjust="spacingAndGlyphs" >2027</text>
<line x1="1563.2" y1="996" x2="1563.2" y2="998.5" stroke="#5a7684" stroke-width="1.2" />
<text x="1563.2" y="1008.3" font-size="9.6" font-weight="bold" fill="#000" text-anchor="middle" textLength="16" lengthAdjust="spacingAndGlyphs" >mar</text>
<line x1="1617.9" y1="996" x2="1617.9" y2="998.5" stroke="#5a7684" stroke-width="1.2" />
<text x="1617.9" y="1008.3" font-size="9.6" font-weight="bold" fill="#000" text-anchor="middle" textLength="16.7" lengthAdjust="spacingAndGlyphs" >may</text>
<line x1="1672.9" y1="996" x2="1672.9" y2="998.5" stroke="#5a7684" stroke-width="1.2" />
<text x="1672.9" y="1008.3" font-size="9.6" font-weight="bold" fill="#000" text-anchor="middle" textLength="11.2" lengthAdjust="spacingAndGlyphs" >jul</text>
<line x1="1729.3" y1="996" x2="1729.3" y2="998.5" stroke="#5a7684" stroke-width="1.2" />
<text x="1729.3" y="1008.3" font-size="9.6" font-weight="bold" fill="#000" text-anchor="middle" textLength="18.4" lengthAdjust="spacingAndGlyphs" >sept</text>
<line x1="1778.3" y1="996" x2="1778.3" y2="998.5" stroke="#5a7684" stroke-width="1.2" />
<text x="1778.3" y="1008.3" font-size="9.6" font-weight="bold" fill="#000" text-anchor="middle" textLength="15.9" lengthAdjust="spacingAndGlyphs" >nov</text>
<line x1="1833.3" y1="996" x2="1833.3" y2="998.5" stroke="#5a7684" stroke-width="1.2" />
<text x="1833.3" y="1008.3" font-size="9.6" font-weight="bold" fill="#000" text-anchor="middle" textLength="23.2" lengthAdjust="spacingAndGlyphs" >2028</text>
<rect x="0" y="22.8" width="27.6" height="1010" fill="#9dbbca" />
<line x1="27.6" y1="22" x2="27.6" y2="1010" stroke="#7d99a8" stroke-width="1" />
<line x1="0.5" y1="0" x2="0.5" y2="1030" stroke="#41606f" stroke-width="1.2" />
<polyline points="10.5,29.3 13.5,26.3 16.5,29.3" fill="none" stroke="#6f8793" stroke-width="1.3" />
<line x1="0" y1="32.4" x2="27.6" y2="32.4" stroke="#86a2b0" stroke-width="1" />
<rect x="3.3" y="36" width="21.2" height="21" fill="#8aa3b0" stroke="#758f9c" stroke-width="1" rx="3" />
<polygon points="11,40.5 11,52 13.8,49.4 15.8,53.6 17.6,52.8 15.6,48.8 19.4,48.6" fill="#e8ecee" stroke="#555" stroke-width="0.9" />
<circle cx="11.5" cy="66" r="3.6" fill="#e9eef1" stroke="#444" stroke-width="1.1"/>
<line x1="14" y1="68.5" x2="18.6" y2="73.1" stroke="#111" stroke-width="2.2" />
<circle cx="14" cy="88" r="3.6" fill="#e9eef1" stroke="#444" stroke-width="1.1"/>
<line x1="16.5" y1="90.5" x2="21.1" y2="95.1" stroke="#111" stroke-width="2.2" />
<rect x="5.5" y="89" width="7" height="6" fill="none" stroke="#1010e0" stroke-width="1" stroke-dasharray="1.5,1.5"/>
<path d="M7 113 q0 -7 4.5 -7 q4.500 0 4.500 7 l1.6 2.400 h-12.200 z" fill="#ffd800" stroke="#c8a800" stroke-width="0.7"/>
<circle cx="11.5" cy="116.4" r="1.4" fill="#e0b800"/>
<polygon points="16.5,108 16.5,116.5 18.6,114.8 20,117.6 21.2,117 19.8,114.2 22,114" fill="#f0f0f0" stroke="#444" stroke-width="0.8" />
<line x1="16" y1="105" x2="20" y2="109" stroke="#1010e0" stroke-width="1" />
<line x1="20" y1="105" x2="16" y2="109" stroke="#1010e0" stroke-width="1" />
<path d="M9 135 q0 -7 4.5 -7 q4.500 0 4.500 7 l1.6 2.400 h-12.200 z" fill="#ffd800" stroke="#c8a800" stroke-width="0.7"/>
<circle cx="13.5" cy="138.4" r="1.4" fill="#e0b800"/>
<polyline points="6,160 9,152 12,159 21,159" fill="none" stroke="#1010c0" stroke-width="1.2" />
<line x1="12" y1="156.5" x2="21" y2="156.5" stroke="#ff6a3c" stroke-width="1" stroke-dasharray="2,1.5" />
<text x="19" y="163.5" font-size="7.5" font-weight="bold" fill="#1010e0" text-anchor="start" >F</text>
<line x1="9" y1="178.5" x2="19" y2="178.5" stroke="#ff6a3c" stroke-width="1" stroke-dasharray="2,1.5" />
<line x1="9" y1="180.5" x2="19" y2="180.5" stroke="#7070ff" stroke-width="1" stroke-dasharray="2,1.5" />
<text x="18.5" y="186.5" font-size="7.5" font-weight="bold" fill="#1010e0" text-anchor="start" >F</text>
<rect x="8.5" y="197.5" width="11" height="7" fill="#a9bfd0" stroke="#5a78c8" stroke-width="1" />
<text x="17.5" y="200" font-size="7" font-weight="bold" fill="#1010e0" text-anchor="start" >+</text>
<text x="5.5" y="207.5" font-size="7" font-weight="bold" fill="#1010e0" text-anchor="start" >+</text>
<rect x="8.5" y="219.5" width="11" height="7" fill="#a898b0" stroke="#e01010" stroke-width="1.5" />
<text x="17.5" y="222" font-size="7" font-weight="bold" fill="#1010e0" text-anchor="start" >+</text>
<text x="5.5" y="229.5" font-size="7" font-weight="bold" fill="#1010e0" text-anchor="start" >+</text>
<line x1="9.5" y1="248.5" x2="18.5" y2="239.5" stroke="#111" stroke-width="1.8" />
<polygon points="19.8,238.2 14.4,239.4 18.6,243.6" fill="#111" stroke="none" stroke-width="1" />
<circle cx="9" cy="249" r="1.8" fill="#ccd" stroke="#222" stroke-width="0.9"/>
<rect x="7.5" y="260.5" width="12.5" height="13" fill="#a9c8d8" stroke="#6a96f0" stroke-width="1" rx="1.5" />
<text x="13.7" y="271" font-size="9.5" font-weight="bold" fill="#111" text-anchor="middle" >T</text>
<ellipse cx="13.5" cy="287.5" rx="6.8" ry="6.2" fill="#a9c8d8" stroke="#5a8af0" stroke-width="1.1"/>
<polygon points="15,292.6 19.5,296 18,291.4" fill="#a9c8d8" stroke="#5a8af0" stroke-width="0.9" />
<text x="13.5" y="291.2" font-size="9.5" font-weight="bold" fill="#0a8a0a" text-anchor="middle" >T</text>
<line x1="9.5" y1="313.5" x2="17.5" y2="305.5" stroke="#222" stroke-width="1.2" />
<circle cx="9" cy="314" r="1.7" fill="#dde" stroke="#222" stroke-width="0.9"/><circle cx="18" cy="305" r="1.7" fill="#dde" stroke="#222" stroke-width="0.9"/>
<line x1="13" y1="331.8" x2="23" y2="331.8" stroke="#6cf86c" stroke-width="1.6" />
<circle cx="12" cy="331.8" r="1.6" fill="none" stroke="#6cf86c" stroke-width="1.1"/>
<line x1="13" y1="354" x2="23" y2="354" stroke="#3ccc3c" stroke-width="1.6" />
<circle cx="12" cy="354" r="1.6" fill="none" stroke="#3ccc3c" stroke-width="1.1"/>
<line x1="13" y1="375.7" x2="23" y2="375.7" stroke="#0a8a0a" stroke-width="1.6" />
<circle cx="12" cy="375.7" r="1.6" fill="none" stroke="#0a8a0a" stroke-width="1.1"/>
<line x1="13" y1="397.5" x2="23" y2="397.5" stroke="#e81010" stroke-width="1.6" />
<circle cx="12" cy="397.5" r="1.6" fill="none" stroke="#e81010" stroke-width="1.1"/>
<g transform="rotate(-35 13 419)"><rect x="5.500" y="416.500" width="15" height="5" fill="#a4bfcc" stroke="#333" stroke-width="0.9"/><line x1="8.500" y1="416.500" x2="8.500" y2="419" stroke="#555" stroke-width="0.7"/><line x1="11.500" y1="416.500" x2="11.500" y2="419" stroke="#555" stroke-width="0.7"/><line x1="14.500" y1="416.500" x2="14.500" y2="419" stroke="#555" stroke-width="0.7"/><line x1="17.500" y1="416.500" x2="17.500" y2="419" stroke="#555" stroke-width="0.7"/></g>
<rect x="6" y="435" width="15.5" height="7" fill="#a8d8b0" />
<rect x="6" y="442" width="15.5" height="7" fill="#d8b0b8" />
<line x1="6" y1="435" x2="21.5" y2="435" stroke="#30c050" stroke-width="1" stroke-dasharray="1.5,1.5" />
<line x1="6" y1="449" x2="21.5" y2="449" stroke="#e05070" stroke-width="1" stroke-dasharray="1.5,1.5" />
<polyline points="6.5,446 10,440 13,444 17,438 20.5,440" fill="none" stroke="#d0d8ff" stroke-width="1.1" />
<ellipse cx="13.5" cy="463.7" rx="6.800" ry="4.600" fill="#c0a0a8" stroke="#e01010" stroke-width="1.2" transform="rotate(-18 13.5 463.7)"/>
<text x="18.5" y="461.2" font-size="6.5" font-weight="bold" fill="#1010e0" text-anchor="start" >+</text>
<text x="4.5" y="470.2" font-size="6.5" font-weight="bold" fill="#1010e0" text-anchor="start" >+</text>
<ellipse cx="13.5" cy="485.5" rx="6.800" ry="4.600" fill="#b0a898" stroke="#a06a30" stroke-width="1.2" transform="rotate(-18 13.5 485.5)"/>
<text x="18.5" y="483" font-size="6.5" font-weight="bold" fill="#1010e0" text-anchor="start" >+</text>
<text x="4.5" y="492" font-size="6.5" font-weight="bold" fill="#1010e0" text-anchor="start" >+</text>
<ellipse cx="13.5" cy="507.9" rx="6.800" ry="4.600" fill="#88a890" stroke="#0a7a0a" stroke-width="1.2" transform="rotate(-18 13.5 507.9)"/>
<text x="18.5" y="505.4" font-size="6.5" font-weight="bold" fill="#1010e0" text-anchor="start" >+</text>
<text x="4.5" y="514.4" font-size="6.5" font-weight="bold" fill="#1010e0" text-anchor="start" >+</text>
<ellipse cx="13.5" cy="529.6" rx="6.800" ry="4.600" fill="#88e890" stroke="#10e010" stroke-width="1.2" transform="rotate(-18 13.5 529.6)"/>
<text x="18.5" y="527.1" font-size="6.5" font-weight="bold" fill="#1010e0" text-anchor="start" >+</text>
<text x="4.5" y="536.1" font-size="6.5" font-weight="bold" fill="#1010e0" text-anchor="start" >+</text>
<line x1="5" y1="560.5" x2="22.5" y2="543.5" stroke="#222" stroke-width="1.1" />
<line x1="5" y1="582.5" x2="22.5" y2="565.5" stroke="#30b030" stroke-width="1.4" />
<line x1="5" y1="604.3" x2="22.5" y2="587.3" stroke="#e81010" stroke-width="1.6" />
<line x1="5" y1="618.8" x2="22.5" y2="618.8" stroke="#111" stroke-width="1.5" />
<line x1="5" y1="640" x2="22.5" y2="640" stroke="#ff8878" stroke-width="1.5" />
<line x1="5" y1="661.8" x2="22.5" y2="661.8" stroke="#30d830" stroke-width="1.5" />
<line x1="5" y1="683.4" x2="22.5" y2="683.4" stroke="#0a7a0a" stroke-width="1.5" />
<line x1="5" y1="706" x2="22.5" y2="706" stroke="#e81010" stroke-width="1.5" />
<line x1="5" y1="727.6" x2="22.5" y2="727.6" stroke="#5a8af0" stroke-width="1.5" />
<line x1="5" y1="749.8" x2="22.5" y2="749.8" stroke="#0a0aa0" stroke-width="1.5" />
<line x1="14" y1="763" x2="14" y2="780" stroke="#111" stroke-width="1.2" />
<polyline points="21,787.5 6,798 22,798" fill="none" stroke="#e04040" stroke-width="1" />
<text x="14" y="796" font-size="8" font-weight="bold" fill="#1010e0" text-anchor="start" >°</text>
<text x="12" y="798" font-size="6.5" font-weight="bold" fill="#1010e0" text-anchor="start" >a</text>
<circle cx="13.5" cy="815.500" r="6.200" fill="none" stroke="#ff8a3c" stroke-width="1.100"/>
<text x="9.5" y="819" font-size="8" font-weight="bold" fill="#1010e0" text-anchor="start" >+</text>
<text x="15.5" y="814" font-size="7" font-weight="bold" fill="#1010e0" text-anchor="start" >+</text>
<line x1="6" y1="830" x2="19" y2="846" stroke="#5a8af0" stroke-width="1" />
<line x1="6" y1="846" x2="19" y2="830" stroke="#5a8af0" stroke-width="1" />
<text x="14" y="835" font-size="6.5" font-weight="bold" fill="#1010e0" text-anchor="start" >3+</text>
<text x="4" y="840" font-size="6.5" font-weight="bold" fill="#1010e0" text-anchor="start" >2</text>
<text x="16.5" y="844" font-size="6.5" font-weight="bold" fill="#1010e0" text-anchor="start" >4</text>
<line x1="7" y1="852" x2="17" y2="868" stroke="#5a8af0" stroke-width="1" />
<text x="15" y="857" font-size="7" font-weight="bold" fill="#1010e0" text-anchor="start" >+b</text>
<text x="4" y="866" font-size="7" font-weight="bold" fill="#1010e0" text-anchor="start" >a</text>
<text x="15" y="868" font-size="6.5" font-weight="bold" fill="#1010e0" text-anchor="start" >c+</text>
<polyline points="6.5,882.5 11,887.5 21,875.5" fill="none" stroke="#28c028" stroke-width="3.2" />
<path d="M8.500 900 h3 l3 -6.500 q2.500 0 1.800 3 l-0.600 2.500 h4.500 q1.800 0.300 1.200 2 l-1.800 6.500 q-0.500 1.500 -2 1.500 h-9.100 z" fill="#38b838" stroke="#1a7a1a" stroke-width="0.8"/>
<rect x="5" y="899.5" width="3.8" height="9.5" fill="#38b838" stroke="#1a7a1a" stroke-width="0.8" />
<line x1="7.5" y1="920.5" x2="20" y2="933" stroke="#e81010" stroke-width="4" />
<line x1="20" y1="920.5" x2="7.5" y2="933" stroke="#e81010" stroke-width="4" />
<rect x="0.8" y="943.5" width="26.5" height="10.5" fill="#b5cdd9" stroke="#86a2b0" stroke-width="0.8" />
<polygon points="11.5,940 16.5,940 14,936.5" fill="#e8b020" stroke="none" stroke-width="1" />
<polyline points="11,947.3 14,950.3 17,947.3" fill="none" stroke="#222" stroke-width="1.4" />
<rect x="9" y="961" width="10" height="12" fill="#f4f4f4" stroke="#99a" stroke-width="0.8" />
<circle cx="9.5" cy="962" r="4.2" fill="#28a028"/>
<text x="9.5" y="964.6" font-size="6.5" font-weight="bold" fill="#fff" text-anchor="middle" >4</text>
<path d="M12 976 l6 -6 a3.2 3.2 0 1 1 2 2 l-6 6 z" fill="#111"/>
<circle cx="9.500" cy="996" r="1.500" fill="#222"/><circle cx="14" cy="996" r="1.500" fill="#222"/><circle cx="18.500" cy="996" r="1.500" fill="#222"/>
<polygon points="15.5,1000.5 20.5,1000.5 18,1003" fill="#111" stroke="none" stroke-width="1" />
<rect x="0" y="1010.3" width="1915" height="20" fill="#9dbbca" />
<line x1="0" y1="1010.3" x2="1915" y2="1010.3" stroke="#7d99a8" stroke-width="1" />
<line x1="27.6" y1="1010" x2="27.6" y2="1030" stroke="#7d99a8" stroke-width="1" />
<rect x="1.2" y="1011" width="26" height="19" fill="#93abb8" />
<line x1="7.5" y1="1014.5" x2="14.5" y2="1022" stroke="#f01010" stroke-width="1.3" />
<polyline points="8,1027 10,1018 12,1027" fill="none" stroke="#555" stroke-width="0.8" />
<line x1="8" y1="1027.5" x2="14" y2="1027.5" stroke="#18b018" stroke-width="1.2" />
<g transform="rotate(28 17 1021)"><rect x="15.300" y="1013.500" width="3.800" height="10" fill="#ffe030" stroke="#b08a10" stroke-width="0.6"/><polygon points="15.300,1023.500 19.100,1023.500 17.200,1027.500" fill="#f4e0c0" stroke="#8a6a10" stroke-width="0.5"/></g>
<circle cx="40.5" cy="1016.2" r="2.200" fill="#f4f6f8" stroke="#c8d4da" stroke-width="0.600"/>
<circle cx="33" cy="1021" r="2.200" fill="#f4f6f8" stroke="#c8d4da" stroke-width="0.600"/>
<circle cx="40.5" cy="1025.8" r="2.200" fill="#f4f6f8" stroke="#c8d4da" stroke-width="0.600"/>
<polyline points="40.5,1016.2 33,1021 40.5,1025.8" fill="none" stroke="#f4f6f8" stroke-width="1.3" />
<polygon points="41,1026.3 45.5,1026.3 43.2,1028.6" fill="#111" stroke="none" stroke-width="1" />
<rect x="53" y="1014.5" width="7" height="8.5" fill="#eef2f6" stroke="#c0ccd4" stroke-width="0.7" />
<rect x="56.5" y="1018.5" width="9" height="6.8" fill="#3a7ae0" rx="1.5" />
<polygon points="58,1025 58,1028.5 61,1025" fill="#3a7ae0" stroke="none" stroke-width="1" />
<circle cx="59" cy="1021.900" r="0.700" fill="#fff"/>
<circle cx="61" cy="1021.900" r="0.700" fill="#fff"/>
<circle cx="63" cy="1021.900" r="0.700" fill="#fff"/>
<rect x="75.5" y="1015.5" width="9.5" height="12" fill="#f0f0f0" stroke="#555" stroke-width="0.9" />
<line x1="77" y1="1018.5" x2="82.5" y2="1018.5" stroke="#555" stroke-width="0.9" />
<line x1="77" y1="1020.7" x2="82.5" y2="1020.7" stroke="#555" stroke-width="0.9" />
<line x1="77" y1="1022.9" x2="82.5" y2="1022.9" stroke="#555" stroke-width="0.9" />
<line x1="77" y1="1025.1" x2="82.5" y2="1025.1" stroke="#555" stroke-width="0.9" />
<polygon points="81,1015.5 85.5,1015.5 85.5,1020" fill="#e04848" stroke="none" stroke-width="1" />
<polygon points="75,1027.5 75,1024.5 80,1027.5" fill="#28b028" stroke="none" stroke-width="1" />
<rect x="94.5" y="1014.5" width="7" height="2.6" fill="#28b828" rx="1" />
<rect x="103.5" y="1016" width="4.5" height="2" fill="#e04848" />
<rect x="94.5" y="1017.9" width="7" height="2.6" fill="#28b828" rx="1" />
<rect x="103.5" y="1019.1" width="4.5" height="2" fill="#e04848" />
<rect x="94.5" y="1021.3" width="7" height="2.6" fill="#28b828" rx="1" />
<rect x="103.5" y="1022.2" width="4.5" height="2" fill="#e04848" />
<rect x="94.5" y="1024.7" width="7" height="2.6" fill="#28b828" rx="1" />
<rect x="103.5" y="1025.3" width="4.5" height="2" fill="#e04848" />
<rect x="101.5" y="1014" width="1.6" height="14" fill="#18a018" />
<rect x="114.5" y="1014" width="10.5" height="8.5" fill="#f4f8fb" stroke="#2a5ac0" stroke-width="1.2" rx="1" />
<rect x="119.5" y="1019" width="10.5" height="8.5" fill="#f4f8fb" stroke="#2a5ac0" stroke-width="1.2" rx="1" />
<polyline points="121,1025.5 123.5,1022 125.5,1025 128.5,1021.5" fill="none" stroke="#e02020" stroke-width="1" />
<polyline points="121,1024 123.5,1025.5 126,1022 128.5,1024.5" fill="none" stroke="#18a018" stroke-width="1" />
<text x="135.3" y="1025.6" font-size="13" font-weight="normal" fill="#2c4654" text-anchor="start" >«</text>
<rect x="147.5" y="1014.6" width="1617" height="12.8" fill="#93afbe" stroke="#7d99a8" stroke-width="0.8" rx="2" />
<rect x="147.5" y="1014.6" width="12.5" height="12.8" fill="url(#gthumb)" stroke="#7d99a8" stroke-width="0.8" rx="2" />
<polyline points="154.8,1018.3 152,1021 154.8,1023.7" fill="none" stroke="#111" stroke-width="1.5" />
<rect x="1544" y="1014.6" width="207.5" height="12.8" fill="url(#gthumb)" stroke="#7d99a8" stroke-width="0.8" />
<rect x="1751.8" y="1014.6" width="12.7" height="12.8" fill="url(#gthumb)" stroke="#7d99a8" stroke-width="0.8" rx="2" />
<polyline points="1757,1018.3 1759.8,1021 1757,1023.7" fill="none" stroke="#111" stroke-width="1.5" />
<path d="M1774 1019 l4 -3.500 v2.300 q7 0.200 6.500 8 q-1.500 -4.500 -6.500 -4.300 v2.300 z" fill="#6a9ad8"/>
<path d="M1806 1019 l-4 -3.500 v2.300 q-7 0.200 -6.500 8 q1.500 -4.500 6.500 -4.300 v2.300 z" fill="#6a9ad8"/>
<rect x="1816" y="1019" width="4" height="7.5" fill="#e05050" />
<line x1="1818" y1="1017" x2="1818" y2="1028" stroke="#e05050" stroke-width="1" />
<rect x="1823.5" y="1015.5" width="4.5" height="10" fill="#30c030" />
<line x1="1825.7" y1="1013" x2="1825.7" y2="1028" stroke="#30c030" stroke-width="1" />
<path d="M1817 1027 l6 -6 a2.800 2.800 0 1 1 1.800 1.800 l-6 6 z" fill="#f4f4f4" stroke="#333" stroke-width="0.7"/>
<circle cx="1842" cy="1019.5" r="4.6" fill="#eef2f4" stroke="#333" stroke-width="1.1"/>
<line x1="1845.3" y1="1022.8" x2="1850.3" y2="1027.8" stroke="#111" stroke-width="2.4" />
<line x1="1850.5" y1="1015" x2="1850.5" y2="1022" stroke="#1010e0" stroke-width="1.1" />
<polygon points="1849,1016 1852,1016 1850.5,1013.8" fill="#1010e0" stroke="none" stroke-width="1" />
<polygon points="1849,1021 1852,1021 1850.5,1023.2" fill="#1010e0" stroke="none" stroke-width="1" />
<line x1="1837" y1="1027" x2="1844" y2="1027" stroke="#1010e0" stroke-width="1.1" />
<polygon points="1838,1025.5 1838,1028.5 1835.8,1027" fill="#1010e0" stroke="none" stroke-width="1" />
<polygon points="1843,1025.5 1843,1028.5 1845.2,1027" fill="#1010e0" stroke="none" stroke-width="1" />
<circle cx="1863.5" cy="1019.5" r="4.2" fill="#eef2f4" stroke="#333" stroke-width="1.1"/>
<line x1="1866.5" y1="1022.5" x2="1871.5" y2="1027.5" stroke="#111" stroke-width="2.4" />
<line x1="1861.3" y1="1019.5" x2="1865.7" y2="1019.5" stroke="#1010e0" stroke-width="1.5" />
<circle cx="1885.5" cy="1019.5" r="4.2" fill="#eef2f4" stroke="#333" stroke-width="1.1"/>
<line x1="1888.5" y1="1022.5" x2="1893.5" y2="1027.5" stroke="#111" stroke-width="2.4" />
<line x1="1883.3" y1="1019.5" x2="1887.7" y2="1019.5" stroke="#1010e0" stroke-width="1.5" />
<line x1="1885.5" y1="1017.3" x2="1885.5" y2="1021.7" stroke="#1010e0" stroke-width="1.5" />
<line x1="1903" y1="1016.5" x2="1915" y2="1016.5" stroke="#333" stroke-width="1.6" stroke-dasharray="1.5,1" />
<polygon points="1907.5,1021 1912.5,1021 1910,1025.5" fill="#2a6ae0" stroke="none" stroke-width="1" />
<rect x="1909.2" y="1018.5" width="1.6" height="3" fill="#2a6ae0" />
<rect x="0" y="0" width="1915" height="21" fill="url(#gtop)" />
<line x1="0" y1="0.5" x2="1915" y2="0.5" stroke="#3f5a67" stroke-width="1" />
<rect x="0" y="20.8" width="1915" height="1.3" fill="#5a7684" />
<rect x="788.7" y="21.8" width="1126.3" height="1.2" fill="#3c535f" />
<line x1="7.5" y1="9" x2="7.5" y2="18" stroke="#1e9a1e" stroke-width="1" />
<rect x="6.3" y="11" width="2.4" height="5" fill="#22b422" />
<line x1="11.5" y1="7" x2="11.5" y2="14" stroke="#1e9a1e" stroke-width="1" />
<rect x="10.3" y="8.5" width="2.4" height="4" fill="#22b422" />
<line x1="15.5" y1="4" x2="15.5" y2="11" stroke="#1e9a1e" stroke-width="1" />
<rect x="14.3" y="5" width="2.4" height="5" fill="#22b422" />
<line x1="22.5" y1="1" x2="22.5" y2="21" stroke="#6f8b9a" stroke-width="1" />
<line x1="23.5" y1="1" x2="23.5" y2="21" stroke="#c4dbe6" stroke-width="1" />
<rect x="27.5" y="6" width="2.6" height="5" fill="none" stroke="#555" stroke-width="1" rx="1.2" />
<rect x="31.2" y="6" width="2.6" height="5" fill="none" stroke="#555" stroke-width="1" rx="1.2" />
<rect x="27.5" y="13" width="2.6" height="5" fill="none" stroke="#555" stroke-width="1" rx="1.2" />
<rect x="31.2" y="13" width="2.6" height="5" fill="none" stroke="#555" stroke-width="1" rx="1.2" />
<line x1="38.5" y1="1" x2="38.5" y2="21" stroke="#6f8b9a" stroke-width="1" />
<line x1="39.5" y1="1" x2="39.5" y2="21" stroke="#c4dbe6" stroke-width="1" />
<text x="43" y="13.8" font-size="9.6" font-weight="bold" fill="#000" text-anchor="start" textLength="20.5" lengthAdjust="spacingAndGlyphs" >UKX</text>
<polyline points="68.2,9.1 71,11.9 73.8,9.1" fill="none" stroke="#222" stroke-width="1.4" />
<line x1="80.5" y1="1" x2="80.5" y2="21" stroke="#6f8b9a" stroke-width="1" />
<line x1="81.5" y1="1" x2="81.5" y2="21" stroke="#c4dbe6" stroke-width="1" />
<rect x="84.6" y="3.8" width="20" height="14.4" fill="url(#gbtn)" stroke="#7d99a8" stroke-width="1" rx="2.5" />
<text x="94.6" y="13.8" font-size="9.6" font-weight="bold" fill="#000" text-anchor="middle" textLength="14.5" lengthAdjust="spacingAndGlyphs" >12s</text>
<rect x="108" y="3.8" width="25.5" height="14.4" fill="url(#gbtn)" stroke="#7d99a8" stroke-width="1" rx="2.5" />
<text x="120.8" y="13.8" font-size="9.6" font-weight="bold" fill="#000" text-anchor="middle" textLength="19.5" lengthAdjust="spacingAndGlyphs" >144s</text>
<rect x="137.6" y="3.8" width="17.8" height="14.4" fill="url(#gbtn)" stroke="#7d99a8" stroke-width="1" rx="2.5" />
<text x="146.5" y="13.8" font-size="9.6" font-weight="bold" fill="#000" text-anchor="middle" textLength="12.5" lengthAdjust="spacingAndGlyphs" >1m</text>
<rect x="159.4" y="3.8" width="22.9" height="14.4" fill="url(#gbtn)" stroke="#7d99a8" stroke-width="1" rx="2.5" />
<text x="170.9" y="13.8" font-size="9.6" font-weight="bold" fill="#000" text-anchor="middle" textLength="17.5" lengthAdjust="spacingAndGlyphs" >12m</text>
<rect x="186.3" y="3.8" width="23" height="14.4" fill="url(#gbtn)" stroke="#7d99a8" stroke-width="1" rx="2.5" />
<text x="197.8" y="13.8" font-size="9.6" font-weight="bold" fill="#000" text-anchor="middle" textLength="18" lengthAdjust="spacingAndGlyphs" >56m</text>
<rect x="213.4" y="3.8" width="16.2" height="14.4" fill="url(#gbtn)" stroke="#7d99a8" stroke-width="1" rx="2.5" />
<text x="221.5" y="13.8" font-size="9.6" font-weight="bold" fill="#000" text-anchor="middle" textLength="10.5" lengthAdjust="spacingAndGlyphs" >1h</text>
<rect x="233.3" y="3.8" width="16.1" height="14.4" fill="url(#gbtn)" stroke="#7d99a8" stroke-width="1" rx="2.5" />
<text x="241.4" y="13.8" font-size="9.6" font-weight="bold" fill="#000" text-anchor="middle" textLength="10.5" lengthAdjust="spacingAndGlyphs" >4h</text>
<rect x="253.2" y="3.8" width="12.5" height="14.4" fill="url(#gbtn)" stroke="#7d99a8" stroke-width="1" rx="2.5" />
<text x="259.4" y="13.8" font-size="9.6" font-weight="bold" fill="#000" text-anchor="middle" textLength="6.5" lengthAdjust="spacingAndGlyphs" >D</text>
<rect x="269" y="3.8" width="14.9" height="14.4" fill="#8ea6b3" stroke="#74909e" stroke-width="1" rx="2.5" />
<text x="276.4" y="13.8" font-size="9.6" font-weight="bold" fill="#000" text-anchor="middle" textLength="9.5" lengthAdjust="spacingAndGlyphs" >W</text>
<rect x="287.4" y="3.8" width="12.1" height="14.4" fill="url(#gbtn)" stroke="#7d99a8" stroke-width="1" rx="2.5" />
<text x="293.4" y="13.8" font-size="9.6" font-weight="bold" fill="#000" text-anchor="middle" textLength="7.5" lengthAdjust="spacingAndGlyphs" >M</text>
<rect x="303.3" y="3.8" width="12.5" height="14.4" fill="url(#gbtn)" stroke="#7d99a8" stroke-width="1" rx="2.5" />
<text x="309.6" y="13.8" font-size="9.6" font-weight="bold" fill="#000" text-anchor="middle" textLength="7.5" lengthAdjust="spacingAndGlyphs" >Q</text>
<line x1="319.2" y1="1" x2="319.2" y2="21" stroke="#6f8b9a" stroke-width="1" />
<line x1="320.2" y1="1" x2="320.2" y2="21" stroke="#c4dbe6" stroke-width="1" />
<text x="325.2" y="13.8" font-size="9.6" font-weight="bold" fill="#000" text-anchor="start" textLength="41.5" lengthAdjust="spacingAndGlyphs" >1 semana</text>
<polyline points="371.9,9.6 374.7,12.4 377.5,9.6" fill="none" stroke="#222" stroke-width="1.4" />
<line x1="382" y1="1" x2="382" y2="21" stroke="#6f8b9a" stroke-width="1" />
<line x1="383" y1="1" x2="383" y2="21" stroke="#c4dbe6" stroke-width="1" />
<rect x="386.4" y="3.8" width="21.9" height="14.4" fill="url(#gbtn)" stroke="#7d99a8" stroke-width="1" rx="2.5" />
<text x="397.4" y="13.8" font-size="9.6" font-weight="bold" fill="#000" text-anchor="middle" textLength="16.5" lengthAdjust="spacingAndGlyphs" >5kU</text>
<rect x="412.3" y="3.8" width="26.9" height="14.4" fill="#8ea6b3" stroke="#74909e" stroke-width="1" rx="2.5" />
<text x="425.8" y="13.8" font-size="9.6" font-weight="bold" fill="#000" text-anchor="middle" textLength="21.5" lengthAdjust="spacingAndGlyphs" >10kU</text>
<rect x="443" y="3.8" width="27.6" height="14.4" fill="url(#gbtn)" stroke="#7d99a8" stroke-width="1" rx="2.5" />
<text x="456.8" y="13.8" font-size="9.6" font-weight="bold" fill="#000" text-anchor="middle" textLength="21.5" lengthAdjust="spacingAndGlyphs" >35kU</text>
<line x1="474" y1="1" x2="474" y2="21" stroke="#6f8b9a" stroke-width="1" />
<line x1="475" y1="1" x2="475" y2="21" stroke="#c4dbe6" stroke-width="1" />
<text x="480.5" y="13.8" font-size="9.6" font-weight="bold" fill="#000" text-anchor="start" textLength="62" lengthAdjust="spacingAndGlyphs" >10 k unidades</text>
<polyline points="548,9.6 550.8,12.4 553.6,9.6" fill="none" stroke="#222" stroke-width="1.4" />
<line x1="558.3" y1="1" x2="558.3" y2="21" stroke="#6f8b9a" stroke-width="1" />
<line x1="559.3" y1="1" x2="559.3" y2="21" stroke="#c4dbe6" stroke-width="1" />
<polyline points="565,9 568,5 571,6 574,11 577,12 580,8" fill="none" stroke="#1ea01e" stroke-width="1.2" />
<polyline points="565,6 568,8 571,11 574,10 577,6 580,10" fill="none" stroke="#d02828" stroke-width="1.2" />
<rect x="565" y="15" width="2.6" height="3" fill="#18b418" />
<rect x="568" y="16" width="2.6" height="2" fill="#d02828" />
<rect x="571" y="15" width="2.6" height="3" fill="#18b418" />
<rect x="574" y="15.5" width="2.6" height="2.5" fill="#d02828" />
<rect x="577" y="14" width="2.6" height="4" fill="#18b418" />
<rect x="564.5" y="17.6" width="15.5" height="1.4" fill="#18b418" />
<text x="585.3" y="13.8" font-size="9.6" font-weight="bold" fill="#000" text-anchor="start" textLength="53" lengthAdjust="spacingAndGlyphs" >Indicadores</text>
<line x1="643" y1="1" x2="643" y2="21" stroke="#6f8b9a" stroke-width="1" />
<line x1="644" y1="1" x2="644" y2="21" stroke="#c4dbe6" stroke-width="1" />
<polyline points="647,9.6 649.8,12.4 652.6,9.6" fill="none" stroke="#222" stroke-width="1.4" />
<line x1="656.7" y1="1" x2="656.7" y2="21" stroke="#6f8b9a" stroke-width="1" />
<line x1="657.7" y1="1" x2="657.7" y2="21" stroke="#c4dbe6" stroke-width="1" />
<rect x="665.5" y="6.5" width="8.7" height="9" fill="#f2f5f7" stroke="#c9d6dd" stroke-width="0.8" />
<rect x="669.3" y="10.2" width="1.6" height="4.3" fill="#a8b4bb" />
<rect x="669.3" y="8" width="1.6" height="1.5" fill="#a8b4bb" />
<circle cx="686.7" cy="11" r="3.9" fill="#8a8f92" stroke="#b8c4ca" stroke-width="1"/>
<rect x="695.8" y="4" width="37.7" height="14" fill="#ea4a4a" rx="2.5" />
<text x="714.6" y="13.8" font-size="9.6" font-weight="normal" fill="#fff" text-anchor="middle" textLength="30" lengthAdjust="spacingAndGlyphs" >-0,41 %</text>
<text x="738.5" y="13.8" font-size="9.6" font-weight="bold" fill="#000" text-anchor="start" textLength="52.3" lengthAdjust="spacingAndGlyphs" >13 mar 2026</text>
<rect x="795.2" y="4" width="90.2" height="14" fill="#bfdcb4" stroke="#a9cf9c" stroke-width="1" rx="3" />
<text x="840.3" y="13.8" font-size="9.6" font-weight="normal" fill="#000" text-anchor="middle" textLength="84" lengthAdjust="spacingAndGlyphs" >FTSE 100 Cash (1€)</text>
<line x1="1850.5" y1="1" x2="1850.5" y2="21" stroke="#6f8b9a" stroke-width="1" />
<line x1="1851.5" y1="1" x2="1851.5" y2="21" stroke="#c4dbe6" stroke-width="1" />
<path d="M1856.5 11.5 a4.2 4.2 0 0 1 6.5 -4.6" fill="none" stroke="#e04848" stroke-width="1.8"/>
<polygon points="1853.2,10.6 1859.8,10.6 1856.5,14.6" fill="#e04848" stroke="none" stroke-width="1" />
<path d="M1866 10.5 a4.2 4.2 0 0 1 -6.5 5.6" fill="none" stroke="#18a818" stroke-width="1.8"/>
<polygon points="1862.6,11.4 1869.4,11.4 1866,7.2" fill="#18a818" stroke="none" stroke-width="1" />
<line x1="1870.5" y1="1" x2="1870.5" y2="21" stroke="#6f8b9a" stroke-width="1" />
<line x1="1871.5" y1="1" x2="1871.5" y2="21" stroke="#c4dbe6" stroke-width="1" />
<line x1="1876" y1="14.5" x2="1884" y2="14.5" stroke="#6f8793" stroke-width="1.4" />
<rect x="1890.5" y="9.5" width="5.5" height="5" fill="none" stroke="#6f8793" stroke-width="1" />
<polyline points="1892.5,9.5 1892.5,7.5 1898,7.5 1898,12.5 1896,12.5" fill="none" stroke="#6f8793" stroke-width="1" />
<line x1="1904" y1="7" x2="1911.5" y2="15" stroke="#6f8793" stroke-width="1.5" />
<line x1="1911.5" y1="7" x2="1904" y2="15" stroke="#6f8793" stroke-width="1.5" />
<rect x="28" y="22.8" width="43.5" height="14.8" fill="#cfdee7" />
<rect x="30.2" y="24.6" width="10.3" height="10.6" fill="#ffffff" stroke="#b9c6cd" stroke-width="0.8" />
<polygon points="32.6,29.8 38.2,29.8 35.4,33.6" fill="#e02020" stroke="none" stroke-width="1" />
<rect x="34.4" y="26.2" width="2" height="4" fill="#e02020" />
<rect x="44.6" y="24.6" width="10.3" height="10.6" fill="#ffffff" stroke="#b9c6cd" stroke-width="0.8" />
<polygon points="47,30 52.6,30 49.8,26.2" fill="#18a818" stroke="none" stroke-width="1" />
<rect x="48.8" y="29.6" width="2" height="4" fill="#18a818" />
<circle cx="63.3" cy="29.8" r="5.2" fill="#4a6fa8"/>
<line x1="61.1" y1="27.6" x2="65.5" y2="32" stroke="#e8eef6" stroke-width="1.8" />
<line x1="65.5" y1="27.6" x2="61.1" y2="32" stroke="#e8eef6" stroke-width="1.8" />
<line x1="71.4" y1="22" x2="71.4" y2="37.6" stroke="#7f99a7" stroke-width="1" />
<rect x="71.9" y="22.8" width="46.5" height="14.8" fill="#cfdee7" />
<line x1="118.4" y1="22" x2="118.4" y2="37.6" stroke="#7f99a7" stroke-width="1" />
<rect x="75.2" y="26" width="7.5" height="7.5" fill="#eef2f4" stroke="#8c9aa2" stroke-width="0.9" />
<text x="87.7" y="33" font-size="9.6" font-weight="bold" fill="#000" text-anchor="start" textLength="27.6" lengthAdjust="spacingAndGlyphs" >Precio</text>
<rect x="118.9" y="22.8" width="16.8" height="14.8" fill="#cfdee7" />
<line x1="135.7" y1="22" x2="135.7" y2="37.6" stroke="#7f99a7" stroke-width="1" />
<rect x="122.4" y="26.4" width="1.3" height="1.3" fill="#111" />
<line x1="124.6" y1="27" x2="131" y2="27" stroke="#111" stroke-width="1.3" />
<rect x="122.4" y="29.1" width="1.3" height="1.3" fill="#111" />
<line x1="124.6" y1="29.7" x2="131" y2="29.7" stroke="#111" stroke-width="1.3" />
<rect x="122.4" y="31.8" width="1.3" height="1.3" fill="#111" />
<line x1="124.6" y1="32.4" x2="131" y2="32.4" stroke="#111" stroke-width="1.3" />
<rect x="136.2" y="22.8" width="63" height="14.8" fill="#cfdee7" />
<line x1="199.2" y1="22" x2="199.2" y2="37.6" stroke="#7f99a7" stroke-width="1" />
<rect x="139.3" y="26" width="7.5" height="7.5" fill="#eef2f4" stroke="#8c9aa2" stroke-width="0.9" />
<text x="151" y="33" font-size="9.6" font-weight="bold" fill="#000" text-anchor="start" textLength="45.1" lengthAdjust="spacingAndGlyphs" >Cierre (W)</text>
<rect x="199.7" y="22.8" width="136.8" height="14.8" fill="#cfdee7" />
<line x1="336.5" y1="22" x2="336.5" y2="37.6" stroke="#7f99a7" stroke-width="1" />
<rect x="203" y="26" width="7.5" height="7.5" fill="#78909c" />
<text x="214.9" y="33" font-size="9.6" font-weight="bold" fill="#000" text-anchor="start" textLength="119.1" lengthAdjust="spacingAndGlyphs" >Tunel Domenec v4 (t t t t t)</text>
<rect x="337" y="22.8" width="114.5" height="14.8" fill="#cfdee7" />
<line x1="451.5" y1="22" x2="451.5" y2="37.6" stroke="#7f99a7" stroke-width="1" />
<line x1="340.5" y1="25.8" x2="340.5" y2="33.8" stroke="#e01010" stroke-width="1" />
<line x1="341.6" y1="25.8" x2="341.6" y2="33.8" stroke="#111" stroke-width="1" />
<line x1="342.8" y1="25.8" x2="342.8" y2="33.8" stroke="#10b010" stroke-width="1" />
<line x1="343.9" y1="25.8" x2="343.9" y2="33.8" stroke="#111" stroke-width="1" />
<line x1="345.1" y1="25.8" x2="345.1" y2="33.8" stroke="#1010e0" stroke-width="1" />
<line x1="346.2" y1="25.8" x2="346.2" y2="33.8" stroke="#10b010" stroke-width="1" />
<line x1="347.4" y1="25.8" x2="347.4" y2="33.8" stroke="#e01010" stroke-width="1" />
<text x="352.2" y="33" font-size="9.6" font-weight="bold" fill="#000" text-anchor="start" textLength="96.4" lengthAdjust="spacingAndGlyphs" >Control Total Doc v.6</text>
<rect x="452" y="22.8" width="140.5" height="14.8" fill="#cfdee7" />
<line x1="592.5" y1="22" x2="592.5" y2="37.6" stroke="#7f99a7" stroke-width="1" />
<rect x="454.9" y="26" width="7.8" height="7.8" fill="#000" />
<text x="467.4" y="33" font-size="9.6" font-weight="bold" fill="#000" text-anchor="start" textLength="122.2" lengthAdjust="spacingAndGlyphs" >Multi Avisos (3 f 3 1,5 70 f f)</text>
<rect x="593" y="22.8" width="195.7" height="14.8" fill="#cfdee7" />
<line x1="788.7" y1="22" x2="788.7" y2="37.6" stroke="#7f99a7" stroke-width="1" />
<rect x="596.3" y="26" width="7.5" height="7.5" fill="#eef2f4" stroke="#8c9aa2" stroke-width="0.9" />
<text x="608.4" y="33" font-size="9.6" font-weight="bold" fill="#000" text-anchor="start" textLength="177.4" lengthAdjust="spacingAndGlyphs" >DS_CotasHist (1 t t t 3 1 1 f f f f t f f f ...)</text>
<line x1="28" y1="37.8" x2="788.7" y2="37.8" stroke="#7f99a7" stroke-width="1" />
</svg></body></html>
